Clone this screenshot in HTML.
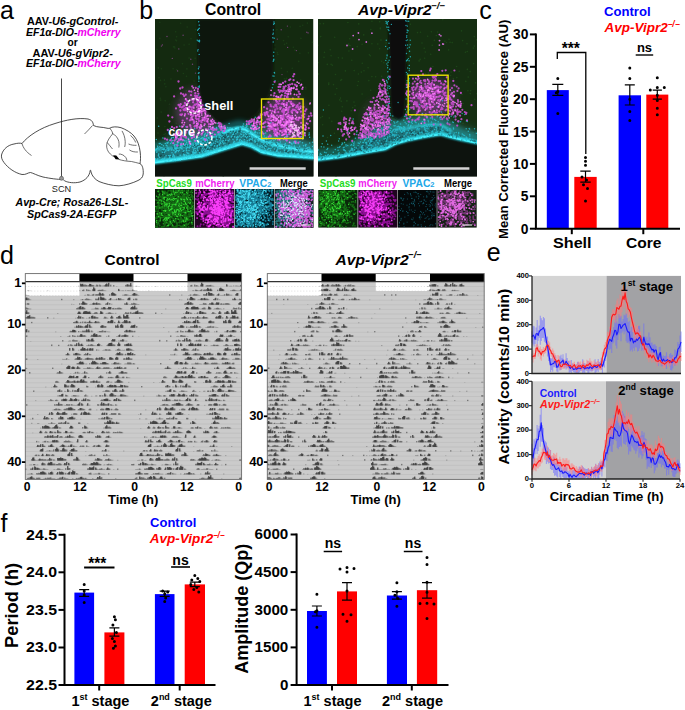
<!DOCTYPE html>
<html><head><meta charset="utf-8"><style>
html,body{margin:0;padding:0;background:#fff;width:685px;height:710px;overflow:hidden}
svg{display:block}
text{font-family:"Liberation Sans", sans-serif}
</style></head><body>
<svg width="685" height="710" viewBox="0 0 685 710">
<text x="0" y="19" font-size="25" font-weight="normal">a</text>
<text x="139.2" y="19" font-size="25" font-weight="normal">b</text>
<text x="479.3" y="19" font-size="25" font-weight="normal">c</text>
<text x="0" y="264.3" font-size="25" font-weight="normal">d</text>
<text x="486.7" y="260.5" font-size="25" font-weight="normal">e</text>
<text x="0.6" y="532" font-size="25" font-weight="normal">f</text>
<text x="26.9" y="24.8" font-size="10.4" font-weight="bold" textLength="91.4" lengthAdjust="spacingAndGlyphs"><tspan>AAV-</tspan><tspan font-style="italic">U6-gControl-</tspan></text>
<text x="26" y="36" font-size="10.4" font-weight="bold" textLength="94.6" lengthAdjust="spacingAndGlyphs"><tspan font-style="italic">EF1α-DIO-</tspan><tspan font-style="italic" fill="#f000f0">mCherry</tspan></text>
<text x="67.6" y="45.7" font-size="10.4" font-weight="bold" textLength="10.2" lengthAdjust="spacingAndGlyphs"><tspan>or</tspan></text>
<text x="32.5" y="56.6" font-size="10.4" font-weight="bold" textLength="80.3" lengthAdjust="spacingAndGlyphs"><tspan>AAV-</tspan><tspan font-style="italic">U6-gVipr2-</tspan></text>
<text x="26" y="67" font-size="10.4" font-weight="bold" textLength="94.6" lengthAdjust="spacingAndGlyphs"><tspan font-style="italic">EF1α-DIO-</tspan><tspan font-style="italic" fill="#f000f0">mCherry</tspan></text>
<text x="15.5" y="206.4" font-size="10.4" font-weight="bold" textLength="112.8" lengthAdjust="spacingAndGlyphs"><tspan font-style="italic">Avp-Cre; Rosa26-LSL-</tspan></text>
<text x="27" y="217.6" font-size="10.4" font-weight="bold" textLength="89.3" lengthAdjust="spacingAndGlyphs"><tspan font-style="italic">SpCas9-2A-EGFP</tspan></text>
<line x1="61.5" y1="78.5" x2="61.5" y2="178" stroke="#333" stroke-width="0.9"/>
<path d="M1.5,155 C3,149 8,145 14,144 C18,143 20,143 22,143.5 C28,136 40,128 55,123.5 C66,120 78,117.5 88,119 C92,120 93,122 93.5,125.5 C97,127.5 103,127 106,128 C107.5,128.5 109,128.5 109.8,128.2 C112,126.5 117,126.5 121,127.7 C126,129.5 131,132.5 134,136 C137.5,140 139.5,146 140.2,152 C140.8,157 140.5,161 140,163.6 C142.5,165 143.5,169 143.2,174 C142.8,177.5 141,179 138,180.5 C133,183 125,185.5 119,185.8 C112,185.8 104,183.5 99,181.5 C95,179.5 92,176 91,172 C90.8,170.5 90.5,169.5 90.2,170.5 C89.5,176 86,180 80,182 C74,183.5 68,182.5 65,181 C64,180.5 63.5,179.5 62.5,179.5 C58,179.5 50,178.5 43,177 C37,175.5 33,173 30.5,172.5 C28,172.5 26,175 22,174.5 C15,173 8,168 4,162.5 C2,160 1.2,157.5 1.5,155 Z" fill="none" stroke="#222" stroke-width="0.8"/>
<path d="M22,143.5 C23,147.5 26,152 31.5,155.5" fill="none" stroke="#333" stroke-width="0.7"/>
<path d="M92.5,125.5 C90,128.5 87,131.5 84.5,134" fill="none" stroke="#333" stroke-width="0.7"/>
<path d="M109.8,128.2 C112,131 113,133 112.5,134 C110,137 107,141 106.7,144.6 C106.3,148 107.5,151.5 110.4,154.1 C112,155.5 113,156.3 114.1,156.8" fill="none" stroke="#333" stroke-width="0.7"/>
<path d="M118.8,159.4 C122,160.5 127,161.3 131.5,161.5 C134.5,162 137,163 140,163.6" fill="none" stroke="#333" stroke-width="0.7"/>
<path d="M112.5,133.5 C115.5,135 118,138 118.8,141.4 C119.3,144 119,146 118.8,147.5" fill="none" stroke="#333" stroke-width="0.7"/>
<path d="M122,130.9 C123.5,133.5 125,137 125.2,141.4 C125.3,144 125,146 124.6,147" fill="none" stroke="#333" stroke-width="0.7"/>
<path d="M130.5,135.5 C132.5,137 134.5,139.5 135.7,142.5" fill="none" stroke="#333" stroke-width="0.7"/>
<path d="M129.4,149.9 C131.5,151.5 134.5,152.2 137.9,152" fill="none" stroke="#333" stroke-width="0.7"/>
<path d="M107.2,142.5 C108.5,144 110.5,146.5 112.5,149" fill="none" stroke="#333" stroke-width="0.7"/>
<path d="M118.8,154.1 C121,153.8 124,155 125.8,157.5 C126.5,158.6 126.8,159.6 126.8,160.5" fill="none" stroke="#333" stroke-width="0.7"/>
<path d="M128.5,144 C131,145 133.5,145.5 136.5,145.3" fill="none" stroke="#333" stroke-width="0.7"/>
<path d="M113,155.2 L116.3,155.6 L119.6,159.6 L115.6,159.3 Z" fill="#000"/>
<circle cx="61.5" cy="178.3" r="2" fill="#999" stroke="#555" stroke-width="0.6"/>
<text x="51.8" y="192" font-size="8.6" font-weight="normal" fill="#222" textLength="19.4" lengthAdjust="spacingAndGlyphs">SCN</text>
<text x="205" y="15" font-size="16" font-weight="bold" textLength="56.2" lengthAdjust="spacingAndGlyphs">Control</text>
<text x="358" y="14.8" font-size="15" font-weight="bold" font-style="italic" textLength="73.6" lengthAdjust="spacingAndGlyphs">Avp-Vipr2</text>
<text x="431.3" y="8.8" font-size="9.3" font-weight="bold" font-style="italic" textLength="13.7" lengthAdjust="spacingAndGlyphs">−/−</text>
<defs>
<filter id="bl1" x="-50%" y="-50%" width="200%" height="200%"><feGaussianBlur stdDeviation="1.2"/></filter>
<filter id="bl2" x="-50%" y="-50%" width="200%" height="200%"><feGaussianBlur stdDeviation="2.5"/></filter>
<filter id="bl4" x="-50%" y="-50%" width="200%" height="200%"><feGaussianBlur stdDeviation="5"/></filter>
<clipPath id="cpA"><rect x="155" y="19" width="158.5" height="157.6"/></clipPath>
<clipPath id="cpB"><rect x="318" y="19" width="159" height="157.6"/></clipPath>
</defs>
<g clip-path="url(#cpA)">
<rect x="155" y="19" width="158.5" height="157.6" fill="#142a10"/>
<path d="M254.1 160.4h0M277.9 54.5h0M202.6 156.7h0M155.8 148.4h0M281.3 92.7h0M203.0 62.9h0M195.4 89.1h0M235.0 106.2h0M312.8 143.9h0M253.6 174.9h0M189.1 44.2h0M252.1 25.9h0M160.7 100.1h0M228.9 163.5h0M254.7 100.0h0M233.8 58.0h0M156.9 49.3h0M264.7 50.6h0M213.6 19.6h0M286.6 43.3h0M197.4 157.7h0M235.8 152.5h0M256.4 135.9h0M169.5 104.3h0M235.5 156.3h0M212.3 113.3h0M164.4 80.1h0M206.2 42.7h0M284.4 78.8h0M310.1 112.0h0M250.9 119.5h0M262.2 42.8h0M224.8 56.8h0M218.8 34.2h0M308.4 52.9h0M261.5 66.3h0M293.5 123.4h0M175.9 152.2h0M304.8 161.5h0M245.3 41.9h0M185.5 165.2h0M242.5 47.5h0M295.1 120.1h0M245.3 78.3h0M220.1 56.7h0M161.0 157.1h0M229.1 105.3h0M206.1 137.4h0M159.0 77.7h0M159.8 38.4h0M308.3 122.7h0M222.9 101.5h0M293.3 73.2h0M248.6 126.7h0M211.3 100.8h0M276.3 162.3h0M178.9 166.1h0M155.8 137.7h0M283.5 40.6h0M221.4 147.5h0M157.3 118.0h0M280.7 99.8h0M270.0 54.7h0M186.5 76.2h0M183.4 73.5h0M305.3 109.4h0M208.9 61.8h0M305.9 89.0h0M310.4 100.2h0M237.6 160.3h0M272.7 110.5h0M222.6 157.4h0M220.2 164.4h0M165.9 86.8h0M237.3 168.9h0M194.8 146.0h0M262.2 132.0h0M254.8 172.1h0M207.7 81.8h0M187.2 27.0h0M188.7 163.3h0M288.2 36.7h0M250.7 94.5h0M249.3 122.9h0M203.6 170.5h0M228.8 118.0h0M255.7 48.0h0M164.8 83.9h0M276.1 147.5h0M270.7 36.8h0M299.8 145.4h0M294.1 101.5h0M300.1 26.4h0M159.8 22.2h0M195.1 58.2h0M184.7 108.4h0M161.2 112.0h0M181.3 125.8h0M158.3 67.9h0M303.7 103.9h0M283.6 122.7h0M251.8 49.1h0M246.0 25.3h0M282.1 170.3h0M290.4 27.0h0M208.7 69.1h0M172.9 117.8h0M281.4 68.4h0M291.8 144.6h0M175.5 139.9h0M294.9 50.1h0M245.9 119.7h0M251.6 34.2h0M259.8 118.6h0M285.6 145.6h0M206.9 132.8h0M292.5 159.7h0M180.6 23.2h0M258.2 52.8h0M244.3 167.9h0M215.1 58.8h0M227.4 122.6h0M171.0 79.0h0M176.2 123.4h0M286.6 78.4h0M213.9 104.0h0M189.1 58.0h0M207.3 91.1h0M167.9 137.6h0M246.8 66.2h0M167.3 139.3h0M175.8 40.0h0M175.7 31.8h0M298.7 61.4h0M203.6 150.2h0M253.3 48.5h0M223.9 158.3h0M214.5 131.0h0M170.3 133.6h0M278.1 149.1h0M261.9 77.4h0M165.2 100.8h0M275.1 49.1h0M197.2 103.5h0M273.6 160.3h0M174.9 48.0h0M281.7 120.6h0M269.3 176.1h0M303.9 151.9h0M278.2 81.3h0M256.6 48.1h0M275.4 138.4h0M269.3 89.1h0M214.9 85.2h0M160.3 152.1h0M241.0 80.1h0M241.9 132.7h0M215.5 149.9h0M300.7 80.1h0M176.8 138.8h0M312.4 42.3h0M268.0 149.1h0M300.9 38.4h0M169.6 174.7h0M173.5 46.9h0M246.1 89.3h0M273.9 49.0h0M299.9 53.2h0M276.9 29.7h0M230.0 24.1h0M204.7 68.2h0M269.1 90.7h0M164.0 175.9h0M295.9 163.4h0M194.1 81.1h0M191.0 38.7h0M160.2 98.3h0M174.5 46.8h0M291.4 95.3h0M184.1 124.6h0M197.1 102.0h0M199.8 100.3h0M254.6 103.5h0M217.7 143.6h0M293.4 47.3h0M176.6 36.8h0M310.3 167.4h0M191.6 171.9h0M187.9 98.8h0M233.8 163.2h0M161.4 68.7h0M250.1 29.5h0M192.5 92.3h0M294.6 138.9h0M286.4 138.9h0M267.2 152.9h0M263.0 134.9h0M202.8 45.4h0M274.9 45.1h0M300.7 113.0h0M207.2 166.6h0M179.6 100.1h0M169.5 171.2h0M246.2 145.7h0M199.7 145.4h0M266.4 120.4h0M305.7 87.3h0M220.8 128.1h0M287.4 71.8h0M261.1 51.9h0M242.4 140.2h0M165.4 133.7h0M157.4 170.0h0M229.3 83.5h0M269.2 101.5h0M270.8 32.4h0M244.2 107.0h0M302.7 25.2h0M226.8 118.5h0M242.3 30.7h0M249.0 54.0h0M186.0 157.5h0M186.4 90.6h0M273.9 130.5h0M242.7 146.2h0M228.8 116.8h0M284.8 125.9h0M256.7 83.0h0M243.5 81.4h0M273.0 79.0h0M229.0 138.1h0M234.8 72.3h0M286.1 79.0h0M288.9 142.8h0M225.9 131.4h0M160.5 80.4h0M291.4 110.3h0M243.4 123.8h0M262.4 111.0h0M221.7 47.9h0M201.4 65.2h0M223.3 176.5h0M210.9 89.5h0M213.9 110.6h0M305.2 159.1h0M214.8 61.1h0M295.2 96.8h0M263.7 30.6h0M292.3 68.3h0M233.4 50.2h0M221.6 149.5h0M286.2 93.7h0M276.7 91.2h0M214.2 105.0h0M186.9 68.9h0M267.0 140.4h0M164.0 134.5h0M284.6 89.2h0M164.9 126.6h0M194.0 120.4h0M214.7 119.4h0M195.9 94.1h0M238.2 118.4h0M187.2 170.6h0M200.8 67.2h0M195.6 29.6h0M222.0 140.6h0M267.5 49.8h0M176.7 69.7h0M276.8 95.9h0M301.3 122.4h0M253.4 140.0h0M273.9 73.2h0M195.7 88.0h0M232.5 41.3h0M225.0 119.8h0M176.5 40.8h0M182.5 63.7h0M307.4 23.1h0M184.1 45.0h0M230.2 21.4h0M227.6 44.7h0M197.7 143.9h0M184.2 116.3h0M219.4 84.8h0M284.5 44.4h0M301.4 159.8h0M260.9 26.8h0M260.1 113.6h0M277.4 52.7h0M306.1 158.7h0M173.1 68.7h0M160.1 150.0h0M300.0 175.0h0M252.0 124.0h0M262.5 108.9h0M306.0 114.8h0M208.2 99.8h0M158.0 133.1h0M265.0 85.4h0" stroke="#1e4619" stroke-width="1.6" stroke-linecap="round" stroke-opacity="0.7"/>
<g filter="url(#bl4)">
<path d="M160,150 C170,135 185,128 200,130 C215,128 228,122 237,125 C250,124 262,130 275,132 C290,136 305,140 315,142 L315,160 L160,166 Z" fill="#2f6a66" opacity="0.9"/>
<ellipse cx="196" cy="112" rx="20" ry="22" fill="#5a3a60" opacity="0.9"/>
<ellipse cx="285" cy="118" rx="22" ry="22" fill="#6a3a70" opacity="0.9"/>
</g>
<path d="M197.8,19.0 L198.3,70.0 L198.6,90.0 L201.1,100.5 L206.6,111.6 L215.0,120.0 L224.7,125.5 L234.4,128.3 L241.3,125.5 L248.3,120.0 L256.6,114.4 L263.5,104.7 L269.0,95.0 L271.8,84.0 L273.2,70.0 L274.0,19.0 Z" fill="#0b120b" filter="url(#bl1)"/>
<path d="M199.1 78.7h0M199.5 25.1h0M198.8 33.6h0M199.2 54.4h0M199.1 41.0h0M199.1 72.8h0M197.7 50.9h0M198.8 81.2h0M197.6 30.3h0M198.4 73.2h0M197.2 40.1h0M199.4 40.2h0M198.4 29.2h0M199.3 28.3h0M198.7 21.8h0M199.3 85.9h0M199.6 40.7h0M199.0 67.0h0M198.4 68.7h0M199.4 87.1h0M198.7 78.9h0M198.9 77.5h0M198.8 76.3h0M198.1 49.6h0M198.7 95.1h0M199.5 35.2h0M198.2 41.0h0M198.3 86.9h0M199.5 41.8h0M199.1 25.1h0M274.2 38.2h0M274.3 23.5h0M272.9 34.2h0M273.0 84.5h0M273.7 59.6h0M273.6 24.3h0M274.1 76.1h0M273.2 61.2h0M275.1 80.6h0M273.5 56.0h0M274.6 73.0h0M272.8 37.8h0M273.8 52.3h0M272.3 87.8h0M274.0 22.0h0M273.4 29.9h0M273.9 59.3h0M273.8 60.1h0M273.2 42.0h0M274.3 72.4h0M273.0 76.0h0M273.3 33.1h0" stroke="#22c8d8" stroke-width="1.4" stroke-linecap="round" stroke-opacity="0.85"/>
<path d="M150.0,164.0 L178.0,160.5 L202.0,157.0 L225.0,149.8 L242.0,144.6 L251.3,147.2 L261.8,153.1 L277.6,156.4 L297.3,157.7 L318.0,159.2 L318.0,180.0 L150.0,180.0 Z" fill="#0d130e"/>
<path d="M150.0,149.0 L180.0,146.0 L202.0,140.0 L215.0,135.0 L225.0,130.5 L238.0,126.5 L245.0,127.5 L258.0,136.0 L271.0,142.0 L291.0,146.5 L318.0,151.0 L318.0,159.2 L297.3,157.7 L277.6,156.4 L261.8,153.1 L251.3,147.2 L242.0,144.6 L225.0,149.8 L202.0,157.0 L178.0,160.5 L150.0,164.0 Z" fill="#1a8090" opacity="0.6" filter="url(#bl1)"/>
<path d="M150.0,149.0 L180.0,146.0 L202.0,140.0 L215.0,135.0 L225.0,130.5 L238.0,126.5 L245.0,127.5 L258.0,136.0 L271.0,142.0 L291.0,146.5 L318.0,151.0" fill="none" stroke="#1ab0c0" stroke-width="6" stroke-linejoin="round" opacity="0.5" filter="url(#bl2)" transform="translate(0,-3)"/>
<path d="M150.0,149.0 L180.0,146.0 L202.0,140.0 L215.0,135.0 L225.0,130.5 L238.0,126.5 L245.0,127.5 L258.0,136.0 L271.0,142.0 L291.0,146.5 L318.0,151.0" fill="none" stroke="#30e0f0" stroke-width="1.8" stroke-linejoin="round" opacity="0.8" filter="url(#bl1)" transform="translate(0,1.5)"/>
<path d="M222.0,133.5 L230.0,129.8 L238.0,128.0 L245.0,129.5 L258.0,138.0 L271.0,144.0 L291.0,148.5 L318.0,153.0" fill="none" stroke="#38ecfc" stroke-width="2.6" stroke-linejoin="round" filter="url(#bl1)"/>
<path d="M222.0,133.5 L230.0,129.8 L238.0,128.0 L245.0,129.5 L258.0,138.0 L271.0,144.0 L291.0,148.5 L318.0,153.0" fill="none" stroke="#50f4ff" stroke-width="1.2" stroke-linejoin="round"/>
<path d="M247.9 144.9h0M177.9 149.7h0M217.7 136.6h0M212.5 146.8h0M265.4 147.5h0M168.0 157.2h0M223.5 131.8h0M235.3 132.7h0M209.9 148.5h0M205.6 154.8h0M202.2 154.1h0M223.6 149.1h0M269.7 144.3h0M304.3 149.4h0M227.1 147.6h0M273.9 151.9h0M229.2 143.3h0M214.9 142.7h0M276.7 147.7h0M204.3 150.4h0M199.8 150.4h0M247.1 136.0h0M208.5 149.4h0M249.1 132.3h0M155.2 161.3h0M223.1 134.2h0M300.8 150.3h0M176.2 160.4h0M206.4 139.0h0M164.5 156.3h0M263.6 147.0h0M193.7 148.4h0M310.0 157.1h0M257.6 146.0h0M152.5 159.9h0M217.6 138.2h0M224.4 134.0h0M269.7 145.3h0M234.7 142.8h0M246.8 134.4h0M240.6 128.6h0M214.1 145.4h0M199.7 151.1h0M198.7 156.6h0M198.3 153.5h0M206.1 149.1h0M285.6 146.8h0M213.7 139.6h0M254.5 146.0h0M183.7 146.0h0M171.5 156.5h0M248.0 142.3h0M222.1 134.2h0M217.1 143.9h0M249.5 138.4h0M168.3 156.9h0M285.2 147.6h0M173.1 146.8h0M255.8 142.6h0M235.8 130.8h0M316.6 153.5h0M221.2 142.1h0M228.7 143.9h0M203.1 152.6h0M201.2 149.1h0M205.2 147.9h0M296.1 151.0h0M199.4 155.7h0M276.0 143.3h0M199.9 147.1h0M159.9 148.7h0M296.7 148.3h0M299.2 156.0h0M287.4 147.1h0M260.0 137.4h0M297.9 148.9h0M214.6 148.3h0M206.8 141.8h0M268.6 144.2h0M171.4 157.6h0M252.4 145.6h0M164.6 156.0h0M171.5 159.7h0M230.6 131.2h0M233.8 135.8h0M218.5 150.5h0M303.8 156.5h0M194.0 147.3h0M164.1 153.2h0M312.6 153.3h0M211.1 138.8h0M171.3 160.8h0M299.5 148.9h0M234.0 128.4h0M260.4 149.6h0M239.6 128.4h0M218.9 147.0h0M162.7 153.0h0M227.3 146.1h0M265.5 141.2h0M270.1 144.0h0M219.4 140.2h0M232.9 137.0h0M224.0 137.5h0M207.8 149.7h0M243.2 143.1h0M204.8 153.1h0M194.4 145.6h0M160.3 156.2h0M285.9 151.5h0M204.0 151.2h0M164.1 151.3h0M225.1 134.9h0M271.9 143.9h0M267.1 140.7h0M204.1 144.8h0M214.5 151.9h0M208.0 149.3h0M227.2 147.6h0M162.4 151.1h0M167.7 149.8h0M171.3 159.9h0M233.1 130.9h0M173.6 148.2h0M222.7 137.3h0M288.0 154.5h0M315.3 154.3h0M212.2 149.9h0M267.1 143.1h0M260.8 151.7h0M228.0 133.6h0M227.7 135.3h0M308.8 158.0h0M288.3 153.8h0M275.5 152.7h0M263.0 145.9h0M206.8 138.8h0M211.9 142.3h0M293.1 152.1h0M186.6 145.5h0M224.1 139.8h0M235.0 133.8h0M293.4 150.8h0M221.9 133.9h0M208.7 141.8h0M316.4 153.5h0M174.6 147.3h0M259.6 143.8h0M152.0 153.3h0M193.1 155.8h0M232.1 146.6h0M316.3 156.4h0M311.2 154.4h0M293.3 152.7h0M203.0 141.2h0M224.0 137.5h0M200.0 156.6h0M208.6 139.8h0M293.0 149.9h0M217.4 150.4h0M265.5 143.4h0M239.9 129.5h0M219.7 138.6h0M285.7 146.5h0M223.7 136.5h0M241.1 134.8h0M294.2 157.4h0M227.5 136.4h0M230.8 139.1h0M214.5 143.9h0M312.5 153.9h0M204.3 153.6h0M255.7 147.5h0M277.8 145.7h0M213.7 138.9h0M225.4 137.3h0M214.6 139.0h0M213.3 149.7h0M233.6 133.9h0M283.6 145.7h0M286.3 151.6h0M195.0 143.8h0M178.9 146.7h0M207.8 151.1h0M191.4 153.0h0M273.4 153.6h0M161.5 162.0h0M246.9 136.7h0M222.9 145.9h0M237.0 135.8h0M240.3 139.9h0M159.0 160.3h0M220.2 140.5h0M178.1 151.3h0M281.4 155.0h0M188.6 145.8h0M268.1 141.0h0M220.0 150.9h0M175.8 158.0h0M183.0 152.9h0M177.2 159.6h0M183.8 153.9h0M165.6 148.5h0M233.8 144.5h0M233.5 144.8h0M226.4 141.7h0M184.5 146.2h0M212.7 145.3h0M225.9 142.1h0M261.2 148.6h0M218.8 148.9h0M165.3 159.9h0M301.9 157.5h0M162.8 160.2h0M265.5 140.4h0M291.4 156.4h0M306.1 149.7h0M164.5 159.0h0M245.2 138.1h0M199.6 157.3h0M166.1 161.3h0M214.5 135.5h0M210.5 152.5h0M232.4 137.0h0M207.4 148.2h0M196.8 146.1h0M300.2 154.1h0M205.9 143.9h0M285.3 155.8h0M257.5 138.9h0M240.2 130.7h0M156.3 161.9h0M239.3 131.2h0M240.4 128.4h0M288.2 152.5h0M209.6 141.9h0M168.2 155.2h0M221.7 147.8h0M276.6 144.1h0M250.2 142.4h0M194.9 146.0h0M191.2 155.0h0M287.0 150.1h0M304.0 150.6h0M251.2 141.1h0M302.0 157.5h0M161.1 155.4h0M199.8 144.0h0M198.9 144.8h0M200.9 147.3h0M275.3 150.3h0M177.9 155.2h0M201.3 148.5h0M233.5 132.0h0M276.7 154.3h0M211.7 143.2h0M298.8 150.3h0M250.6 145.5h0M187.0 158.5h0M188.9 145.0h0" stroke="#0a2a30" stroke-width="1.6" stroke-linecap="round" stroke-opacity="0.55"/>
<path d="M150.0,164.0 L178.0,160.5 L202.0,157.0 L225.0,149.8 L242.0,144.6 L251.3,147.2 L261.8,153.1 L277.6,156.4 L297.3,157.7 L318.0,159.2" fill="none" stroke="#30e8f8" stroke-width="4" stroke-linejoin="round" filter="url(#bl1)" transform="translate(0,-1.5)"/>
<path d="M150.0,164.0 L178.0,160.5 L202.0,157.0 L225.0,149.8 L242.0,144.6 L251.3,147.2 L261.8,153.1 L277.6,156.4 L297.3,157.7 L318.0,159.2" fill="none" stroke="#48f4ff" stroke-width="1.6" stroke-linejoin="round" transform="translate(0,-0.9)"/>
<path d="M169.7 140.2h0M279.5 153.3h0M255.9 147.5h0M281.8 145.6h0M215.8 141.3h0M180.1 137.8h0M176.2 144.7h0M313.5 149.0h0M204.8 134.4h0M188.4 141.1h0M188.2 138.6h0M206.4 148.7h0M262.0 120.0h0M204.8 155.1h0M222.9 131.8h0M173.3 154.2h0M257.7 139.0h0M168.8 149.8h0M251.4 146.2h0M173.4 160.3h0M197.9 142.9h0M173.2 154.7h0M258.7 140.3h0M273.0 144.4h0M213.9 149.2h0M188.0 147.3h0M247.3 140.8h0M161.5 159.7h0M270.4 138.3h0M200.9 142.1h0M172.0 152.7h0M289.3 133.9h0M278.8 146.3h0M175.1 160.8h0M208.3 154.9h0M235.1 143.4h0M246.9 132.0h0M239.4 143.8h0M207.5 153.6h0M234.0 141.2h0M229.7 145.1h0M260.2 150.4h0M159.0 156.8h0M225.6 128.7h0M236.0 143.7h0M265.7 132.9h0M196.3 152.1h0M297.4 154.2h0M259.8 133.1h0M287.2 154.7h0M246.4 127.2h0M307.7 147.7h0M210.0 153.7h0M274.7 143.5h0M212.7 137.6h0M170.3 128.5h0M266.7 137.5h0M288.6 145.8h0M298.3 153.5h0M246.2 134.2h0M199.5 152.7h0M193.5 149.8h0M170.7 143.6h0M299.1 157.2h0M290.2 153.8h0M231.5 130.4h0M190.8 136.3h0M194.4 148.5h0M156.3 149.3h0M249.6 144.1h0M261.2 151.5h0M233.2 145.4h0M305.0 151.1h0M297.3 155.2h0M311.2 156.7h0M185.2 158.4h0M276.5 151.5h0M215.9 151.4h0M168.1 142.2h0M291.1 143.2h0M266.8 143.4h0M158.7 126.2h0M168.3 160.9h0M252.3 138.6h0M156.5 161.1h0M279.1 148.8h0M192.3 137.3h0M263.4 142.3h0M208.5 137.7h0M164.9 157.0h0M201.3 145.9h0M171.5 142.0h0M272.6 153.2h0M207.2 142.0h0M192.5 147.6h0M254.6 148.7h0M220.9 143.0h0M276.0 130.4h0M302.4 152.9h0M239.5 139.9h0M287.8 151.3h0M161.9 147.6h0M216.8 136.8h0M183.9 150.5h0M202.0 138.0h0M202.0 144.0h0M291.8 148.5h0M273.9 140.7h0M185.9 126.7h0M211.3 154.0h0M303.4 156.4h0M202.0 151.3h0M265.7 141.8h0M220.3 140.1h0M280.3 142.1h0M290.4 148.5h0M213.4 153.3h0M245.1 136.7h0M197.4 147.8h0M262.8 146.7h0M230.0 127.7h0M239.0 142.8h0M180.6 145.4h0M159.8 146.8h0M218.2 131.8h0M283.2 155.7h0M194.9 152.4h0M301.6 149.7h0M211.5 154.0h0M232.9 130.4h0M217.6 151.9h0M255.8 132.5h0M284.1 155.4h0M195.7 143.6h0M305.4 145.1h0M291.7 153.8h0M284.9 144.6h0M298.9 149.1h0M225.6 140.2h0M189.3 147.9h0M196.7 156.3h0M312.4 154.4h0M275.3 133.8h0M172.9 160.6h0M255.0 140.1h0M267.1 126.6h0M186.1 141.0h0M287.6 134.7h0M194.2 134.9h0M248.2 122.5h0M294.5 147.3h0M309.0 150.5h0M191.4 157.5h0M197.1 148.8h0M189.9 134.1h0M313.5 138.9h0M244.0 142.9h0M236.6 139.9h0M244.6 132.6h0M261.9 133.5h0M306.6 154.5h0M306.0 144.5h0M228.8 140.8h0M220.4 138.3h0M192.2 137.1h0M237.4 139.6h0M252.6 133.2h0M257.2 143.9h0M158.1 147.7h0M207.6 135.1h0M226.1 130.7h0M230.4 146.7h0M160.2 143.5h0M207.2 146.0h0M295.2 150.2h0M179.1 139.7h0M247.8 128.5h0M308.8 149.7h0M299.8 150.6h0M202.9 153.1h0M267.1 141.6h0M172.7 140.4h0M262.0 145.4h0M242.9 142.9h0M272.9 146.2h0M168.0 147.9h0M272.9 138.9h0M287.6 136.6h0M260.0 146.7h0M259.5 145.9h0M265.1 151.9h0M260.6 145.9h0M169.4 156.0h0M251.3 125.2h0M303.9 158.0h0M220.4 126.4h0M199.1 146.9h0M223.6 143.7h0M180.7 143.8h0M203.3 156.2h0M194.2 140.0h0M255.1 142.6h0M208.1 132.9h0M263.2 139.0h0M206.2 151.1h0M217.8 123.4h0M275.4 139.5h0M201.2 138.6h0M292.2 154.8h0M231.8 128.6h0M164.1 148.9h0M252.0 139.5h0M254.0 134.8h0M220.1 143.5h0M225.2 146.0h0M218.1 148.9h0M255.4 131.3h0M254.1 137.1h0M309.6 137.2h0M178.3 160.2h0M237.5 132.6h0M277.2 151.1h0M267.8 149.4h0M247.5 136.7h0M302.5 142.7h0M310.7 154.4h0M171.7 149.9h0M187.4 156.8h0M166.2 161.6h0M222.5 149.2h0M191.6 155.1h0M205.7 139.6h0M163.0 149.4h0M189.6 147.5h0M252.1 137.7h0M186.7 142.8h0M194.5 146.7h0M254.0 134.6h0M233.6 142.8h0M243.9 134.7h0M265.5 150.2h0M164.1 158.6h0M300.6 150.3h0M166.9 143.0h0M313.3 154.9h0M277.0 136.6h0M168.9 160.1h0M234.6 131.7h0M298.4 156.2h0M212.3 133.5h0M277.4 143.9h0M243.4 126.2h0M286.2 153.6h0M237.7 128.3h0M264.2 135.9h0M230.8 144.7h0M214.4 145.5h0M268.7 142.3h0M234.1 143.9h0M284.5 150.8h0M297.0 157.1h0M156.3 139.4h0M174.3 146.1h0M300.5 149.8h0M213.7 143.0h0M270.1 142.0h0M269.3 148.5h0M301.6 136.6h0M166.3 145.3h0M249.9 138.7h0M216.7 139.5h0M203.4 146.8h0M174.1 155.8h0M236.8 139.8h0M222.4 131.6h0M198.9 140.0h0M233.6 134.2h0M208.8 131.9h0M249.6 145.5h0M242.9 126.0h0M264.9 123.0h0M288.1 156.1h0M298.6 154.3h0M211.1 136.8h0M270.5 150.3h0M255.5 141.6h0M296.8 150.9h0M265.0 145.6h0M203.8 150.3h0M197.2 149.0h0M198.8 137.7h0M171.3 138.4h0M311.8 153.1h0M235.9 133.7h0M294.4 146.1h0M213.6 149.0h0M251.9 137.0h0M193.7 129.9h0M187.4 158.3h0M193.3 145.2h0M296.0 141.3h0M206.1 154.4h0M285.6 140.0h0M187.8 145.1h0M176.9 138.5h0M235.0 130.7h0M163.8 159.4h0M309.7 142.9h0M258.1 121.6h0M219.1 126.6h0M292.0 144.7h0M264.0 153.5h0M300.1 149.9h0M181.5 145.3h0M259.3 136.8h0M161.8 144.4h0M277.2 142.5h0M286.0 128.1h0M221.8 149.5h0M253.4 146.6h0M244.3 128.5h0M156.8 152.3h0M212.2 143.9h0M227.8 136.6h0M262.0 147.2h0M155.2 160.5h0M183.7 153.9h0M156.9 151.9h0M222.8 142.2h0M225.0 143.1h0M183.3 139.9h0M230.3 129.9h0M183.4 159.3h0M291.8 156.2h0M229.1 123.6h0M187.0 147.8h0M202.9 143.4h0M200.7 144.9h0M259.0 128.3h0M216.6 139.5h0M202.0 146.1h0M251.6 136.3h0M232.9 144.3h0M170.4 155.4h0M242.9 136.3h0M221.9 136.2h0M232.2 146.8h0M270.9 122.7h0M204.4 145.0h0M212.5 140.2h0M272.8 146.5h0M208.1 146.2h0M277.6 147.5h0M275.3 153.0h0M211.0 144.1h0M246.4 143.5h0M184.0 155.3h0M271.1 136.7h0M213.7 128.5h0M234.7 136.9h0M215.0 134.4h0M308.9 155.3h0M255.2 117.2h0M280.2 145.6h0M296.1 142.1h0M237.2 136.2h0M155.1 160.9h0M238.3 136.9h0M198.1 141.3h0M240.7 134.0h0M309.2 156.0h0M174.7 144.8h0M169.6 159.4h0M257.6 126.2h0M273.9 144.1h0M277.2 149.2h0M266.1 146.8h0M254.2 146.4h0M277.0 150.6h0M299.5 157.5h0M214.8 128.5h0M297.4 155.9h0M243.5 123.9h0M243.6 135.6h0M194.7 128.6h0M278.5 143.5h0M250.0 143.1h0M250.9 131.7h0M277.6 154.4h0M240.8 134.2h0M198.2 143.2h0M186.7 150.5h0M169.4 158.3h0M157.8 158.8h0M309.2 134.7h0M289.9 142.2h0M186.4 150.8h0M309.1 147.3h0M193.0 153.3h0M189.2 142.3h0M291.9 143.6h0M159.2 149.0h0M249.3 140.5h0M198.2 146.5h0M174.9 147.2h0M239.8 135.9h0M194.7 157.0h0M207.8 151.6h0M270.5 153.0h0M206.4 138.6h0M221.9 141.2h0M211.3 143.7h0M287.0 134.5h0M189.8 146.0h0M286.8 137.8h0M197.3 141.5h0M181.9 146.1h0M280.4 152.1h0M204.7 136.5h0M304.0 152.6h0M260.0 144.1h0M264.4 140.7h0M265.8 153.1h0M266.5 153.3h0M217.1 146.8h0M204.2 149.1h0M202.8 137.7h0M241.2 137.3h0M186.3 148.6h0M228.6 136.3h0M308.8 153.5h0M312.5 142.2h0M243.9 142.4h0M284.3 149.9h0M216.5 127.5h0M247.0 142.4h0M280.1 148.5h0M232.4 145.1h0M313.9 144.3h0M175.8 149.0h0M207.6 150.7h0M195.9 138.5h0M261.1 141.8h0M209.4 130.0h0M254.7 132.6h0M220.3 142.3h0M294.6 141.5h0M173.6 160.8h0M209.7 147.9h0M237.3 131.1h0M227.5 137.0h0M223.5 126.7h0M207.7 140.0h0M230.8 132.8h0M268.3 148.3h0M221.1 128.2h0M187.3 153.3h0M278.2 153.8h0M157.2 160.6h0M220.2 143.6h0M285.3 143.4h0M194.3 153.3h0M263.5 144.0h0M299.4 155.8h0M164.5 152.8h0M246.5 137.7h0M233.6 145.8h0M211.9 145.2h0M189.0 156.9h0M201.4 144.3h0M211.5 143.6h0M230.2 147.5h0M242.5 141.8h0M179.8 126.3h0M231.4 136.9h0M223.3 137.8h0M229.7 144.7h0M235.1 143.3h0M204.4 136.1h0M209.7 147.7h0M279.8 143.9h0M212.3 127.5h0M258.2 140.9h0M286.4 136.5h0M193.6 151.1h0M251.6 144.3h0M241.6 134.4h0M178.3 151.6h0M173.9 150.6h0M198.6 144.2h0M241.5 127.9h0M248.0 145.2h0M240.8 126.7h0M249.3 139.3h0M196.3 139.9h0M229.3 146.8h0M254.2 135.1h0M236.6 137.7h0M237.2 138.0h0M245.6 127.9h0M176.9 148.0h0M244.3 139.8h0M243.1 132.2h0M219.1 137.1h0M155.6 159.7h0M223.2 140.6h0M211.8 151.6h0M208.2 150.4h0M266.2 137.5h0M186.3 148.9h0M171.9 137.6h0M187.6 157.7h0M210.9 151.0h0M249.6 136.6h0M199.0 143.3h0M188.9 157.5h0M200.0 146.3h0M194.5 140.8h0M209.7 126.7h0M239.6 142.8h0M232.6 134.8h0M178.5 142.6h0M193.2 147.9h0M310.3 150.1h0M277.7 149.1h0M225.4 131.5h0M251.7 129.8h0M242.5 142.7h0M234.5 141.7h0M188.9 155.2h0M173.1 143.5h0M303.5 145.8h0M245.9 144.9h0M192.4 134.8h0M226.2 130.4h0M235.9 129.7h0M285.3 136.7h0M162.6 152.6h0M188.7 153.2h0M250.6 139.2h0M197.5 144.1h0M214.6 150.1h0M294.2 150.1h0M157.1 160.1h0M257.8 145.8h0M234.6 145.4h0M163.4 145.8h0M159.6 157.4h0M176.8 150.3h0M201.8 150.0h0M174.7 147.9h0M280.6 148.8h0M219.3 148.1h0M254.3 141.1h0M260.7 151.6h0M197.8 150.5h0M264.6 148.6h0M196.3 144.9h0M183.7 154.8h0M290.8 131.2h0M231.4 136.2h0M213.9 136.4h0M165.0 161.3h0M203.3 139.7h0M265.0 137.9h0M245.5 136.5h0M172.7 156.3h0M190.7 144.2h0M187.0 152.5h0M166.1 155.8h0M177.5 144.1h0M241.4 131.7h0M190.7 141.4h0M216.6 148.7h0M305.7 145.9h0M298.0 135.0h0M286.6 131.9h0M271.4 145.6h0M233.4 133.0h0M299.4 137.3h0M294.1 143.4h0M162.4 158.9h0M234.2 128.2h0M155.6 158.7h0M224.5 133.1h0M175.7 148.5h0M250.7 127.3h0M234.5 136.6h0M181.3 143.3h0M192.4 151.9h0M174.5 145.5h0M194.4 122.5h0M214.4 146.1h0M266.4 139.3h0M226.8 132.3h0M262.1 140.8h0M287.9 148.0h0M184.3 145.3h0M227.6 147.4h0M291.4 152.3h0M262.1 142.3h0M288.4 155.7h0M176.2 151.7h0M191.4 155.1h0M174.5 157.1h0M167.6 150.1h0M205.7 149.9h0M246.6 134.4h0M196.1 145.7h0M168.5 155.6h0M312.0 150.9h0M279.9 135.1h0M299.7 146.3h0M195.2 148.5h0M175.3 151.8h0M176.6 159.9h0M220.0 147.4h0M167.1 145.9h0M223.3 132.8h0M179.3 150.2h0M259.2 130.3h0M206.4 155.6h0M257.8 139.4h0M185.5 144.3h0M162.2 151.9h0M239.6 143.0h0M220.1 137.7h0M302.4 151.2h0M208.4 150.5h0M167.7 143.2h0M306.4 148.2h0M204.3 138.6h0M200.8 138.8h0M205.3 133.3h0M247.8 145.6h0M245.7 133.5h0M190.4 146.6h0M241.5 144.6h0M167.9 142.6h0M265.0 150.8h0M307.4 153.9h0M176.6 138.2h0M203.6 138.5h0M206.7 139.9h0M201.8 157.0h0M162.9 138.1h0M237.4 127.9h0M251.8 143.8h0M184.9 154.7h0M289.6 145.5h0M308.9 134.9h0M194.6 156.9h0M227.9 131.2h0M178.0 150.5h0M257.7 133.1h0M294.4 153.2h0M204.9 151.6h0M191.2 155.9h0M288.4 150.7h0M201.4 145.2h0M157.0 148.8h0M264.0 147.2h0M211.1 136.6h0M233.0 139.4h0M302.7 152.4h0M276.3 150.9h0M247.2 126.1h0M218.3 134.1h0M217.3 145.5h0M231.9 136.4h0M308.4 157.4h0M205.0 141.0h0M263.7 133.2h0M301.7 150.8h0M273.6 152.0h0M201.7 131.3h0M173.4 137.4h0M284.9 152.7h0M198.9 141.5h0M254.9 131.0h0M158.7 154.1h0M182.1 149.1h0M219.4 144.9h0M175.0 160.4h0M197.8 155.8h0M272.2 153.6h0M202.2 148.3h0M160.4 148.0h0M195.4 150.8h0M305.3 135.8h0M219.4 144.4h0M184.4 156.0h0M222.9 130.6h0M312.6 146.4h0M286.7 155.7h0M208.4 152.6h0M285.4 145.7h0M238.6 128.4h0M165.8 151.0h0M164.5 151.9h0M193.1 154.5h0M219.0 134.1h0M206.1 143.3h0M210.6 145.3h0M159.3 143.5h0M311.5 158.3h0M242.3 143.0h0M186.6 155.2h0M182.8 139.8h0M202.6 151.7h0M270.5 141.7h0M217.8 142.1h0M183.2 151.3h0M225.0 127.8h0M252.9 127.0h0M300.8 151.2h0M272.6 154.2h0M190.5 135.2h0M251.0 133.5h0M207.2 140.2h0M270.9 148.6h0M198.9 139.8h0M310.0 148.4h0M157.6 148.0h0M277.0 154.2h0M207.8 141.9h0M227.8 127.5h0M252.1 145.9h0M278.2 152.3h0M211.5 142.9h0M299.4 149.7h0M182.4 158.0h0M288.0 134.8h0M221.5 126.9h0M192.3 156.1h0M291.5 147.0h0M231.3 145.4h0M226.3 148.5h0M243.2 132.8h0M270.0 142.9h0M250.4 122.4h0M300.0 141.7h0M265.4 146.3h0M304.7 155.9h0M277.5 136.4h0M158.4 155.3h0M204.9 155.7h0M189.7 141.1h0M271.2 140.6h0M211.2 129.5h0M209.2 148.1h0M157.7 146.3h0M176.0 151.5h0M277.1 147.2h0M219.9 144.0h0M227.0 131.0h0M181.6 145.7h0M241.5 140.8h0M180.3 147.4h0M217.0 150.7h0M164.6 158.8h0M193.7 152.4h0M262.4 141.7h0M230.8 145.0h0M203.9 131.6h0M184.4 140.8h0M269.5 145.1h0M252.4 140.0h0M224.1 133.9h0M287.9 154.2h0M203.5 143.4h0M207.3 134.2h0M257.6 137.3h0M245.1 144.8h0M246.1 125.7h0M176.2 151.5h0M274.5 148.9h0M168.5 150.4h0M301.6 154.2h0M286.5 153.2h0M228.2 140.6h0M242.4 126.7h0M298.2 143.8h0M219.8 140.8h0M239.7 140.9h0M244.7 142.0h0M294.3 142.7h0M282.3 148.5h0M208.9 142.4h0M175.1 152.7h0M165.3 143.6h0M308.0 151.8h0M264.9 142.9h0M309.2 133.1h0M293.5 142.0h0M176.7 158.9h0M240.3 139.4h0M181.5 148.2h0M216.7 128.4h0M201.5 126.9h0M226.7 135.1h0M180.4 160.1h0M220.1 135.6h0M200.9 155.2h0M195.6 153.1h0M207.6 147.8h0M189.0 150.5h0M180.2 155.2h0M250.0 133.4h0M229.8 139.2h0M215.2 143.3h0M238.1 143.0h0M272.4 147.1h0M289.9 150.1h0M200.9 154.9h0M155.9 149.9h0M169.7 157.4h0M218.7 126.6h0M208.4 151.0h0M307.9 151.2h0M267.2 144.0h0M193.8 157.0h0M238.9 129.3h0M193.0 157.4h0" stroke="#30d0e4" stroke-width="1.5" stroke-linecap="round" stroke-opacity="0.8"/>
<path d="M290.3 79.3h0M198.3 115.2h0M289.1 119.8h0M274.7 125.0h0M198.0 88.9h0M196.8 119.1h0M262.1 132.1h0M195.3 93.2h0M176.8 127.1h0M295.0 141.6h0M274.9 131.7h0M189.2 91.3h0M284.2 104.0h0M212.5 123.5h0M283.2 125.4h0M300.9 111.7h0M199.5 126.8h0M178.8 140.4h0M289.2 126.7h0M268.5 128.7h0M176.0 137.0h0M185.7 110.1h0M185.7 94.7h0M201.6 134.6h0M180.2 88.5h0M263.9 123.0h0M280.1 122.0h0M298.5 107.3h0M185.7 132.8h0M197.1 111.4h0M278.6 86.9h0M282.0 124.9h0M181.0 93.5h0M256.7 121.4h0M218.9 132.1h0M305.5 129.0h0M249.0 124.0h0M284.2 122.2h0M282.0 126.9h0M286.3 138.9h0M198.4 93.6h0M213.0 127.4h0M275.4 130.5h0M199.3 132.9h0M188.2 107.8h0M202.0 120.3h0M219.3 125.5h0M290.4 94.1h0M286.2 123.2h0M279.7 115.8h0M205.2 112.4h0M292.7 110.4h0M294.0 136.5h0M194.6 126.6h0M298.4 109.2h0M195.2 125.8h0M193.4 99.3h0M291.7 129.7h0M288.2 112.2h0M198.3 106.0h0M293.6 80.2h0M184.6 109.3h0M176.1 138.9h0M285.7 86.2h0M268.4 123.1h0M196.7 125.4h0M297.5 112.2h0M254.7 126.0h0M285.7 130.9h0M184.2 96.1h0M189.3 106.9h0M180.2 135.6h0M184.1 136.6h0M251.7 119.5h0M202.5 105.2h0M273.2 125.7h0M306.3 109.3h0M224.4 130.8h0M196.1 104.3h0M265.2 115.3h0M274.1 130.9h0M190.9 115.2h0M283.6 111.2h0M280.8 96.1h0M289.4 130.0h0M191.1 118.1h0M289.6 115.9h0M219.2 126.1h0M292.6 103.6h0M285.1 126.5h0M192.2 86.3h0M287.9 94.6h0M284.9 127.2h0M293.9 87.7h0M180.7 104.2h0M181.3 135.2h0M293.2 118.7h0M273.6 120.0h0M291.0 90.6h0M281.0 122.1h0M283.5 88.8h0M285.3 81.6h0M249.9 121.5h0M205.3 116.1h0M305.2 111.1h0M296.7 94.8h0M283.2 118.7h0M291.5 119.7h0M221.3 124.3h0M307.6 123.8h0M267.8 122.4h0M185.9 107.8h0M208.8 126.6h0M169.4 121.5h0M259.5 122.2h0M256.9 118.6h0M277.5 133.8h0M283.8 109.7h0M281.4 127.1h0M191.9 111.2h0M181.7 133.5h0M274.6 81.8h0M211.0 128.7h0M299.2 134.1h0M221.6 127.5h0M193.8 123.2h0M269.1 119.4h0M282.0 117.9h0M202.9 132.0h0M178.6 104.9h0M271.7 115.0h0M273.8 128.9h0M195.0 95.6h0M189.8 143.1h0M255.3 127.2h0M294.9 84.6h0M281.0 107.7h0M197.2 115.5h0M253.8 122.6h0M205.5 140.0h0M283.2 131.2h0M282.2 111.6h0M296.7 128.5h0M285.7 119.8h0M256.0 129.1h0M267.3 119.3h0M175.3 134.8h0M200.1 97.2h0M298.9 118.5h0M211.5 129.2h0M291.6 111.3h0M264.1 107.2h0M286.2 122.9h0M279.6 92.1h0M260.5 117.3h0M202.5 117.8h0M284.1 130.8h0M207.7 122.1h0M267.2 130.9h0M300.4 137.1h0M310.8 113.3h0M256.8 124.7h0M286.9 103.0h0M212.2 122.3h0M198.2 111.5h0M272.3 111.0h0M289.3 129.5h0M270.6 115.3h0M283.8 112.5h0M222.9 128.1h0M305.0 129.5h0M288.9 88.8h0M272.3 124.4h0M304.4 114.1h0M287.6 118.1h0M286.5 116.8h0M289.6 106.9h0M278.2 97.1h0M294.4 124.4h0M281.5 103.9h0M176.7 137.6h0M276.8 119.0h0M259.9 124.4h0M287.0 129.8h0M268.7 136.8h0M195.8 116.1h0M271.7 125.7h0M283.9 104.7h0M192.7 134.9h0M288.3 85.1h0M187.0 118.6h0M186.1 130.6h0M178.5 133.7h0M181.8 107.4h0M275.2 118.7h0M269.0 119.1h0M298.5 129.3h0M287.7 97.1h0M181.3 138.1h0M284.9 109.8h0M289.2 88.8h0M298.7 91.7h0M207.7 132.4h0M274.9 135.5h0M172.3 117.3h0M280.5 122.8h0M286.8 140.5h0M254.0 121.0h0M280.4 97.6h0M199.7 111.4h0M297.0 129.1h0M291.7 111.9h0M290.7 129.7h0M198.0 105.2h0M181.8 126.7h0M193.4 115.2h0M195.9 118.2h0M193.1 102.3h0M203.9 108.8h0M175.9 138.2h0M275.4 112.4h0M199.3 127.1h0M294.9 130.0h0M184.1 105.8h0M288.0 89.6h0M293.2 76.3h0M168.2 115.6h0M220.4 123.5h0M270.6 106.1h0M213.2 130.2h0M205.9 129.1h0M184.8 108.9h0M267.3 114.0h0M269.6 120.1h0M294.2 74.2h0M280.1 107.6h0M175.4 135.4h0M252.4 125.6h0M300.0 94.1h0M200.7 128.4h0M292.5 117.2h0M167.8 130.0h0M182.0 126.8h0M287.2 93.7h0M204.8 124.2h0M218.0 132.3h0M285.9 91.0h0M193.9 135.9h0M305.9 127.2h0M296.9 85.6h0M205.0 139.5h0M276.8 135.3h0M287.1 96.4h0M178.8 139.1h0M199.6 105.9h0M281.4 120.5h0M290.8 90.4h0M276.3 106.4h0M180.4 114.7h0M279.0 121.6h0M271.4 120.6h0M273.8 106.9h0M287.0 136.2h0M250.9 122.0h0M281.8 116.0h0M198.3 100.2h0M293.2 126.4h0M288.4 109.7h0M297.0 89.4h0M300.6 133.2h0M286.0 131.0h0M288.6 124.1h0M271.3 106.3h0M308.8 128.2h0M291.0 101.7h0M264.7 114.7h0M207.0 121.2h0M304.1 117.1h0M273.8 124.2h0M297.7 105.1h0M176.0 108.4h0M274.4 133.5h0M182.7 140.2h0M284.6 90.6h0M201.6 108.6h0M198.6 119.0h0M204.9 119.2h0M288.3 124.4h0M268.5 102.3h0M180.3 139.6h0M188.1 102.9h0M193.7 133.0h0M289.0 132.7h0M284.9 104.7h0M283.5 116.7h0M178.7 140.7h0M193.1 120.0h0M181.4 115.1h0M267.0 108.7h0M183.0 106.7h0M187.1 127.0h0M191.3 91.6h0M304.8 135.2h0M174.1 96.4h0M283.9 131.4h0M293.0 109.6h0M272.3 126.9h0M197.5 109.7h0M221.2 129.9h0M276.6 101.8h0M178.5 81.5h0M201.2 126.4h0M182.7 120.6h0M292.6 106.1h0M288.7 121.8h0M291.4 138.0h0M249.1 121.5h0M267.1 108.8h0M289.5 126.4h0M296.3 85.6h0M283.6 118.4h0M199.3 100.2h0M199.0 121.0h0M277.0 135.8h0M290.9 121.1h0M307.5 119.2h0M189.1 109.3h0M288.2 116.9h0M258.1 117.7h0M193.4 100.2h0M185.1 114.2h0M198.9 108.4h0M254.4 122.6h0M192.9 111.7h0M194.2 137.0h0M211.4 135.8h0M286.2 134.3h0M280.3 86.8h0M275.9 134.4h0M273.8 95.6h0M281.0 131.1h0M272.3 124.1h0M295.8 110.7h0M282.4 110.6h0M212.2 124.3h0M261.5 123.9h0M298.3 142.7h0M264.5 127.0h0M281.5 117.0h0M288.6 114.9h0M270.4 128.7h0M275.2 110.0h0M292.9 98.6h0M275.2 105.1h0M278.8 103.6h0M301.1 122.9h0M197.0 100.5h0M191.7 109.8h0M204.7 120.7h0M283.8 114.2h0M263.5 133.8h0M278.0 139.6h0M198.9 109.8h0M291.9 121.9h0M185.8 99.4h0M208.0 115.7h0M291.5 126.6h0M300.6 106.5h0M301.0 117.9h0M302.3 88.9h0M260.9 114.5h0M190.5 126.1h0M286.8 108.3h0M210.7 136.0h0M291.6 118.8h0M183.1 94.3h0M178.7 132.0h0M278.8 122.2h0M194.7 104.7h0M186.1 104.7h0M292.9 117.8h0M274.0 99.4h0M220.2 127.8h0M218.8 123.0h0M219.9 123.6h0M289.7 119.4h0M191.0 95.2h0M212.6 128.9h0M211.6 122.0h0M179.8 106.8h0M256.6 122.5h0M277.4 108.6h0M210.9 120.7h0M199.2 130.4h0M223.8 131.1h0M182.2 135.7h0M296.2 111.5h0M280.4 123.1h0M288.1 110.2h0M275.5 130.1h0M286.3 130.3h0M284.3 134.1h0M299.0 131.4h0M199.7 101.4h0M289.0 87.0h0M213.8 121.1h0M193.2 115.7h0M290.6 118.3h0M272.8 123.0h0M272.0 129.0h0M262.6 127.1h0M181.1 136.6h0M182.5 87.5h0M284.8 95.8h0M207.7 119.7h0M203.5 119.0h0M298.8 136.3h0M285.2 93.2h0M184.3 105.6h0M289.0 118.8h0M281.5 116.9h0M199.6 100.1h0M185.4 108.5h0M285.4 131.8h0M195.3 140.8h0M179.8 105.6h0M272.4 123.3h0M276.8 96.7h0M289.2 80.1h0M187.1 100.9h0M254.9 123.1h0M289.6 134.2h0M182.1 114.3h0M298.3 120.1h0M275.7 125.7h0M209.0 124.2h0M275.3 109.6h0M272.2 127.5h0M198.0 123.3h0M296.6 130.1h0M206.5 118.3h0M296.2 107.4h0M290.7 102.8h0M293.2 104.7h0M287.0 97.5h0M195.7 87.8h0M201.5 122.2h0M274.5 93.2h0M295.5 136.5h0M252.4 128.7h0M205.4 111.5h0M265.8 113.8h0M292.2 84.0h0M280.1 122.0h0M282.5 91.6h0M283.6 86.9h0M253.8 120.2h0M198.0 124.3h0M290.9 117.5h0M177.0 135.5h0M276.1 119.4h0M273.8 117.3h0M284.2 88.0h0M298.6 130.9h0M172.0 127.0h0M186.0 110.0h0M189.9 120.3h0M280.8 90.7h0M310.1 121.2h0M269.0 125.5h0M195.7 96.6h0M283.0 116.1h0M279.5 100.8h0M283.0 126.7h0M278.6 90.1h0M191.7 99.6h0M164.9 138.7h0M296.6 119.5h0M216.4 129.6h0M286.7 105.4h0M224.5 126.2h0M283.6 109.2h0M300.7 85.3h0M185.9 107.8h0M277.9 129.6h0M288.6 87.5h0M177.4 145.6h0M249.7 120.8h0M183.8 124.8h0M174.6 140.6h0M224.9 128.9h0M288.7 99.6h0M283.8 139.1h0M303.4 107.1h0M221.6 126.6h0M175.7 139.0h0M278.3 112.1h0M283.7 100.8h0M276.0 104.7h0M302.2 115.7h0M265.4 122.0h0M214.9 129.5h0M301.7 134.0h0M196.9 127.8h0M173.9 135.0h0M277.6 125.6h0M183.6 109.7h0M246.8 121.4h0M283.0 91.3h0M195.3 98.5h0M268.2 115.8h0M279.4 84.3h0M191.2 107.5h0M200.7 126.3h0M173.3 143.2h0M283.4 130.0h0M186.1 137.7h0M197.4 103.7h0M290.4 138.1h0M303.2 115.7h0M285.9 129.7h0M276.5 106.6h0M195.8 104.6h0M277.9 128.3h0M185.8 136.9h0M258.9 122.4h0M286.4 107.7h0M281.7 119.0h0M267.6 112.2h0M261.8 114.5h0M270.5 135.8h0M297.1 105.9h0M278.3 103.7h0M311.4 115.7h0M302.3 128.0h0M299.5 103.3h0M302.7 126.9h0M264.5 113.0h0M279.0 133.4h0M184.9 102.9h0M194.3 122.5h0M283.0 83.0h0M187.2 130.1h0M201.1 111.7h0M208.3 129.4h0M270.0 135.4h0M177.1 136.3h0M194.0 132.3h0M193.8 121.2h0M270.5 104.6h0M297.3 134.6h0M288.6 87.5h0M193.4 106.5h0M214.8 134.6h0M277.3 119.4h0M197.4 123.4h0M192.0 132.9h0M211.4 124.1h0M275.2 120.8h0M274.3 129.4h0M176.7 137.4h0M170.8 140.2h0M284.7 126.0h0M276.5 131.5h0M282.6 90.9h0M209.9 134.2h0M276.5 134.2h0M299.4 94.0h0M284.3 111.8h0M205.6 117.7h0M290.0 84.6h0M258.0 128.6h0M288.4 91.1h0M308.9 116.4h0M289.0 107.6h0M282.4 103.5h0M199.5 116.3h0M290.1 116.5h0M185.1 136.5h0M167.1 139.7h0M290.4 116.9h0M294.4 104.9h0M201.2 121.0h0M285.7 132.7h0M270.7 117.8h0M283.6 115.3h0M294.4 109.9h0M284.5 99.2h0M258.5 118.2h0M288.9 124.1h0M197.8 97.4h0M180.4 110.5h0M276.0 99.2h0M283.7 122.0h0M260.5 121.6h0M196.9 95.8h0M282.0 118.3h0M253.9 129.6h0M181.1 144.4h0M284.2 129.5h0M279.1 134.1h0M201.0 100.1h0M174.2 128.2h0M173.8 134.5h0M283.0 135.0h0M197.7 135.0h0M253.6 125.5h0M204.5 118.6h0M212.4 132.6h0M184.2 110.2h0M271.9 126.1h0M288.0 122.3h0M277.2 101.6h0M192.8 107.6h0M282.6 119.6h0M286.8 121.0h0M291.8 88.2h0M197.7 101.7h0M195.3 113.6h0M280.4 124.6h0M298.5 96.9h0M201.6 113.1h0M179.8 135.2h0M199.0 105.8h0M190.9 119.9h0M190.9 110.8h0M259.2 116.7h0M277.1 115.6h0M188.5 113.8h0M271.0 117.0h0M272.4 127.2h0M191.8 138.0h0" stroke="#d850e0" stroke-width="2.3" stroke-linecap="round" stroke-opacity="0.85"/>
<path d="M288.3 93.9h0M280.8 115.6h0M180.3 133.0h0M299.2 117.4h0M277.0 118.9h0M291.2 126.6h0M221.5 126.4h0M287.2 129.0h0M191.0 128.0h0M191.7 114.0h0M198.8 110.5h0M292.6 132.4h0M291.1 131.4h0M285.5 110.1h0M308.6 118.6h0M203.1 111.0h0M293.6 128.7h0M286.4 109.9h0M301.0 126.7h0M286.4 121.9h0M215.8 123.0h0M205.6 114.3h0M284.2 106.0h0M198.6 108.7h0M246.8 124.1h0M190.4 143.9h0M301.5 84.4h0M286.3 123.4h0M286.9 91.1h0M191.2 134.8h0M275.8 134.7h0M261.1 115.6h0M196.9 107.0h0M199.1 114.1h0M176.6 132.5h0M274.9 116.9h0M280.1 121.9h0M268.8 116.6h0M289.6 142.3h0M276.3 120.4h0M291.2 122.5h0M201.8 126.4h0M253.8 125.4h0M280.3 84.4h0M293.8 121.8h0M192.3 119.2h0M256.4 129.0h0M292.5 118.1h0M285.3 130.2h0M188.6 139.3h0M284.6 125.7h0M287.5 122.6h0M296.4 125.6h0M285.1 130.9h0M183.3 143.9h0M276.0 100.4h0M286.0 107.6h0M211.4 121.0h0M201.8 111.3h0M212.5 127.5h0M201.8 115.0h0M199.4 104.9h0M195.5 111.9h0M199.9 127.9h0M276.0 118.2h0M257.6 120.3h0M190.6 114.4h0M197.8 91.2h0M210.8 124.4h0M290.9 88.9h0M212.5 119.4h0M199.3 111.5h0M274.3 111.6h0M202.9 120.1h0M275.0 125.3h0M295.8 143.0h0M284.7 137.9h0M278.1 122.2h0M201.0 106.5h0M190.9 133.6h0M210.3 126.6h0M268.8 123.2h0M256.0 127.1h0M277.1 124.2h0M192.1 129.5h0M305.6 129.7h0M296.3 129.7h0M190.9 114.2h0M199.3 98.0h0M199.6 112.4h0M293.0 105.9h0M290.3 130.2h0M271.8 116.1h0M292.2 115.5h0M282.1 132.7h0M266.3 112.0h0M269.8 126.6h0M279.9 130.9h0M200.0 105.3h0M289.3 122.0h0M201.9 109.4h0M200.9 124.7h0M278.4 120.6h0M284.0 134.5h0M295.4 115.3h0M202.0 133.3h0M253.8 128.8h0M263.1 123.8h0M204.3 117.3h0M275.4 124.0h0M290.4 132.3h0M201.5 106.1h0M294.4 94.4h0M291.6 88.5h0M261.0 121.5h0M284.5 98.3h0M197.7 114.3h0M296.7 117.3h0M276.3 135.5h0M273.8 115.4h0M197.4 111.8h0M204.2 125.4h0M185.7 98.8h0M199.8 108.6h0M284.9 124.2h0M273.2 119.6h0M182.1 122.7h0M285.7 114.7h0M251.0 128.2h0M200.2 101.7h0M269.6 130.4h0M286.7 104.8h0M268.2 125.8h0M292.8 117.6h0M196.9 123.7h0M296.0 89.3h0M206.9 116.1h0M292.1 121.6h0M289.5 89.4h0M278.3 97.2h0M270.1 110.4h0M188.8 109.4h0M253.0 125.8h0M292.3 138.0h0M195.9 115.8h0M225.1 127.9h0M201.4 126.0h0M189.8 106.3h0M252.2 121.0h0M196.5 98.4h0M290.4 122.0h0M282.3 124.7h0M207.5 121.0h0M175.9 133.4h0M177.4 141.8h0M253.7 123.6h0M273.8 124.9h0M281.2 125.1h0M286.2 131.8h0M271.1 126.8h0M291.8 119.2h0M309.9 103.8h0M178.3 133.3h0M181.0 139.3h0M271.1 90.3h0M199.6 112.0h0M280.0 123.1h0M276.1 96.4h0M214.6 122.6h0M281.9 94.9h0M196.4 111.3h0M269.9 123.7h0M187.5 111.5h0M203.1 130.3h0M289.8 91.3h0M288.0 116.2h0M295.4 118.7h0M184.5 122.6h0M184.6 115.7h0M175.6 135.4h0M207.5 115.8h0M271.2 120.6h0M206.6 135.7h0M259.5 118.1h0M204.8 110.3h0M283.5 104.2h0M291.0 128.4h0M296.7 86.6h0M281.2 84.4h0M210.1 115.9h0M292.3 113.0h0M208.3 118.8h0M182.8 126.6h0M271.0 95.0h0M299.4 109.4h0M259.3 127.3h0M289.9 117.6h0M201.0 101.9h0M286.7 128.0h0M282.0 135.3h0M193.2 87.8h0M291.2 125.2h0M181.6 132.0h0M199.7 112.5h0M190.0 124.8h0M300.6 108.2h0M294.3 124.2h0M193.9 111.4h0M293.7 88.4h0M189.4 141.6h0M194.4 90.2h0M196.4 121.5h0M279.7 139.7h0M198.9 104.4h0M213.1 123.8h0M277.2 132.7h0M302.8 87.3h0M254.7 127.7h0M193.6 110.6h0M280.8 117.9h0M289.2 120.3h0M286.9 113.6h0M273.4 117.6h0M280.4 120.3h0M254.3 119.0h0M258.6 117.6h0M274.5 125.9h0M310.2 103.0h0M274.5 112.4h0M200.2 110.7h0M275.8 129.2h0M306.4 123.1h0M278.1 122.8h0M287.6 121.9h0M192.0 116.9h0M190.9 113.8h0M273.1 116.9h0M297.3 112.7h0M282.5 119.2h0M297.2 133.0h0M288.9 101.3h0M278.6 117.2h0M305.4 125.4h0M286.2 124.9h0M270.1 125.4h0M291.1 87.8h0M291.3 104.1h0M205.3 113.7h0M204.2 110.0h0M287.1 122.1h0M283.6 125.7h0M298.9 83.2h0M197.0 125.9h0M297.2 82.2h0M290.6 93.1h0M288.6 91.7h0M256.9 122.4h0M271.6 113.2h0M175.9 137.2h0M287.4 122.6h0M193.9 107.9h0M289.1 126.7h0M280.2 109.0h0M199.2 116.5h0M200.9 105.9h0M273.4 115.2h0M286.2 121.7h0M291.3 118.1h0" stroke="#ff80ff" stroke-width="1.7" stroke-linecap="round" stroke-opacity="0.9"/>
<path d="M294.2 132.4h0M291.7 124.6h0M288.5 129.5h0M292.6 128.1h0M290.1 131.2h0M292.1 124.8h0M290.7 124.5h0M298.0 132.6h0M292.5 126.6h0M304.9 133.0h0M302.2 131.9h0M296.3 130.7h0M302.8 138.5h0M297.6 130.4h0M300.3 133.0h0M295.4 127.5h0M292.9 136.2h0M294.2 128.7h0M294.4 125.1h0M298.3 129.8h0M298.0 135.6h0M295.1 130.4h0M292.9 133.6h0M298.0 134.3h0M303.2 124.8h0M303.1 125.0h0M291.3 122.1h0M303.0 127.9h0M298.6 127.4h0M303.5 125.0h0M295.8 125.5h0M294.7 135.5h0M297.3 131.2h0M299.4 127.9h0M290.3 125.5h0M293.7 134.7h0M296.0 128.0h0M296.3 127.1h0M299.8 133.1h0M292.4 136.7h0" stroke="#ffd0ff" stroke-width="1.8" stroke-linecap="round" stroke-opacity="0.85"/>
<path d="M161.4 46.1h0M178.8 48.9h0M195.5 73.1h0M177.6 70.9h0M167.0 36.5h0M183.1 35.3h0M192.5 64.2h0M162.4 44.9h0M190.8 59.3h0M172.3 58.4h0M282.0 74.6h0M287.6 47.4h0M296.4 50.6h0M308.1 32.9h0M281.2 29.7h0M287.4 26.1h0M277.3 39.1h0M306.8 32.2h0" stroke="#9a4aa0" stroke-width="1.4" stroke-linecap="round" stroke-opacity="0.7"/>
<circle cx="194" cy="106" r="7.2" fill="none" stroke="#fff" stroke-width="1.5" stroke-dasharray="2.8 1.7"/>
<circle cx="204.4" cy="137.5" r="7.5" fill="none" stroke="#fff" stroke-width="1.5" stroke-dasharray="2.8 1.7"/>
<text x="204.2" y="109.8" font-size="12.8" font-weight="bold" fill="#fff" textLength="29.2" lengthAdjust="spacingAndGlyphs">shell</text>
<text x="168.3" y="136.4" font-size="12.8" font-weight="bold" fill="#fff" textLength="26.6" lengthAdjust="spacingAndGlyphs">core</text>
<rect x="261.5" y="99" width="41.6" height="39.5" fill="none" stroke="#f0e600" stroke-width="1.35"/>
<line x1="249.6" y1="168.5" x2="305.7" y2="168.5" stroke="#d4d4d4" stroke-width="2.3"/>
</g>
<g clip-path="url(#cpB)">
<rect x="318" y="19" width="159" height="157.6" fill="#152e11"/>
<path d="M358.7 23.9h0M469.5 145.5h0M425.3 52.0h0M392.8 102.0h0M341.3 101.3h0M458.8 102.0h0M329.3 118.0h0M465.4 52.3h0M467.9 90.7h0M452.9 149.4h0M362.3 63.2h0M433.9 154.9h0M419.1 90.3h0M373.1 150.2h0M351.8 60.3h0M474.3 46.1h0M342.3 58.1h0M409.4 154.6h0M371.9 76.6h0M439.1 101.3h0M432.2 45.3h0M362.1 44.2h0M448.6 49.9h0M442.8 19.6h0M388.1 174.0h0M420.1 77.4h0M425.1 76.0h0M322.4 116.5h0M339.8 99.9h0M449.3 97.2h0M430.3 122.9h0M402.9 42.3h0M406.5 63.1h0M318.4 73.8h0M408.4 77.9h0M437.5 103.6h0M443.1 127.3h0M330.3 49.7h0M350.5 133.0h0M358.4 74.0h0M406.4 142.4h0M331.1 64.3h0M463.1 103.5h0M368.8 80.6h0M472.2 137.0h0M370.8 29.5h0M398.7 71.1h0M449.0 39.2h0M385.6 108.1h0M431.4 31.8h0M335.5 74.5h0M412.4 120.7h0M400.3 175.1h0M322.6 124.7h0M459.2 71.2h0M364.2 107.6h0M342.4 125.8h0M363.4 129.0h0M336.0 176.3h0M362.8 137.2h0M438.4 94.2h0M437.6 32.1h0M429.2 165.2h0M366.3 119.2h0M370.4 55.8h0M385.8 120.6h0M346.9 119.1h0M381.0 40.1h0M330.4 159.8h0M419.1 60.9h0M391.5 84.2h0M377.8 44.0h0M352.7 107.6h0M430.7 54.3h0M345.0 143.6h0M422.4 144.2h0M354.0 102.1h0M363.3 142.4h0M468.2 77.1h0M396.9 91.6h0M428.8 133.4h0M462.6 40.6h0M336.7 88.5h0M397.4 58.9h0M397.9 90.3h0M466.9 140.5h0M419.8 139.2h0M340.5 98.1h0M401.4 25.9h0M348.7 45.4h0M320.7 117.7h0M375.3 158.6h0M367.0 132.2h0M446.9 77.6h0M336.4 171.3h0M409.6 119.9h0M404.5 40.0h0M413.9 131.1h0M368.4 162.2h0M442.6 127.5h0M344.9 163.9h0M446.5 42.5h0M467.4 171.0h0M452.2 42.6h0M375.6 76.7h0M370.7 90.3h0M432.5 118.0h0M451.1 72.0h0M438.2 77.2h0M428.1 127.6h0M405.5 143.8h0M467.0 43.7h0M420.1 169.8h0M467.2 51.5h0M346.7 151.3h0M425.5 75.6h0M389.5 88.4h0M342.3 106.7h0M401.8 124.4h0M476.6 39.8h0M328.2 148.1h0M384.8 99.6h0M402.1 70.2h0M340.8 80.4h0M361.3 72.1h0M368.8 115.6h0M318.3 74.4h0M451.1 165.9h0M352.7 164.6h0M420.0 169.3h0M339.5 157.1h0M460.6 136.7h0M452.4 153.6h0M427.9 125.3h0M324.5 52.4h0M328.9 105.2h0M335.2 94.3h0M318.2 62.6h0M460.9 106.1h0M332.4 65.3h0M358.4 81.5h0M340.4 162.2h0M391.9 35.9h0M473.6 63.6h0M454.7 142.1h0M331.1 55.8h0M364.9 133.9h0M346.8 152.5h0M348.8 146.0h0M460.1 147.0h0M360.2 137.3h0M320.7 36.6h0M461.5 30.9h0M474.3 36.6h0M391.8 103.2h0M354.2 70.6h0M474.8 99.3h0M333.5 84.6h0M424.6 58.2h0M473.1 132.6h0M413.7 95.7h0M396.7 154.8h0M379.7 21.7h0M348.9 51.0h0M380.9 82.0h0M420.5 32.2h0M467.4 69.4h0M338.4 57.7h0M331.8 121.4h0M450.6 75.5h0M379.6 48.7h0M350.1 45.6h0M324.0 57.2h0M392.3 142.2h0M449.4 73.7h0M352.1 145.4h0M366.9 121.6h0M377.6 113.7h0M428.5 74.7h0M421.5 89.8h0M429.0 124.5h0M327.5 137.5h0M456.6 66.5h0M475.5 82.9h0M371.9 43.7h0M402.1 52.2h0M355.0 105.7h0M368.1 67.7h0M436.3 35.5h0M425.6 144.5h0M322.3 173.3h0M463.0 123.4h0M427.6 36.3h0M334.4 133.2h0M357.2 46.6h0M432.8 66.5h0M387.8 20.2h0M462.0 94.5h0M345.4 70.9h0M410.0 137.0h0M425.3 73.8h0M409.2 51.3h0M393.4 99.2h0M397.5 172.5h0M375.7 122.7h0M346.9 100.9h0M389.0 70.0h0M444.9 41.3h0M386.1 42.9h0M400.2 123.2h0M461.4 119.0h0M456.8 77.6h0M465.8 81.4h0M470.2 71.6h0M428.4 72.9h0M377.1 117.5h0M450.1 42.2h0M328.8 83.1h0M423.6 126.9h0M463.4 174.1h0M392.0 167.4h0M470.3 93.6h0M392.0 72.0h0M446.1 115.8h0M381.6 61.2h0M422.0 43.0h0M461.1 171.5h0M401.2 134.2h0M371.6 159.2h0M410.4 24.2h0M344.5 142.5h0M432.0 111.1h0M431.1 93.0h0M463.1 153.5h0M357.5 85.5h0M328.0 169.7h0M341.7 111.2h0M431.0 113.7h0M351.3 110.7h0M347.9 22.5h0M369.4 54.7h0M403.8 71.6h0M453.4 78.5h0M383.3 145.6h0M418.6 95.5h0M357.9 175.6h0M383.8 62.8h0M378.1 95.3h0M417.5 32.6h0M380.3 28.1h0M364.0 70.7h0M424.2 48.3h0M371.9 21.2h0M370.6 174.8h0M446.5 120.5h0M380.3 28.8h0M420.0 133.2h0M396.4 58.2h0M470.9 141.7h0M348.7 44.1h0M420.2 59.4h0M473.4 152.1h0M377.1 138.2h0M334.7 37.2h0M357.6 161.2h0M452.6 172.7h0M380.2 111.8h0M467.0 165.7h0M434.2 111.6h0M419.4 19.1h0M406.0 166.2h0M470.7 90.7h0M404.6 126.5h0M399.1 155.9h0M369.7 175.7h0M455.8 119.1h0M418.8 119.3h0M328.7 84.4h0M341.6 79.5h0M386.1 93.9h0M459.1 134.5h0M318.1 45.2h0M349.7 38.8h0M362.1 94.1h0M473.3 48.1h0M320.1 23.8h0M363.7 34.9h0M323.5 23.6h0M399.1 45.4h0M327.3 64.4h0M437.4 105.6h0M424.4 140.1h0M397.9 170.4h0M381.7 76.3h0M354.0 133.1h0M392.6 86.7h0M434.4 40.4h0M412.5 166.4h0M476.9 93.8h0M400.0 173.7h0" stroke="#21501b" stroke-width="1.6" stroke-linecap="round" stroke-opacity="0.7"/>
<g filter="url(#bl4)">
<path d="M350,150 C360,140 375,128 392,121 C410,116 430,116 450,124 C465,128 475,132 480,134 L480,146 L350,156 Z" fill="#2a6a66" opacity="0.8"/>
<ellipse cx="376" cy="118" rx="12" ry="16" fill="#603a66" opacity="0.5"/>
<ellipse cx="432" cy="98" rx="22" ry="18" fill="#6a3a70" opacity="0.85"/>
</g>
<path d="M388.0,19.0 L408.0,19.0 L406.5,60.0 L405.5,100.0 L404.0,116.0 L399.0,120.5 L392.0,116.0 L390.4,100.0 L389.5,60.0 Z" fill="#0a100a" filter="url(#bl1)"/>
<path d="M387.9 109.1h0M387.3 82.8h0M387.1 27.4h0M389.3 86.3h0M390.3 56.9h0M388.1 62.3h0M386.7 58.1h0M387.4 24.2h0M389.3 117.8h0M388.4 21.4h0M389.2 112.2h0M386.0 21.4h0M391.4 24.4h0M389.4 88.6h0M390.0 77.4h0M387.2 90.2h0M386.2 23.3h0M389.5 103.4h0M387.1 55.7h0M388.7 27.3h0M387.1 22.2h0M388.1 29.6h0M388.5 103.8h0M387.8 65.6h0M387.3 121.7h0M386.3 40.3h0M389.1 60.3h0M387.7 48.9h0M386.9 27.0h0M387.9 85.9h0M388.9 30.5h0M385.8 60.4h0M389.2 96.3h0M389.0 43.2h0M387.6 77.5h0M387.3 22.8h0M384.6 115.9h0M389.3 47.7h0M386.6 99.0h0M386.3 105.3h0M387.0 81.7h0M388.4 76.3h0M387.8 71.7h0M388.7 78.4h0M389.1 120.1h0M385.6 46.4h0M387.0 96.5h0M390.0 33.7h0M390.1 107.4h0M390.5 87.8h0M389.7 69.2h0M389.6 96.7h0M388.1 93.1h0M389.3 101.3h0M386.9 63.9h0M388.6 79.2h0M386.5 80.4h0M387.7 88.0h0M387.6 67.8h0M387.1 54.9h0M408.2 121.5h0M410.2 40.2h0M407.7 68.0h0M405.6 45.3h0M406.6 92.3h0M407.1 80.8h0M407.5 39.9h0M406.8 35.8h0M406.2 40.6h0M407.8 96.3h0M407.4 59.7h0M409.6 51.3h0M406.8 94.2h0M407.9 85.9h0M406.4 72.5h0M407.1 32.5h0M409.4 82.4h0M407.6 73.6h0M408.4 110.5h0M406.5 60.9h0M408.4 58.6h0M407.0 82.9h0M407.2 60.2h0M409.3 70.5h0M407.5 48.1h0M409.5 83.7h0M409.3 65.4h0M407.6 96.0h0M406.8 118.4h0M406.5 87.2h0M408.7 21.3h0M409.1 107.7h0M406.1 99.0h0M408.2 86.0h0M407.2 30.0h0M406.5 60.7h0M409.1 60.8h0M409.4 68.6h0M406.0 116.5h0M407.8 104.7h0M405.7 20.8h0M409.2 78.5h0M410.4 56.7h0M406.4 94.4h0M408.2 121.5h0M407.6 45.0h0M406.7 37.2h0M407.0 21.3h0M406.5 53.5h0M406.0 25.5h0M409.3 47.2h0M405.4 109.5h0M408.1 30.8h0M407.4 26.1h0M410.2 44.8h0M406.5 87.4h0M409.0 79.9h0M408.2 85.9h0M407.2 74.8h0M407.9 30.8h0" stroke="#22c0d0" stroke-width="1.4" stroke-linecap="round" stroke-opacity="0.8"/>
<path d="M310.0,161.5 L318.0,160.6 L340.0,158.0 L365.0,153.4 L385.0,150.0 L395.0,144.8 L407.1,141.2 L419.2,138.8 L431.4,136.4 L441.0,135.2 L449.5,137.6 L461.7,140.6 L477.0,143.8 L485.0,145.0 L485.0,180.0 L310.0,180.0 Z" fill="#0d130e"/>
<path d="M310.0,158.0 L318.0,157.5 L340.0,154.5 L355.0,148.0 L370.0,140.0 L385.0,133.0 L395.0,129.0 L407.0,127.9 L419.0,125.5 L431.0,124.2 L441.0,124.2 L452.0,131.0 L462.0,137.0 L477.0,141.0 L485.0,143.0 L485.0,145.0 L477.0,143.8 L461.7,140.6 L449.5,137.6 L441.0,135.2 L431.4,136.4 L419.2,138.8 L407.1,141.2 L395.0,144.8 L385.0,150.0 L365.0,153.4 L340.0,158.0 L318.0,160.6 L310.0,161.5 Z" fill="#1a8090" opacity="0.6" filter="url(#bl1)"/>
<path d="M310.0,158.0 L318.0,157.5 L340.0,154.5 L355.0,148.0 L370.0,140.0 L385.0,133.0 L395.0,129.0 L407.0,127.9 L419.0,125.5 L431.0,124.2 L441.0,124.2 L452.0,131.0 L462.0,137.0 L477.0,141.0 L485.0,143.0" fill="none" stroke="#1ab0c0" stroke-width="7" stroke-linejoin="round" opacity="0.45" filter="url(#bl2)" transform="translate(0,-4)"/>
<path d="M310.0,161.5 L318.0,160.6 L340.0,158.0 L365.0,153.4 L385.0,150.0 L395.0,144.8 L407.1,141.2 L419.2,138.8 L431.4,136.4 L441.0,135.2 L449.5,137.6 L461.7,140.6 L477.0,143.8 L485.0,145.0" fill="none" stroke="#30e8f8" stroke-width="3.5" stroke-linejoin="round" filter="url(#bl1)" transform="translate(0,-1.4)"/>
<path d="M310.0,161.5 L318.0,160.6 L340.0,158.0 L365.0,153.4 L385.0,150.0 L395.0,144.8 L407.1,141.2 L419.2,138.8 L431.4,136.4 L441.0,135.2 L449.5,137.6 L461.7,140.6 L477.0,143.8 L485.0,145.0" fill="none" stroke="#48f4ff" stroke-width="1.5" stroke-linejoin="round" transform="translate(0,-0.8)"/>
<path d="M375.5 139.6h0M422.9 138.0h0M391.9 140.3h0M414.4 126.8h0M415.2 134.2h0M312.3 159.6h0M372.0 142.5h0M394.4 140.8h0M413.8 131.1h0M470.6 140.6h0M387.1 146.1h0M458.9 136.6h0M334.0 158.3h0M363.9 146.5h0M456.8 136.3h0M399.5 141.4h0M402.1 133.2h0M393.7 135.7h0M381.2 144.5h0M363.5 151.9h0M367.9 147.9h0M408.1 137.8h0M390.4 132.1h0M407.7 140.9h0M382.7 143.0h0M456.4 137.8h0M425.7 134.8h0M368.4 151.5h0M322.3 157.9h0M387.8 142.2h0M311.1 159.7h0M387.0 134.7h0M394.3 138.1h0M460.1 136.1h0M361.6 150.3h0M364.7 144.5h0M390.5 134.0h0M432.7 130.2h0M432.1 128.0h0M387.9 145.2h0M446.2 131.8h0M383.9 140.6h0M430.6 127.1h0M450.2 132.1h0M398.6 134.4h0M405.0 135.2h0M384.8 146.1h0M430.0 133.0h0M434.8 132.6h0M321.4 159.1h0M383.1 143.9h0M395.4 143.2h0M347.5 156.3h0M395.1 137.2h0M388.5 133.7h0M472.2 139.9h0M399.0 130.0h0M371.1 140.4h0M442.3 125.0h0M399.9 137.4h0M402.1 130.2h0M461.9 140.1h0M438.9 134.9h0M452.0 135.1h0M397.9 143.3h0M426.7 125.2h0M418.8 128.2h0M475.7 143.4h0M373.5 142.9h0M355.4 151.1h0M376.3 150.5h0M397.9 136.3h0M312.9 159.2h0M338.8 156.8h0M451.6 135.0h0M337.5 157.0h0M365.1 152.3h0M391.7 138.3h0M356.5 149.3h0M385.7 139.9h0M348.8 151.4h0M404.0 139.9h0M400.9 137.1h0M418.9 132.4h0M415.5 135.7h0M422.5 132.5h0M364.0 152.4h0M425.7 134.8h0M379.4 137.9h0M474.3 140.8h0M370.9 150.6h0M371.9 147.6h0M368.4 143.4h0M351.5 150.9h0M435.3 126.6h0M354.5 152.1h0M436.1 126.0h0M452.7 137.0h0M398.0 135.3h0M417.9 134.0h0M450.2 134.1h0M429.9 132.2h0M374.6 140.8h0M410.4 133.7h0M360.9 150.0h0M396.1 139.6h0M384.5 142.4h0M448.7 134.2h0M430.3 134.2h0M381.8 141.5h0M474.4 141.3h0M447.8 132.2h0M438.9 132.2h0M424.1 131.9h0M361.4 150.6h0M448.8 129.3h0M342.2 153.8h0M371.7 145.5h0M419.9 130.9h0M406.6 128.0h0M438.0 128.9h0M378.0 136.6h0M411.4 132.8h0M391.8 135.4h0M430.9 129.4h0M430.7 124.9h0M356.5 150.3h0M404.7 138.9h0M312.8 158.8h0M377.0 142.3h0M382.5 136.2h0M447.7 135.7h0M433.2 135.4h0M391.2 134.9h0M449.6 135.7h0M314.0 160.3h0M339.5 156.1h0M356.2 152.6h0M415.2 127.4h0M391.9 145.0h0M315.6 158.6h0M413.0 139.4h0M420.8 131.3h0M369.7 142.3h0M441.1 127.0h0M429.5 126.2h0M350.7 155.3h0M411.9 132.1h0M438.5 127.3h0M366.8 150.0h0M475.5 141.2h0M392.4 144.1h0M428.5 135.0h0M439.8 125.2h0M393.9 143.0h0M360.1 149.4h0M355.7 151.5h0M411.0 134.9h0M358.1 146.5h0M441.5 135.3h0M440.2 130.8h0M421.5 132.2h0M410.8 139.9h0M423.1 131.6h0M325.1 159.2h0M371.2 146.1h0M427.6 131.2h0M357.8 147.2h0M400.6 140.6h0M362.3 144.4h0M447.7 128.9h0M396.9 140.6h0M402.6 136.9h0M391.5 140.7h0M414.8 132.3h0M406.5 132.6h0M479.7 143.1h0M389.3 140.3h0M373.2 140.5h0M364.7 147.9h0M379.0 137.6h0M380.3 136.0h0M480.3 144.1h0M473.1 141.0h0M343.1 153.6h0M378.8 143.4h0M397.9 139.7h0M419.6 130.6h0M313.9 160.6h0M355.6 150.4h0M385.0 136.9h0M399.0 141.8h0M386.3 137.3h0M364.2 144.4h0M441.5 134.2h0M418.7 133.3h0M419.9 127.5h0M412.5 134.5h0M371.3 143.4h0M410.1 130.7h0" stroke="#0a2a30" stroke-width="1.6" stroke-linecap="round" stroke-opacity="0.5"/>
<path d="M395.0,129.5 L407.0,128.4 L419.0,126.0 L431.0,124.7 L441.0,124.7 L452.0,131.5" fill="none" stroke="#34e4f4" stroke-width="2.2" stroke-linejoin="round" opacity="0.8" filter="url(#bl1)"/>
<path d="M441.8 130.3h0M368.5 140.9h0M324.6 152.3h0M409.1 104.4h0M434.9 114.4h0M341.7 144.7h0M374.1 123.5h0M369.8 143.0h0M384.7 136.1h0M396.6 135.1h0M327.5 155.3h0M372.1 124.2h0M393.2 130.6h0M434.5 129.6h0M404.2 135.6h0M347.7 145.4h0M414.7 134.2h0M437.2 116.8h0M428.1 120.2h0M369.4 139.1h0M333.1 155.8h0M421.9 126.7h0M352.1 149.9h0M466.4 140.2h0M458.8 136.0h0M361.8 134.0h0M381.9 146.4h0M365.8 152.1h0M391.2 128.4h0M394.0 125.8h0M390.6 115.3h0M429.8 126.6h0M371.4 151.8h0M394.5 139.6h0M422.5 113.4h0M377.2 146.8h0M352.4 142.0h0M450.3 133.7h0M441.4 135.2h0M453.6 135.0h0M353.4 145.4h0M405.5 114.2h0M366.5 142.5h0M365.8 139.3h0M329.7 157.6h0M382.5 149.0h0M431.9 131.7h0M361.7 149.3h0M396.6 132.6h0M390.2 113.4h0M431.2 124.4h0M442.3 134.6h0M325.5 155.4h0M396.0 140.6h0M377.3 142.4h0M464.8 114.5h0M365.6 142.7h0M376.7 136.6h0M426.1 128.4h0M381.5 143.8h0M327.0 149.6h0M378.4 143.9h0M418.3 135.8h0M382.5 130.1h0M418.6 124.0h0M403.6 130.7h0M378.8 143.2h0M386.7 144.3h0M456.2 132.6h0M432.7 119.1h0M364.6 128.3h0M402.6 130.3h0M393.3 129.6h0M320.9 157.1h0M403.9 141.4h0M409.8 118.8h0M331.7 145.2h0M351.6 148.5h0M416.8 136.2h0M422.0 131.9h0M374.3 148.3h0M450.2 131.9h0M361.9 148.8h0M374.9 147.5h0M469.2 128.6h0M437.1 131.6h0M324.8 159.3h0M469.7 134.4h0M408.0 138.1h0M381.8 128.3h0M476.3 133.3h0M419.9 133.0h0M396.4 142.5h0M341.0 156.4h0M426.0 135.2h0M436.2 132.7h0M346.6 153.5h0M426.4 125.9h0M338.7 154.4h0M353.3 153.8h0M410.7 135.4h0M424.7 121.3h0M407.5 118.6h0M329.4 156.1h0M395.3 134.9h0M397.2 142.2h0M384.8 144.9h0M404.3 141.7h0M385.5 148.2h0M379.6 140.8h0M381.9 148.3h0M442.1 133.4h0M332.3 155.7h0M411.9 115.5h0M405.9 135.1h0M399.7 129.0h0M370.5 141.7h0M476.5 141.1h0M392.8 115.9h0M408.5 124.7h0M411.9 140.0h0M450.0 132.9h0M445.3 135.6h0M408.0 136.4h0M472.4 139.5h0M370.1 139.5h0M379.4 149.6h0M453.4 127.9h0M464.2 138.4h0M427.6 131.5h0M396.5 139.3h0M375.3 147.3h0M426.8 106.1h0M453.3 122.6h0M370.9 132.7h0M356.4 148.1h0M390.3 130.5h0M409.5 133.1h0M421.2 132.2h0M371.8 140.0h0M349.6 151.8h0M416.0 115.2h0M448.2 120.3h0M360.4 142.1h0M403.8 128.9h0M398.9 142.9h0M447.6 135.7h0M431.8 126.5h0M320.4 153.6h0M386.8 140.2h0M381.8 136.1h0M376.5 149.7h0M455.1 115.5h0M384.0 139.0h0M410.7 125.8h0M351.5 144.5h0M391.9 131.4h0M327.6 148.4h0M443.5 135.6h0M351.5 148.6h0M466.4 121.0h0M392.1 135.5h0M380.6 146.3h0M350.9 145.2h0M417.7 128.6h0M340.7 156.4h0M435.6 127.3h0M460.6 121.7h0M426.1 133.4h0M353.2 119.1h0M412.4 121.1h0M403.8 120.2h0M318.3 149.9h0M339.5 147.3h0M441.4 112.1h0M400.5 130.7h0M397.9 121.3h0M362.9 145.2h0M388.0 142.1h0M393.9 121.7h0M422.1 100.5h0M427.1 118.0h0M379.3 149.6h0M357.6 151.4h0M344.2 150.4h0M367.7 138.3h0M351.5 149.7h0M424.5 129.1h0M383.7 127.8h0M419.1 130.7h0M383.8 116.6h0M394.4 136.4h0M346.0 152.3h0M342.6 143.7h0M366.8 137.9h0M418.9 129.5h0M409.5 122.3h0M463.3 135.1h0M440.4 119.2h0M344.1 147.2h0M369.4 148.7h0M386.7 127.0h0M382.2 149.1h0M470.2 139.7h0M390.2 141.9h0M370.2 145.1h0M354.2 142.0h0M453.6 128.9h0M418.5 137.9h0M350.2 153.9h0M324.1 159.2h0M435.8 120.6h0M356.7 134.6h0M371.6 145.7h0M442.3 128.1h0M391.6 120.6h0M363.4 142.4h0M453.9 116.9h0M396.9 122.3h0M469.9 138.5h0M368.8 114.8h0M474.4 143.1h0M399.4 127.5h0M422.4 133.0h0M376.9 147.8h0M412.1 120.9h0M384.9 149.1h0M440.1 134.5h0M354.6 149.7h0M367.3 127.8h0M414.2 133.1h0M430.6 124.9h0M428.6 124.8h0M398.9 141.6h0M328.2 154.5h0M360.8 153.0h0M435.2 132.5h0M325.6 158.5h0M401.4 131.8h0M424.7 125.4h0M364.5 140.8h0M384.3 136.1h0M368.7 148.7h0M344.9 154.3h0M406.3 132.8h0M426.2 124.7h0M404.1 136.5h0M375.7 145.0h0M326.1 152.8h0M442.8 131.1h0M435.0 113.9h0M394.9 131.7h0M464.6 135.6h0M358.2 143.1h0M419.4 132.7h0M327.7 144.2h0M390.8 146.5h0M417.4 134.8h0M437.2 106.6h0M326.4 141.1h0M453.4 137.7h0M449.9 133.6h0M367.4 147.4h0M323.9 147.1h0M345.4 150.8h0M436.4 127.4h0M455.1 137.3h0M363.0 150.8h0M323.2 156.8h0M394.9 129.2h0M371.1 139.5h0M356.8 131.9h0M342.9 155.6h0M363.0 149.8h0M371.2 138.8h0M332.2 156.4h0M371.7 141.4h0M419.6 104.5h0M427.9 128.7h0M386.1 143.7h0M378.4 143.0h0M443.1 130.2h0M433.2 125.0h0M458.7 132.5h0M392.6 131.1h0M344.4 149.8h0M384.6 148.3h0M378.9 136.2h0M403.6 126.8h0M400.7 126.9h0M330.1 155.7h0M361.0 139.2h0M429.5 136.7h0M359.3 143.6h0M348.1 131.7h0M355.6 154.9h0M422.3 121.8h0M430.3 134.5h0M343.3 147.8h0M371.5 147.7h0M437.5 134.9h0M339.3 138.8h0M373.5 148.7h0M426.8 130.9h0M352.8 150.2h0M384.3 135.7h0M376.5 131.4h0M346.1 146.0h0M366.7 143.9h0M375.1 136.5h0M331.1 154.4h0M449.9 128.8h0M419.1 130.9h0M451.1 116.2h0M404.4 131.5h0M370.5 140.6h0M436.4 130.1h0M369.6 143.5h0M405.1 122.3h0M402.5 138.4h0M402.3 131.8h0M428.7 134.7h0M393.0 135.3h0M410.5 125.9h0M341.1 155.3h0M370.4 137.2h0M425.5 131.1h0M387.3 138.0h0M371.3 146.0h0M361.3 147.2h0M401.0 127.2h0M346.0 144.8h0M415.3 127.6h0M404.8 130.0h0M362.6 147.7h0M342.2 142.9h0M469.9 136.0h0M432.8 130.7h0M380.7 146.2h0M466.1 137.0h0M379.7 147.8h0M333.3 152.3h0M398.4 126.2h0M372.4 139.2h0M430.8 134.8h0M449.1 133.7h0M335.3 149.6h0M429.8 132.8h0M392.4 134.2h0M406.2 123.8h0M380.1 124.0h0M416.9 129.3h0M399.5 136.4h0M323.4 110.1h0M416.1 122.8h0M321.3 146.8h0M330.7 135.4h0M343.1 155.6h0M426.3 116.3h0M389.8 136.4h0M439.7 117.8h0M351.1 154.4h0M326.4 157.2h0M397.0 129.8h0M442.5 127.0h0M339.1 152.7h0M414.7 120.9h0M371.0 120.0h0M359.0 151.5h0M373.8 136.5h0M342.2 154.7h0M342.9 155.3h0M415.3 121.9h0M423.3 126.2h0M432.2 118.4h0M426.0 115.2h0M436.2 126.3h0M415.9 133.2h0M394.7 122.9h0M466.2 128.7h0M404.5 127.2h0M417.0 130.0h0M413.9 139.4h0M407.1 140.7h0M395.6 130.1h0M383.1 124.0h0M458.7 133.8h0M407.4 132.7h0M390.6 132.3h0M355.4 138.2h0M351.7 148.4h0M429.0 134.9h0M428.2 133.2h0M408.8 137.6h0M370.1 150.9h0M323.0 136.1h0M362.9 142.4h0M394.5 135.7h0M434.7 119.6h0M412.3 123.5h0M420.3 137.9h0M411.2 133.8h0M352.6 148.8h0M406.0 133.9h0M391.8 132.7h0M377.7 150.1h0M452.7 122.0h0M393.6 134.8h0M321.0 159.6h0M409.6 109.7h0M382.5 149.0h0M454.2 133.1h0M362.0 146.7h0M438.2 121.8h0M401.8 128.1h0M358.1 145.7h0M424.6 127.6h0M446.0 135.1h0M465.6 139.2h0M322.2 143.8h0M385.3 138.3h0M423.9 120.7h0M338.5 153.8h0M430.4 118.0h0M406.9 112.1h0M347.3 154.0h0M367.9 151.4h0M394.6 135.1h0M424.6 119.7h0M439.0 103.4h0M378.9 129.3h0M394.3 135.6h0M346.2 152.9h0M393.3 142.3h0M398.1 102.4h0M411.4 122.2h0M386.8 139.7h0M467.3 121.5h0M365.5 151.7h0M411.0 125.2h0M399.7 126.7h0M466.8 137.5h0M337.9 147.5h0M386.3 141.2h0M320.0 155.0h0M419.2 128.7h0M400.5 124.1h0M365.6 139.3h0M462.2 113.4h0M412.7 132.6h0M367.2 151.4h0M432.5 131.7h0M375.4 148.2h0M394.3 142.4h0M425.1 123.6h0M436.9 128.7h0M468.3 131.2h0M389.9 134.8h0M425.3 131.0h0M339.0 154.5h0M325.5 158.0h0M384.0 136.4h0M354.7 147.2h0M458.7 122.1h0M387.8 137.1h0M411.1 133.8h0M338.1 150.3h0M440.8 131.5h0M466.1 138.8h0M426.2 135.9h0M408.9 118.3h0M426.9 116.6h0M351.0 154.5h0M372.9 146.1h0M447.1 130.7h0M366.2 142.7h0M441.4 129.2h0M356.1 152.8h0M409.6 128.3h0M398.2 135.1h0M368.5 145.6h0M366.3 128.1h0M354.9 152.7h0M362.1 145.9h0M349.1 151.0h0M463.5 140.2h0M378.7 149.7h0M391.1 140.9h0M428.4 121.8h0M427.5 126.8h0M467.0 138.6h0M374.6 129.5h0M428.0 128.7h0M442.4 100.7h0M340.0 146.4h0M404.2 138.8h0M467.2 121.3h0M425.0 129.4h0M435.2 123.5h0M390.3 128.0h0M382.1 145.7h0M379.1 132.6h0M447.4 129.7h0M413.0 133.2h0M364.6 139.6h0M469.6 129.0h0M338.6 140.9h0M404.5 116.2h0M397.1 126.7h0M425.5 130.2h0M318.9 156.7h0M353.8 143.5h0M408.4 130.6h0M341.1 156.9h0M371.5 144.9h0M470.2 139.4h0M417.1 96.6h0M401.8 140.5h0M411.8 130.3h0M397.6 137.4h0M395.1 125.8h0M384.9 124.7h0M321.5 154.5h0M394.1 139.7h0M404.6 140.3h0M474.5 128.8h0M433.7 136.1h0M391.1 141.8h0M354.0 144.9h0M447.5 134.9h0M414.2 131.6h0M431.5 122.0h0M350.8 150.4h0M459.5 137.0h0M376.2 140.8h0M369.9 145.2h0M462.2 133.9h0M363.1 152.8h0M401.7 132.4h0M435.0 133.3h0M408.1 125.7h0M444.5 134.3h0M356.2 151.8h0M394.7 136.7h0M442.8 135.4h0M394.3 142.3h0M351.0 150.1h0M374.0 143.0h0M343.5 149.8h0M346.6 153.5h0M344.5 142.6h0M383.9 148.4h0M410.6 126.4h0M447.4 122.3h0M341.6 155.2h0" stroke="#28c8dc" stroke-width="1.5" stroke-linecap="round" stroke-opacity="0.75"/>
<path d="M379.6 137.3h0M431.3 94.9h0M413.0 90.5h0M418.1 98.0h0M438.5 89.5h0M430.4 97.5h0M417.4 119.2h0M452.9 106.5h0M425.2 84.0h0M429.7 112.2h0M364.0 137.0h0M439.4 111.3h0M417.4 93.6h0M458.0 101.8h0M457.8 112.7h0M361.3 135.5h0M358.9 137.7h0M364.2 122.7h0M373.1 120.6h0M412.2 93.7h0M459.7 104.8h0M370.4 117.3h0M386.1 112.6h0M435.7 88.1h0M448.7 96.0h0M370.2 119.8h0M368.6 131.2h0M374.6 113.9h0M412.6 98.5h0M374.5 122.8h0M388.8 131.1h0M367.2 118.9h0M423.0 74.3h0M431.1 99.6h0M387.8 119.5h0M438.1 87.6h0M451.6 102.9h0M443.7 94.0h0M460.1 115.6h0M377.1 104.0h0M455.6 119.6h0M434.5 88.7h0M385.3 85.2h0M429.2 103.3h0M372.6 128.8h0M418.8 78.5h0M452.7 110.1h0M430.4 114.7h0M444.8 100.5h0M373.3 119.7h0M371.8 110.5h0M375.8 101.0h0M427.7 107.1h0M388.7 107.0h0M464.8 112.0h0M365.3 114.3h0M384.4 127.1h0M381.6 99.7h0M377.9 126.2h0M371.7 118.4h0M434.2 111.7h0M452.5 114.5h0M428.5 80.5h0M421.3 71.1h0M376.7 122.7h0M440.1 81.1h0M380.2 84.1h0M368.7 131.3h0M370.0 128.4h0M382.5 124.7h0M438.4 86.8h0M377.1 134.3h0M381.5 133.4h0M354.4 134.2h0M452.8 95.5h0M412.9 107.4h0M437.3 91.6h0M366.2 129.1h0M452.0 106.5h0M419.4 107.9h0M377.6 118.3h0M374.5 109.7h0M369.9 110.5h0M354.6 127.8h0M387.7 115.6h0M387.2 102.2h0M431.2 87.5h0M420.0 94.7h0M362.9 132.2h0M406.1 93.4h0M457.9 100.2h0M433.3 77.7h0M424.5 106.8h0M439.0 106.1h0M378.0 132.6h0M429.6 104.0h0M371.9 120.7h0M358.7 135.0h0M438.9 92.8h0M453.8 96.4h0M377.3 123.3h0M445.7 70.3h0M434.3 94.1h0M342.7 135.7h0M340.4 123.9h0M451.9 114.0h0M366.6 113.5h0M389.2 109.9h0M433.6 84.5h0M386.5 111.6h0M378.7 111.0h0M426.6 93.9h0M420.0 82.2h0M442.2 119.2h0M361.8 127.4h0M368.8 133.1h0M379.7 134.7h0M446.4 109.5h0M424.4 93.3h0M382.2 92.4h0M441.8 108.3h0M431.8 99.0h0M435.3 91.9h0M384.4 131.2h0M340.2 122.9h0M364.1 130.4h0M388.3 106.1h0M429.2 90.7h0M453.4 104.4h0M432.2 117.1h0M422.7 88.8h0M370.3 117.8h0M436.1 76.3h0M435.1 94.5h0M362.9 125.7h0M375.7 135.6h0M379.7 114.7h0M385.0 85.9h0M374.3 108.2h0M382.9 79.9h0M414.9 101.9h0M452.6 112.5h0M385.3 96.8h0M425.7 87.0h0M438.4 106.9h0M424.9 90.9h0M425.8 114.4h0M449.0 98.8h0M365.0 136.2h0M383.5 80.0h0M419.8 87.0h0M447.1 86.2h0M364.8 131.9h0M384.1 91.4h0M423.6 96.0h0M428.3 103.5h0M422.4 91.2h0M371.4 129.8h0M457.3 113.1h0M380.9 131.4h0M435.3 98.1h0M362.6 137.8h0M429.3 102.7h0M379.8 110.4h0M449.1 96.1h0M384.4 107.4h0M426.0 108.6h0M450.1 111.0h0M431.0 84.4h0M429.4 84.3h0M432.7 76.7h0M371.6 136.1h0M427.5 86.0h0M420.3 90.0h0M387.8 120.0h0M369.0 127.6h0M352.6 121.4h0M374.4 107.4h0M384.4 135.2h0M384.2 129.3h0M338.7 123.3h0M459.4 111.6h0M425.0 80.1h0M387.1 129.2h0M434.8 80.6h0M424.9 115.5h0M406.2 114.9h0M373.5 97.9h0M426.9 117.2h0M447.5 123.6h0M390.2 124.5h0M382.9 105.9h0M406.8 84.8h0M346.1 119.0h0M372.5 126.0h0M440.6 124.7h0M363.2 130.4h0M432.6 106.9h0M453.6 102.1h0M388.9 118.4h0M431.6 107.2h0M360.3 133.2h0M377.1 97.0h0M413.7 107.9h0M384.1 112.5h0M423.9 80.4h0M373.7 114.0h0M347.3 132.9h0M355.4 127.7h0M454.0 91.8h0M416.1 94.6h0M384.7 122.5h0M432.6 80.6h0M426.7 108.7h0M385.9 102.5h0M431.1 85.9h0M382.0 122.9h0M376.4 120.4h0M383.7 121.2h0M433.2 100.2h0M442.3 70.8h0M377.7 134.0h0M432.1 88.3h0M378.1 121.4h0M444.4 84.3h0M344.1 122.5h0M420.1 110.6h0M447.1 97.9h0M373.4 136.2h0M366.0 122.9h0M446.8 118.4h0M451.9 103.8h0M376.9 100.3h0M423.1 107.6h0M369.2 121.6h0M383.3 94.4h0M361.5 135.0h0M425.4 86.3h0M378.9 114.1h0M438.9 106.8h0M427.0 86.4h0M427.0 93.4h0M384.4 88.4h0M371.2 112.6h0M451.3 107.9h0M449.7 105.7h0M434.9 80.3h0M377.6 132.2h0M455.6 116.6h0M421.5 105.8h0M370.4 123.9h0M414.3 97.6h0M370.4 134.3h0M407.0 91.3h0M446.5 87.5h0M466.1 113.8h0M367.9 121.9h0M457.2 125.6h0M386.5 116.4h0M365.4 128.0h0M432.4 112.4h0M429.0 93.5h0M384.0 123.9h0M454.4 85.3h0M382.7 117.0h0M338.0 129.2h0M433.8 95.4h0M381.1 131.4h0M383.5 111.3h0M418.8 96.9h0M455.1 109.7h0M408.8 101.1h0M370.7 114.8h0M416.7 114.2h0M441.0 109.4h0M379.5 137.0h0M386.6 99.7h0M433.0 102.3h0M449.1 113.5h0M422.1 114.7h0M457.6 109.6h0M378.4 123.9h0M345.9 127.2h0M443.4 84.6h0M379.2 130.2h0M412.4 119.9h0M343.9 119.8h0M421.3 83.1h0M430.3 105.9h0M434.5 76.9h0M362.9 129.7h0M417.8 112.4h0M437.0 112.5h0M442.7 97.9h0M415.3 89.4h0M420.4 99.0h0M413.2 98.0h0M384.9 100.5h0M388.7 133.0h0M456.7 86.5h0M368.0 121.0h0M438.8 96.8h0M420.9 94.1h0M454.4 70.5h0M362.2 120.6h0M364.6 135.8h0M375.5 121.7h0M458.3 111.9h0M352.8 130.1h0M361.8 137.1h0M457.7 104.4h0M341.7 131.5h0M356.8 130.8h0M363.4 117.2h0M419.2 117.4h0M368.4 120.1h0M366.1 130.1h0M384.8 126.8h0M431.0 96.0h0M429.1 97.4h0M431.9 82.9h0M413.0 78.7h0M415.1 102.5h0M377.3 110.8h0M413.7 87.1h0M428.5 87.3h0M380.5 134.3h0M387.0 116.0h0M366.1 132.1h0M362.9 131.9h0M435.5 78.9h0M370.6 101.8h0M364.5 114.6h0M426.1 96.1h0M407.0 118.4h0M353.3 123.5h0M440.1 95.8h0M365.2 136.4h0M458.5 121.1h0M407.1 106.7h0M435.2 97.0h0M365.2 120.8h0M368.9 135.2h0M366.1 112.9h0M382.7 117.7h0M375.4 133.5h0M461.4 119.2h0M374.5 113.3h0M387.5 128.0h0M428.8 100.0h0M377.7 130.5h0M344.2 118.5h0M444.4 93.2h0M365.5 137.3h0M446.8 77.3h0M418.5 119.5h0M442.6 91.7h0M374.2 137.9h0M379.9 91.3h0M416.2 95.7h0M430.0 70.4h0M438.0 100.3h0M435.8 75.9h0M382.6 85.3h0M382.9 111.3h0M460.5 111.9h0M410.9 100.8h0M418.0 118.7h0M360.8 126.5h0M457.9 121.3h0M362.2 133.9h0M369.1 108.3h0M457.4 90.9h0M386.8 109.0h0M423.7 96.3h0M418.9 98.3h0M451.4 99.8h0M371.8 124.3h0M427.8 86.1h0M439.3 96.3h0M421.6 97.4h0M451.2 108.6h0M369.3 110.2h0M424.3 99.3h0M423.2 90.9h0M438.0 91.6h0M377.2 113.5h0M382.7 115.8h0M380.7 91.1h0M384.1 100.0h0M379.4 86.2h0M365.3 133.4h0M436.8 90.5h0M442.5 108.9h0M367.9 123.8h0M388.3 113.4h0M381.9 95.8h0M382.6 91.0h0M416.8 102.3h0M375.8 111.9h0M378.4 95.7h0M426.2 103.7h0M365.9 137.3h0M348.4 128.3h0M383.3 115.6h0M387.6 108.6h0M441.7 107.6h0M412.8 83.7h0M410.6 97.9h0M434.1 85.3h0M386.5 113.2h0M427.5 96.0h0M377.5 116.4h0M367.9 126.8h0M367.3 125.8h0M380.0 126.8h0M385.8 118.4h0M386.4 115.7h0M413.8 109.0h0M459.4 106.6h0M441.1 83.4h0M432.8 96.4h0M436.6 86.4h0M375.8 117.1h0M453.6 95.5h0M387.0 96.4h0M345.7 124.0h0M430.7 68.7h0M346.2 139.4h0M372.5 128.1h0M413.6 107.0h0M389.3 120.7h0M415.3 104.5h0M433.7 124.5h0M389.1 101.7h0M423.0 101.4h0M381.0 112.5h0M416.3 87.7h0M382.8 99.2h0M457.8 111.5h0M378.8 121.1h0M380.1 121.9h0M430.3 84.0h0M379.2 125.6h0M410.3 116.9h0M450.2 107.7h0M449.6 107.7h0M381.7 136.3h0M384.1 118.4h0M416.6 84.4h0M386.3 102.1h0M417.4 112.1h0M425.3 105.2h0M368.3 131.1h0M421.3 87.0h0M383.7 133.8h0M387.0 121.7h0M412.4 89.4h0M412.1 87.8h0M424.5 122.8h0M456.0 106.6h0M375.1 125.8h0M424.8 98.1h0M419.1 97.9h0M365.5 121.6h0M436.1 80.2h0M418.3 106.6h0M418.1 75.9h0M388.8 99.0h0M427.7 90.4h0M448.6 110.3h0M471.5 105.2h0M350.2 118.3h0M413.4 95.0h0M379.4 117.7h0M444.7 116.0h0M429.2 88.0h0M452.0 88.0h0M348.0 129.2h0M380.1 112.3h0M436.9 110.3h0M442.3 114.7h0M444.6 87.9h0M349.3 123.5h0M388.3 105.4h0M373.3 133.5h0M431.6 88.7h0M382.0 109.0h0M433.8 98.6h0M346.1 128.5h0M364.6 114.2h0M345.3 126.9h0M461.1 103.8h0M379.8 88.4h0M437.3 74.0h0M372.8 119.2h0M458.6 88.4h0M443.0 90.9h0M379.2 88.5h0M428.0 94.6h0M422.1 88.0h0M440.3 87.7h0M466.4 112.8h0M382.9 108.5h0M442.0 97.2h0M437.7 92.8h0M354.9 110.3h0M415.0 102.9h0M418.4 96.8h0M433.8 99.9h0M438.6 100.0h0M344.4 117.7h0M424.7 120.0h0M422.8 88.1h0M372.2 102.0h0M376.1 126.7h0M425.2 81.3h0M445.0 81.0h0M438.7 81.2h0M376.0 136.3h0M372.1 135.2h0M429.0 81.9h0M349.3 136.8h0M460.9 92.9h0M411.1 107.7h0M382.7 94.5h0M418.4 111.2h0M377.0 115.0h0M416.6 106.4h0M415.5 120.4h0M360.8 138.0h0M343.3 134.4h0M376.3 126.9h0M431.2 114.6h0M370.7 108.0h0M419.6 89.4h0M435.0 80.7h0M378.9 134.6h0M367.9 130.1h0M387.5 110.3h0M424.0 106.3h0M351.7 127.1h0M388.3 132.0h0M422.1 106.2h0M434.4 104.3h0M409.7 91.5h0M420.6 80.8h0M352.8 122.3h0M426.5 88.2h0M347.3 130.6h0M449.5 124.5h0M444.7 95.3h0M430.5 109.0h0M437.5 86.7h0M370.9 113.0h0M366.6 123.7h0M384.9 134.7h0M386.9 132.3h0M390.0 119.7h0M373.4 125.0h0M431.6 114.5h0M456.7 111.3h0M425.4 80.9h0M424.1 103.6h0M439.5 101.6h0M387.6 96.7h0M380.5 129.9h0M383.6 108.5h0M453.3 80.9h0M366.9 134.5h0M387.7 108.9h0M341.2 129.6h0M386.8 124.0h0M433.1 93.6h0M389.7 76.6h0M416.2 104.4h0M450.3 99.1h0M457.6 114.4h0M382.0 108.2h0M367.7 117.6h0M428.8 96.9h0M384.8 112.6h0M443.9 117.5h0M377.8 124.8h0M380.7 120.0h0M421.4 102.5h0M451.1 94.4h0M382.2 135.6h0M366.9 127.6h0M445.4 92.7h0M438.6 91.8h0M418.6 109.3h0M385.3 93.2h0M381.9 85.4h0M386.9 121.6h0M434.9 94.0h0M436.0 112.5h0M380.0 107.3h0M420.8 100.5h0M380.0 96.3h0M417.5 79.7h0M412.0 101.3h0M371.1 113.4h0M414.4 97.9h0M345.9 129.3h0M351.1 130.7h0M440.5 91.8h0M376.3 127.0h0M385.6 89.9h0M380.5 89.9h0M380.0 98.3h0M430.4 108.0h0M447.2 119.3h0M414.7 81.5h0M440.9 117.2h0M408.8 121.6h0M446.6 95.8h0M429.2 94.3h0M374.9 116.1h0M451.7 114.4h0M417.3 106.0h0M373.9 112.5h0M388.1 127.7h0M378.1 125.4h0M417.3 86.2h0M429.0 101.0h0M360.7 130.1h0M352.2 140.9h0M467.0 120.3h0M429.5 93.3h0M447.3 106.6h0M419.0 94.8h0M417.6 104.4h0M366.3 128.4h0M414.1 102.8h0M429.6 94.4h0M435.2 97.2h0M373.9 116.1h0M370.9 132.6h0M430.3 104.6h0M440.9 87.1h0M377.9 121.7h0M344.1 134.1h0M462.3 109.8h0M369.3 133.9h0M450.0 97.7h0M445.6 110.3h0" stroke="#d050d8" stroke-width="2.2" stroke-linecap="round" stroke-opacity="0.85"/>
<path d="M373.6 127.5h0M438.3 90.0h0M447.3 99.3h0M382.2 119.3h0M432.8 89.2h0M388.8 121.5h0M368.3 119.7h0M413.7 104.4h0M387.5 119.6h0M418.6 111.1h0M419.3 91.7h0M430.0 104.6h0M375.0 104.9h0M447.1 102.6h0M419.5 93.8h0M444.1 88.8h0M349.4 133.2h0M424.1 119.3h0M387.2 131.9h0M380.7 116.6h0M430.6 98.0h0M413.4 92.7h0M384.0 129.8h0M386.9 126.5h0M436.9 96.9h0M421.2 85.8h0M378.6 107.9h0M460.7 107.0h0M365.8 128.8h0M372.3 114.0h0M442.4 105.0h0M382.2 108.7h0M409.5 94.9h0M361.7 125.3h0M378.0 126.2h0M375.3 115.5h0M387.9 124.1h0M367.6 118.2h0M345.4 125.3h0M344.5 126.4h0M432.9 91.4h0M360.8 124.3h0M382.3 94.6h0M446.6 100.5h0M438.6 91.6h0M425.9 95.2h0M440.5 99.9h0M450.2 90.0h0M350.7 128.1h0M382.8 109.7h0M344.2 129.2h0M378.8 122.5h0M385.7 91.9h0M378.4 128.9h0M386.2 122.1h0M456.7 103.6h0M385.2 101.8h0M361.0 128.9h0M431.5 98.4h0M439.9 91.8h0M449.1 117.8h0M361.0 128.6h0M420.7 96.5h0M423.6 95.1h0M435.8 87.3h0M450.4 107.3h0M383.1 109.4h0M388.5 113.3h0M434.6 93.3h0M431.7 101.7h0M419.5 94.7h0M446.5 100.0h0M446.0 98.2h0M417.9 83.6h0M455.1 110.6h0M369.8 114.2h0M366.4 127.0h0M417.3 83.5h0M427.9 83.5h0M346.4 128.1h0M378.0 125.1h0M436.9 102.5h0M346.0 122.1h0M381.9 119.0h0M362.0 135.4h0M377.9 104.7h0M368.7 137.0h0M434.2 110.8h0M388.9 126.8h0M443.9 106.0h0M372.0 133.8h0M433.0 93.9h0M375.1 114.6h0M453.4 113.2h0M374.5 104.7h0M416.1 95.8h0M425.1 92.7h0M425.0 100.8h0M437.8 90.9h0M384.6 125.3h0M383.0 122.7h0M407.4 87.1h0M421.3 123.3h0M380.0 91.6h0M406.8 95.0h0M422.4 102.0h0M427.3 92.0h0M423.4 94.6h0M378.9 92.8h0M441.8 98.8h0M349.4 120.2h0M375.4 124.8h0M429.9 107.3h0M377.5 129.7h0M384.3 81.6h0M380.1 125.5h0M453.6 96.4h0M433.5 96.9h0M421.1 87.6h0M365.1 128.1h0M429.4 96.0h0M378.9 116.5h0M431.8 98.7h0M386.3 126.9h0M365.0 118.0h0M453.5 112.1h0M387.1 108.8h0M433.0 106.5h0M430.1 88.1h0M375.4 136.9h0M381.9 116.9h0M384.1 132.8h0M455.0 102.5h0M367.0 114.7h0M363.7 125.1h0M430.8 95.8h0M352.1 129.8h0M385.0 107.7h0M376.6 122.0h0M426.6 103.8h0M380.9 92.6h0M364.8 124.9h0M415.9 78.4h0M438.7 103.5h0M347.2 129.8h0M386.7 134.0h0M438.4 106.9h0M351.8 123.0h0M378.5 101.8h0M344.7 127.6h0M421.7 89.0h0M380.7 123.1h0M368.0 129.4h0M375.7 118.1h0M423.1 100.8h0M384.9 83.5h0M354.4 129.1h0M368.8 107.2h0M408.4 84.8h0M372.7 125.7h0M362.7 120.5h0M389.2 122.8h0M440.1 104.7h0M429.3 87.7h0M376.9 117.9h0M366.1 118.7h0M458.2 105.7h0M381.5 110.6h0M349.5 120.5h0M348.1 134.8h0M408.8 86.3h0M434.3 87.6h0M372.3 124.6h0M447.0 106.2h0M430.0 98.6h0M378.8 105.4h0M362.8 125.9h0M445.8 81.7h0M422.7 96.3h0M427.7 90.2h0M434.6 99.7h0M364.2 126.4h0M448.5 115.8h0M434.2 84.5h0M418.3 76.7h0M364.6 118.6h0M370.7 116.4h0M362.6 136.7h0M420.9 95.3h0M386.4 94.0h0M370.2 112.4h0M384.8 113.2h0M379.2 133.5h0M428.7 89.9h0M423.0 96.3h0M370.1 108.4h0M452.1 92.9h0M351.3 127.8h0M436.8 103.1h0M437.6 114.8h0M430.8 88.7h0M428.1 95.0h0M366.4 128.8h0M452.9 101.3h0M438.0 115.1h0M378.6 94.2h0M414.2 97.4h0M344.1 127.0h0M362.9 135.0h0M449.5 114.0h0M367.3 109.4h0M368.6 123.0h0M370.6 112.5h0M431.6 91.3h0M385.7 128.5h0M345.7 124.2h0M373.7 128.2h0M444.6 103.5h0M370.6 135.3h0M454.2 95.6h0M427.6 79.4h0M425.2 109.9h0M460.5 101.7h0M460.8 105.5h0M425.7 92.9h0" stroke="#ff80ff" stroke-width="1.7" stroke-linecap="round" stroke-opacity="0.9"/>
<path d="M366.3 42.0h0M371.9 33.2h0M353.2 35.6h0M358.4 33.0h0M352.6 49.0h0M347.0 45.5h0M359.0 39.6h0M439.5 40.6h0M442.8 44.0h0M443.4 44.1h0M439.4 45.1h0M440.9 35.8h0M439.1 50.0h0M439.4 34.6h0" stroke="#e070e8" stroke-width="1.8" stroke-linecap="round" stroke-opacity="0.9"/>
<rect x="408.2" y="75.2" width="39.9" height="39.6" fill="none" stroke="#f0e600" stroke-width="1.35"/>
<line x1="413.3" y1="168.5" x2="469.4" y2="168.5" stroke="#d4d4d4" stroke-width="2.3"/>
</g>
<text x="156.3" y="186.8" font-size="10.3" font-weight="bold" fill="#1fdc1f" textLength="35.5" lengthAdjust="spacingAndGlyphs">SpCas9</text>
<text x="195.2" y="186.8" font-size="10.3" font-weight="bold" fill="#f020f0" textLength="39.4" lengthAdjust="spacingAndGlyphs">mCherry</text>
<text x="239.3" y="186.8" font-size="10.3" font-weight="bold" fill="#22a8e8">VPAC<tspan font-size="7.5">2</tspan></text>
<text x="280" y="186.8" font-size="10.3" font-weight="bold" textLength="27.6" lengthAdjust="spacingAndGlyphs">Merge</text>
<text x="319.7" y="186.8" font-size="10.3" font-weight="bold" fill="#1fdc1f" textLength="35.8" lengthAdjust="spacingAndGlyphs">SpCas9</text>
<text x="358.3" y="186.8" font-size="10.3" font-weight="bold" fill="#f020f0" textLength="38.7" lengthAdjust="spacingAndGlyphs">mCherry</text>
<text x="402.5" y="186.8" font-size="10.3" font-weight="bold" fill="#22a8e8">VPAC<tspan font-size="7.5">2</tspan></text>
<text x="444" y="186.8" font-size="10.3" font-weight="bold" textLength="28" lengthAdjust="spacingAndGlyphs">Merge</text>
<rect x="155" y="189" width="158.5" height="38.8" fill="#9a9a9a"/>
<rect x="155" y="189" width="39" height="38.8" fill="#0a260a"/>
<path d="M173.1 208.4h0M156.8 218.5h0M172.9 212.4h0M180.0 216.4h0M168.9 215.4h0M173.3 215.1h0M174.6 199.4h0M179.0 222.3h0M186.0 204.1h0M180.7 210.3h0M159.1 214.6h0M180.3 200.4h0M167.5 213.0h0M177.5 199.5h0M166.8 210.1h0M193.0 196.8h0M159.4 214.8h0M183.3 200.8h0M187.8 199.8h0M165.7 204.5h0M163.4 196.4h0M168.9 203.5h0M181.6 199.6h0M183.0 207.4h0M182.9 191.9h0M174.1 209.8h0M185.8 226.3h0M179.2 225.3h0M184.5 190.9h0M167.5 212.0h0M174.4 194.6h0M168.0 223.3h0M187.7 194.3h0M157.2 203.1h0M158.3 201.8h0M187.1 220.2h0M181.5 191.1h0M191.8 222.1h0M175.8 208.7h0M176.6 198.3h0M177.7 216.0h0M179.2 209.9h0M173.2 201.9h0M178.3 194.8h0M182.9 193.1h0M188.5 218.1h0M174.1 219.2h0M180.0 205.1h0M161.0 201.1h0M168.2 226.0h0M157.0 223.3h0M180.0 221.7h0M164.7 208.1h0M158.5 206.9h0M177.9 210.4h0M170.8 221.0h0M183.8 195.9h0M192.7 198.9h0M187.5 201.6h0M188.6 216.1h0M177.4 201.7h0M167.9 215.8h0M169.1 217.9h0M170.9 197.8h0M180.5 218.0h0M181.1 212.9h0M181.3 217.3h0M186.7 206.5h0M176.1 218.7h0M174.4 207.8h0M187.2 203.3h0M185.3 218.2h0M159.6 225.5h0M158.6 214.4h0M190.2 201.2h0M185.0 203.6h0M158.1 205.7h0M165.6 204.0h0M165.7 192.4h0M173.9 206.1h0M181.7 191.0h0M166.3 193.9h0M173.3 191.5h0M179.2 205.8h0M181.7 205.2h0M166.3 223.0h0M167.1 193.1h0M174.6 195.1h0M174.4 210.8h0M166.5 216.7h0M185.3 197.5h0M169.4 224.7h0M158.3 208.3h0M158.4 217.2h0M163.2 194.5h0M185.9 210.9h0M165.0 191.5h0M189.6 222.7h0M177.8 196.0h0M164.9 222.1h0M174.9 216.7h0M192.1 205.4h0M164.8 225.4h0M159.9 208.4h0M159.8 203.1h0M185.1 213.7h0M175.8 215.7h0M188.0 207.0h0M161.3 203.5h0M184.4 208.1h0M193.2 205.6h0M168.7 197.2h0M184.4 207.3h0M160.7 214.4h0M182.7 227.0h0M174.4 196.5h0M182.5 191.5h0M165.2 219.7h0M184.3 212.0h0M184.6 222.1h0M175.5 210.1h0M177.3 201.2h0M173.0 200.3h0M189.6 214.7h0M179.3 213.6h0M178.4 199.2h0M163.5 197.8h0M189.1 208.4h0M177.0 190.3h0M168.9 200.8h0M166.8 205.0h0M187.5 205.6h0M173.9 203.0h0M168.2 207.2h0M176.9 222.8h0M178.1 201.0h0M182.9 197.9h0M176.1 201.4h0M156.9 206.7h0M172.5 218.7h0M169.7 204.5h0M175.1 206.3h0M166.9 204.4h0M172.7 196.9h0M184.1 206.8h0M175.5 203.6h0M159.4 205.7h0M172.2 214.0h0M185.3 212.3h0M186.2 194.2h0M183.7 224.7h0M171.1 204.7h0M178.8 203.8h0M178.4 201.1h0M161.9 214.8h0M184.5 217.3h0M166.3 201.0h0M181.1 197.7h0M167.4 212.8h0M163.6 206.6h0M169.5 222.5h0M188.4 209.6h0M184.5 208.2h0M179.9 216.5h0M167.2 212.2h0M170.2 208.3h0M172.5 220.8h0M175.6 191.2h0M178.3 207.6h0M166.9 212.9h0M168.8 210.6h0M175.7 210.5h0M157.6 214.5h0M166.5 220.5h0M174.3 204.9h0M170.6 190.8h0M174.6 199.1h0M175.2 199.3h0M158.1 210.1h0M177.3 190.6h0M168.6 216.1h0M183.8 216.0h0M185.4 203.7h0M192.9 227.1h0M179.7 209.3h0M160.2 207.8h0M156.2 208.9h0M169.7 198.6h0M180.0 211.2h0M175.7 198.8h0M184.1 214.9h0M159.5 194.9h0M158.8 191.8h0M165.4 197.0h0M181.3 222.5h0M158.1 211.7h0M187.1 212.0h0M173.4 192.3h0M178.3 209.9h0M172.3 226.2h0M159.8 193.7h0M164.2 211.9h0M192.4 197.4h0M176.2 210.5h0M164.6 216.7h0M169.9 218.5h0M168.1 206.9h0M163.4 210.8h0M160.1 207.1h0M162.9 203.6h0M171.8 208.4h0M172.9 218.4h0M182.4 196.0h0M172.2 196.0h0M172.8 209.4h0M188.7 220.0h0M187.3 207.0h0M162.1 191.3h0M164.2 202.0h0M185.6 200.5h0M178.9 215.3h0M159.9 193.8h0M175.2 201.2h0M177.3 206.3h0M163.6 216.0h0M190.3 213.0h0M180.6 196.8h0M176.8 202.8h0M190.2 214.8h0M176.3 195.6h0M167.8 214.4h0M166.4 216.9h0M183.9 214.9h0M169.4 212.6h0M176.7 226.9h0M174.0 198.0h0M172.9 203.4h0M162.6 208.0h0M176.7 214.3h0M173.6 197.5h0M177.0 194.2h0M173.9 207.6h0M169.9 220.0h0M190.9 213.7h0M182.0 197.4h0M170.1 209.8h0M176.1 210.1h0M172.0 200.0h0M165.5 206.3h0M183.8 211.2h0M172.7 203.0h0M164.1 201.2h0M188.6 226.8h0M170.6 222.2h0M161.4 203.6h0M163.3 199.3h0M184.7 205.1h0M169.1 195.8h0M181.9 200.5h0M171.7 212.5h0M163.8 191.5h0M185.0 213.6h0M182.3 197.6h0M186.1 213.1h0M177.7 204.4h0M164.9 209.0h0M185.2 201.6h0M185.3 206.0h0M187.0 217.6h0M165.0 193.9h0M159.8 217.2h0M189.6 197.9h0M176.7 193.6h0M167.8 197.9h0M179.6 197.8h0M177.5 195.0h0M182.5 196.7h0M180.0 216.8h0M178.5 199.3h0M164.1 199.1h0M182.4 212.5h0M179.7 205.3h0M190.7 213.3h0M166.8 215.9h0M189.5 208.3h0M162.6 198.2h0M179.1 197.0h0M188.1 192.0h0M185.8 224.3h0M179.2 222.7h0M156.0 218.7h0M174.3 192.7h0M175.3 215.2h0M163.0 220.4h0M156.9 224.1h0M167.7 203.0h0M178.3 212.7h0M162.7 213.0h0M175.0 205.4h0M170.5 212.4h0M177.3 207.4h0M176.0 200.5h0M163.9 217.1h0M166.3 216.2h0M177.5 218.0h0M190.0 208.8h0M164.7 209.1h0M166.9 212.5h0M188.2 220.2h0M180.5 206.0h0M175.4 213.7h0M184.9 194.1h0M163.1 192.6h0M171.4 201.6h0M180.1 192.4h0M187.7 202.8h0M191.9 196.2h0M185.4 219.3h0M193.0 212.2h0M182.4 206.4h0M191.7 223.6h0M192.8 205.3h0M157.4 224.8h0M178.4 191.8h0M167.5 192.7h0M193.2 209.5h0M157.3 227.0h0M180.9 192.0h0M176.5 206.6h0M165.1 203.0h0M166.1 213.5h0M158.8 201.6h0M184.7 198.6h0M183.4 197.5h0M185.0 196.5h0M183.9 194.8h0M168.7 200.9h0M191.7 212.5h0M173.4 220.7h0M175.9 221.7h0M191.8 211.4h0M191.7 195.4h0M166.5 210.7h0M191.5 216.4h0M191.9 205.5h0M178.6 205.4h0M175.0 205.6h0M181.9 203.4h0M178.7 202.7h0M191.1 214.7h0M168.1 210.3h0M175.5 214.0h0M179.7 221.1h0M175.2 194.0h0M176.0 204.4h0M185.1 194.2h0M167.9 205.3h0M164.6 226.2h0M163.9 207.9h0M181.1 214.3h0M175.8 198.9h0M168.3 218.5h0M187.6 206.1h0M184.7 215.5h0M183.5 197.4h0M170.6 197.0h0M183.1 226.0h0M178.6 219.0h0M190.7 211.2h0M177.4 197.5h0M173.8 194.1h0M190.6 201.5h0M176.2 191.3h0M181.2 226.7h0M183.0 204.8h0M163.2 226.5h0M162.8 205.0h0M176.7 201.5h0M186.0 218.7h0M164.5 206.7h0M191.4 206.2h0M182.6 199.4h0M174.4 213.3h0M179.5 205.7h0M165.0 224.1h0M176.1 199.1h0M188.4 214.2h0M174.9 210.8h0M180.2 201.6h0M184.9 206.6h0M164.7 222.8h0M175.7 214.1h0M172.5 214.4h0M181.0 215.3h0M171.9 190.8h0M178.6 199.1h0M173.3 197.7h0M170.1 212.0h0M164.8 206.0h0M189.3 207.3h0M188.2 191.7h0M168.5 202.4h0M171.9 205.8h0M165.5 215.9h0M161.1 207.1h0M173.2 215.5h0M185.0 194.8h0M175.3 215.1h0M176.9 200.0h0M166.3 202.7h0M178.3 209.5h0M158.9 203.8h0M163.9 212.2h0M184.1 198.2h0M183.6 197.0h0M168.4 218.5h0M175.9 212.8h0M177.1 224.4h0M172.1 217.7h0M176.2 201.4h0M179.1 211.9h0M162.2 217.3h0M192.8 203.0h0M182.1 199.0h0M183.9 219.7h0M171.7 199.4h0M175.6 190.2h0M162.0 210.0h0M173.4 218.4h0M179.0 197.5h0M162.9 217.5h0M171.6 197.8h0M164.2 212.6h0M171.6 192.5h0M167.9 195.3h0M170.4 194.1h0M168.0 197.7h0M167.9 213.8h0M173.9 197.8h0M186.2 219.8h0M158.7 223.6h0M187.5 206.6h0M192.3 224.2h0M155.8 218.5h0M176.3 211.4h0M164.1 221.6h0M166.6 199.9h0M160.1 196.1h0M180.2 200.7h0M180.7 206.7h0M185.1 225.7h0M187.0 201.3h0M185.5 210.5h0M164.1 193.5h0M186.8 220.9h0M165.2 210.4h0M179.0 200.6h0M187.0 190.5h0M159.1 214.5h0M164.6 218.6h0M161.4 202.7h0M168.2 199.0h0M190.1 219.7h0M163.2 205.8h0M179.0 205.5h0M182.4 197.2h0M178.9 209.7h0M169.0 210.7h0M161.4 217.5h0M172.9 203.5h0M156.7 216.3h0M159.3 221.3h0M157.9 200.4h0M169.2 205.2h0M181.8 219.1h0M183.5 208.2h0M190.5 212.9h0M170.2 202.6h0M177.3 192.0h0M182.5 220.0h0M174.7 207.0h0M179.1 194.5h0M172.8 194.0h0M174.8 204.9h0M191.1 194.5h0M167.7 216.6h0M179.6 219.9h0M161.1 199.7h0M186.0 227.0h0M166.3 208.4h0M159.7 225.6h0M162.1 196.0h0M187.5 203.6h0M160.1 221.2h0M176.2 209.5h0M173.4 226.8h0M168.6 210.9h0M186.8 196.3h0M165.8 193.2h0M173.0 206.7h0M176.3 225.9h0M187.9 195.4h0M169.4 201.4h0M187.1 194.7h0M187.7 216.5h0M187.0 216.6h0M185.5 216.1h0M175.2 202.6h0M172.3 215.0h0M167.9 206.3h0M155.8 217.9h0M175.3 195.9h0M172.7 205.8h0M187.7 216.5h0M158.2 222.7h0M170.2 213.4h0M163.7 203.3h0M176.3 206.4h0M188.1 196.6h0M162.6 215.1h0M168.7 224.2h0M164.4 208.8h0M155.9 199.6h0M184.9 218.0h0M173.6 203.0h0M164.6 214.0h0M184.4 209.4h0M182.2 200.8h0M180.8 207.4h0M168.4 202.6h0M173.3 205.9h0M183.6 226.7h0M156.1 221.5h0M173.1 203.1h0M187.5 199.3h0M188.4 224.0h0M176.6 208.2h0M187.6 194.2h0M192.4 197.1h0M170.0 213.2h0M168.0 205.6h0M179.9 221.0h0M164.3 192.4h0M169.2 214.2h0M161.0 197.4h0M179.9 202.8h0M180.6 226.1h0M182.9 207.4h0M176.9 193.8h0M175.3 204.8h0M180.9 218.4h0M171.4 216.6h0M182.5 204.8h0M186.7 193.9h0M170.9 224.6h0M176.6 223.3h0M162.8 193.2h0M192.6 220.3h0M164.7 196.7h0M184.2 220.4h0M182.7 226.1h0M184.1 190.4h0M182.1 209.7h0M161.8 213.2h0M192.2 195.3h0M171.8 216.7h0M180.1 196.1h0M182.2 210.0h0M192.1 209.8h0M181.9 192.0h0M175.6 220.5h0M177.3 207.3h0M179.6 192.5h0M174.7 214.7h0M185.5 211.8h0M171.0 210.8h0M172.5 198.6h0M188.0 194.1h0M171.7 210.1h0M183.1 207.5h0M164.2 191.6h0M183.7 207.6h0M173.2 225.8h0M159.2 220.5h0M183.3 196.4h0M171.3 210.0h0M191.8 190.4h0M179.5 191.4h0M171.3 209.4h0M179.7 219.8h0M184.8 221.4h0M182.5 226.1h0M168.3 213.0h0M157.6 211.6h0M171.1 204.2h0M158.3 204.9h0M171.7 206.5h0M170.1 219.5h0M187.0 224.9h0M166.7 204.7h0M161.7 227.0h0M179.0 193.4h0M189.7 214.7h0M169.7 216.4h0M160.3 215.6h0M156.2 200.2h0M167.8 201.8h0M176.6 207.7h0M171.7 212.6h0M177.2 213.4h0M171.8 195.4h0M177.2 202.7h0M166.2 206.8h0M191.2 201.1h0M181.1 197.9h0M180.3 204.3h0M169.4 224.3h0M156.8 208.1h0M187.4 210.9h0M180.9 203.2h0M181.7 194.2h0M189.0 212.6h0M175.8 219.9h0M162.3 196.2h0M178.0 190.1h0M176.5 201.6h0M177.3 223.1h0M162.0 212.4h0M174.4 204.9h0M180.4 199.8h0M157.1 217.5h0M170.6 196.5h0M174.5 221.8h0M177.6 225.6h0M166.7 200.6h0M175.9 192.3h0M186.6 191.4h0M180.8 219.4h0M165.9 217.4h0M165.9 210.9h0M186.4 223.4h0M175.3 203.8h0M178.2 208.6h0M158.7 203.6h0M163.3 212.3h0M158.2 216.4h0M186.0 214.9h0M182.4 226.2h0M156.4 206.9h0M158.1 198.0h0M177.3 201.7h0M172.4 207.8h0M188.5 200.6h0M174.0 215.3h0M177.2 203.9h0M161.5 199.7h0M193.0 209.0h0M170.2 195.9h0M166.7 212.5h0M190.9 203.9h0M161.3 201.8h0M178.2 216.5h0M173.5 196.8h0M165.3 221.5h0M190.6 197.1h0M178.1 213.9h0M159.0 199.6h0M180.6 192.0h0M167.4 212.9h0M183.7 222.0h0M169.0 213.9h0M191.5 191.0h0M168.6 195.1h0M169.2 221.5h0M173.9 196.8h0M170.8 196.1h0M167.5 206.1h0M168.1 194.2h0M158.5 190.5h0M167.6 209.5h0M167.4 207.0h0M180.7 212.9h0M184.1 221.5h0M183.2 225.5h0M177.8 203.1h0M173.8 226.8h0M170.3 207.5h0M180.7 201.6h0M182.9 221.3h0M157.2 220.8h0M192.2 222.8h0M192.1 202.1h0M189.0 201.3h0M180.0 200.7h0M165.6 220.6h0M177.3 209.1h0M193.2 207.9h0M163.9 194.5h0M158.9 197.5h0M189.4 215.2h0M174.9 215.5h0M159.6 216.1h0M184.7 224.9h0M164.5 204.9h0M162.8 196.1h0M175.0 226.8h0M190.3 215.7h0M185.6 197.5h0M172.7 213.1h0M180.4 191.1h0M170.6 221.8h0M173.8 200.2h0M157.8 213.8h0M161.1 208.3h0M175.2 205.6h0M180.3 190.5h0M160.6 213.0h0M182.4 206.4h0M168.8 212.4h0M181.9 226.3h0M162.2 190.9h0M175.3 206.8h0M162.6 201.0h0M163.9 193.3h0M186.1 203.1h0M157.9 213.6h0M166.8 226.2h0M168.3 190.8h0M188.0 209.1h0M178.0 206.6h0M190.2 192.2h0M178.5 198.3h0M173.9 191.8h0M174.3 221.1h0M173.1 205.2h0M186.2 200.0h0M182.7 219.3h0M192.7 220.0h0M172.3 203.5h0M167.6 195.7h0M185.2 201.4h0M181.3 192.4h0M177.8 203.1h0M165.0 224.2h0M174.9 214.4h0M170.2 190.7h0M188.3 219.7h0M178.1 210.6h0M170.5 207.1h0M167.6 197.3h0M186.8 197.2h0M177.3 216.0h0M176.4 192.9h0M171.4 210.3h0M186.7 198.8h0M177.0 213.3h0M155.8 226.4h0M178.3 206.5h0M163.8 198.1h0M166.5 195.9h0M163.1 207.1h0M172.3 222.6h0M158.3 200.3h0M172.2 203.7h0M189.2 211.8h0M191.5 210.8h0M167.3 192.4h0M171.6 190.6h0M183.1 203.3h0M172.0 208.8h0M169.7 199.1h0M167.8 209.8h0M185.6 214.8h0" stroke="#168016" stroke-width="1.8" stroke-linecap="round" stroke-opacity="0.8"/>
<path d="M180.2 215.6h0M177.9 201.7h0M171.9 208.2h0M170.5 195.2h0M189.8 199.6h0M190.2 199.1h0M178.8 211.0h0M159.2 194.8h0M170.2 221.6h0M175.2 204.3h0M187.6 199.5h0M181.7 211.1h0M178.4 196.7h0M165.1 204.7h0M167.8 225.4h0M177.0 192.5h0M165.0 203.6h0M192.2 192.7h0M160.3 218.2h0M164.3 219.7h0M171.6 208.9h0M181.7 199.1h0M190.4 202.7h0M166.2 219.3h0M189.3 195.1h0M158.0 202.7h0M186.9 218.5h0M180.0 211.1h0M185.6 203.5h0M167.6 200.1h0M168.2 207.8h0M177.5 201.3h0M165.9 220.3h0M162.0 203.8h0M166.5 200.1h0M191.9 215.7h0M172.5 204.9h0M170.3 209.6h0M179.5 206.8h0M177.4 216.4h0M164.1 193.1h0M185.7 220.9h0M180.6 198.9h0M180.4 209.3h0M164.8 202.6h0M158.1 197.0h0M159.8 207.8h0M166.9 203.9h0M192.6 218.1h0M168.4 206.5h0M181.0 207.9h0M160.1 200.0h0M159.4 212.9h0M175.2 212.1h0M191.1 208.4h0M179.0 213.1h0M161.4 213.4h0M185.3 202.7h0M173.1 213.0h0M169.5 194.3h0M170.0 215.0h0M177.7 209.7h0M172.2 208.7h0M167.6 220.1h0M187.7 193.1h0M174.3 210.9h0M181.4 205.5h0M160.4 220.0h0M165.2 211.2h0M171.1 209.5h0M178.7 205.7h0M162.5 194.6h0M163.8 210.7h0M186.1 219.6h0M176.1 203.8h0M174.2 221.8h0M187.0 198.9h0M169.6 199.2h0M171.1 223.4h0M190.5 210.9h0M189.9 216.8h0M179.2 204.0h0M164.7 205.9h0M169.1 215.3h0M170.9 209.4h0M187.9 211.1h0M183.2 207.6h0M177.4 201.6h0M192.2 216.3h0M192.6 206.8h0M167.7 204.1h0M180.4 214.3h0M187.5 199.6h0M189.0 211.4h0M177.5 200.3h0M164.4 199.0h0M180.7 208.7h0M158.7 216.5h0M187.6 209.0h0M172.9 214.0h0M155.8 211.1h0M182.3 215.8h0M172.3 211.9h0M176.1 204.9h0M185.4 221.3h0M165.0 210.5h0M170.6 200.1h0M170.4 222.1h0M159.8 200.3h0M193.0 215.6h0M162.5 194.4h0M165.8 210.4h0M157.1 214.0h0M168.7 225.1h0M184.8 199.3h0M182.2 215.5h0M178.4 209.8h0M172.0 194.7h0M174.5 210.0h0M171.8 206.7h0M184.3 200.7h0M162.1 206.8h0M162.8 191.9h0M166.2 217.6h0M169.3 203.4h0M184.1 212.7h0M173.7 191.8h0M176.5 211.2h0M176.7 209.8h0M183.7 199.4h0M179.3 189.8h0M179.7 210.8h0M173.6 220.4h0M182.3 192.5h0M166.7 204.0h0M169.6 198.7h0M170.9 216.9h0M182.1 190.1h0M187.5 219.1h0M174.6 199.1h0M169.5 205.7h0M187.7 209.1h0M186.6 208.1h0M163.4 219.9h0M188.7 197.8h0M176.0 211.2h0M181.7 202.9h0M190.9 199.9h0M169.4 210.5h0M178.6 190.8h0M166.9 222.1h0M173.9 204.3h0M162.2 215.4h0M176.6 216.2h0M172.1 204.8h0M175.3 192.5h0M171.4 194.0h0M163.8 201.7h0M175.8 212.7h0M165.3 218.0h0M188.6 190.1h0M181.6 210.3h0M168.7 214.7h0M161.5 200.9h0M187.0 207.4h0M163.3 223.8h0M183.9 204.4h0M184.0 201.7h0M183.5 221.3h0M176.1 198.6h0M186.3 218.0h0M161.6 214.8h0M161.6 204.1h0M157.1 213.4h0M185.6 212.4h0M164.4 197.4h0M156.6 196.2h0M183.2 209.6h0M184.0 194.1h0M174.9 198.6h0M174.1 212.7h0M168.1 195.2h0M178.1 219.3h0M173.2 200.3h0M191.2 207.8h0M191.8 222.5h0M178.5 214.5h0M183.1 209.3h0M184.8 217.8h0M171.1 199.9h0M181.8 221.1h0M166.7 205.8h0M188.9 202.7h0M169.1 217.4h0M166.0 197.6h0M183.3 220.7h0M156.6 222.3h0M169.6 204.0h0M191.9 213.5h0M180.8 205.3h0M168.9 217.4h0M175.9 204.4h0M166.3 218.0h0M155.8 206.7h0M158.0 191.5h0M174.4 211.4h0M166.1 204.6h0M184.5 208.0h0M167.3 195.2h0M172.5 225.0h0M185.8 212.9h0M179.9 208.4h0M175.8 205.1h0M168.3 218.4h0M186.5 204.7h0M165.5 211.6h0M189.8 203.7h0M168.7 208.8h0M164.8 218.4h0M175.6 218.7h0M180.5 192.8h0M174.5 194.0h0M167.4 217.8h0M186.6 198.0h0M173.4 190.0h0M170.9 209.8h0M168.3 199.3h0M186.5 192.6h0M172.2 199.3h0M184.4 208.0h0M163.3 198.0h0M170.0 206.3h0M166.9 219.2h0M185.9 204.1h0M187.9 206.0h0M181.6 199.7h0M184.5 201.3h0M167.3 198.6h0M184.4 225.3h0M175.3 214.5h0M178.1 200.2h0M177.3 209.6h0M176.8 202.2h0M156.6 220.7h0M173.5 198.5h0" stroke="#3af03a" stroke-width="1.3" stroke-linecap="round" stroke-opacity="0.85"/>
<rect x="195" y="189" width="39" height="38.8" fill="#240524"/>
<path d="M223.0 223.6h0M221.7 208.4h0M217.5 200.0h0M216.7 220.5h0M225.1 206.3h0M212.7 220.6h0M219.1 217.5h0M222.1 222.0h0M223.9 214.1h0M219.7 199.1h0M226.2 202.9h0M218.9 197.3h0M223.0 215.2h0M221.7 209.4h0M221.5 201.4h0M207.4 216.2h0M196.2 209.1h0M210.0 195.9h0M220.1 209.9h0M219.2 221.0h0M230.1 205.7h0M213.7 198.1h0M206.0 190.2h0M216.8 197.1h0M229.1 203.7h0M219.6 219.2h0M215.4 204.6h0M225.7 210.1h0M204.6 211.9h0M227.4 204.3h0M204.5 207.0h0M217.0 212.4h0M210.8 199.5h0M212.1 207.1h0M217.1 204.3h0M211.7 191.1h0M197.8 212.6h0M214.7 201.1h0M224.2 214.3h0M215.7 220.3h0M203.6 206.8h0M217.9 213.9h0M212.4 220.6h0M220.0 208.8h0M211.6 194.0h0M211.6 197.0h0M231.3 197.0h0M222.8 202.9h0M215.0 195.0h0M211.4 210.3h0M217.1 207.1h0M220.3 204.8h0M209.3 206.5h0M218.5 209.6h0M204.9 209.1h0M229.7 208.7h0M209.7 212.5h0M224.2 223.5h0M225.7 224.4h0M231.0 197.4h0M227.0 199.5h0M226.3 214.6h0M198.6 204.9h0M196.5 212.9h0M205.9 204.6h0M214.4 209.3h0M217.9 199.7h0M215.0 210.5h0M210.4 199.7h0M198.8 203.5h0M226.9 201.1h0M218.2 190.6h0M229.9 193.8h0M220.2 225.5h0M222.4 202.2h0M204.0 207.8h0M223.0 193.9h0M218.5 224.5h0M201.9 205.8h0M214.7 212.5h0M222.9 224.6h0M216.2 207.2h0M212.4 192.3h0M220.2 202.3h0M228.6 208.0h0M217.8 208.6h0M214.2 205.8h0M209.9 217.5h0M199.9 205.0h0M215.2 208.5h0M206.7 208.7h0M222.5 201.9h0M221.0 210.4h0M219.9 214.7h0M225.6 209.2h0M209.1 205.6h0M210.5 202.4h0M219.7 223.1h0M211.1 222.0h0M213.1 216.6h0M229.2 199.3h0M221.9 201.7h0M231.5 211.0h0M226.4 204.9h0M214.4 216.6h0M219.6 209.7h0M206.6 200.5h0M219.1 221.0h0M220.8 211.1h0M204.7 211.2h0M217.0 210.1h0M213.9 191.4h0M223.4 208.3h0M212.7 221.3h0M207.5 223.6h0M204.2 210.6h0M211.2 207.1h0M214.7 203.2h0M213.8 197.8h0M223.4 209.3h0M227.5 220.2h0M210.3 218.2h0M213.3 192.7h0M231.8 193.5h0M220.0 208.4h0M222.2 199.4h0M225.1 219.1h0M212.3 219.1h0M196.1 212.0h0M212.9 215.6h0M226.9 197.9h0M217.1 192.2h0M223.9 197.0h0M226.2 194.7h0M214.5 220.1h0M214.8 206.8h0M209.0 210.8h0M223.7 199.3h0M211.6 200.7h0M213.1 194.9h0M219.4 192.3h0M212.3 208.4h0M231.2 212.5h0M205.8 212.3h0M216.1 199.4h0M204.5 209.3h0M228.8 214.6h0M219.0 218.8h0M200.1 205.4h0M231.2 205.1h0M227.8 199.8h0M223.6 220.3h0M216.2 194.1h0M211.8 196.5h0M203.9 194.6h0M212.1 204.8h0M220.6 199.5h0M225.7 191.4h0M231.5 195.9h0M210.3 218.9h0M211.6 219.5h0M203.7 200.2h0M220.8 208.2h0M215.0 210.5h0M198.8 201.3h0M217.1 200.6h0M226.4 195.0h0M219.6 196.2h0M223.1 200.2h0M233.3 196.7h0M214.7 191.4h0M197.8 208.2h0M221.0 207.6h0M231.6 201.3h0M217.0 215.8h0M207.5 213.3h0M209.7 222.6h0M209.5 219.3h0M225.2 201.3h0M223.1 189.8h0M215.5 217.8h0M221.3 199.3h0M204.4 203.4h0M201.9 215.9h0M232.4 191.3h0M211.8 224.2h0M226.9 215.5h0M212.6 202.0h0M218.7 202.3h0M216.8 204.4h0M224.4 201.1h0M226.1 213.6h0M224.4 211.2h0M227.7 206.6h0M218.9 212.0h0M230.0 214.5h0M207.4 213.8h0M225.0 196.1h0M210.5 195.8h0M219.7 199.0h0M199.9 193.6h0M210.3 214.1h0M198.2 209.2h0M213.3 226.9h0M218.1 196.1h0M213.7 220.5h0M214.2 197.0h0M229.1 206.4h0M205.2 212.7h0M232.4 219.7h0M215.2 204.7h0M217.6 207.6h0M214.9 194.6h0M225.6 190.4h0M220.3 210.3h0M208.0 209.8h0M227.8 205.5h0M216.6 219.8h0M207.1 194.1h0M214.8 213.4h0M212.9 218.0h0M213.9 224.0h0M220.8 212.1h0M213.3 192.5h0M228.7 196.5h0M217.3 209.9h0M202.6 219.2h0M221.6 216.1h0M229.9 220.9h0M229.6 191.4h0M202.7 195.0h0M204.3 202.0h0M206.6 217.7h0M207.4 206.7h0M212.5 196.2h0M200.7 203.7h0M216.2 190.5h0M223.4 219.7h0M221.5 200.2h0M232.4 222.2h0M216.5 209.3h0M220.8 203.2h0M212.4 211.2h0M216.3 215.1h0M198.5 192.8h0M211.0 210.8h0M231.1 193.1h0M204.0 200.9h0M206.7 210.4h0M214.4 210.8h0M206.9 213.3h0M221.2 209.7h0M220.7 225.9h0M210.3 225.3h0M220.2 219.9h0M228.7 208.6h0M227.5 226.9h0M197.1 209.3h0M213.3 209.1h0M228.0 202.3h0M207.1 199.1h0M210.0 210.0h0M213.8 197.6h0M228.3 226.1h0M223.6 219.4h0M211.2 220.4h0M222.6 194.0h0M227.7 196.7h0M228.7 221.9h0M206.5 198.6h0M199.8 210.2h0M215.2 222.7h0M226.0 205.5h0M219.7 223.1h0M198.3 199.1h0M205.4 194.9h0M228.4 216.0h0M208.9 203.8h0M220.7 213.4h0M203.4 189.9h0M220.4 205.5h0M223.9 201.0h0M211.8 214.6h0M229.0 211.0h0M206.4 211.3h0M220.2 217.8h0M227.3 224.3h0M217.4 202.6h0M201.1 219.3h0M230.1 214.3h0M217.4 208.5h0M221.4 216.9h0M217.0 217.1h0M221.1 200.9h0M218.2 199.9h0M216.8 206.6h0M207.4 210.4h0M207.4 202.5h0M214.1 189.7h0M208.1 220.6h0M209.8 210.4h0M230.3 194.9h0M215.9 202.4h0M229.3 203.6h0M233.0 220.2h0M222.3 219.1h0M206.8 225.4h0M203.4 216.6h0M229.5 205.1h0M216.4 203.4h0M213.5 209.9h0M214.8 216.2h0M218.7 206.1h0M209.7 199.7h0M218.5 202.5h0M228.7 211.2h0M210.8 205.5h0M228.2 220.0h0M200.8 224.3h0M217.1 200.3h0M230.3 213.5h0M211.1 194.5h0M221.8 206.2h0M208.4 210.9h0M228.4 193.9h0M213.7 206.3h0M203.1 214.2h0M202.1 206.6h0M220.8 195.0h0M213.7 213.6h0M213.9 202.9h0M216.8 209.1h0M209.1 189.9h0M219.2 218.4h0M225.7 194.2h0M232.8 199.3h0M221.2 193.7h0M212.4 199.6h0M217.0 211.2h0M207.9 216.0h0M218.0 195.8h0M214.5 197.2h0M207.8 207.3h0M217.2 220.7h0M210.7 202.2h0M199.9 204.1h0M218.7 218.5h0M221.6 195.6h0M214.6 222.5h0M230.0 192.1h0M216.3 205.3h0M206.5 211.1h0M220.2 200.1h0M211.5 218.4h0M217.0 199.0h0M214.0 210.8h0M220.9 211.6h0M214.3 215.1h0M229.0 194.5h0M214.3 208.7h0M217.8 219.7h0M214.9 192.9h0M233.0 195.6h0M232.1 209.4h0M231.3 196.8h0M210.1 209.9h0M231.8 199.5h0M224.8 218.3h0M209.2 212.7h0M226.9 219.2h0M205.8 209.5h0M228.6 214.2h0M222.5 219.5h0M228.4 211.8h0M205.9 202.4h0M210.6 196.8h0M204.3 213.4h0M203.6 213.5h0M226.8 203.0h0M213.9 217.7h0M215.8 192.0h0M207.7 223.6h0M228.2 215.4h0M214.6 201.8h0M209.3 193.9h0M209.2 203.0h0M209.8 197.9h0M226.9 226.1h0M225.4 199.1h0M221.5 216.1h0M228.7 210.7h0M207.2 219.6h0M222.7 211.3h0M231.0 216.1h0M224.8 216.3h0M207.2 217.8h0M226.9 200.3h0M214.3 221.9h0M225.7 211.5h0M233.0 205.1h0M211.3 203.6h0M208.5 205.4h0M204.0 204.4h0M214.9 217.1h0M202.9 206.0h0M230.9 222.2h0M203.3 219.8h0M212.6 202.6h0M226.5 224.3h0M224.0 214.4h0M202.0 210.3h0M210.3 207.3h0M232.8 218.8h0M229.5 190.5h0M217.3 192.9h0M219.5 211.1h0M224.3 204.7h0M208.8 213.1h0M220.4 219.0h0M227.6 199.8h0M211.5 212.4h0M205.2 218.3h0M207.9 209.9h0M213.2 197.3h0M199.7 211.0h0M229.2 219.4h0M222.9 208.1h0M213.7 208.0h0M220.6 198.8h0M217.3 218.5h0M208.3 226.9h0M222.9 193.3h0M222.0 194.0h0M231.5 197.6h0M218.6 219.2h0M208.3 208.8h0M231.4 198.0h0M221.0 218.4h0M213.3 202.8h0M224.3 203.2h0M226.1 209.6h0M229.9 192.9h0M210.4 205.0h0M231.9 200.1h0M215.3 217.9h0M220.4 226.4h0M231.6 196.0h0M211.7 206.6h0M230.3 210.7h0M233.0 226.6h0M224.9 215.0h0M229.2 199.1h0M228.0 197.2h0M223.7 220.4h0M226.5 221.7h0M214.0 209.7h0M214.7 212.8h0M199.5 212.0h0M225.5 209.4h0M216.3 209.5h0M215.2 206.7h0M227.0 207.3h0M218.0 207.5h0M226.3 216.9h0M200.7 212.6h0M214.6 216.7h0M202.9 196.9h0M229.0 213.3h0M215.8 215.9h0M204.1 204.9h0M206.4 190.0h0M219.1 210.4h0M228.7 224.4h0M229.1 211.6h0M204.6 194.2h0M206.5 213.4h0M216.3 214.4h0M209.6 203.2h0M230.4 213.0h0M222.3 207.8h0M213.7 218.0h0M220.7 221.9h0M207.2 212.5h0M227.1 203.4h0M208.0 198.1h0M213.4 199.0h0M220.1 196.2h0M221.0 221.1h0M227.7 214.2h0M219.5 198.5h0M197.5 207.2h0M198.7 194.6h0M202.8 217.3h0M197.5 226.2h0M210.6 201.2h0M217.2 192.6h0M225.8 195.0h0M202.2 216.9h0M203.6 224.5h0M213.7 218.5h0M218.9 215.0h0M214.3 224.1h0M230.5 212.4h0M197.5 199.7h0M209.2 206.0h0M220.1 212.6h0M216.4 203.0h0M215.7 214.7h0M214.3 201.7h0M217.6 209.1h0M214.8 210.5h0M218.6 198.5h0M220.6 205.7h0M215.0 211.6h0M202.8 196.8h0M224.7 224.3h0M210.3 216.4h0M217.5 212.6h0M204.1 192.6h0M229.2 200.0h0M211.5 223.4h0M233.1 198.2h0M220.1 218.4h0M207.0 217.7h0M223.4 206.1h0M214.9 207.5h0M229.1 197.1h0M211.9 223.7h0M215.3 196.9h0M206.9 194.0h0M200.2 226.0h0M212.0 204.3h0M233.1 215.7h0M218.9 217.7h0M215.0 214.6h0M203.9 208.3h0M227.2 220.0h0M213.4 196.3h0M215.8 207.6h0M221.6 203.6h0M209.2 200.0h0M228.5 213.4h0M213.0 202.8h0M228.0 224.0h0M213.4 198.5h0M226.5 208.5h0M208.2 208.9h0M199.5 208.6h0M211.7 217.0h0M216.2 216.7h0M225.0 207.6h0M223.2 205.5h0M209.2 197.5h0M220.0 220.0h0M217.4 201.6h0M227.7 210.9h0M213.5 218.8h0M233.3 210.9h0M227.4 195.2h0M212.1 192.3h0M204.8 193.5h0M216.3 201.3h0M214.1 202.2h0M197.5 214.6h0M225.1 199.5h0M215.4 217.8h0M232.9 212.3h0M228.6 212.6h0M214.6 200.0h0M217.0 214.2h0M214.1 210.4h0M207.2 208.6h0M216.7 201.8h0M223.1 224.1h0M228.3 227.1h0M223.7 209.3h0M209.1 204.1h0M215.7 206.6h0M213.2 194.8h0M207.2 217.2h0M217.4 211.4h0M221.3 221.0h0M218.1 226.5h0M209.8 226.3h0M220.4 203.9h0M221.3 202.4h0M232.3 207.0h0M224.7 220.9h0M221.3 200.0h0M217.2 214.6h0M201.5 196.2h0M210.6 191.2h0M212.9 217.8h0M216.3 201.5h0M218.9 215.6h0M209.8 200.1h0M229.7 214.4h0M210.9 211.4h0M218.8 216.2h0M220.3 218.0h0M228.3 203.7h0M221.9 216.8h0M227.0 217.3h0M224.8 194.9h0M224.0 195.0h0M214.7 223.2h0M218.2 217.1h0M215.8 218.2h0M206.3 203.9h0M225.5 223.6h0M224.9 222.7h0M221.6 189.9h0M227.9 225.7h0M232.4 218.6h0M224.7 205.3h0M221.9 212.4h0M197.7 207.3h0M209.3 200.5h0M209.3 213.9h0M231.4 201.7h0M224.6 209.7h0M203.1 215.6h0M211.6 210.7h0M231.0 216.4h0M221.1 213.6h0M218.2 208.7h0M205.0 220.0h0M198.6 207.4h0M215.3 192.7h0M218.4 225.3h0M204.8 214.4h0M199.9 215.9h0M213.3 193.2h0M213.7 222.7h0M208.5 193.5h0M205.2 202.8h0M199.7 204.0h0M202.2 208.5h0M221.4 200.6h0M227.1 193.7h0M217.5 192.4h0M222.0 210.4h0M221.7 222.7h0M221.7 194.8h0M233.2 214.1h0M218.0 222.1h0M223.1 202.0h0M214.0 205.4h0M211.3 212.2h0M218.8 190.8h0M220.7 218.3h0M211.7 221.6h0M207.7 206.6h0M221.1 196.1h0M224.8 198.7h0M215.9 207.8h0M203.0 195.9h0M210.9 217.5h0M214.6 219.7h0M230.2 215.3h0M227.7 216.4h0M222.2 208.8h0M222.0 213.0h0M221.5 214.0h0M230.1 205.7h0M216.2 200.5h0M215.2 198.5h0M223.7 225.1h0M208.7 205.3h0M222.0 202.6h0M218.5 195.5h0M227.9 226.2h0M210.5 221.7h0M205.7 210.5h0M226.5 215.7h0M208.7 211.8h0M228.8 196.7h0M211.6 196.6h0M208.6 215.8h0M198.8 207.7h0M227.2 219.4h0M222.7 193.5h0M218.3 200.1h0M218.3 200.5h0M212.4 208.8h0M206.0 202.6h0M229.8 212.6h0M216.3 202.8h0M229.0 211.6h0M215.8 206.9h0M230.2 210.8h0M206.3 194.8h0M208.9 203.7h0M217.4 212.2h0M226.8 195.5h0M227.4 221.7h0M224.6 214.0h0M197.2 196.4h0M232.0 201.1h0M227.7 217.4h0M227.9 209.8h0M217.0 200.3h0M227.0 190.2h0M212.0 212.8h0M219.0 226.6h0M195.7 199.0h0M226.2 202.0h0M211.6 192.7h0M213.6 206.0h0M218.2 202.5h0M221.0 210.7h0M224.5 218.4h0M209.3 209.3h0M203.4 205.2h0M228.5 214.9h0M216.3 218.6h0M230.0 190.6h0M201.3 197.4h0M209.8 224.9h0M222.0 201.4h0M225.4 223.7h0M229.6 198.1h0M229.9 204.2h0M208.9 200.6h0M215.3 221.1h0M202.2 206.9h0M225.2 223.1h0M232.8 195.4h0M228.2 217.8h0M223.4 193.3h0M219.8 208.8h0M222.4 201.5h0M207.1 202.7h0M214.3 202.0h0M222.0 209.4h0M207.9 206.1h0M204.3 208.4h0M230.8 213.4h0M226.7 215.1h0M224.7 202.9h0M220.2 206.6h0M219.7 213.9h0M221.3 215.4h0M198.3 196.0h0M201.1 216.5h0M199.6 205.1h0M229.9 197.8h0M199.9 191.8h0M211.6 206.4h0M218.4 209.6h0M222.9 209.2h0M232.6 220.9h0M201.0 198.0h0M220.2 213.9h0M215.5 216.6h0M211.2 208.7h0M210.8 206.2h0M221.7 217.1h0M224.3 213.2h0" stroke="#a010a8" stroke-width="2.0" stroke-linecap="round" stroke-opacity="0.85"/>
<path d="M215.8 222.0h0M227.8 207.6h0M230.1 200.2h0M218.6 200.9h0M220.4 195.6h0M204.5 206.4h0M221.3 205.4h0M209.0 216.0h0M208.5 200.5h0M202.0 215.0h0M219.0 224.3h0M208.9 196.7h0M214.5 207.1h0M212.8 198.8h0M203.2 200.3h0M208.6 219.5h0M219.7 194.5h0M209.4 217.1h0M226.0 211.1h0M224.6 200.9h0M217.8 218.0h0M208.9 193.5h0M199.3 202.4h0M203.4 204.2h0M221.1 216.2h0M218.8 211.7h0M207.5 199.7h0M226.9 195.1h0M227.5 202.2h0M204.0 191.9h0M211.0 215.4h0M214.8 223.8h0M228.0 225.1h0M212.0 216.7h0M210.7 193.0h0M201.4 202.6h0M223.3 221.8h0M228.0 212.8h0M226.1 207.2h0M216.0 213.4h0M215.7 205.3h0M215.6 218.9h0M224.9 202.1h0M210.7 199.5h0M213.3 209.6h0M225.2 195.0h0M217.3 210.0h0M228.5 219.0h0M212.4 190.4h0M219.4 207.4h0M217.1 224.6h0M222.4 210.0h0M197.1 218.0h0M199.6 211.7h0M233.2 206.9h0M210.0 216.6h0M228.7 210.3h0M223.1 208.3h0M228.4 192.9h0M229.5 191.4h0M224.3 215.3h0M230.3 207.4h0M220.1 201.6h0M220.5 207.0h0M216.0 213.9h0M217.6 199.1h0M226.7 225.6h0M218.5 208.6h0M209.8 208.8h0M223.3 216.9h0M217.7 201.4h0M207.6 216.3h0M227.3 207.8h0M215.8 194.0h0M200.0 207.1h0M219.2 214.3h0M228.5 202.9h0M223.0 210.0h0M230.1 215.4h0M226.8 201.1h0M231.0 216.9h0M226.1 211.0h0M220.5 197.5h0M217.3 201.1h0M211.3 212.2h0M218.1 206.1h0M205.9 219.9h0M222.4 214.2h0M210.4 204.0h0M221.1 225.7h0M224.2 208.5h0M215.0 195.7h0M232.2 211.2h0M207.7 200.1h0M210.0 217.7h0M231.3 195.5h0M228.2 193.7h0M227.7 206.6h0M217.3 191.1h0M223.1 210.6h0M221.2 217.3h0M218.4 203.3h0M215.4 207.2h0M225.1 221.4h0M218.1 201.1h0M205.3 222.4h0M226.6 203.2h0M219.1 198.1h0M214.3 204.7h0M213.3 196.9h0M213.9 205.6h0M226.7 200.1h0M216.4 205.2h0M229.2 207.8h0M202.0 209.7h0M222.9 225.0h0M210.1 215.2h0M213.5 220.2h0M226.9 205.0h0M204.6 192.4h0M221.0 204.5h0M213.6 207.2h0M223.8 192.7h0M212.2 212.6h0M207.8 220.8h0M207.0 209.8h0M209.9 208.0h0M218.1 203.2h0M217.0 198.6h0M217.4 195.3h0M217.3 204.4h0M223.0 224.4h0M210.8 190.5h0M210.6 215.0h0M216.6 209.2h0M225.3 205.4h0M207.1 208.5h0M214.9 216.8h0M211.1 220.9h0M215.7 207.2h0M216.0 213.1h0M211.2 196.9h0M211.8 209.3h0M218.8 201.4h0M197.5 203.8h0M206.9 219.6h0M231.2 213.1h0M203.6 198.4h0M208.9 215.3h0M212.5 211.0h0M218.5 210.1h0M218.8 203.6h0M201.0 208.9h0M218.2 217.7h0M218.6 214.8h0M211.1 203.0h0M217.9 204.3h0M219.4 207.1h0M219.9 208.6h0M212.6 191.5h0M203.9 210.7h0M226.3 206.5h0M221.3 217.7h0M214.9 212.6h0M216.2 211.2h0M233.0 222.1h0M229.3 190.4h0M209.8 190.2h0M217.8 199.5h0M213.9 209.7h0M215.0 209.6h0M219.8 206.6h0M218.3 205.4h0M219.5 199.1h0M213.8 223.5h0M223.0 220.0h0M224.5 213.3h0M228.1 211.2h0M212.5 213.0h0M217.2 208.2h0M217.2 220.7h0M203.7 206.4h0M225.5 204.4h0M210.1 193.6h0M214.6 212.3h0M225.8 203.0h0M199.5 206.3h0M202.3 209.1h0M212.6 204.7h0M216.8 217.1h0M214.9 205.6h0M203.1 210.2h0M207.4 222.9h0M227.1 208.9h0M200.8 209.9h0M195.9 190.1h0M203.5 207.1h0M216.3 225.3h0M223.1 191.9h0M221.2 211.2h0M221.5 222.5h0M207.8 216.6h0M227.4 213.2h0M199.5 190.1h0M222.0 209.8h0M214.0 212.6h0M218.6 201.7h0M198.9 202.4h0M219.4 209.6h0M207.6 207.4h0M196.1 193.0h0M215.7 208.8h0M228.1 202.9h0M223.5 195.9h0M222.2 199.9h0M207.7 205.8h0M218.2 201.8h0M220.1 192.8h0M220.2 199.6h0M216.6 219.7h0M215.0 214.1h0M218.5 203.6h0M217.9 222.5h0M222.4 216.4h0M224.9 226.7h0M215.0 221.6h0M221.9 198.7h0M222.2 205.4h0M233.1 202.0h0M219.9 204.4h0M208.5 222.1h0M228.5 220.3h0M215.2 192.2h0M210.3 225.2h0M220.8 203.3h0M217.8 205.2h0M216.1 194.0h0M218.2 207.1h0M216.8 201.5h0M209.5 219.3h0M221.5 213.5h0M227.3 199.6h0M202.0 216.6h0M214.2 219.2h0M224.6 213.6h0M228.2 214.3h0M210.4 208.8h0M199.7 211.3h0M202.7 207.7h0M220.5 209.6h0M217.7 208.5h0M217.5 212.9h0M215.1 218.5h0M225.2 190.7h0M223.5 206.6h0M221.3 221.0h0M210.5 190.0h0M215.4 202.0h0M223.8 226.5h0M204.2 196.9h0M218.7 212.2h0M212.3 202.5h0M199.5 207.9h0M222.2 213.1h0M225.8 220.5h0M210.2 196.2h0M214.6 210.7h0M227.1 198.8h0M228.0 217.8h0M223.9 212.3h0M215.0 195.9h0M225.1 220.3h0M205.3 197.5h0M214.0 207.3h0M214.9 213.8h0M209.2 226.4h0M228.5 193.8h0M214.3 191.2h0M201.3 213.7h0M222.4 194.7h0M216.2 221.6h0M220.2 190.6h0M197.8 214.1h0M203.3 221.0h0M225.5 194.7h0M215.2 199.6h0M210.7 200.7h0M220.6 210.3h0M227.4 197.3h0M203.3 218.4h0M201.8 194.8h0M217.2 203.6h0M222.0 212.9h0M222.7 199.7h0M212.7 213.4h0M212.4 221.8h0M232.9 193.1h0M230.7 207.6h0M221.5 209.1h0M216.5 214.0h0M229.2 193.1h0M218.0 214.6h0M225.1 197.1h0M223.2 192.2h0M223.0 212.1h0M215.4 208.8h0M225.4 198.4h0M211.5 196.0h0M210.3 198.6h0M226.7 197.6h0M219.5 211.4h0M208.4 226.1h0M210.8 217.2h0M214.6 200.2h0M202.7 213.9h0M208.7 221.6h0M213.4 210.6h0M218.2 212.5h0M212.8 195.1h0M215.8 205.4h0M225.8 218.5h0M230.3 220.1h0M219.5 208.1h0M198.5 206.5h0M204.8 203.9h0M214.7 206.2h0M229.6 223.4h0M212.1 208.3h0M211.6 200.4h0M205.2 207.8h0M219.1 213.3h0M218.0 211.4h0M225.3 192.2h0M219.7 213.4h0M228.2 203.0h0M225.8 211.8h0M210.4 204.0h0M205.7 209.4h0M231.2 214.9h0M233.1 226.8h0M230.8 220.2h0M213.5 220.1h0M231.0 219.2h0M215.2 214.3h0M200.4 192.0h0M212.9 191.8h0M200.4 205.2h0M231.0 216.7h0M217.6 221.4h0M216.7 202.3h0M218.2 218.9h0M217.6 214.5h0M230.3 198.3h0M217.5 218.4h0M211.4 209.1h0M214.6 207.8h0M222.3 202.6h0M225.6 197.7h0M219.4 211.0h0M226.6 206.6h0M215.8 220.0h0M210.1 193.2h0M217.7 224.7h0M225.6 219.7h0M219.2 207.1h0M221.4 212.2h0M206.4 199.8h0M211.1 207.1h0M219.4 211.9h0M219.8 197.3h0M212.3 200.9h0M219.6 215.2h0M211.8 192.9h0M214.6 198.9h0M229.9 219.4h0M220.5 204.2h0M230.3 193.5h0M223.5 218.6h0M225.6 201.6h0" stroke="#ff40ff" stroke-width="1.7" stroke-linecap="round" stroke-opacity="0.95"/>
<rect x="235" y="189" width="39" height="38.8" fill="#031c24"/>
<path d="M257.8 207.6h0M244.2 198.9h0M243.6 200.5h0M238.5 222.4h0M271.0 203.3h0M245.1 211.0h0M272.8 224.1h0M256.0 191.5h0M251.6 222.8h0M251.0 191.6h0M248.2 226.7h0M253.3 225.7h0M261.2 213.1h0M260.9 210.0h0M250.2 201.2h0M250.8 217.2h0M236.5 218.3h0M252.9 203.0h0M254.0 202.7h0M264.1 198.0h0M243.8 221.2h0M255.0 190.1h0M261.3 211.0h0M237.6 225.6h0M248.5 218.0h0M251.6 197.2h0M250.8 216.9h0M260.4 205.7h0M253.0 206.3h0M247.0 193.9h0M252.9 197.5h0M261.7 194.1h0M266.9 198.0h0M243.8 198.3h0M241.4 197.1h0M244.3 214.1h0M270.8 206.2h0M239.7 220.3h0M249.4 203.5h0M249.4 198.7h0M253.8 194.1h0M254.9 213.9h0M253.6 220.3h0M253.6 196.5h0M256.6 205.3h0M243.7 200.5h0M252.1 205.2h0M249.0 190.8h0M243.5 194.8h0M265.3 203.2h0M239.6 222.8h0M238.7 215.0h0M270.6 196.2h0M253.3 199.5h0M251.0 212.0h0M267.9 209.4h0M242.8 212.1h0M240.4 199.4h0M246.3 215.5h0M258.7 205.1h0M251.6 221.0h0M256.1 210.5h0M253.3 221.4h0M240.7 221.7h0M245.7 219.9h0M271.8 190.3h0M267.6 196.6h0M269.4 191.2h0M253.8 203.9h0M250.0 206.3h0M243.7 199.3h0M239.4 210.8h0M270.8 198.8h0M260.4 216.0h0M244.3 200.1h0M258.3 189.7h0M271.1 208.3h0M248.4 199.1h0M243.4 211.2h0M248.5 197.4h0M248.7 202.9h0M269.4 203.5h0M244.2 218.4h0M238.5 203.1h0M247.9 192.6h0M239.2 211.8h0M241.4 199.7h0M246.3 204.0h0M247.1 202.5h0M244.7 210.9h0M245.4 197.5h0M241.3 195.8h0M264.8 217.4h0M241.3 225.8h0M253.0 214.6h0M258.5 210.7h0M253.3 195.8h0M253.9 221.4h0M239.6 206.8h0M246.8 196.6h0M240.5 216.5h0M243.8 212.8h0M251.6 212.5h0M249.1 222.3h0M258.3 210.7h0M262.2 226.5h0M262.9 223.0h0M248.2 219.4h0M255.1 195.2h0M241.1 219.2h0M237.2 216.5h0M270.9 199.0h0M260.5 205.5h0M254.7 213.5h0M242.7 217.6h0M255.3 192.4h0M240.9 205.6h0M245.2 198.6h0M242.9 208.2h0M244.7 222.7h0M238.3 192.1h0M248.6 193.0h0M251.6 199.9h0M239.3 216.1h0M254.2 193.1h0M243.1 206.5h0M241.3 195.1h0M261.5 208.6h0M249.6 207.6h0M239.6 196.2h0M241.3 219.6h0M257.8 193.4h0M247.4 216.6h0M245.0 207.0h0M248.4 226.0h0M241.3 203.6h0M242.2 209.3h0M250.1 213.4h0M250.5 223.1h0M245.7 208.6h0M258.8 199.5h0M259.9 199.4h0M272.6 198.7h0M257.2 222.4h0M238.7 193.1h0M255.2 202.3h0M259.4 203.2h0M242.8 202.0h0M260.4 222.1h0M271.8 191.5h0M255.4 197.7h0M272.1 209.5h0M255.5 205.3h0M250.9 213.6h0M252.7 225.5h0M243.7 194.1h0M252.6 206.6h0M252.4 211.8h0M259.3 223.7h0M239.3 198.7h0M242.9 200.2h0M260.6 198.5h0M254.4 209.5h0M252.2 192.8h0M252.2 196.3h0M261.2 209.0h0M254.8 203.0h0M258.7 199.9h0M251.3 203.7h0M264.5 207.6h0M242.5 200.1h0M242.1 203.5h0M256.0 204.9h0M249.0 218.3h0M255.4 200.5h0M266.6 199.2h0M261.0 210.8h0M243.4 196.2h0M264.3 224.7h0M252.5 223.6h0M240.3 199.7h0M239.4 211.5h0M257.7 208.2h0M243.4 208.5h0M246.1 212.6h0M250.4 222.0h0M243.3 199.1h0M252.1 207.6h0M252.3 195.7h0M258.8 225.1h0M259.4 204.2h0M250.8 194.4h0M249.3 192.3h0M246.9 194.1h0M261.1 218.3h0M251.2 207.8h0M249.9 199.4h0M236.5 216.1h0M253.6 196.0h0M249.4 201.0h0M255.9 224.2h0M247.8 192.5h0M247.0 198.4h0M263.6 219.8h0M266.7 199.9h0M251.6 224.4h0M267.5 207.5h0M249.1 210.2h0M243.8 216.1h0M252.4 194.8h0M258.7 224.3h0M247.3 217.4h0M247.1 209.0h0M270.6 195.2h0M238.0 198.9h0M253.2 204.9h0M241.9 208.5h0M259.1 192.2h0M263.0 206.7h0M247.5 209.4h0M242.5 223.1h0M253.6 218.0h0M264.2 208.7h0M264.0 207.1h0M236.9 226.5h0M244.6 218.5h0M247.6 204.0h0M258.9 222.8h0M247.3 219.7h0M254.3 191.2h0M240.2 225.5h0M260.7 190.8h0M239.1 198.6h0M261.0 202.6h0M260.0 205.9h0M258.3 195.7h0M269.3 200.7h0M261.0 196.2h0M243.3 223.6h0M243.5 217.0h0M247.8 211.3h0M258.4 199.2h0M256.5 198.6h0M249.6 216.4h0M237.7 219.0h0M255.7 222.7h0M266.0 207.3h0M261.3 190.4h0M256.3 223.9h0M250.1 194.9h0M242.1 204.6h0M240.8 208.2h0M264.5 206.8h0M253.5 211.1h0M239.7 221.7h0M240.0 217.9h0M257.7 200.1h0M249.3 196.1h0M250.5 218.0h0M241.0 217.9h0M240.4 224.2h0M243.4 193.8h0M240.0 209.4h0M254.4 200.2h0M243.8 219.7h0M239.1 215.4h0M247.6 223.4h0M246.6 221.8h0M249.6 195.3h0M250.9 197.8h0M240.8 205.6h0M251.8 214.8h0M239.8 191.9h0M250.3 223.5h0M240.5 205.0h0M258.7 212.8h0M246.9 219.6h0M267.8 215.8h0M254.3 217.2h0M245.1 210.8h0M269.7 220.6h0M241.8 221.9h0M257.5 197.9h0M236.8 195.1h0M268.6 219.0h0M243.6 220.4h0M238.4 190.2h0M242.0 193.2h0M239.7 198.8h0M248.7 191.4h0M261.8 195.4h0M237.5 189.7h0M252.4 196.4h0M249.3 223.0h0M262.2 196.9h0M253.7 215.8h0M262.6 211.0h0M240.8 215.8h0M238.9 215.3h0M237.5 218.3h0M254.4 208.4h0M266.0 211.9h0M260.0 194.3h0M258.5 201.7h0M241.4 195.6h0M258.4 205.3h0M243.9 210.1h0M265.5 195.0h0M264.5 224.2h0M245.8 212.0h0M240.2 217.7h0M250.2 225.8h0M242.8 203.9h0M259.6 211.2h0M255.9 223.3h0M261.2 192.8h0M271.7 218.5h0M238.5 208.7h0M244.7 214.9h0M266.5 196.6h0M250.3 202.8h0M256.0 221.4h0M250.1 213.7h0M243.8 210.0h0M241.2 209.4h0M240.9 201.8h0M245.4 205.0h0M257.4 208.4h0M248.6 210.4h0M246.0 212.4h0M256.6 213.7h0M255.3 197.9h0M243.2 210.7h0M252.5 226.7h0M265.5 211.8h0M249.6 199.9h0M239.3 199.5h0M258.9 201.9h0M248.3 204.1h0M235.9 199.9h0M252.0 219.4h0M247.8 224.5h0M252.7 226.9h0M258.9 205.0h0M255.4 198.9h0M244.6 196.5h0M262.6 214.1h0M254.3 201.9h0M243.7 207.3h0M252.1 217.4h0M246.8 223.0h0M247.1 190.4h0M259.5 221.7h0M246.8 213.4h0M261.5 213.5h0M256.0 206.5h0M239.8 202.9h0M256.4 212.6h0M253.4 203.4h0M249.7 221.6h0M247.1 195.0h0M246.5 194.6h0M255.6 200.4h0M247.4 190.7h0M263.3 219.7h0M242.9 192.3h0M251.2 211.7h0M263.4 190.8h0M247.5 217.1h0M258.8 221.6h0M243.7 221.4h0M254.0 199.0h0M247.4 190.6h0M244.1 220.4h0M239.0 198.7h0M252.1 196.7h0M255.2 199.0h0M252.1 198.1h0M252.1 219.9h0M268.6 212.6h0M246.2 210.1h0M248.4 196.4h0M255.5 207.9h0M242.0 209.7h0M242.2 207.0h0M258.9 221.7h0M269.4 220.6h0M258.4 193.7h0M264.9 213.8h0M257.9 199.5h0M245.7 211.5h0M235.8 207.7h0M257.6 224.9h0M255.0 213.1h0M250.8 215.6h0M258.5 191.0h0M255.3 213.4h0M243.5 202.9h0M253.3 214.3h0M260.2 204.0h0M250.3 209.1h0M244.8 194.3h0M255.1 198.6h0M247.0 196.7h0M261.8 222.6h0M271.3 204.6h0M249.1 192.4h0M239.9 195.5h0M254.5 193.7h0M245.3 225.5h0M241.4 223.6h0M263.3 210.9h0M263.3 193.1h0M241.0 205.6h0M270.5 204.9h0M259.2 213.9h0M240.7 197.6h0M256.5 226.8h0M250.3 226.1h0M257.3 200.3h0M258.9 193.6h0M242.0 191.3h0M245.0 203.6h0M246.6 225.4h0M255.8 212.6h0M270.2 208.3h0M242.1 195.9h0M241.7 195.0h0M254.7 195.3h0M255.4 200.1h0M261.7 204.8h0M254.1 207.0h0M263.4 190.0h0M240.9 190.4h0M239.4 191.5h0M270.6 207.5h0M242.9 202.9h0M250.3 220.3h0M243.8 207.7h0M248.7 199.4h0M239.6 224.5h0M259.4 201.0h0M240.1 206.1h0M251.2 197.5h0M262.6 204.1h0M254.4 195.9h0M257.3 220.4h0M248.6 224.1h0M249.2 207.3h0M248.7 196.2h0M238.6 204.4h0M263.3 211.4h0M242.0 206.2h0M263.5 192.4h0M249.5 200.4h0M245.8 201.4h0M259.6 215.3h0M260.0 207.4h0M272.4 204.8h0M261.0 204.0h0M246.5 195.6h0M252.2 223.1h0M259.0 217.4h0M242.3 214.4h0M257.2 219.1h0M243.9 191.5h0M245.1 194.5h0M241.6 198.1h0M271.5 206.1h0M261.3 195.7h0M247.8 202.9h0M262.5 196.0h0M242.7 193.9h0M243.3 196.2h0M264.5 225.1h0M248.2 214.9h0M235.7 196.8h0M240.5 220.8h0M250.5 198.6h0M262.2 205.1h0M237.8 220.4h0M266.3 207.8h0M252.3 205.2h0M251.5 198.2h0M247.0 204.1h0M255.5 202.6h0M238.7 192.0h0M259.6 210.9h0M244.6 197.1h0M249.5 190.4h0M248.0 215.5h0M252.4 215.5h0M236.7 190.1h0M254.5 200.3h0M245.9 195.9h0M259.7 210.3h0M252.3 206.1h0M242.7 202.1h0M264.2 204.1h0M268.1 201.3h0M242.7 199.0h0M250.9 202.1h0M248.6 192.0h0M254.8 197.6h0M246.1 202.8h0M269.2 210.2h0M244.4 219.9h0M243.5 194.5h0M248.6 208.6h0M254.0 199.8h0M239.3 224.9h0M262.1 199.1h0M259.5 206.3h0M244.0 197.8h0M243.3 209.6h0M253.4 197.9h0M241.8 201.7h0M252.6 213.3h0M254.7 218.1h0M252.9 204.2h0M250.3 218.4h0M241.2 192.1h0M240.0 212.7h0M245.4 206.2h0M239.9 203.2h0M243.9 212.3h0M253.5 214.8h0M252.1 202.8h0M245.4 216.7h0M251.5 194.7h0M254.3 204.7h0M259.4 215.3h0M265.6 195.1h0M249.1 219.7h0M236.7 196.7h0M245.8 216.6h0M250.8 221.0h0M265.5 199.5h0M248.1 192.8h0M237.5 201.3h0M263.8 213.1h0M251.4 190.0h0M247.9 215.5h0M268.3 190.0h0M252.6 195.0h0M267.7 224.1h0M262.5 192.7h0M243.2 192.5h0M263.3 195.2h0M257.5 190.7h0M269.2 198.3h0M254.8 209.8h0M259.1 209.8h0M255.7 215.9h0M261.6 212.9h0M262.9 200.8h0M247.7 209.2h0M242.5 195.3h0M239.5 191.6h0M257.1 196.8h0M243.5 207.5h0M254.2 208.9h0M245.1 191.5h0M258.0 189.8h0M244.3 226.4h0M259.4 200.1h0M262.9 202.5h0M247.7 219.0h0M265.6 221.0h0M272.9 214.5h0M246.1 206.7h0M273.1 200.1h0M259.4 219.3h0M237.2 201.4h0M239.6 204.5h0M247.1 194.2h0M237.0 210.1h0M247.4 191.8h0M251.3 213.0h0M260.4 211.3h0M243.3 201.6h0M263.7 196.1h0M240.2 197.0h0M247.4 214.4h0M243.0 214.6h0M246.1 190.2h0M260.9 206.4h0M270.1 199.3h0M260.8 192.7h0M256.5 212.4h0M238.3 196.5h0M245.0 214.7h0M240.3 203.8h0M250.2 194.3h0M244.9 218.6h0M257.0 197.7h0M241.2 216.6h0M265.9 191.3h0M245.1 198.9h0M243.8 211.9h0M261.6 207.8h0M246.4 211.4h0M241.4 222.1h0M259.8 196.2h0M251.3 223.9h0M268.6 206.3h0M269.0 199.6h0M242.1 197.5h0M247.8 190.4h0M245.9 193.2h0M242.4 192.4h0M263.7 215.6h0M248.0 192.0h0M252.2 200.8h0M265.2 212.1h0M244.7 225.0h0M266.0 192.5h0M253.7 217.3h0M266.7 200.4h0M245.3 195.8h0M242.9 224.0h0M247.4 210.1h0M253.2 199.1h0M255.1 201.3h0M256.7 204.7h0M236.7 213.7h0M259.6 195.6h0M267.2 202.7h0M240.5 223.2h0M243.9 190.5h0M240.7 197.4h0M269.2 201.5h0M250.9 212.1h0M251.8 216.7h0M250.4 215.1h0M248.0 217.0h0M241.1 206.4h0M265.4 194.9h0M253.7 198.9h0M263.0 220.0h0M240.5 193.1h0M243.0 210.3h0M251.7 218.8h0M249.5 213.0h0M237.3 195.0h0M250.8 204.7h0M251.8 198.2h0M264.1 216.5h0M252.3 209.5h0M264.2 226.8h0M256.5 194.2h0M252.8 204.3h0M253.3 208.9h0M258.4 212.0h0M235.7 217.4h0M261.0 209.8h0M254.6 209.7h0M240.2 204.6h0M252.2 210.9h0M250.8 203.0h0M251.1 208.7h0M243.9 196.9h0M247.9 196.2h0M244.8 203.9h0M250.0 196.9h0M250.8 210.0h0M236.1 215.5h0M236.3 197.8h0M251.5 203.6h0M257.3 204.3h0M268.7 209.4h0M238.8 206.7h0M251.9 224.4h0M248.1 212.8h0M253.1 213.5h0M252.1 206.6h0M258.1 208.3h0M236.3 212.2h0M237.0 221.0h0M259.9 197.7h0M265.7 210.2h0M265.4 202.7h0M237.3 201.1h0M235.7 225.7h0M246.5 192.5h0M241.3 197.5h0M254.7 193.2h0M242.0 224.3h0M267.7 218.2h0M240.4 205.7h0M243.6 205.7h0M260.1 190.1h0M267.2 214.6h0M249.1 195.4h0M237.8 195.0h0M260.2 200.2h0M253.3 211.5h0M267.5 223.6h0M236.6 204.9h0M269.4 205.9h0M249.5 204.8h0M246.4 198.3h0M241.1 196.8h0M266.6 224.9h0M271.8 206.2h0M249.6 196.8h0M253.1 201.9h0M236.5 210.1h0M271.9 192.8h0M260.1 208.4h0M257.4 196.7h0M243.2 204.9h0M238.8 191.6h0M249.6 214.7h0M243.7 216.9h0M246.2 219.4h0M259.8 215.6h0M249.1 218.8h0M248.4 198.2h0M247.9 213.8h0M258.8 216.6h0M235.7 197.7h0M236.6 208.1h0M270.3 203.2h0M263.1 196.1h0M250.2 203.0h0M248.0 198.1h0M255.1 197.0h0M258.2 207.2h0M255.2 223.1h0M272.1 194.0h0M238.1 212.2h0M251.6 208.9h0M238.9 208.6h0M253.1 207.2h0M251.7 208.3h0M266.2 190.0h0M244.5 196.3h0M244.3 199.4h0M255.1 214.6h0M266.2 210.3h0M237.2 192.2h0M242.4 214.9h0M270.6 218.0h0M256.0 219.8h0M249.3 220.0h0M258.9 190.7h0M239.2 193.5h0M260.4 200.8h0M245.8 220.1h0M255.7 214.1h0M273.0 221.7h0M254.5 216.4h0M261.3 223.9h0M251.3 221.6h0M257.0 203.7h0M244.1 201.1h0M239.5 196.6h0M243.7 201.7h0M255.4 204.4h0M243.8 207.0h0M253.0 219.0h0M243.5 206.7h0M249.5 224.8h0M240.7 205.4h0M237.7 197.9h0M272.1 212.4h0M268.0 193.9h0M247.6 211.6h0M248.6 209.7h0M240.4 212.1h0M243.0 207.8h0M241.4 207.3h0M250.1 208.6h0M237.3 223.1h0M245.5 222.0h0M244.8 191.1h0M239.2 200.1h0M260.9 209.8h0M261.8 203.6h0M240.4 216.2h0M258.4 206.4h0M254.6 205.0h0M248.5 213.7h0M244.6 208.8h0M247.1 217.7h0M248.3 224.1h0M249.1 216.8h0M267.9 212.6h0M249.8 206.5h0M236.3 216.8h0M237.7 190.6h0M254.1 208.6h0M243.4 213.8h0M243.4 223.1h0M253.6 205.1h0M249.8 195.0h0M238.2 224.9h0M245.3 195.7h0M247.3 205.2h0M269.6 190.6h0M236.6 214.6h0M254.4 199.7h0M260.8 205.1h0M266.2 202.7h0" stroke="#1a8ca8" stroke-width="1.9" stroke-linecap="round" stroke-opacity="0.85"/>
<path d="M242.2 200.8h0M262.5 193.7h0M248.7 195.7h0M266.3 211.4h0M248.5 194.4h0M271.1 216.2h0M255.9 215.0h0M240.5 222.1h0M242.3 210.3h0M244.5 216.5h0M254.8 190.5h0M240.6 205.5h0M252.7 219.5h0M242.0 192.8h0M241.8 211.4h0M259.7 205.4h0M249.5 194.8h0M263.7 195.1h0M250.5 203.3h0M240.4 203.5h0M249.0 211.7h0M250.8 225.8h0M260.4 212.8h0M247.4 210.8h0M247.4 211.1h0M253.2 210.1h0M256.2 200.0h0M244.2 199.5h0M267.2 194.5h0M237.5 216.7h0M238.0 190.9h0M262.4 223.3h0M240.9 207.1h0M244.9 216.3h0M250.2 196.9h0M250.4 190.0h0M250.2 192.8h0M255.8 215.0h0M261.6 200.4h0M253.9 202.3h0M253.3 219.5h0M268.3 224.3h0M253.7 208.1h0M251.3 206.8h0M261.0 197.6h0M237.5 191.0h0M249.1 190.4h0M245.3 209.7h0M255.7 226.4h0M243.0 207.1h0M255.9 205.0h0M259.7 222.5h0M244.4 210.0h0M242.5 221.9h0M255.8 193.6h0M262.2 205.4h0M261.5 218.0h0M242.4 190.4h0M235.7 218.2h0M250.3 203.1h0M254.2 217.5h0M243.8 226.4h0M268.3 220.3h0M243.9 191.7h0M244.5 202.8h0M251.2 209.7h0M244.8 198.2h0M250.8 210.2h0M255.7 209.7h0M237.0 221.8h0M271.8 200.1h0M243.0 223.9h0M250.8 209.2h0M256.8 208.4h0M241.8 221.4h0M244.0 196.8h0M244.7 198.5h0M269.5 197.5h0M240.4 202.1h0M263.8 201.2h0M258.5 214.8h0M254.4 214.0h0M239.4 211.9h0M249.9 202.4h0M249.4 206.5h0M253.4 217.5h0M263.7 197.0h0M264.5 190.3h0M238.3 211.2h0M252.2 208.2h0M250.9 208.1h0M247.2 201.6h0M247.4 207.8h0M256.0 200.8h0M247.7 202.8h0M253.9 209.6h0M248.0 201.9h0M246.4 202.9h0M253.1 206.2h0M248.4 204.9h0M244.1 216.1h0M249.0 204.5h0M269.6 214.9h0M244.4 210.3h0M260.6 200.0h0M248.6 200.8h0M255.7 189.8h0M255.0 193.5h0M237.3 202.1h0M240.1 193.2h0M243.8 220.0h0M238.4 196.4h0M247.5 208.5h0M240.4 207.2h0M255.4 216.0h0M257.5 206.9h0M263.1 191.3h0M243.3 197.2h0M249.0 208.1h0M240.4 200.9h0M253.8 207.0h0M253.3 221.8h0M244.6 195.1h0M272.4 205.1h0M265.7 206.0h0M259.8 210.9h0M261.0 202.4h0M255.0 209.7h0M243.9 194.5h0M251.2 208.3h0M261.2 194.3h0M255.1 217.9h0M257.3 211.2h0M266.3 202.7h0M247.2 202.1h0M244.8 198.3h0M257.1 217.6h0M239.2 201.7h0M245.1 210.1h0M241.5 204.3h0M249.8 217.5h0M251.1 213.8h0M241.0 194.1h0M240.1 209.3h0M239.3 201.7h0M248.4 217.7h0M256.5 212.3h0M242.1 217.8h0M248.6 201.0h0M256.4 192.8h0M252.4 210.4h0M249.5 211.6h0M248.9 223.8h0M260.7 215.2h0M253.0 214.5h0M259.3 217.3h0M265.9 191.2h0M244.0 200.0h0M247.0 208.3h0M254.3 210.4h0M243.7 190.8h0M238.3 212.1h0M238.2 198.7h0M246.8 221.0h0M240.5 211.6h0M248.3 198.8h0M239.3 207.2h0M243.9 216.5h0M252.6 191.5h0M249.4 190.7h0M260.4 225.1h0M250.7 216.1h0M257.1 208.5h0M243.6 206.1h0M250.9 195.8h0M258.2 214.4h0M263.3 208.9h0M237.7 220.4h0M240.9 201.9h0M244.0 220.7h0M246.1 191.4h0M253.0 198.7h0M239.5 216.6h0M253.3 194.0h0M245.1 192.8h0M238.6 209.4h0M264.5 200.1h0M258.6 204.0h0M247.7 207.8h0M252.3 194.8h0M262.6 192.2h0M237.8 213.3h0M249.0 192.9h0M266.8 207.7h0M246.1 190.3h0M245.8 199.2h0M236.5 212.4h0M244.1 218.4h0M256.4 209.4h0M235.9 210.8h0M252.8 209.3h0M239.3 192.7h0M236.4 206.5h0M238.7 204.6h0M272.2 190.1h0M251.6 217.6h0M245.1 202.0h0M260.9 224.8h0M241.9 197.2h0M268.9 206.8h0M237.3 198.9h0M240.7 196.6h0M238.3 212.4h0M249.5 208.5h0M244.0 212.5h0M263.4 205.2h0M257.9 196.0h0M267.0 213.5h0M257.7 216.2h0M238.8 204.9h0M265.6 200.2h0M250.1 205.7h0M244.8 208.2h0M250.2 212.3h0M251.4 212.0h0M240.9 191.6h0M238.6 199.9h0M241.5 197.0h0M251.5 198.5h0M255.5 215.2h0M237.8 210.6h0M243.7 211.6h0M243.9 197.7h0M255.9 204.1h0M254.3 195.2h0M263.9 225.3h0M262.0 202.5h0M238.3 201.0h0M258.9 193.2h0M250.6 219.4h0M245.5 215.6h0M241.4 204.6h0M256.5 211.8h0M260.7 223.8h0M243.6 194.7h0M249.1 210.9h0M254.9 206.0h0M248.1 203.0h0M257.0 221.2h0M249.0 192.0h0M238.9 214.0h0M241.8 225.2h0M241.4 202.7h0M264.1 196.6h0M239.7 196.7h0M248.0 195.1h0M250.5 216.6h0M236.9 199.9h0M255.4 218.0h0M240.5 190.7h0M253.4 206.8h0M250.4 215.6h0M257.8 202.3h0M247.0 217.9h0M240.4 193.0h0M264.9 218.0h0M242.7 196.0h0M247.7 199.3h0M246.4 214.8h0M265.9 197.3h0M254.1 192.3h0M237.7 208.1h0M255.2 194.3h0M244.1 205.0h0M247.4 191.2h0M247.7 209.8h0M253.8 200.9h0M267.0 206.2h0M255.8 205.7h0M254.0 205.8h0M252.1 198.2h0M247.7 226.0h0M240.9 189.8h0M255.4 194.4h0M262.5 223.3h0M247.7 211.0h0M244.1 200.2h0M253.5 225.0h0M238.4 219.2h0M263.6 203.4h0M239.3 202.8h0M241.0 210.7h0M259.3 205.4h0M239.9 202.5h0M254.5 213.2h0M255.4 224.7h0M248.3 196.7h0M247.7 218.4h0M238.3 224.0h0M239.1 218.9h0M255.9 212.0h0M241.9 201.6h0M247.3 220.7h0M244.6 201.8h0M254.9 204.5h0M248.3 209.2h0M246.8 192.1h0M241.4 217.5h0M260.9 196.8h0M254.8 213.3h0M270.7 195.7h0M249.8 193.6h0M255.5 212.1h0M248.4 205.9h0M250.7 205.4h0M248.4 193.2h0M257.7 216.9h0M249.5 194.0h0M244.7 191.8h0M264.8 209.2h0M239.3 207.2h0M247.8 209.9h0M247.1 207.0h0M247.1 202.6h0M257.8 211.7h0M262.4 203.4h0M244.6 219.5h0M242.7 191.0h0M251.4 207.6h0M251.0 218.6h0M266.0 213.3h0M237.8 195.4h0M267.9 202.1h0M264.0 199.5h0M258.4 218.2h0M249.2 223.1h0M251.0 202.3h0M252.7 213.8h0M248.0 193.9h0M238.2 204.1h0M245.2 196.8h0M247.1 197.8h0M243.1 209.9h0M253.1 200.4h0M256.1 210.0h0M246.4 210.9h0M259.6 225.9h0M273.2 205.2h0M248.0 196.6h0M244.0 215.0h0M239.2 193.3h0M236.3 195.2h0M248.9 206.0h0M237.4 206.3h0M243.4 207.9h0M242.1 215.9h0M253.3 219.9h0M265.3 202.9h0M246.6 206.7h0M239.0 211.5h0M255.3 206.7h0M243.1 206.8h0M243.7 209.9h0M252.9 215.2h0M254.3 214.8h0M247.9 221.5h0M247.2 210.0h0M246.5 202.3h0M242.7 218.6h0M263.5 190.2h0M246.4 206.5h0M248.7 197.6h0M252.8 222.0h0M241.6 214.1h0M256.3 207.1h0M245.2 204.3h0M237.6 189.9h0M263.3 223.9h0M253.7 198.6h0M260.6 222.1h0M252.9 208.4h0M262.6 210.0h0M245.7 193.4h0M258.1 207.6h0M261.3 201.4h0M244.0 217.9h0M236.0 210.7h0M254.4 216.4h0M247.0 223.1h0M254.6 218.0h0M256.4 195.9h0M255.5 194.6h0M265.4 190.9h0M239.5 209.6h0M248.6 221.5h0M239.2 219.4h0M249.7 217.8h0M255.8 211.3h0M250.6 217.5h0M253.3 213.0h0M253.8 198.7h0M245.7 194.2h0M260.4 204.6h0M244.4 221.2h0M262.9 213.5h0M267.8 201.8h0M248.7 212.5h0M242.0 195.7h0M263.1 219.8h0" stroke="#48e4fa" stroke-width="1.3" stroke-linecap="round" stroke-opacity="0.95"/>
<rect x="275" y="189" width="38.5" height="38.8" fill="#162424"/>
<path d="M292.8 202.1h0M309.9 203.5h0M276.0 221.6h0M296.8 200.4h0M300.3 206.6h0M290.9 193.2h0M277.3 209.1h0M278.6 216.0h0M280.1 208.5h0M295.9 206.4h0M301.2 190.4h0M280.7 201.2h0M302.2 194.1h0M294.2 226.6h0M279.3 190.8h0M291.8 200.6h0M290.2 207.3h0M284.2 213.1h0M298.6 215.3h0M282.1 200.4h0M304.8 219.9h0M283.6 219.1h0M282.9 208.7h0M277.3 198.9h0M304.4 198.6h0M287.1 209.9h0M278.9 210.1h0M281.3 204.6h0M290.9 219.2h0M294.1 207.0h0M285.8 189.9h0M294.3 195.5h0M305.7 206.2h0M305.6 208.8h0M291.2 198.7h0M300.4 210.0h0M277.5 192.6h0M306.0 220.7h0M287.5 205.0h0M286.9 193.5h0M290.5 217.6h0M283.9 198.7h0M281.5 202.3h0M288.6 191.0h0M282.1 209.8h0M294.9 211.5h0M278.2 225.5h0M297.5 214.7h0M302.2 213.9h0M302.4 191.5h0M298.5 211.6h0M296.7 215.0h0M281.8 202.0h0M299.6 194.3h0M311.9 197.5h0M294.9 198.9h0M279.9 190.9h0M287.0 224.7h0M291.8 203.9h0M286.6 190.4h0M282.1 211.3h0M300.0 196.6h0M276.2 213.2h0M276.0 213.4h0M307.0 215.9h0M281.1 193.8h0M278.4 194.1h0M297.9 204.1h0M290.7 210.4h0M288.4 189.8h0M285.5 210.8h0M283.6 198.1h0M298.7 198.8h0M302.9 202.0h0M280.3 223.4h0M288.2 214.2h0M292.4 226.7h0M279.6 202.5h0M299.4 203.0h0M281.7 208.7h0M304.4 225.5h0M281.2 192.0h0M294.3 222.0h0M296.2 202.9h0M288.9 202.5h0M299.8 207.3h0M289.9 209.3h0M278.6 209.9h0M298.1 204.9h0M304.3 210.1h0M291.2 192.4h0M295.2 214.2h0M297.2 211.7h0M280.6 206.3h0M288.2 196.8h0M275.8 194.3h0M305.4 216.9h0M276.4 223.4h0M310.7 220.7h0M282.9 211.1h0M284.7 200.0h0M281.5 207.2h0M276.4 204.3h0M299.5 212.9h0M283.5 212.0h0M292.1 195.8h0M299.8 192.9h0M289.3 193.5h0M307.3 194.7h0M301.2 194.9h0M280.0 218.6h0M282.6 199.4h0M289.2 201.0h0M290.7 195.1h0M286.8 209.8h0M291.9 214.7h0M277.2 215.7h0M284.2 213.5h0M276.0 195.5h0M279.4 190.4h0M284.1 196.2h0M290.3 199.3h0M279.0 218.9h0M292.6 197.7h0M284.0 204.6h0M296.1 221.1h0M305.1 213.6h0M280.7 195.5h0M297.0 224.4h0M312.7 208.8h0M276.8 191.6h0M306.0 216.4h0M311.7 207.6h0M294.9 207.2h0M283.1 211.2h0M307.2 200.3h0M292.9 203.2h0M297.3 214.6h0M294.5 209.4h0M291.9 201.3h0M296.8 202.2h0M290.6 211.0h0M293.6 192.8h0M284.7 223.3h0M292.2 211.4h0M294.2 190.7h0M284.7 200.0h0M285.6 204.6h0M283.7 221.1h0M295.9 222.4h0M294.7 220.8h0M276.6 200.1h0M280.3 211.0h0M294.0 225.8h0M279.3 214.1h0M297.7 205.5h0M302.7 210.1h0M283.4 225.1h0M276.2 204.4h0M295.4 194.7h0M283.9 226.3h0M296.8 211.8h0M280.6 198.2h0M279.9 192.2h0M290.5 219.0h0M290.6 206.8h0M295.0 206.7h0M300.2 205.1h0M310.3 209.3h0M292.8 194.3h0M280.2 194.1h0M289.3 195.5h0M298.3 199.2h0M306.3 197.2h0M303.4 216.8h0M291.6 208.6h0M291.5 201.8h0M281.5 200.7h0M286.0 202.0h0M277.5 224.0h0M302.7 205.4h0M284.0 194.8h0M291.2 214.3h0M301.3 197.5h0M277.4 221.3h0M304.1 196.6h0M292.9 205.6h0M283.8 226.4h0M297.2 194.9h0M280.5 197.5h0M287.6 215.2h0M286.1 199.2h0M283.4 190.4h0M286.0 204.8h0M297.1 207.1h0M300.1 207.5h0M293.7 196.6h0M277.4 191.3h0M276.6 204.2h0M294.9 190.1h0M288.7 201.9h0M292.3 210.1h0M280.3 203.6h0M281.5 215.0h0M302.6 194.0h0M282.8 200.0h0M280.7 203.4h0M292.6 206.3h0M289.1 199.3h0M279.3 217.5h0M282.0 224.3h0M286.9 225.0h0M305.1 212.1h0M279.2 199.5h0M293.0 197.1h0M281.7 191.2h0M284.9 196.2h0M284.0 202.1h0M294.9 201.8h0M277.2 225.9h0M286.9 216.1h0M292.7 208.7h0M296.6 203.9h0M284.5 209.8h0M282.5 219.0h0M297.7 224.5h0M278.2 219.0h0M282.9 215.2h0M291.7 195.7h0M297.2 221.5h0M282.4 212.6h0M292.6 191.0h0M286.7 195.8h0M280.6 199.9h0M293.5 210.2h0M286.6 215.4h0M289.4 222.5h0M287.9 212.7h0M279.3 202.3h0M293.0 192.6h0M292.6 203.4h0M286.7 201.6h0M287.2 218.2h0M302.0 191.8h0M280.4 194.4h0M285.7 219.2h0M292.7 203.4h0M290.9 219.1h0M282.5 208.9h0M308.6 194.1h0M297.2 192.4h0M281.3 214.4h0M297.5 211.5h0M288.5 199.2h0M287.0 198.4h0M294.0 208.0h0M295.7 210.7h0M306.8 202.5h0M286.1 190.4h0M298.0 193.2h0M281.8 205.8h0M276.8 220.9h0M281.6 199.3h0M279.9 207.5h0M312.3 213.2h0M286.2 204.4h0M294.7 205.4h0M290.5 217.1h0M291.8 224.4h0M296.3 197.2h0M304.1 203.9h0M297.1 208.2h0M306.0 213.5h0M295.2 193.5h0M281.3 199.5h0M284.7 217.3h0M302.5 214.1h0M280.8 193.8h0M309.1 205.6h0M282.3 196.2h0M304.1 207.7h0M311.7 190.5h0M280.6 196.8h0M299.4 198.3h0M276.1 201.2h0M294.7 222.5h0M292.1 219.2h0M289.8 214.5h0M275.9 218.8h0M301.6 216.7h0M278.1 211.7h0M276.8 226.2h0M310.7 191.1h0M282.7 193.9h0M295.1 221.5h0M299.8 192.0h0M278.1 201.4h0M301.1 212.5h0M279.6 198.3h0M290.9 213.8h0M293.7 224.9h0M282.9 209.5h0M309.6 203.8h0M281.6 200.7h0M287.6 191.7h0M286.0 218.4h0M300.6 215.8h0M301.1 220.6h0M287.4 194.8h0M285.9 206.9h0M280.8 198.1h0M283.4 195.4h0M296.3 207.6h0M294.7 224.4h0M302.8 200.8h0M279.4 209.5h0M297.6 221.4h0M288.8 208.3h0M287.8 209.8h0M292.9 189.9h0M285.2 203.1h0M279.1 215.2h0M276.0 226.6h0M287.4 202.4h0M300.9 192.1h0M298.1 222.7h0M290.2 205.5h0M306.8 201.9h0M286.9 219.9h0M279.8 212.8h0M298.9 195.5h0M305.8 190.0h0M296.9 191.3h0M286.5 204.7h0M283.1 200.3h0M293.1 205.6h0M297.7 198.5h0M277.3 201.3h0M281.0 226.6h0M289.6 215.8h0M278.6 195.3h0M299.1 205.0h0M283.5 206.6h0M284.5 207.0h0M284.7 202.8h0M293.5 200.0h0M291.1 199.1h0M281.7 198.8h0M290.4 201.5h0M286.6 202.8h0M297.8 211.6h0M299.5 210.0h0M293.4 207.1h0M283.5 207.3h0M288.7 204.2h0M299.6 195.6h0M307.6 223.5h0M285.3 219.6h0M280.5 219.7h0M278.2 220.9h0M293.4 198.0h0M301.7 220.3h0M289.6 202.1h0M290.1 206.8h0M277.7 197.1h0M276.3 199.7h0M306.9 198.2h0M298.2 204.7h0M278.5 208.8h0M301.6 208.5h0M277.7 212.2h0M289.6 216.3h0M302.2 194.9h0M297.3 212.8h0M287.9 212.5h0M276.5 205.6h0M284.8 192.9h0M307.6 204.8h0M298.9 197.2h0M291.7 213.7h0M293.7 198.1h0M290.1 218.8h0M276.3 191.5h0M280.2 212.5h0M299.9 194.2h0M283.4 197.9h0M304.1 217.1h0M277.3 207.3h0M285.5 215.6h0M291.1 219.9h0M286.7 212.7h0M286.0 200.5h0M302.6 203.9h0M284.5 192.4h0M300.0 205.2h0M276.3 194.8h0M284.6 213.0h0M297.7 217.1h0M299.0 211.3h0M293.5 222.6h0M285.2 223.2h0M294.7 215.4h0M285.7 202.4h0M278.7 193.7h0M289.1 209.0h0M299.8 206.7h0M286.1 204.1h0M276.4 203.9h0M293.6 199.1h0M285.5 205.7h0M290.6 216.3h0M310.7 197.2h0M306.4 194.6h0M290.0 191.2h0M289.3 193.2h0M285.0 198.2h0M284.2 201.9h0M293.5 210.3h0M295.2 211.8h0M301.7 194.6h0M296.0 222.4h0M295.5 215.1h0M279.4 209.2h0M281.1 210.1h0M290.1 197.2h0M282.2 199.1h0M286.8 224.5h0M277.8 209.4h0M297.1 206.1h0M302.1 195.1h0M311.8 190.1h0M285.1 206.1h0M282.7 199.8h0M281.0 194.7h0M283.7 196.8h0M278.1 198.7h0M277.3 202.4h0M280.4 201.0h0M302.6 195.5h0M285.2 206.4h0M287.1 213.3h0M279.5 214.2h0M287.9 191.8h0M286.2 222.0h0M298.4 210.5h0M309.4 211.7h0M288.1 219.5h0M299.0 197.5h0M304.6 193.2h0M284.0 203.1h0M296.2 204.1h0M295.3 206.6h0M275.7 210.0h0M281.6 193.0h0M295.8 199.6h0M281.3 217.8h0M294.2 207.2h0M302.7 191.3h0M284.3 194.1h0M309.1 214.4h0M309.2 212.4h0M312.2 212.1h0M282.8 198.8h0M304.0 223.7h0M280.7 217.5h0M282.3 194.3h0M283.7 219.3h0M292.1 209.0h0M299.0 193.9h0M288.1 201.6h0M311.4 194.3h0M284.4 203.2h0M302.4 215.6h0M290.4 193.9h0M299.7 195.7h0M286.0 201.1h0M288.6 197.5h0M301.4 195.1h0M277.9 201.6h0M279.6 191.8h0M296.9 203.7h0M283.4 204.5h0M278.1 197.2h0M296.5 210.0h0M305.3 193.7h0M292.7 211.8h0M292.9 202.4h0M308.8 191.1h0M278.7 220.2h0M289.2 219.7h0M307.0 206.7h0M281.5 203.5h0M281.0 210.6h0M281.6 201.7h0M277.9 217.7h0M284.1 192.4h0M300.5 191.0h0M283.6 208.7h0M305.3 208.8h0M285.7 215.3h0M296.4 217.1h0M281.3 202.9h0M294.1 221.6h0M293.1 202.1h0M294.3 209.8h0M296.5 200.0h0M300.3 197.6h0M296.9 221.8h0M278.6 203.3h0M293.0 201.4h0M308.2 211.3h0M308.2 207.0h0M281.7 197.4h0M301.4 195.2h0M287.5 223.9h0M288.7 202.4h0M296.3 211.8h0M295.2 205.9h0M299.7 218.4h0M297.2 198.8h0M283.8 193.6h0M290.1 216.4h0M288.2 216.0h0M288.6 195.5h0M282.4 197.5h0M290.0 226.8h0M285.8 214.1h0M277.6 205.2h0M290.1 213.1h0M285.8 192.2h0M294.5 200.8h0M282.3 205.9h0M285.4 210.3h0M312.5 205.8h0M290.1 190.6h0M284.1 202.2h0M311.0 190.3h0M307.0 201.6h0M282.1 211.6h0M277.3 225.9h0M306.8 202.0h0M297.0 217.3h0M291.5 212.0h0M278.5 209.0h0M308.0 215.8h0M276.8 201.8h0M284.6 221.4h0M279.3 211.3h0M285.3 212.3h0M306.1 216.0h0M289.5 193.0h0M305.1 214.2h0M295.6 223.7h0M299.4 214.8h0M286.8 200.8h0M295.2 212.9h0M304.0 220.8h0M302.7 208.2h0M278.5 207.9h0M286.3 218.7h0M280.0 221.3h0M282.3 192.6h0M303.4 215.7h0M295.7 204.5h0M294.2 217.6h0M280.5 211.8h0M287.7 210.0h0M307.6 193.8h0M297.0 205.6h0M296.6 221.2h0M287.4 190.7h0M278.7 218.1h0M281.2 201.7h0M284.7 195.5h0M277.1 193.0h0M289.2 195.9h0M284.3 215.2h0M309.3 213.1h0M295.3 214.8h0M291.6 205.6h0M279.1 225.8h0M293.1 209.2h0M290.9 193.2h0M292.4 193.5h0M280.3 224.5h0M278.3 215.4h0M275.7 207.2h0M297.7 211.7h0M276.2 200.8h0M283.6 195.3h0M281.6 192.8h0M278.4 211.8h0M277.3 199.4h0M291.3 193.4h0M282.8 203.5h0M289.6 190.0h0M300.5 201.4h0M302.9 203.5h0M305.4 215.1h0M296.8 217.6h0M287.8 208.1h0M299.7 210.4h0M287.1 202.4h0M277.2 199.9h0M303.6 223.3h0M306.3 208.3h0M297.3 201.3h0M307.0 197.5h0M299.0 202.8h0M280.6 209.5h0M292.4 195.5h0M291.4 194.6h0M298.5 220.7h0M282.8 217.2h0M302.8 198.9h0M303.7 191.5h0M281.6 199.3h0M279.9 215.6h0M284.1 199.1h0M302.4 194.1h0M292.4 205.5h0M283.4 211.3h0M296.5 195.9h0M294.5 202.7h0M276.6 206.2h0M290.6 213.2h0M306.9 200.2h0M309.9 216.7h0" stroke="#2a8a94" stroke-width="1.9" stroke-linecap="round" stroke-opacity="0.8"/>
<path d="M295.6 205.8h0M289.9 208.7h0M304.2 197.0h0M284.3 205.5h0M295.4 216.5h0M308.5 192.2h0M302.9 199.1h0M286.8 226.9h0M292.8 215.9h0M295.9 196.4h0M292.5 201.3h0M281.3 223.4h0M300.6 224.0h0M292.6 226.6h0M287.6 198.9h0M312.1 196.4h0M304.4 214.8h0M306.6 198.9h0M293.1 199.5h0M293.0 213.9h0M312.1 195.9h0M289.9 220.5h0M293.5 216.9h0M288.6 208.7h0M293.0 210.3h0M283.2 194.1h0M283.7 206.9h0M293.9 218.4h0M305.7 224.7h0M310.6 217.7h0M297.7 206.1h0M292.2 217.4h0M294.2 198.7h0M300.7 204.7h0M303.5 202.7h0M292.6 216.6h0M294.8 216.4h0M294.9 209.6h0M280.8 197.4h0M306.4 203.1h0M305.0 198.2h0M289.1 193.0h0M308.4 216.1h0M308.9 209.7h0M297.2 209.9h0M295.4 220.0h0M283.4 202.7h0M305.6 216.0h0M280.2 207.8h0M289.7 197.2h0M306.4 212.7h0M296.3 202.7h0M288.1 213.6h0M294.0 222.6h0M306.0 195.5h0M305.9 226.8h0M308.3 206.2h0M310.8 210.7h0M309.9 202.8h0M310.9 205.1h0M306.4 210.3h0M305.7 210.9h0M283.7 195.8h0M280.7 205.4h0M294.4 208.5h0M299.8 216.1h0M302.4 201.1h0M301.9 196.3h0M304.0 192.2h0M307.5 212.8h0M305.2 193.7h0M312.2 193.8h0M298.3 192.2h0M293.7 193.9h0M304.9 213.2h0M286.8 220.3h0M297.3 221.8h0M282.8 212.3h0M291.8 192.1h0M292.2 192.0h0M285.9 212.7h0M299.1 219.0h0M302.4 207.1h0M296.0 215.2h0M278.2 193.7h0M284.0 209.2h0M310.2 218.0h0M301.2 212.1h0M291.8 217.6h0M285.7 212.4h0M300.7 215.9h0M280.3 203.9h0M283.5 208.0h0M294.4 226.7h0M284.3 207.7h0M299.1 224.1h0M312.3 226.3h0M304.0 225.7h0M294.1 210.7h0M303.6 214.4h0M295.5 213.3h0M295.7 212.3h0M282.1 208.0h0M297.8 223.2h0M281.0 208.3h0M307.2 220.0h0M280.1 208.6h0M290.5 214.2h0M276.2 226.7h0M300.6 196.3h0M298.6 201.4h0M282.7 202.7h0M301.4 213.3h0M308.0 203.4h0M291.0 191.2h0M299.3 209.6h0M303.9 208.2h0M309.2 199.3h0M300.9 206.7h0M276.3 194.4h0M302.1 211.8h0M292.4 207.2h0M284.2 225.2h0M294.4 224.9h0M283.6 205.1h0M297.9 215.4h0M303.6 214.1h0M304.9 212.0h0M302.6 225.7h0M301.4 222.4h0M303.6 209.4h0M295.7 210.6h0M296.0 206.4h0M295.7 204.0h0M279.4 202.8h0M292.7 214.8h0M294.4 213.4h0M306.5 206.9h0M305.1 210.2h0M303.2 201.4h0M294.3 215.1h0M298.5 224.4h0M301.3 217.8h0M281.5 210.8h0M305.6 191.8h0M297.5 192.5h0M309.6 213.0h0M294.9 221.4h0M288.3 223.5h0M291.2 190.0h0M304.1 215.3h0M312.7 218.8h0M295.3 217.9h0M300.5 203.9h0M283.8 217.6h0M304.9 213.9h0M298.0 196.2h0M299.6 203.8h0M299.7 216.3h0M304.2 205.9h0M289.3 207.8h0M287.4 209.6h0M300.0 210.5h0M288.5 218.2h0M308.8 211.3h0M293.6 207.2h0M300.8 208.4h0M282.9 199.1h0M288.5 213.4h0M310.2 193.5h0M299.1 213.0h0M292.2 191.5h0M297.8 210.1h0M288.1 217.9h0M305.2 224.2h0M293.4 211.4h0M278.8 216.4h0M286.5 192.4h0M280.3 195.8h0M296.2 202.5h0M298.8 200.9h0M309.9 214.0h0M307.8 213.6h0M306.1 190.4h0M293.6 204.5h0M302.9 209.5h0M294.1 216.0h0M297.2 201.0h0M298.8 203.4h0M303.7 224.7h0M302.2 214.5h0M295.7 192.8h0M291.8 212.0h0M305.1 195.8h0M300.0 203.2h0M312.6 195.4h0M294.3 204.1h0M302.8 191.6h0M283.8 220.2h0M290.0 211.0h0M284.8 223.8h0M302.0 196.2h0M297.9 215.3h0M304.6 221.9h0M303.0 199.2h0M296.4 207.7h0M309.7 202.8h0M312.1 199.4h0M299.6 226.2h0M306.8 202.6h0M294.2 210.1h0M306.9 210.4h0M308.5 210.9h0M310.6 190.4h0M312.3 220.5h0M311.5 219.1h0M300.7 224.5h0M293.8 195.2h0M279.2 214.3h0M300.2 218.2h0M294.8 226.6h0M293.3 225.7h0M300.1 219.1h0M291.3 221.0h0M309.0 216.1h0M286.4 226.6h0M300.0 218.6h0M296.2 200.5h0M309.3 216.1h0M305.6 207.4h0M306.5 216.7h0M280.7 215.1h0M299.3 226.0h0M296.2 214.2h0M279.6 213.2h0M298.4 214.5h0M304.4 191.6h0M285.4 198.1h0M291.2 204.6h0M281.5 215.2h0M300.3 222.1h0M285.4 205.4h0M285.5 212.4h0M296.4 216.1h0M297.7 219.8h0M291.4 205.8h0M311.9 223.8h0M276.7 195.9h0M306.1 202.6h0M306.0 220.4h0M289.8 223.9h0M304.3 204.6h0M307.0 223.5h0M305.9 224.3h0M311.2 223.2h0M306.5 197.4h0M298.9 205.2h0M305.8 215.3h0M306.0 211.7h0M281.2 197.9h0M304.3 217.5h0M286.8 193.7h0M283.8 204.8h0M290.6 201.8h0M301.9 192.6h0M301.1 222.7h0M281.5 220.3h0M306.4 193.8h0M310.4 209.0h0M287.4 198.3h0M300.9 203.0h0M292.8 212.8h0M289.5 225.8h0M308.4 226.5h0M294.8 201.6h0M308.4 212.5h0M295.5 213.6h0M298.3 200.8h0M284.2 212.9h0M303.2 209.9h0M306.6 226.8h0M305.7 207.7h0M290.2 218.6h0M304.7 226.7h0M312.5 217.9h0M285.6 208.4h0M301.6 199.4h0M287.5 205.1h0M295.8 197.3h0M289.3 209.8h0M302.8 207.6h0M303.9 197.7h0M297.2 215.1h0M307.7 217.0h0M283.7 201.8h0M290.8 209.7h0M290.8 212.5h0M302.4 218.3h0M287.6 224.8h0M302.8 210.5h0M282.3 202.4h0M298.3 194.2h0M286.3 197.2h0M289.5 190.3h0M303.9 205.7h0M287.1 220.2h0M283.5 214.1h0M296.7 206.4h0M289.3 198.0h0M303.6 202.8h0M305.9 224.3h0M284.9 222.6h0M295.7 211.5h0M306.9 202.6h0M297.6 223.7h0M303.1 203.3h0M304.3 203.8h0M285.9 212.1h0M295.2 201.8h0M298.9 204.5h0M305.8 219.3h0M306.9 196.8h0M296.2 225.3h0M299.8 195.0h0M292.5 207.2h0M308.6 215.0h0M302.3 221.1h0M288.7 198.8h0M296.6 200.3h0M289.4 209.7h0M285.3 203.5h0M285.0 204.3h0M297.8 204.5h0M296.9 198.3h0M310.6 208.1h0M306.6 219.1h0M301.2 211.1h0M280.1 198.2h0M295.7 206.9h0M303.6 195.1h0M278.9 206.1h0M300.4 225.9h0M292.4 216.2h0M299.3 197.3h0M306.4 220.7h0M282.1 209.5h0M306.3 198.0h0M297.5 211.3h0M282.7 210.3h0M294.4 204.7h0M284.2 213.0h0M283.6 192.0h0M309.2 191.7h0M296.2 213.6h0M285.9 191.0h0M312.2 224.2h0M304.7 211.5h0M307.8 198.7h0M294.7 204.3h0M295.9 207.5h0M294.5 195.9h0M290.9 205.9h0M309.6 208.7h0M307.6 220.2h0M312.7 191.2h0M298.0 199.4h0M281.6 215.4h0M302.2 198.2h0M306.8 217.6h0M309.5 207.4h0M304.6 214.0h0M299.1 206.9h0M300.2 213.5h0M307.5 207.3h0M288.7 195.2h0M280.1 214.6h0M297.6 204.9h0M290.2 208.9h0M303.4 201.4h0M307.8 219.9h0M291.2 224.8h0M293.3 198.6h0M296.6 223.8h0M295.8 214.8h0M309.3 214.2h0M291.4 205.6h0M293.2 208.9h0M303.5 194.1h0M301.3 196.0h0M289.5 213.4h0M290.6 194.2h0M306.3 213.2h0M309.2 216.2h0M307.3 191.4h0M288.3 209.4h0M312.6 214.9h0M303.6 203.2h0M309.2 194.5h0M287.6 213.9h0M294.9 197.0h0M289.2 209.9h0M300.2 222.9h0M290.1 204.7h0M304.0 212.4h0M281.6 191.5h0M295.4 224.8h0M294.6 200.4h0M292.0 215.5h0M305.1 220.0h0M307.1 222.0h0M283.2 208.3h0M297.9 221.9h0M287.9 217.9h0M297.1 195.5h0M290.2 198.7h0M277.7 203.4h0M303.5 194.0h0M298.9 191.0h0M280.0 199.8h0M303.0 208.0h0M291.9 195.8h0M299.6 218.8h0M289.8 203.3h0M282.5 211.4h0M305.9 208.3h0M310.3 208.6h0M297.4 218.6h0M287.9 207.5h0M297.8 226.1h0M285.5 215.2h0M291.5 205.2h0M299.7 221.5h0M287.3 221.4h0M294.1 225.5h0M311.4 200.3h0M299.0 200.8h0M295.8 209.0h0M297.7 201.3h0M302.3 195.2h0M296.4 202.2h0M297.7 194.9h0M291.6 195.2h0M302.5 190.1h0M296.8 211.9h0M308.4 215.7h0M280.0 227.1h0M312.5 218.8h0M306.8 206.4h0M291.3 215.1h0M309.8 226.7h0M290.1 191.5h0M296.1 215.9h0M306.9 220.3h0M308.0 210.0h0M275.8 210.3h0M308.6 199.7h0M292.4 222.7h0M294.7 193.7h0M305.0 204.8h0M302.9 198.1h0M296.8 211.5h0M301.3 204.5h0M307.4 194.7h0M306.6 208.3h0M295.7 225.8h0M294.2 203.5h0M296.2 220.2h0M300.7 197.9h0M302.7 206.4h0M297.4 213.1h0M299.4 198.7h0M309.4 222.0h0M310.2 219.1h0M287.0 198.1h0M289.4 191.7h0M292.6 203.3h0M312.3 210.9h0M310.9 207.6h0M303.6 226.9h0M277.8 199.3h0M302.9 219.5h0M307.1 212.8h0M287.6 224.7h0M297.2 198.9h0M300.4 196.6h0M300.9 212.3h0M307.4 196.2h0M298.7 191.4h0M291.0 215.8h0M296.8 203.3h0M284.6 190.9h0M291.9 210.8h0M300.9 200.4h0M300.5 195.5h0M303.5 196.7h0M298.8 194.7h0M285.8 199.2h0M290.2 225.6h0M299.8 208.7h0M293.9 191.5h0M297.3 190.6h0M308.0 210.9h0M305.9 218.1h0M291.6 205.5h0M280.0 217.8h0M286.3 197.1h0M297.2 221.7h0M295.2 198.9h0M287.1 207.9h0" stroke="#e060e8" stroke-width="1.9" stroke-linecap="round" stroke-opacity="0.9"/>
<path d="M300.0 211.3h0M312.2 219.4h0M292.5 218.2h0M304.4 200.7h0M283.9 205.6h0M294.2 196.5h0M302.5 200.8h0M299.7 207.1h0M295.8 214.6h0M301.4 198.6h0M296.5 220.1h0M282.3 215.5h0M294.2 212.6h0M296.3 197.6h0M285.9 217.8h0M293.7 202.1h0M302.9 199.0h0M293.2 226.4h0M306.8 214.2h0M305.4 208.6h0M305.7 210.8h0M301.7 211.8h0M298.9 225.8h0M285.5 204.6h0M290.0 211.4h0M288.5 205.0h0M291.6 210.5h0M297.9 195.8h0M303.1 202.9h0M299.6 200.8h0M299.1 211.8h0M300.4 211.4h0M287.9 197.7h0M301.7 207.8h0M295.0 197.8h0M299.4 189.8h0M296.6 202.5h0M289.9 196.2h0M293.4 209.0h0M293.4 214.6h0M291.1 220.0h0M287.4 200.1h0M287.3 201.6h0M293.1 193.8h0M298.6 214.2h0M290.8 216.7h0M292.2 215.3h0M280.9 212.3h0M299.9 220.6h0M296.7 207.2h0M288.7 209.4h0M290.9 206.4h0M302.0 216.7h0M302.7 205.2h0M287.1 216.9h0M301.1 203.7h0M285.0 208.4h0M286.7 223.0h0M295.0 202.8h0M296.1 204.9h0M300.0 206.9h0M297.9 209.3h0M288.7 217.0h0M291.5 201.4h0M294.9 206.0h0M306.4 202.2h0M287.4 219.9h0M287.8 210.0h0M281.6 204.0h0M286.0 207.2h0M299.2 217.7h0M303.5 198.6h0M293.4 201.8h0M280.9 211.0h0M292.9 195.0h0M294.6 205.9h0M289.3 214.3h0M291.3 199.2h0M283.0 207.1h0M303.0 195.3h0M301.9 208.5h0M302.2 213.5h0M296.1 205.7h0M298.7 208.9h0M299.5 213.6h0M293.6 209.0h0M286.8 217.1h0M283.7 202.9h0M283.6 202.5h0M275.8 202.6h0M292.8 208.9h0M303.2 222.4h0M288.9 204.0h0M303.9 191.6h0M292.5 199.0h0M281.8 207.3h0M298.1 223.6h0M283.7 204.1h0M312.5 204.7h0M298.3 199.8h0M288.5 191.6h0M283.8 200.6h0M306.3 202.4h0M291.7 196.3h0M286.0 194.1h0M297.6 209.8h0M283.2 199.0h0M295.0 199.7h0M294.8 203.3h0M283.5 213.5h0M283.6 207.4h0M300.0 216.1h0M284.5 210.1h0M282.2 190.3h0M287.3 206.3h0M292.6 200.5h0M298.6 194.0h0M300.4 223.4h0M296.5 211.1h0M295.5 202.7h0M283.5 201.7h0M298.0 203.4h0M290.9 216.5h0M302.1 213.5h0M297.4 204.5h0M281.8 215.2h0M299.2 205.2h0M306.6 199.2h0M304.5 206.9h0M280.6 215.2h0M304.3 204.1h0M280.6 195.3h0M288.6 222.6h0M299.2 197.8h0M286.6 223.6h0M311.6 206.5h0M301.0 206.7h0M292.6 219.4h0M286.5 203.9h0M290.3 202.8h0M278.7 209.3h0M296.8 211.0h0M303.7 214.5h0M279.4 206.3h0M302.8 211.1h0M304.7 200.0h0M292.9 210.1h0M299.7 201.7h0M306.2 205.5h0M286.8 207.4h0M286.0 209.9h0M286.0 216.3h0M291.3 220.3h0M305.5 206.4h0M288.3 202.5h0M312.1 221.7h0M298.8 213.7h0M295.3 214.0h0M304.5 221.1h0M295.2 197.1h0M294.3 205.0h0" stroke="#e0f8ff" stroke-width="1.4" stroke-linecap="round" stroke-opacity="0.9"/>
<line x1="301" y1="225" x2="311" y2="225" stroke="#fff" stroke-width="1"/>
<rect x="318.4" y="190" width="158.2" height="37.5" fill="#9a9a9a"/>
<rect x="318.4" y="190" width="38.9" height="37.5" fill="#0a260a"/>
<path d="M325.3 196.1h0M323.6 191.5h0M340.6 209.7h0M331.5 201.3h0M332.0 225.2h0M340.7 203.3h0M325.2 208.5h0M347.8 209.7h0M356.0 209.2h0M339.3 195.3h0M330.9 206.9h0M337.4 207.5h0M342.9 191.2h0M344.1 219.5h0M332.8 201.4h0M334.2 223.6h0M322.8 204.2h0M341.3 215.6h0M334.8 206.8h0M345.2 204.3h0M330.7 196.5h0M331.3 226.2h0M332.3 225.0h0M330.1 204.3h0M336.6 196.6h0M320.6 206.4h0M336.4 199.9h0M332.9 214.5h0M335.8 191.4h0M354.5 208.7h0M319.2 218.1h0M336.3 196.1h0M325.0 199.5h0M321.1 204.7h0M342.4 202.4h0M334.1 199.9h0M332.3 216.7h0M321.2 206.0h0M337.7 213.9h0M332.9 207.2h0M329.6 195.0h0M335.8 210.3h0M340.2 213.6h0M327.1 205.8h0M353.9 223.2h0M328.3 202.3h0M328.0 192.4h0M326.1 205.8h0M327.1 201.9h0M346.2 210.5h0M337.8 205.3h0M350.3 195.9h0M344.5 193.4h0M326.8 206.1h0M322.5 222.4h0M343.9 207.1h0M342.1 201.4h0M320.8 191.5h0M328.8 207.9h0M328.3 219.1h0M339.7 214.1h0M329.4 196.6h0M331.4 210.9h0M341.1 203.8h0M329.0 206.4h0M344.2 212.2h0M345.7 197.3h0M339.9 207.4h0M338.9 224.2h0M336.1 207.0h0M348.0 194.1h0M350.3 222.2h0M325.4 192.3h0M332.1 206.3h0M338.0 213.4h0M351.5 210.8h0M349.9 216.5h0M342.8 203.2h0M319.1 218.2h0M347.6 199.1h0M327.5 226.8h0M339.8 217.0h0M341.3 216.7h0M346.6 218.4h0M327.2 201.1h0M337.7 210.0h0M338.8 196.2h0M341.5 204.2h0M327.3 191.9h0M319.3 206.9h0M332.3 197.0h0M319.9 222.1h0M324.7 220.9h0M340.7 213.0h0M336.2 199.6h0M344.6 205.3h0M332.1 217.9h0M337.2 203.6h0M355.4 213.2h0M322.9 205.3h0M324.3 217.1h0M336.4 218.3h0M326.8 212.5h0M326.5 200.5h0M346.7 217.0h0M335.0 213.5h0M338.6 199.8h0M323.7 208.2h0M326.1 204.4h0M330.2 193.8h0M356.0 194.1h0M338.9 202.6h0M327.6 204.7h0M327.5 198.6h0M338.9 215.2h0M333.0 198.5h0M325.8 197.1h0M336.3 203.8h0M346.7 223.2h0M330.4 193.7h0M353.5 207.2h0M343.3 207.5h0M346.1 217.7h0M321.3 225.5h0M334.3 195.0h0M334.8 220.6h0M343.2 221.8h0M340.8 225.0h0M338.6 203.3h0M338.4 195.7h0M339.8 203.3h0M322.1 224.2h0M321.7 206.9h0M328.2 217.1h0M334.3 221.0h0M333.9 214.9h0M344.8 194.9h0M327.7 203.1h0M326.3 208.8h0M324.0 208.5h0M350.4 197.4h0M336.6 216.4h0M340.8 211.1h0M324.5 214.4h0M323.8 201.0h0M338.3 216.2h0M329.7 200.7h0M323.8 214.4h0M348.5 197.2h0M329.5 197.3h0M325.1 210.6h0M332.5 224.4h0M320.9 209.8h0M331.2 205.0h0M340.1 203.1h0M346.4 215.1h0M330.2 192.4h0M334.6 218.7h0M343.2 191.3h0M330.5 208.8h0M336.6 213.5h0M321.3 215.9h0M344.4 201.8h0M329.7 213.7h0M335.7 222.5h0M354.3 207.1h0M344.7 206.3h0M322.8 191.8h0M331.4 192.6h0M329.0 194.3h0M348.0 215.3h0M342.4 226.6h0M350.0 196.7h0M333.5 211.6h0M331.6 193.6h0M333.0 207.3h0M333.3 223.4h0M330.4 222.4h0M326.2 194.2h0M319.8 226.2h0M322.8 208.0h0M341.4 212.6h0M347.2 219.3h0M325.1 202.1h0M335.7 205.9h0M320.3 194.5h0M353.0 205.0h0M356.1 197.2h0M328.6 224.8h0M337.8 193.7h0M324.3 201.4h0M330.4 207.6h0M324.3 214.8h0M321.6 212.6h0M342.9 201.2h0M330.6 192.7h0M324.8 215.3h0M342.0 205.3h0M347.1 213.0h0M345.1 222.1h0M326.8 217.7h0M327.4 197.5h0M329.2 205.9h0M331.3 191.4h0M339.5 200.8h0M322.8 206.5h0M325.3 203.5h0M344.7 192.3h0M322.7 193.4h0M331.2 204.0h0M349.6 211.3h0M333.8 206.7h0M338.4 223.9h0M339.4 216.2h0M350.5 204.7h0M331.7 200.1h0M349.2 195.6h0M351.6 190.9h0M335.7 194.7h0M338.5 198.4h0M332.4 192.6h0M338.9 218.8h0M346.0 213.3h0M322.4 224.2h0M319.3 196.2h0M328.2 203.2h0M332.8 208.5h0M343.1 200.0h0M326.0 212.3h0M325.6 193.6h0M336.3 209.9h0M328.0 211.8h0M331.9 195.2h0M326.9 205.0h0M328.8 211.9h0M342.4 218.3h0M328.5 191.4h0M330.3 202.2h0M341.5 191.4h0M345.6 215.3h0M330.3 211.3h0M348.7 191.8h0M320.8 198.3h0M334.6 213.9h0M319.1 199.9h0M337.6 212.7h0M330.4 198.1h0M345.3 191.7h0M334.5 205.4h0M353.6 213.7h0M334.5 211.9h0M329.9 196.7h0M342.0 213.5h0M331.8 200.9h0M335.7 193.0h0M346.8 214.8h0M334.1 208.4h0M334.9 217.9h0M320.3 203.1h0M332.7 215.0h0M346.3 197.8h0M354.7 210.1h0M339.8 199.8h0M349.4 214.8h0M321.1 196.7h0M344.4 193.2h0M323.4 191.8h0M338.3 201.1h0M323.9 192.4h0M353.3 201.7h0M331.2 201.6h0M322.2 211.3h0M329.3 207.1h0M338.3 200.0h0M331.8 220.2h0M335.0 200.3h0M331.4 198.5h0M319.3 222.5h0M319.5 191.7h0M335.4 207.9h0M328.9 196.0h0M349.1 214.2h0M337.6 207.4h0M332.4 196.1h0M328.7 195.6h0M333.2 223.9h0M339.9 225.5h0M334.6 209.8h0M350.9 204.3h0M340.7 206.4h0M352.4 218.5h0M330.0 192.8h0M347.3 212.0h0M343.5 195.2h0M324.3 193.4h0M334.3 217.6h0M340.9 194.5h0M334.3 206.9h0M345.2 208.5h0M337.1 217.8h0M343.9 202.7h0M323.1 219.8h0M335.3 207.5h0M335.5 206.6h0M327.0 195.5h0M327.1 210.4h0M343.5 196.5h0M344.3 210.2h0M330.9 204.3h0M334.8 192.2h0M333.6 210.1h0M321.5 212.1h0M328.7 214.2h0M342.0 194.0h0M352.8 194.6h0M323.4 224.8h0M329.3 191.3h0M333.2 222.8h0M339.2 205.9h0M332.2 208.9h0M326.6 198.4h0M326.0 201.5h0M327.8 193.9h0M323.3 196.6h0M338.0 217.7h0M326.8 196.1h0M322.3 201.0h0M322.0 194.6h0M332.8 213.5h0M334.5 205.6h0M344.5 208.9h0M339.1 209.7h0M338.9 202.9h0M334.6 205.3h0M337.9 199.3h0M350.3 191.7h0M346.7 207.5h0M334.6 200.7h0M330.3 211.6h0M329.4 191.1h0M323.1 199.9h0M324.4 216.8h0M333.3 207.6h0M326.6 209.9h0M329.5 200.7h0M335.3 221.1h0M323.8 190.7h0M355.0 225.8h0M340.6 214.3h0M331.2 222.5h0M323.1 193.6h0M330.2 200.3h0M328.6 199.6h0M328.4 215.0h0M325.8 195.8h0M349.2 207.4h0M328.5 224.9h0M330.9 198.3h0M321.4 203.0h0M327.1 204.8h0M345.1 206.1h0M336.4 210.7h0M338.8 221.9h0M329.8 195.5h0M322.5 209.1h0M338.4 195.7h0M335.0 222.5h0M323.3 200.4h0M319.9 200.1h0M333.1 214.6h0M337.5 212.5h0M330.0 208.1h0M339.1 196.9h0M331.3 208.0h0M325.1 208.2h0M324.6 220.5h0M351.3 196.5h0M324.1 223.3h0M335.4 207.5h0M332.4 212.7h0M335.7 194.5h0M329.6 201.1h0M332.7 207.5h0M339.9 226.4h0M345.4 196.4h0M331.2 193.2h0M343.0 192.0h0M330.3 226.7h0M319.8 207.8h0M332.1 219.5h0M342.0 191.2h0M343.2 217.5h0M342.3 200.8h0M332.8 213.2h0M341.0 201.3h0M324.8 212.6h0M333.6 213.7h0M336.9 204.7h0M327.1 195.5h0M354.3 190.9h0M342.0 192.6h0M344.6 210.9h0M324.8 195.9h0M341.7 210.6h0M328.0 194.3h0M328.6 202.9h0M331.1 206.3h0M327.0 211.9h0M321.5 203.4h0M331.4 206.7h0M323.3 207.5h0M350.1 212.6h0M331.5 194.6h0M331.9 220.4h0M331.0 204.2h0M339.6 195.5h0M325.4 191.1h0M328.7 214.0h0M325.4 206.9h0M338.5 217.9h0M321.9 202.4h0M333.7 197.7h0M339.4 218.2h0M351.6 216.3h0M335.0 203.8h0M336.4 196.9h0M326.7 218.3h0M340.8 207.7h0M319.6 225.8h0M338.5 192.7h0M342.1 210.5h0M325.3 214.9h0M326.3 202.5h0M336.7 210.0h0M325.1 201.2h0M328.0 214.1h0M335.5 209.1h0M325.5 213.9h0M342.8 216.6h0M323.4 210.7h0M323.0 199.4h0M329.4 215.8h0M348.6 213.4h0M340.7 215.7h0M332.2 209.0h0M339.9 200.2h0M323.2 198.9h0M339.0 200.7h0M320.6 203.9h0M351.6 201.9h0M327.6 204.0h0M323.0 206.3h0M343.1 207.5h0M334.9 191.1h0M325.3 198.5h0M349.2 203.0h0M327.1 199.1h0M339.6 218.6h0M331.0 209.9h0M324.5 225.2h0M321.9 222.2h0M320.1 191.6h0M331.2 193.6h0M321.3 196.8h0M322.0 218.5h0M324.8 212.8h0M345.1 221.9h0M352.2 206.0h0M326.2 195.6h0M339.9 195.7h0M321.6 210.4h0M356.0 194.3h0M328.9 215.0h0M332.9 219.8h0M346.6 213.2h0M329.8 212.7h0M336.4 214.8h0M320.8 223.2h0M337.4 224.7h0M326.8 209.9h0M325.9 213.7h0M325.8 203.3h0M329.5 224.5h0M346.6 194.3h0M344.1 210.4h0M335.7 223.1h0M339.1 214.2h0M322.8 194.7h0M330.4 200.7h0M321.1 205.5h0M322.3 201.8h0M338.2 208.0h0M324.3 220.5h0M342.1 194.8h0M325.9 216.8h0M327.6 206.7h0M353.0 204.8h0M344.1 203.2h0M336.0 210.9h0M350.7 211.6h0M326.5 223.5h0M331.0 197.1h0M333.5 212.4h0M319.2 218.8h0M334.2 202.4h0M321.4 192.8h0M353.5 224.1h0M321.0 198.0h0M336.4 204.8h0M339.4 195.6h0M335.0 211.5h0M341.6 194.6h0M319.5 205.1h0M330.4 194.8h0M323.1 192.7h0M334.4 212.5h0M327.2 192.7h0M342.0 204.4h0M348.4 197.3h0M352.9 225.7h0M329.1 209.2h0M339.4 199.7h0M336.4 195.7h0M346.6 211.8h0M334.0 204.5h0M325.1 210.9h0M337.8 199.2h0M334.1 194.5h0M320.5 203.9h0M324.4 202.9h0M326.0 195.2h0M328.6 225.8h0M326.6 200.7h0M331.7 216.7h0M345.9 226.6h0M329.9 216.2h0M330.6 190.8h0M348.2 222.6h0M329.4 216.5h0M334.4 215.3h0M340.9 192.8h0M328.8 216.1h0M341.3 197.2h0M336.8 206.2h0M333.3 193.9h0M332.6 212.3h0M346.4 196.9h0M322.8 210.1h0M344.6 208.0h0M355.3 202.4h0M349.6 217.2h0M333.7 204.1h0M344.0 194.5h0M322.9 204.0h0M332.2 195.8h0M336.8 207.7h0M339.0 205.7h0M337.1 199.1h0M330.4 190.9h0M346.7 198.9h0M345.0 198.5h0M345.5 205.4h0M324.0 198.8h0M326.8 195.9h0M341.8 222.6h0M345.9 209.2h0M336.3 207.8h0M337.4 215.7h0M340.9 209.7h0M322.8 199.8h0M338.0 222.6h0M337.4 210.4h0M353.7 190.9h0M329.8 217.7h0" stroke="#168016" stroke-width="1.8" stroke-linecap="round" stroke-opacity="0.8"/>
<path d="M323.2 209.6h0M338.3 194.7h0M326.1 212.8h0M339.1 203.1h0M326.1 214.2h0M326.4 192.0h0M347.8 213.7h0M326.6 217.1h0M342.3 213.3h0M328.9 200.3h0M338.6 199.5h0M332.5 203.5h0M325.8 208.8h0M335.0 193.7h0M341.6 200.9h0M331.5 219.5h0M337.4 219.8h0M336.5 208.4h0M333.4 204.6h0M325.7 206.4h0M338.5 208.3h0M321.0 223.7h0M337.1 198.6h0M325.7 204.0h0M340.4 205.2h0M339.3 213.7h0M328.5 226.1h0M334.6 206.0h0M328.8 217.5h0M339.6 208.1h0M347.7 212.7h0M323.6 210.7h0M339.2 208.5h0M328.6 193.5h0M334.2 226.7h0M338.9 201.7h0M338.1 194.5h0M333.5 195.6h0M331.2 196.9h0M332.1 211.2h0M344.6 214.1h0M325.5 209.9h0M326.7 198.7h0M326.4 222.7h0M339.7 225.9h0M344.4 190.8h0M338.2 202.6h0M339.2 204.0h0M344.0 219.7h0M337.6 197.6h0M337.2 198.8h0M340.0 207.5h0M323.2 209.4h0M331.1 216.1h0M332.5 208.5h0M321.1 204.6h0M322.2 197.6h0M331.9 203.5h0M347.4 193.6h0M329.5 221.4h0M327.4 196.8h0M340.4 206.3h0M328.0 194.8h0M329.4 199.8h0M336.5 211.4h0M338.0 196.6h0M328.1 225.4h0M342.3 202.1h0M349.4 211.4h0M324.4 208.7h0M340.3 212.8h0M343.6 211.4h0M334.9 214.8h0M324.5 210.1h0M328.6 201.5h0M323.4 192.3h0M332.5 207.1h0M337.5 208.0h0M333.7 210.5h0M340.5 207.4h0M336.3 191.9h0M327.3 203.1h0M345.5 213.3h0M336.3 190.7h0M327.8 211.0h0M333.3 199.9h0M340.5 214.0h0M342.9 221.0h0M333.4 202.3h0M344.2 196.1h0M339.9 206.4h0M347.8 220.6h0M338.8 194.8h0M322.5 198.9h0M324.1 200.4h0M319.9 197.9h0M340.9 191.7h0M344.1 202.0h0M341.7 199.0h0M328.6 217.7h0M323.2 201.7h0M327.5 197.5h0M327.4 207.5h0M339.7 208.1h0M349.0 191.6h0M335.5 206.9h0M320.2 221.3h0M320.6 200.1h0M347.6 197.7h0M347.8 197.7h0M330.7 215.3h0M333.2 209.8h0M347.1 215.7h0M336.2 211.6h0M334.2 199.0h0M322.1 201.7h0M325.1 219.7h0M326.5 195.7h0M342.7 192.2h0M321.3 203.5h0M328.6 196.9h0M337.9 195.3h0M333.8 210.6h0M333.1 211.2h0M347.8 211.5h0M337.6 204.1h0M334.5 192.0h0M354.2 214.4h0M355.0 193.3h0M327.9 196.5h0M344.6 199.8h0M339.7 203.6h0M332.2 207.7h0M334.6 197.8h0M336.6 199.7h0M337.3 215.9h0M333.9 214.7h0M343.1 220.7h0M331.1 217.4h0M329.6 205.4h0M324.6 195.2h0M324.8 207.8h0M355.5 200.8h0M327.0 204.5h0M333.6 209.5h0M342.4 201.2h0M330.5 209.8h0M332.0 222.0h0M326.6 203.3h0M343.4 215.2h0M331.9 199.5h0M328.1 215.4h0M337.6 204.0h0M321.1 199.5h0M348.6 204.5h0M352.8 198.7h0M327.9 193.5h0M342.0 214.3h0M339.4 214.2h0M322.4 212.2h0M328.8 198.3h0M330.0 208.8h0M333.3 191.6h0M335.6 193.3h0M322.1 217.5h0M345.0 220.4h0M334.9 222.7h0M347.0 193.1h0M335.3 195.0h0M330.7 194.3h0M331.5 196.8h0M339.3 197.9h0M336.1 215.2h0M335.3 197.7h0M337.1 195.9h0M330.0 211.9h0M323.2 214.1h0" stroke="#3af03a" stroke-width="1.3" stroke-linecap="round" stroke-opacity="0.85"/>
<rect x="358.3" y="190" width="38.9" height="37.5" fill="#200420"/>
<path d="M363.6 213.5h0M361.1 203.3h0M359.3 218.1h0M374.4 203.2h0M372.1 202.8h0M375.3 207.2h0M369.1 212.3h0M377.0 196.4h0M374.6 208.8h0M373.5 223.6h0M383.6 220.3h0M381.2 196.8h0M370.6 212.0h0M368.6 196.5h0M379.2 197.5h0M360.0 224.1h0M372.0 200.1h0M384.3 206.3h0M370.6 220.2h0M383.0 215.8h0M372.2 215.7h0M361.1 201.9h0M360.1 198.3h0M374.9 210.4h0M384.7 200.8h0M374.0 207.2h0M376.0 200.9h0M375.5 209.2h0M370.1 208.9h0M367.0 209.7h0M381.5 209.1h0M387.1 209.5h0M375.9 200.6h0M375.7 221.1h0M369.8 205.1h0M378.8 196.4h0M364.3 204.1h0M386.9 215.8h0M363.3 204.0h0M373.4 224.1h0M359.7 221.4h0M362.7 218.5h0M382.0 205.7h0M381.0 195.8h0M366.5 206.8h0M374.0 223.8h0M370.7 214.5h0M364.3 213.9h0M375.1 203.1h0M359.4 223.0h0M370.8 194.9h0M382.0 198.4h0M366.9 210.2h0M369.7 209.8h0M365.2 213.3h0M379.7 192.4h0M363.1 208.8h0M367.6 210.8h0M370.8 194.6h0M379.9 202.0h0M369.2 221.9h0M368.8 212.2h0M390.5 223.9h0M382.7 202.0h0M380.0 195.7h0M361.1 191.2h0M373.1 220.6h0M364.1 211.7h0M383.5 222.2h0M391.6 212.1h0M386.1 218.5h0M383.2 208.4h0M362.4 214.3h0M367.2 206.3h0M376.9 199.6h0M373.9 202.7h0M366.6 214.2h0M364.7 208.5h0M385.9 222.3h0M374.0 214.9h0M371.0 210.5h0M382.1 217.4h0M373.5 196.9h0M372.4 218.4h0M379.1 213.3h0M371.4 196.4h0M370.9 212.1h0M365.7 198.3h0M386.2 204.9h0M379.8 202.9h0M360.8 191.4h0M368.9 210.2h0M383.9 222.9h0M381.4 202.4h0M375.4 200.8h0M379.3 224.1h0M370.9 193.2h0M378.6 212.6h0M374.7 200.7h0M388.1 204.4h0M372.8 210.0h0M379.7 200.2h0M391.2 203.8h0M370.6 201.2h0M395.7 199.9h0M364.0 206.6h0M373.8 193.6h0M371.0 202.9h0M371.7 212.9h0M367.5 219.4h0M362.7 211.8h0M368.6 223.0h0M370.0 207.1h0M360.6 217.4h0M391.5 218.8h0M391.7 218.1h0M370.7 197.2h0M367.8 210.3h0M385.9 206.2h0M379.4 194.4h0M375.5 215.3h0M377.3 216.7h0M377.5 226.2h0M373.9 203.4h0M385.1 222.2h0M368.8 201.4h0M382.5 202.9h0M361.6 199.2h0M393.8 199.7h0M385.2 204.4h0M364.1 224.5h0M382.4 203.6h0M361.8 209.8h0M366.7 192.8h0M370.0 207.4h0M380.5 213.7h0M384.7 201.5h0M361.4 221.5h0M375.1 218.8h0M366.3 199.6h0M380.6 204.9h0M374.7 193.7h0M378.6 206.0h0M373.8 193.5h0M375.6 192.0h0M374.9 226.0h0M364.8 205.9h0M380.5 223.4h0M366.6 216.6h0M372.0 204.4h0M373.4 211.2h0M373.1 204.0h0M375.8 195.0h0M390.8 200.8h0M388.2 217.5h0M386.7 197.1h0M360.6 199.2h0M367.0 201.1h0M381.5 208.0h0M381.7 207.2h0M371.8 213.5h0M387.4 193.3h0M368.9 200.3h0M376.3 205.7h0M376.3 199.4h0M368.9 211.1h0M375.5 209.4h0M369.5 203.4h0M369.2 202.8h0M378.4 204.7h0M372.9 208.7h0M362.3 203.9h0M392.7 216.6h0M384.6 221.7h0M375.1 202.4h0M374.6 196.1h0M361.9 202.4h0M385.2 196.0h0M374.8 223.7h0M394.0 214.3h0M376.0 213.0h0M373.8 213.0h0M369.4 194.8h0M361.8 217.5h0M369.7 198.0h0M385.8 214.3h0M381.4 203.3h0M381.8 195.2h0M393.3 204.1h0M385.1 215.0h0M371.1 216.3h0M366.8 209.2h0M365.6 217.7h0M378.2 206.9h0M367.7 205.9h0M370.4 217.7h0M382.7 224.3h0M369.2 217.7h0M360.4 206.8h0M383.1 226.1h0M379.9 207.6h0M362.6 217.0h0M374.5 200.0h0M361.1 202.6h0M373.8 199.1h0M392.8 213.3h0M360.1 198.4h0M377.5 202.6h0M361.6 210.0h0M378.0 215.2h0M371.9 220.2h0M370.5 218.1h0M364.6 217.6h0M386.9 217.4h0M364.7 209.4h0M384.4 192.1h0M389.6 204.1h0M369.0 217.4h0M388.9 193.0h0M373.2 209.0h0M366.6 218.5h0M394.7 214.6h0M381.0 210.9h0M377.5 208.9h0M384.8 196.2h0M368.1 225.7h0M371.4 217.7h0M359.9 206.3h0M375.3 196.8h0M372.6 194.6h0M371.0 197.2h0M371.4 202.0h0M391.8 195.3h0M387.4 221.4h0M369.2 204.2h0M369.2 207.5h0M385.3 197.6h0M384.2 214.1h0M364.5 199.1h0M362.5 205.6h0M373.0 215.8h0M383.3 209.6h0M383.0 201.4h0M366.1 207.5h0M367.0 200.1h0M372.7 217.6h0M359.3 211.6h0M373.4 203.1h0M391.6 191.9h0M373.0 209.3h0M372.2 214.5h0M389.7 216.4h0M379.8 191.5h0M388.1 204.1h0M372.6 196.0h0M363.0 211.0h0M360.4 217.9h0M378.9 192.3h0M364.5 210.5h0M374.8 198.4h0M368.2 195.5h0M361.0 217.1h0M363.9 222.1h0M367.4 205.9h0M369.3 215.8h0M370.6 216.0h0M367.3 196.3h0M367.9 210.2h0M365.0 204.6h0M366.9 195.0h0M376.8 212.4h0M372.6 212.8h0M365.4 206.0h0M381.9 195.6h0M380.2 195.5h0M381.1 207.0h0M361.4 213.3h0M374.1 214.1h0M384.5 207.5h0M377.8 211.1h0M367.3 209.0h0M385.7 207.5h0M369.2 191.3h0M389.4 223.2h0M394.4 219.0h0M360.5 199.4h0M389.4 204.1h0M392.7 208.3h0M376.1 198.8h0M381.1 205.6h0M365.2 194.3h0M363.4 209.4h0M377.7 200.1h0M370.0 207.5h0M363.9 208.0h0M380.0 201.0h0M364.6 214.7h0M376.0 193.9h0M380.8 191.9h0M383.9 207.4h0M367.6 200.5h0M371.1 206.3h0M371.5 217.5h0M395.5 210.3h0M373.1 210.5h0M368.5 207.0h0M383.7 209.9h0M376.5 198.4h0M361.3 195.8h0M369.7 206.4h0M359.2 195.1h0M368.3 219.1h0M375.2 192.4h0M380.6 210.1h0M388.5 196.4h0M379.1 219.6h0M365.1 217.1h0M379.1 195.8h0M369.9 219.7h0M369.2 193.6h0M361.5 200.2h0M376.6 222.4h0M368.9 212.3h0M383.4 220.0h0M366.4 197.9h0M372.5 214.2h0M382.5 214.4h0M376.8 200.1h0M361.5 212.1h0M363.8 216.7h0M379.6 197.9h0M361.8 205.3h0M388.0 201.8h0M364.4 204.6h0M381.1 199.0h0M373.1 210.5h0M392.5 209.5h0M365.4 209.3h0M368.3 197.3h0M396.2 210.6h0M389.7 221.6h0M359.9 196.7h0M387.2 224.9h0M379.9 196.9h0M373.1 211.3h0M373.3 197.5h0M378.5 198.4h0M387.0 214.9h0M384.8 200.6h0M387.4 224.9h0M367.6 204.2h0M383.4 204.4h0M371.4 204.4h0M390.9 206.1h0M396.2 205.6h0M385.9 210.4h0M368.2 206.2h0M363.5 196.2h0M362.4 195.1h0M370.6 213.8h0M361.6 202.4h0M383.9 217.2h0M360.2 198.2h0M373.7 196.0h0M375.8 202.4h0M372.5 209.0h0M378.2 200.5h0M365.0 194.6h0M374.9 208.2h0M366.0 201.7h0M365.7 208.7h0M360.6 197.2h0M376.7 192.8h0M390.5 211.8h0M368.7 210.0h0M377.9 191.8h0M377.6 197.1h0M367.4 215.3h0M362.9 190.9h0M390.5 211.6h0M370.1 209.9h0M364.6 220.3h0M374.1 215.8h0M374.0 197.6h0M366.3 203.5h0M369.1 208.9h0M372.0 215.2h0M374.9 211.6h0M383.9 194.8h0M384.3 208.6h0M364.9 199.0h0M375.2 215.1h0M380.9 203.7h0M390.1 211.1h0M393.7 196.9h0M376.7 197.3h0M375.8 195.8h0M363.4 202.7h0M371.1 194.1h0M376.5 203.0h0M379.7 195.3h0M363.4 216.9h0M384.7 214.6h0M374.8 219.0h0M379.7 197.8h0M359.3 193.0h0M371.8 209.7h0M372.9 211.5h0M386.0 206.8h0M359.4 196.3h0M369.9 208.5h0M359.3 211.6h0M362.1 200.1h0M390.2 199.9h0M374.2 203.9h0M386.0 208.9h0M369.5 198.9h0M380.0 223.8h0M366.8 195.1h0M374.3 218.7h0M386.5 204.9h0M371.4 195.5h0M379.6 200.7h0M376.4 193.4h0M369.6 204.8h0M361.0 195.2h0M371.0 191.3h0M379.5 197.0h0M366.0 219.7h0M387.0 205.2h0M365.0 214.1h0M393.7 211.5h0M393.2 211.3h0M364.2 193.7h0M379.5 222.7h0M372.6 203.4h0M388.0 195.6h0M374.3 205.8h0M365.4 222.1h0M386.4 215.6h0M380.4 212.6h0M371.1 212.3h0M371.3 199.6h0M373.9 198.0h0M391.1 214.5h0M369.5 203.2h0M367.9 207.8h0M378.1 200.1h0M373.4 193.0h0M374.3 200.7h0M368.3 202.6h0M375.1 209.3h0M359.8 218.4h0M385.4 207.6h0M367.0 195.1h0M365.3 226.2h0M375.1 199.6h0M380.2 208.6h0M385.3 192.2h0M376.6 204.9h0M364.7 200.2h0M368.8 222.8h0M373.5 202.5h0M364.9 210.0h0M367.5 202.6h0M381.9 200.3h0M373.2 217.1h0M381.5 204.0h0M370.7 224.5h0M376.4 207.9h0M378.5 204.0h0M374.8 202.5h0M372.7 202.0h0M364.5 210.8h0M383.4 207.0h0M365.3 211.4h0M375.0 210.6h0M381.4 193.1h0M360.0 199.1h0M364.9 208.8h0M370.2 215.8h0M382.9 202.4h0M383.3 210.7h0M366.2 191.4h0M368.6 216.1h0M384.3 193.2h0M384.2 201.5h0M387.6 204.2h0M387.0 214.4h0M366.0 201.7h0M369.5 205.6h0M359.9 215.9h0M363.8 213.2h0M369.0 218.7h0M395.4 216.2h0M384.3 195.7h0M373.8 194.0h0M382.6 204.1h0M387.0 199.8h0M389.0 221.3h0M386.7 213.6h0M361.2 225.7h0M384.7 217.3h0M379.7 219.6h0M387.2 223.3h0M378.5 220.4h0M395.0 201.0h0M369.6 200.0h0M380.4 223.7h0M376.2 196.4h0M385.9 218.5h0M378.3 204.8h0M360.6 205.8h0M368.7 192.1h0M386.4 203.5h0M387.6 223.3h0M366.4 206.6h0M382.5 222.5h0M371.9 222.6h0M390.2 217.0h0M377.8 217.8h0M371.8 220.3h0M389.9 196.3h0M378.1 193.1h0M375.0 204.1h0M366.4 194.0h0M369.6 224.3h0M365.8 208.3h0M368.5 210.8h0M365.8 220.3h0M392.2 224.1h0M375.6 199.1h0M366.5 199.4h0M363.5 206.6h0M375.4 194.6h0M380.2 209.9h0M394.5 211.4h0M376.9 213.4h0M375.3 201.3h0M369.4 226.3h0M378.1 197.7h0M374.9 198.4h0M392.7 195.6h0M371.8 211.3h0M369.5 204.0h0" stroke="#a010a8" stroke-width="2.0" stroke-linecap="round" stroke-opacity="0.85"/>
<path d="M370.8 207.7h0M380.4 209.2h0M379.0 212.9h0M361.9 209.4h0M385.9 209.4h0M368.1 211.6h0M375.3 193.7h0M370.2 216.4h0M370.5 208.1h0M386.6 191.7h0M373.7 199.4h0M383.0 202.2h0M368.6 199.2h0M382.3 204.8h0M373.3 204.7h0M365.8 206.8h0M361.7 217.1h0M372.1 200.7h0M372.0 203.6h0M361.3 193.4h0M377.8 206.9h0M364.4 197.9h0M361.0 200.0h0M377.3 209.4h0M365.8 209.3h0M360.6 197.1h0M376.0 208.7h0M371.9 205.9h0M376.6 199.5h0M374.4 196.1h0M386.4 192.6h0M368.6 216.1h0M372.5 194.9h0M381.4 208.3h0M362.1 202.5h0M380.7 196.1h0M365.7 195.3h0M376.8 218.9h0M363.9 202.9h0M379.6 193.2h0M365.2 211.1h0M380.3 199.3h0M374.9 226.7h0M376.3 211.0h0M378.0 194.9h0M370.4 202.7h0M371.8 191.9h0M370.7 220.2h0M373.6 209.7h0M365.5 205.6h0M369.6 209.2h0M366.2 204.7h0M373.7 206.0h0M371.0 217.6h0M391.7 220.5h0M378.6 218.9h0M368.2 209.9h0M360.1 211.8h0M368.3 213.3h0M370.0 201.0h0M372.3 199.1h0M366.6 191.5h0M375.0 217.5h0M372.2 207.7h0M379.7 199.2h0M376.0 192.9h0M366.0 193.2h0M377.6 209.4h0M381.1 199.4h0M382.0 224.5h0M384.0 214.1h0M378.6 196.3h0M366.0 200.0h0M379.4 209.6h0M374.8 205.0h0M360.5 205.1h0M367.2 214.1h0M375.9 201.5h0M369.7 204.4h0M378.1 208.9h0M363.2 205.6h0M388.7 208.1h0M367.9 210.5h0M379.7 219.4h0M373.4 198.7h0M366.7 210.6h0M371.9 207.0h0M372.5 207.3h0M374.1 202.4h0M368.5 219.7h0M370.5 214.5h0M374.0 202.0h0M378.3 212.3h0M380.5 199.4h0M373.1 197.3h0M364.6 207.7h0M363.5 191.8h0M383.0 196.3h0M373.8 206.4h0M390.7 212.8h0M372.5 209.6h0M373.6 199.7h0M361.6 197.8h0M381.9 210.2h0M377.4 203.5h0M370.1 201.3h0M381.5 214.4h0M383.8 204.0h0M373.0 216.3h0M390.2 210.0h0M377.5 213.0h0M375.1 193.7h0M369.4 211.4h0M388.4 216.0h0M370.8 212.2h0M366.6 201.8h0M377.5 200.0h0M366.9 200.3h0M378.9 214.0h0M369.7 194.9h0M368.0 214.9h0M367.2 212.0h0M367.6 197.6h0M384.3 198.9h0M362.8 205.7h0M360.2 218.6h0M367.3 207.1h0M367.2 214.3h0M378.6 205.1h0M371.5 215.9h0M370.1 200.7h0M366.4 206.4h0M378.2 203.5h0M364.5 192.5h0M382.2 198.6h0M366.4 215.9h0M376.0 208.0h0M382.0 201.5h0M373.3 197.5h0M378.6 207.7h0M382.0 224.7h0M374.5 212.1h0M376.6 201.6h0M367.9 191.2h0M371.9 193.4h0M361.7 196.2h0M372.1 217.3h0M374.0 201.4h0M370.3 212.2h0M372.2 207.1h0M380.3 203.5h0M368.8 223.4h0M363.3 219.4h0M373.1 203.3h0M378.5 212.9h0M365.1 216.5h0M363.5 194.6h0M370.1 205.2h0M375.0 198.5h0M383.5 195.0h0M368.3 206.5h0M379.2 196.4h0M388.7 212.2h0M371.7 208.1h0M382.0 207.6h0M367.6 220.4h0M388.5 226.2h0M361.6 202.6h0M369.6 216.8h0M385.8 197.0h0M368.8 197.7h0M369.0 208.6h0M374.1 212.4h0M384.3 219.7h0M374.1 221.8h0M379.2 203.3h0M372.7 203.2h0M385.9 197.3h0M365.3 209.5h0M370.1 194.0h0M378.1 210.6h0M377.6 199.7h0M380.5 219.0h0M366.1 194.3h0M371.9 194.2h0M372.8 196.8h0M372.0 216.4h0M374.0 202.9h0M381.5 207.4h0M366.6 202.1h0M369.0 193.0h0M386.5 207.9h0M381.2 206.3h0M359.2 197.0h0M361.5 218.9h0M379.3 210.7h0M362.3 201.8h0M373.3 198.5h0M374.9 216.7h0M383.7 209.5h0M368.2 197.5h0M379.2 215.6h0M377.4 212.2h0" stroke="#ff40ff" stroke-width="1.7" stroke-linecap="round" stroke-opacity="0.95"/>
<rect x="398" y="190" width="38.6" height="37.5" fill="#040809"/>
<path d="M425.1 218.4h0M412.9 211.7h0M409.3 210.0h0M404.7 194.4h0M403.2 204.2h0M418.8 196.0h0M428.7 219.1h0M417.7 225.0h0M403.8 224.1h0M413.4 203.2h0M427.1 196.9h0M427.7 208.9h0M414.0 192.3h0M418.7 224.9h0M418.6 198.7h0M400.9 198.3h0M414.5 204.7h0M420.2 214.7h0M401.6 208.8h0M421.1 217.2h0M418.7 203.6h0M414.4 212.5h0M410.7 194.6h0M413.1 201.7h0M430.7 205.2h0M414.0 225.1h0M406.6 211.5h0M409.4 204.2h0M412.8 204.0h0M431.3 218.0h0M420.6 211.4h0M399.5 223.0h0M434.5 215.7h0M411.2 210.0h0M423.7 196.8h0M431.9 212.3h0M407.7 212.7h0M414.8 201.9h0M419.0 196.8h0M402.8 211.3h0M411.9 198.3h0M414.3 199.4h0M433.7 198.9h0M431.8 203.3h0M421.4 212.2h0M413.2 218.0h0M413.4 203.6h0M414.2 222.0h0M428.0 192.0h0M432.8 225.1h0M429.2 204.8h0M431.9 201.0h0M426.2 217.8h0M400.8 220.3h0M407.0 205.2h0M432.6 208.8h0M419.5 217.7h0M426.0 206.5h0M430.4 202.4h0M431.8 215.6h0M399.0 206.3h0M424.6 221.7h0M422.8 203.8h0M432.9 192.0h0M404.1 226.7h0M435.7 203.9h0M425.6 226.5h0M399.4 222.2h0M416.2 196.9h0M429.8 218.9h0M411.4 219.2h0M425.9 201.3h0M432.7 205.0h0M413.8 225.9h0M426.3 197.0h0M411.9 198.5h0M399.1 225.8h0M420.0 216.0h0M409.1 206.7h0M411.1 195.8h0M427.5 209.3h0M401.0 197.7h0M424.2 200.4h0M408.1 193.8h0M412.8 219.7h0M423.5 202.8h0M415.3 192.1h0M403.0 210.9h0M411.7 203.2h0M421.1 224.8h0M430.2 200.9h0M399.5 216.1h0M414.1 222.4h0M401.1 218.3h0M423.8 203.4h0M421.4 201.3h0M429.9 225.8h0M407.2 192.7h0M422.7 214.0h0M401.4 198.7h0M417.8 193.9h0M419.7 216.9h0M435.1 205.2h0M416.2 192.7h0M415.4 223.6h0M431.9 200.4h0M403.2 199.9h0M420.8 194.4h0M414.5 205.9h0M415.0 210.3h0M432.3 199.7h0M430.6 210.8h0M411.3 203.2h0M430.1 191.2h0M401.2 219.0h0M430.3 210.5h0M433.7 215.6h0M433.8 195.5h0M419.2 217.3h0M407.1 222.2h0M423.6 212.7h0M432.1 197.6h0M404.9 217.1h0M403.9 223.2h0M432.5 209.4h0M432.1 214.1h0M407.3 199.0h0M434.0 213.9h0M429.2 210.6h0M402.7 200.3h0M419.6 205.8h0M430.8 191.9h0M408.1 215.4h0M430.0 206.6h0M435.8 206.9h0M410.6 193.6h0M418.3 193.6h0M414.6 200.6h0M426.3 191.6h0M424.1 199.7h0M409.0 207.8h0M420.1 219.0h0M432.1 216.1h0M435.5 223.8h0M425.9 211.0h0M421.3 226.3h0M434.8 197.6h0M426.7 204.5h0M430.9 224.7h0M403.8 198.6h0M429.1 193.9h0M427.8 216.3h0M426.7 195.8h0M400.5 210.5h0M401.2 203.7h0M434.0 192.1h0M398.8 209.5h0M427.2 191.2h0M420.1 201.7h0M424.7 214.7h0M408.1 212.9h0" stroke="#1a7a90" stroke-width="1.0" stroke-linecap="round" stroke-opacity="0.8"/>
<rect x="437.4" y="190" width="39.2" height="37.5" fill="#142214"/>
<path d="M447.1 191.9h0M452.1 211.1h0M454.9 199.8h0M458.3 199.6h0M445.4 194.8h0M444.2 200.7h0M464.8 208.1h0M465.2 207.3h0M462.3 194.6h0M450.8 207.3h0M464.6 213.0h0M455.7 193.0h0M462.8 205.9h0M458.2 203.8h0M459.9 214.7h0M447.2 202.6h0M449.6 206.6h0M458.9 198.1h0M464.6 216.6h0M449.0 199.1h0M450.1 207.1h0M453.3 203.7h0M451.0 211.8h0M465.8 197.7h0M441.5 203.0h0M448.4 221.8h0M448.7 215.6h0M448.2 198.4h0M452.2 203.8h0M447.4 197.6h0M472.6 195.6h0M447.6 216.4h0M463.9 208.2h0M472.4 199.4h0M455.4 204.3h0M451.0 204.2h0M449.6 202.9h0M449.9 211.5h0M454.0 210.0h0M465.5 201.4h0M462.7 223.6h0M438.5 195.1h0M469.4 198.7h0M465.9 212.9h0M455.5 211.2h0M439.5 205.4h0M454.7 217.1h0M447.7 222.3h0M451.7 218.8h0M452.7 206.7h0M465.2 220.1h0M462.1 212.2h0M466.2 218.1h0M451.8 207.1h0M474.8 224.3h0M439.9 219.2h0M462.6 218.2h0M465.5 212.9h0M466.6 192.6h0M460.2 219.1h0M441.5 212.7h0M454.6 195.3h0M455.2 217.5h0M454.1 216.6h0M462.0 211.0h0M452.0 222.4h0M442.7 217.4h0M473.6 199.9h0M474.9 219.8h0M443.8 212.6h0M455.0 207.9h0M453.0 219.6h0M475.1 207.0h0M472.8 209.5h0M442.4 213.4h0M451.4 208.2h0M455.3 194.6h0M440.9 213.1h0M442.4 193.5h0M459.8 191.2h0M464.5 206.9h0M462.3 206.8h0M439.5 209.2h0M460.7 205.1h0M452.3 214.6h0M456.5 223.8h0M448.0 216.1h0M445.3 195.4h0M446.0 226.0h0M451.2 192.7h0M457.1 200.2h0M458.7 216.2h0M451.0 214.1h0M452.2 212.1h0M473.2 217.4h0M445.5 217.9h0M461.0 200.6h0M462.7 204.8h0M446.9 190.9h0M460.9 202.7h0M464.6 209.5h0M463.6 197.9h0M464.6 191.9h0M456.4 203.4h0M461.0 194.8h0M448.3 194.5h0M443.2 203.2h0M442.5 197.3h0M438.4 192.2h0M452.3 191.8h0M453.4 203.1h0M444.8 201.7h0M470.4 204.4h0M466.8 221.0h0M455.7 216.0h0M441.5 205.1h0M464.4 208.4h0M466.3 224.6h0M446.2 198.1h0M448.1 194.3h0M462.6 213.0h0M442.0 209.4h0M440.3 201.4h0M450.5 216.5h0M443.7 195.5h0M459.2 198.1h0M458.8 211.1h0M454.5 195.9h0M461.9 215.5h0M445.9 200.8h0M457.2 222.5h0M453.8 213.7h0M447.7 199.9h0M447.5 210.1h0M446.8 202.1h0M465.1 195.3h0M462.5 205.9h0M447.1 193.9h0M441.2 198.8h0M462.1 199.4h0M465.1 192.3h0M459.8 208.0h0M450.6 214.4h0M449.7 209.7h0M460.7 203.7h0M465.3 193.2h0M470.2 197.3h0M440.8 200.3h0M456.3 190.7h0M453.4 207.0h0M469.2 199.2h0M449.3 199.6h0M460.1 206.1h0M458.8 196.3h0M442.3 205.0h0M442.8 220.3h0M459.4 208.7h0M461.0 202.8h0M459.4 207.4h0M439.0 223.3h0M438.7 208.1h0M461.3 201.4h0M456.7 207.1h0M449.6 200.6h0M468.1 192.4h0M472.8 224.1h0M453.3 211.0h0M446.7 208.0h0M470.7 220.3h0M454.8 200.1h0M461.9 210.9h0M472.3 195.4h0M460.9 218.3h0M441.6 202.9h0M449.2 200.5h0M442.6 202.9h0M442.8 198.3h0M441.3 194.1h0M462.2 204.3h0M446.9 210.0h0M460.2 195.0h0M450.2 203.7h0M449.8 215.4h0M458.3 203.1h0M444.5 216.5h0M445.7 208.1h0M454.8 202.2h0M452.9 221.1h0M447.8 196.2h0M458.6 198.2h0M451.6 201.2h0M451.1 197.5h0M438.7 207.5h0M449.3 198.7h0M462.0 211.8h0M455.3 224.3h0M443.4 196.9h0M446.1 226.5h0M449.1 202.8h0M458.0 200.9h0M440.5 213.1h0M453.1 213.7h0M448.4 213.7h0M446.4 216.6h0M458.8 198.6h0M447.7 190.9h0M460.5 221.7h0M462.5 193.6h0M449.8 225.5h0M467.0 218.1h0M448.6 204.2h0M461.9 213.1h0M443.1 209.1h0M452.5 220.6h0M440.3 214.5h0M452.6 199.9h0M458.7 196.4h0M469.5 203.1h0M447.7 210.3h0M467.3 219.9h0M459.2 213.6h0M449.0 216.7h0M449.2 214.7h0M439.8 203.4h0M452.4 200.8h0M441.1 224.6h0M445.2 206.2h0M452.1 205.3h0M458.2 197.4h0M440.1 207.4h0M438.5 220.0h0M449.2 214.0h0M467.6 222.8h0M469.6 212.2h0M454.2 190.7h0M452.2 206.1h0M469.5 192.3h0M450.2 220.5h0M443.2 208.0h0M464.8 216.5h0M453.8 209.1h0M451.9 199.9h0M448.9 190.8h0M469.3 203.9h0M464.3 197.3h0M449.2 196.2h0M451.0 220.0h0M447.6 205.7h0M459.4 198.8h0M450.0 205.8h0M469.7 208.4h0M457.8 205.6h0M452.1 204.4h0M465.8 222.6h0M454.4 212.6h0M455.9 207.8h0M444.9 195.1h0M447.6 200.8h0M449.8 208.8h0M460.0 197.7h0M460.2 211.6h0M438.6 205.4h0M448.5 222.7h0M440.6 199.8h0M440.7 217.9h0M448.7 209.0h0M460.0 200.0h0M465.6 210.7h0M443.6 219.4h0M448.8 209.3h0M453.8 217.7h0M473.3 219.0h0M455.5 212.5h0M447.6 200.0h0M453.2 214.3h0M446.4 222.5h0M450.2 206.2h0M441.9 207.4h0M443.4 193.9h0M447.4 219.8h0M443.3 200.9h0M451.5 199.7h0M460.8 199.9h0M451.8 195.9h0M461.5 226.5h0M469.3 216.1h0M464.1 220.9h0M450.6 199.4h0M457.8 205.8h0M453.9 221.4h0M457.4 209.1h0M450.4 201.9h0M464.9 203.4h0M449.0 212.5h0M447.0 203.6h0M467.7 213.3h0M456.1 214.9h0M450.6 215.3h0M459.3 193.4h0M446.8 192.3h0M457.2 197.6h0M475.5 215.3h0M438.1 206.7h0M441.0 200.9h0M467.9 193.1h0M467.7 212.6h0M456.9 210.1h0M451.0 221.4h0M440.8 203.4h0M466.7 221.7h0M452.9 216.1h0M457.8 205.4h0M467.0 200.6h0M453.0 193.1h0M456.4 206.2h0M442.2 211.6h0M444.6 212.2h0M447.9 205.3h0M466.3 203.5h0M458.8 212.7h0M450.0 201.9h0M463.5 192.1h0M449.3 206.0h0M460.0 198.0h0M458.4 199.7h0M441.4 194.1h0M439.0 199.4h0M462.7 217.4h0M446.5 202.0h0M468.0 192.1h0M458.4 216.7h0M455.8 209.4h0M451.7 201.2h0M440.7 207.4h0M462.0 221.4h0M467.1 200.7h0M442.3 198.3h0M440.1 198.0h0M438.7 205.1h0M470.3 217.1h0M460.0 217.5h0M463.8 217.4h0M448.3 209.3h0M443.5 223.9h0M467.8 201.8h0M447.2 224.0h0M452.9 219.8h0M452.4 204.9h0M454.7 203.2h0M444.2 205.9h0M459.2 203.7h0M460.6 205.4h0M449.3 206.8h0M452.8 222.6h0M440.9 215.8h0M461.1 213.7h0M440.5 191.1h0M467.2 211.2h0M438.3 202.4h0M451.0 194.0h0M460.4 206.6h0M453.9 196.3h0M441.9 212.8h0M453.7 196.3h0M473.2 216.3h0M455.0 210.7h0M471.7 199.3h0M450.9 203.9h0M470.1 220.3h0M441.5 209.3h0M442.7 200.4h0M444.9 204.5h0M456.0 209.7h0M446.6 197.4h0M462.9 218.1h0M467.9 224.7h0M461.4 196.6h0M444.7 207.5h0M442.8 210.7h0M463.0 200.4h0M458.9 207.9h0M457.1 197.0h0M465.0 202.1h0M462.1 219.5h0M474.6 209.3h0M451.4 224.9h0M466.3 200.5h0M459.6 204.3h0M455.0 213.0h0M452.2 209.9h0M464.1 200.6h0M459.7 219.7h0M459.4 209.9h0M443.7 208.9h0M472.6 194.2h0M442.2 215.4h0M442.8 211.5h0M474.9 205.5h0M466.0 225.1h0M446.8 194.7h0M445.2 202.2h0M453.4 224.5h0M440.2 194.7h0M445.0 194.5h0M454.8 204.9h0M451.3 219.7h0M446.8 208.2h0M438.2 206.6h0M467.0 195.2h0M448.8 221.9h0M452.4 220.2h0M449.1 209.6h0M443.1 205.9h0M441.6 218.3h0M462.3 215.8h0M454.1 222.8h0M453.2 214.9h0M439.0 199.9h0M459.5 203.4h0M458.6 218.7h0M468.1 195.1h0M445.3 197.6h0M448.2 195.4h0M453.5 206.4h0M469.8 218.0h0M454.8 210.8h0M469.1 205.6h0M439.9 208.4h0M458.3 210.4h0M444.4 208.9h0M441.3 195.7h0M470.7 221.8h0M463.9 213.3h0M465.2 213.8h0M456.6 216.1h0M455.0 226.2h0M448.3 199.9h0M456.1 201.7h0M463.4 224.1h0M446.0 216.2h0M446.9 210.4h0M452.7 203.9h0M460.2 216.5h0M461.5 202.4h0M452.2 200.7h0M444.9 195.8h0M465.7 199.9h0M445.4 209.6h0" stroke="#8a3a8a" stroke-width="1.9" stroke-linecap="round" stroke-opacity="0.8"/>
<path d="M449.0 211.1h0M446.4 212.6h0M472.1 199.9h0M449.3 205.1h0M458.3 200.5h0M453.3 215.9h0M455.1 202.3h0M447.8 200.9h0M457.2 200.1h0M450.2 194.7h0M452.6 213.0h0M441.5 226.3h0M463.6 217.2h0M453.7 201.8h0M453.3 203.0h0M473.2 221.6h0M445.6 212.1h0M467.1 213.8h0M441.5 207.4h0M444.3 207.7h0M458.9 193.2h0M450.8 222.1h0M464.2 208.1h0M474.9 225.3h0M451.4 223.6h0M460.1 205.4h0M454.9 200.2h0M455.5 207.5h0M461.3 223.0h0M463.5 193.7h0M465.3 199.9h0M448.0 219.4h0M450.4 210.0h0M448.9 201.7h0M441.6 201.3h0M444.0 210.4h0M440.6 190.9h0M440.0 217.5h0M441.5 208.3h0M453.1 204.0h0M454.0 204.6h0M464.7 219.1h0M458.9 204.7h0M450.9 209.5h0M456.1 207.4h0M459.8 203.5h0M441.5 204.5h0M452.8 204.9h0M456.1 204.3h0M450.6 209.6h0M446.9 209.1h0M446.9 215.9h0M445.2 195.6h0M452.4 205.0h0M463.0 201.4h0M450.7 212.2h0M470.5 213.3h0M473.9 213.1h0M458.8 204.0h0M451.8 200.2h0M440.8 201.3h0M451.8 210.5h0M440.6 203.2h0M457.0 206.3h0M451.4 202.8h0M454.3 193.4h0M450.2 223.3h0M447.8 213.5h0M456.3 219.0h0M454.6 212.0h0M454.4 206.9h0M438.4 204.1h0M443.3 209.8h0M447.2 210.1h0M450.0 203.6h0M467.9 201.1h0M451.6 214.6h0M453.4 210.5h0M453.6 200.9h0M460.0 196.5h0M447.9 210.4h0M461.7 226.4h0M450.1 208.7h0M449.9 200.1h0M443.6 215.6h0M450.2 203.0h0M463.8 205.7h0M471.3 209.1h0M460.0 200.9h0M460.7 194.8h0M461.2 203.9h0M474.5 201.9h0M464.1 205.7h0M449.1 199.5h0M441.3 213.2h0M456.9 213.9h0M452.9 204.5h0M456.3 210.5h0M463.0 203.5h0M438.5 217.1h0M457.7 206.8h0M462.8 201.6h0M450.6 200.6h0M458.4 193.7h0M468.2 205.0h0M446.3 207.6h0M455.8 209.9h0M455.9 224.2h0M442.4 210.7h0M470.8 193.5h0M445.3 216.8h0M462.5 195.5h0M451.8 222.1h0M458.1 221.7h0M463.7 216.6h0M445.7 219.1h0M453.4 210.2h0M449.2 210.3h0M456.2 210.9h0M439.9 216.1h0M456.0 193.2h0M463.3 195.1h0M442.6 212.6h0M454.9 205.8h0M441.4 196.5h0M441.6 199.8h0M454.4 213.4h0M457.8 205.5h0M446.3 204.1h0M453.0 219.7h0M452.4 203.2h0M451.1 194.0h0M442.2 193.7h0M441.4 212.9h0M459.7 204.5h0M462.6 205.8h0M464.3 204.8h0M462.8 202.2h0M448.4 214.5h0M460.8 214.9h0M440.5 206.7h0M445.9 212.8h0M441.6 203.3h0M460.8 224.0h0M472.2 202.2h0M440.9 209.3h0M461.1 207.2h0M456.5 215.1h0M459.3 208.8h0M454.8 196.4h0M455.0 208.5h0M459.7 224.8h0M438.3 198.6h0M463.8 196.3h0M457.3 209.4h0M464.1 209.8h0M441.9 205.9h0M461.7 216.5h0M445.1 209.2h0M462.7 207.0h0M450.2 208.1h0M453.8 213.7h0M440.0 206.6h0M442.5 215.6h0M443.1 212.0h0M450.7 210.1h0M470.3 200.6h0M455.2 206.3h0M460.7 197.4h0M473.1 206.9h0M471.8 195.3h0M456.1 217.3h0M451.3 214.5h0M442.4 199.5h0M460.4 209.2h0M455.7 215.5h0M462.5 192.0h0M465.0 197.6h0M459.2 206.9h0M455.4 191.4h0M448.0 201.8h0M440.8 203.3h0M460.9 213.6h0M447.2 218.5h0M464.0 225.7h0M450.4 204.9h0M455.3 217.8h0M452.6 201.7h0M458.1 201.5h0M440.2 221.5h0M449.5 207.4h0M453.3 212.0h0M452.8 198.5h0M458.8 208.8h0M447.6 208.6h0M441.5 202.9h0M469.3 208.2h0M446.7 200.6h0M444.6 195.9h0M462.3 219.1h0M461.3 207.5h0M474.9 200.1h0M457.3 194.6h0M462.6 194.7h0M451.5 199.7h0M459.7 199.8h0M441.8 224.7h0M443.7 205.7h0M455.2 215.8h0M458.7 208.4h0M456.0 211.9h0M455.6 223.9h0M466.5 207.8h0M452.6 215.9h0M452.7 211.7h0M470.3 213.3h0M447.9 214.6h0M473.3 212.8h0M452.9 195.0h0M438.3 197.0h0M459.5 200.6h0M446.2 208.6h0M459.9 195.5h0M443.2 211.5h0M454.6 198.2h0M458.5 201.0h0M458.9 205.7h0M439.6 225.1h0M455.7 194.2h0M450.7 224.5h0M453.6 198.6h0M454.2 211.2h0M460.4 209.1h0M459.9 208.3h0M456.7 209.5h0M446.1 206.3h0M461.6 208.3h0M449.5 223.7h0M465.2 219.4h0M454.6 192.0h0M438.6 212.1h0" stroke="#f070f0" stroke-width="1.7" stroke-linecap="round" stroke-opacity="0.9"/>
<line x1="462" y1="225" x2="472" y2="225" stroke="#fff" stroke-width="1"/>
<rect x="546.8" y="90.1" width="22" height="138.6" fill="#0000ff"/>
<rect x="574.3" y="176.9" width="22.4" height="51.8" fill="#ff0000"/>
<rect x="618.6" y="95.3" width="22.4" height="133.4" fill="#0000ff"/>
<rect x="646.3" y="94.6" width="22" height="134.1" fill="#ff0000"/>
<path d="M557.8 78.4h0M557.8 91.4h0M556.3 92.7h0M557.8 113.4h0" stroke="#000" stroke-width="3.0" stroke-linecap="round"/>
<path d="M557.8,95.3 V84.3 M552.3,84.3 H563.3 M552.3,95.3 H563.3" stroke="#000" stroke-width="1.2" fill="none"/>
<path d="M585.5 157.5h0M585.5 161.3h0M585.5 165.2h0M582.0 176.9h0M586.5 180.1h0M583.5 184.7h0M587.5 188.5h0M585.5 200.9h0" stroke="#000" stroke-width="3.0" stroke-linecap="round"/>
<path d="M585.5,182.1 V171.1 M580.3,171.1 H590.7 M580.3,182.1 H590.7" stroke="#000" stroke-width="1.2" fill="none"/>
<path d="M629.8 68.1h0M629.8 78.4h0M629.8 99.2h0M629.8 111.5h0M629.8 120.5h0" stroke="#000" stroke-width="3.0" stroke-linecap="round"/>
<path d="M629.8,105 V84.9 M624.8,84.9 H634.8 M624.8,105 H634.8" stroke="#000" stroke-width="1.2" fill="none"/>
<path d="M657.3 77.8h0M650.3 90.1h0M657.3 87.5h0M664.3 87.5h0M657.3 95.3h0M657.3 100.5h0M657.3 108.2h0M657.3 114.7h0" stroke="#000" stroke-width="3.0" stroke-linecap="round"/>
<path d="M657.3,99.2 V90.1 M652.7,90.1 H661.9 M652.7,99.2 H661.9" stroke="#000" stroke-width="1.2" fill="none"/>
<path d="M535.9,33.4 V228.7 H680" stroke="#000" stroke-width="2.0" fill="none"/>
<line x1="529.9" y1="228.7" x2="535.9" y2="228.7" stroke="#000" stroke-width="2.0"/>
<text x="528.4" y="233.7" font-size="13.8" font-weight="bold" text-anchor="end">0</text>
<line x1="529.9" y1="196.3" x2="535.9" y2="196.3" stroke="#000" stroke-width="2.0"/>
<text x="528.4" y="201.3" font-size="13.8" font-weight="bold" text-anchor="end">5</text>
<line x1="529.9" y1="163.9" x2="535.9" y2="163.9" stroke="#000" stroke-width="2.0"/>
<text x="528.4" y="168.9" font-size="13.8" font-weight="bold" text-anchor="end">10</text>
<line x1="529.9" y1="131.6" x2="535.9" y2="131.6" stroke="#000" stroke-width="2.0"/>
<text x="528.4" y="136.5" font-size="13.8" font-weight="bold" text-anchor="end">15</text>
<line x1="529.9" y1="99.2" x2="535.9" y2="99.2" stroke="#000" stroke-width="2.0"/>
<text x="528.4" y="104.1" font-size="13.8" font-weight="bold" text-anchor="end">20</text>
<line x1="529.9" y1="66.8" x2="535.9" y2="66.8" stroke="#000" stroke-width="2.0"/>
<text x="528.4" y="71.8" font-size="13.8" font-weight="bold" text-anchor="end">25</text>
<line x1="529.9" y1="34.4" x2="535.9" y2="34.4" stroke="#000" stroke-width="2.0"/>
<text x="528.4" y="39.4" font-size="13.8" font-weight="bold" text-anchor="end">30</text>
<line x1="571.8" y1="228.7" x2="571.8" y2="234.2" stroke="#000" stroke-width="2.0"/>
<line x1="643.3" y1="228.7" x2="643.3" y2="234.2" stroke="#000" stroke-width="2.0"/>
<path d="M557.3,59 V52.5 H585.8 V154" stroke="#000" stroke-width="1.3" fill="none"/>
<text x="570.8" y="54.2" font-size="16" font-weight="bold" text-anchor="middle" textLength="18.2" lengthAdjust="spacingAndGlyphs">***</text>
<text x="644.5" y="52.4" font-size="13" font-weight="bold" text-anchor="middle">ns</text>
<line x1="635.7" y1="55" x2="653.2" y2="55" stroke="#000" stroke-width="1.4"/>
<text x="553" y="248.3" font-size="14.8" font-weight="bold" textLength="38.6" lengthAdjust="spacingAndGlyphs">Shell</text>
<text x="626" y="248.3" font-size="14.8" font-weight="bold" textLength="35.5" lengthAdjust="spacingAndGlyphs">Core</text>
<text x="604" y="16.4" font-size="13" font-weight="bold" fill="#0000ff" textLength="46.6" lengthAdjust="spacingAndGlyphs">Control</text>
<text x="604.5" y="32.4" font-size="13.4" font-weight="bold" font-style="italic" fill="#ff0000" textLength="63.2" lengthAdjust="spacingAndGlyphs">Avp-Vipr2</text>
<text x="667.4" y="27" font-size="8.3" font-weight="bold" font-style="italic" fill="#ff0000" textLength="12.2" lengthAdjust="spacingAndGlyphs">−/−</text>
<text transform="translate(508.3,129.3) rotate(-90)" text-anchor="middle" font-size="13.5" font-weight="bold" textLength="219.5" lengthAdjust="spacingAndGlyphs">Mean Corrected Fluorescence (AU)</text>
<rect x="25.3" y="281.6" width="216.3" height="197.8" fill="#cbcbcb"/>
<path d="M25.3,286.5H241.6M25.3,291.1H241.6M25.3,295.7H241.6M25.3,300.2H241.6M25.3,304.8H241.6M25.3,309.4H241.6M25.3,314H241.6M25.3,318.6H241.6M25.3,323.2H241.6M25.3,327.8H241.6M25.3,332.3H241.6M25.3,336.9H241.6M25.3,341.5H241.6M25.3,346.1H241.6M25.3,350.7H241.6M25.3,355.3H241.6M25.3,359.8H241.6M25.3,364.4H241.6M25.3,369H241.6M25.3,373.6H241.6M25.3,378.2H241.6M25.3,382.8H241.6M25.3,387.4H241.6M25.3,391.9H241.6M25.3,396.5H241.6M25.3,401.1H241.6M25.3,405.7H241.6M25.3,410.3H241.6M25.3,414.9H241.6M25.3,419.4H241.6M25.3,424H241.6M25.3,428.6H241.6M25.3,433.2H241.6M25.3,437.8H241.6M25.3,442.4H241.6M25.3,447H241.6M25.3,451.5H241.6M25.3,456.1H241.6M25.3,460.7H241.6M25.3,465.3H241.6M25.3,469.9H241.6M25.3,474.5H241.6" stroke="#bababa" stroke-width="0.6" fill="none"/>
<rect x="25.3" y="281.6" width="54.1" height="14.1" fill="#fff"/>
<rect x="133.4" y="281.6" width="54.1" height="9.5" fill="#fff"/>
<path d="M25.3,286.5h54.1M25.3,291.1h54.1M25.3,295.7h54.1M133.4,286.5h54.1M133.4,291.1h54.1" stroke="#c8c8c8" stroke-width="0.6" stroke-dasharray="1 2" fill="none"/>
<path d="M78.8,286.5v-0.7M87.8,286.5v-1.1M95.8,286.5v-1.0M102.8,286.5v-1.1M103.8,286.5v-1.2M116.8,286.5v-0.5M131.8,286.5v-1.2M135.8,286.5v-0.6M136.8,286.5v-0.7M138.8,286.5v-0.4M155.8,286.5v-0.5M187.8,286.5v-0.7M195.8,286.5v-1.2M197.8,286.5v-1.1M198.8,286.5v-0.6M205.8,286.5v-0.9M211.8,286.5v-1.0M212.8,286.5v-1.0M213.8,286.5v-0.6M227.8,286.5v-1.2M229.8,286.5v-0.7M230.8,286.5v-0.8M231.8,286.5v-0.7M233.8,286.5v-1.2M235.8,286.5v-1.1M236.8,286.5v-1.1M237.8,286.5v-0.8M238.8,286.5v-0.7M239.8,286.5v-0.7M27.8,291.1v-0.6M28.8,291.1v-0.7M30.8,291.1v-0.4M47.8,291.1v-0.5M79.8,291.1v-0.7M87.8,291.1v-1.2M89.8,291.1v-1.1M90.8,291.1v-0.6M97.8,291.1v-0.9M103.8,291.1v-1.0M104.8,291.1v-1.0M105.8,291.1v-0.6M119.8,291.1v-1.2M121.8,291.1v-0.7M122.8,291.1v-0.8M123.8,291.1v-0.7M125.8,291.1v-1.2M127.8,291.1v-1.1M128.8,291.1v-1.1M129.8,291.1v-0.8M130.8,291.1v-0.7M131.8,291.1v-0.7M133.8,291.1v-1.0M134.8,291.1v-0.8M135.8,291.1v-0.5M136.8,291.1v-0.5M148.8,291.1v-0.4M192.8,291.1v-0.8M193.8,291.1v-1.0M197.8,291.1v-1.1M198.8,291.1v-0.7M199.8,291.1v-1.0M230.8,291.1v-1.0M231.8,291.1v-0.9M235.8,291.1v-1.1M236.8,291.1v-0.9M237.8,291.1v-0.6M238.8,291.1v-0.7M239.8,291.1v-1.0M25.8,295.7v-1.0M26.8,295.7v-0.8M27.8,295.7v-0.5M28.8,295.7v-0.5M40.8,295.7v-0.4M84.8,295.7v-0.8M85.8,295.7v-1.0M89.8,295.7v-1.1M90.8,295.7v-0.7M91.8,295.7v-1.0M122.8,295.7v-1.0M123.8,295.7v-0.9M127.8,295.7v-1.1M128.8,295.7v-0.9M129.8,295.7v-0.6M130.8,295.7v-0.7M131.8,295.7v-1.0M137.8,295.7v-1.1M138.8,295.7v-0.7M181.8,295.7v-1.2M188.8,295.7v-0.7M189.8,295.7v-1.0M192.8,295.7v-1.0M197.8,295.7v-1.2M198.8,295.7v-0.9M199.8,295.7v-0.5M216.8,295.7v-0.9M220.8,295.7v-0.8M221.8,295.7v-0.6M222.8,295.7v-0.8M223.8,295.7v-1.0M229.8,295.7v-1.1M230.8,295.7v-1.1M231.8,295.7v-1.0M29.8,300.2v-1.1M30.8,300.2v-0.7M73.8,300.2v-1.2M80.8,300.2v-0.7M81.8,300.2v-1.0M84.8,300.2v-1.0M89.8,300.2v-1.2M90.8,300.2v-0.9M91.8,300.2v-0.5M108.8,300.2v-0.9M112.8,300.2v-0.8M113.8,300.2v-0.6M114.8,300.2v-0.8M115.8,300.2v-1.0M121.8,300.2v-1.1M122.8,300.2v-1.1M123.8,300.2v-1.0M179.8,300.2v-1.0M181.8,300.2v-0.6M197.8,300.2v-0.6M198.8,300.2v-1.0M199.8,300.2v-0.9M208.8,300.2v-1.0M219.8,300.2v-1.1M237.8,300.2v-0.7M238.8,300.2v-0.7M71.8,304.8v-1.0M73.8,304.8v-0.6M89.8,304.8v-0.6M90.8,304.8v-1.0M91.8,304.8v-0.9M100.8,304.8v-1.0M111.8,304.8v-1.1M129.8,304.8v-0.7M130.8,304.8v-0.7M136.8,304.8v-1.1M137.8,304.8v-0.8M138.8,304.8v-0.8M199.8,304.8v-0.6M200.8,304.8v-0.7M201.8,304.8v-0.7M202.8,304.8v-1.1M206.8,304.8v-0.9M208.8,304.8v-0.7M214.8,304.8v-0.9M222.8,304.8v-0.7M224.8,304.8v-1.2M229.8,304.8v-1.0M28.8,309.4v-1.1M29.8,309.4v-0.8M30.8,309.4v-0.8M91.8,309.4v-0.6M92.8,309.4v-0.7M93.8,309.4v-0.7M94.8,309.4v-1.1M98.8,309.4v-0.9M100.8,309.4v-0.7M106.8,309.4v-0.9M114.8,309.4v-0.7M116.8,309.4v-1.2M121.8,309.4v-1.0M165.8,309.4v-0.9M190.8,309.4v-1.2M200.8,309.4v-0.7M201.8,309.4v-1.0M205.8,309.4v-1.0M207.8,309.4v-0.8M213.8,309.4v-0.5M214.8,309.4v-1.1M215.8,309.4v-1.2M219.8,309.4v-0.9M220.8,309.4v-1.1M221.8,309.4v-0.5M223.8,309.4v-1.2M232.8,309.4v-0.8M239.8,309.4v-1.0M57.8,314.0v-0.9M82.8,314.0v-1.2M92.8,314.0v-0.7M93.8,314.0v-1.0M97.8,314.0v-1.0M99.8,314.0v-0.8M105.8,314.0v-0.5M106.8,314.0v-1.1M107.8,314.0v-1.2M111.8,314.0v-0.9M112.8,314.0v-1.1M113.8,314.0v-0.5M115.8,314.0v-1.2M124.8,314.0v-0.8M131.8,314.0v-1.0M161.8,314.0v-0.9M183.8,314.0v-0.9M191.8,314.0v-1.1M194.8,314.0v-0.8M196.8,314.0v-1.2M211.8,314.0v-0.9M214.8,314.0v-1.1M215.8,314.0v-0.9M229.8,314.0v-1.0M53.8,318.6v-0.9M75.8,318.6v-0.9M83.8,318.6v-1.1M86.8,318.6v-0.8M88.8,318.6v-1.2M103.8,318.6v-0.9M106.8,318.6v-1.1M107.8,318.6v-0.9M121.8,318.6v-1.0M186.8,318.6v-0.8M187.8,318.6v-0.7M194.8,318.6v-1.0M200.8,318.6v-1.1M201.8,318.6v-1.1M207.8,318.6v-1.0M225.8,318.6v-1.0M229.8,318.6v-1.0M238.8,318.6v-1.1M78.8,323.2v-0.8M79.8,323.2v-0.7M86.8,323.2v-1.0M92.8,323.2v-1.1M93.8,323.2v-1.1M99.8,323.2v-1.0M117.8,323.2v-1.0M121.8,323.2v-1.0M130.8,323.2v-1.1M182.8,323.2v-1.2M183.8,323.2v-1.1M191.8,323.2v-0.9M199.8,323.2v-1.1M74.8,327.8v-1.2M75.8,327.8v-1.1M83.8,327.8v-0.9M91.8,327.8v-1.1M163.8,327.8v-0.8M177.8,327.8v-1.1M188.8,327.8v-1.1M189.8,327.8v-0.8M200.8,327.8v-1.0M205.8,327.8v-0.6M206.8,327.8v-0.8M211.8,327.8v-1.2M215.8,327.8v-1.1M216.8,327.8v-0.7M217.8,327.8v-0.7M55.8,332.3v-0.8M69.8,332.3v-1.1M80.8,332.3v-1.1M81.8,332.3v-0.8M92.8,332.3v-1.0M97.8,332.3v-0.6M98.8,332.3v-0.8M103.8,332.3v-1.2M107.8,332.3v-1.1M108.8,332.3v-0.7M109.8,332.3v-0.7M133.8,332.3v-1.1M168.8,332.3v-0.9M175.8,332.3v-0.7M176.8,332.3v-1.0M181.8,332.3v-1.2M183.8,332.3v-1.0M186.8,332.3v-1.0M193.8,332.3v-1.1M198.8,332.3v-1.1M214.8,332.3v-1.0M224.8,332.3v-0.9M225.8,332.3v-1.0M25.8,336.9v-1.1M60.8,336.9v-0.9M67.8,336.9v-0.7M68.8,336.9v-1.0M73.8,336.9v-1.2M75.8,336.9v-1.0M78.8,336.9v-1.0M85.8,336.9v-1.1M90.8,336.9v-1.1M106.8,336.9v-1.0M116.8,336.9v-0.9M117.8,336.9v-1.0M138.8,336.9v-0.4M176.8,336.9v-0.7M177.8,336.9v-1.1M178.8,336.9v-0.9M185.8,336.9v-1.1M187.8,336.9v-0.7M224.8,336.9v-0.7M226.8,336.9v-1.1M227.8,336.9v-0.8M233.8,336.9v-0.9M234.8,336.9v-0.9M30.8,341.5v-0.4M68.8,341.5v-0.7M69.8,341.5v-1.1M70.8,341.5v-0.9M77.8,341.5v-1.1M79.8,341.5v-0.7M116.8,341.5v-0.7M118.8,341.5v-1.1M119.8,341.5v-0.8M125.8,341.5v-0.9M126.8,341.5v-0.9M175.8,341.5v-0.9M180.8,341.5v-1.2M194.8,341.5v-0.9M195.8,341.5v-1.1M197.8,341.5v-1.1M201.8,341.5v-1.0M202.8,341.5v-1.0M203.8,341.5v-0.7M204.8,341.5v-0.7M209.8,341.5v-0.9M214.8,341.5v-1.0M67.8,346.1v-0.9M72.8,346.1v-1.2M86.8,346.1v-0.9M87.8,346.1v-1.1M89.8,346.1v-1.1M93.8,346.1v-1.0M94.8,346.1v-1.0M95.8,346.1v-0.7M96.8,346.1v-0.7M101.8,346.1v-0.9M106.8,346.1v-1.0M186.8,346.1v-1.0M196.8,346.1v-1.2M206.8,346.1v-1.1M210.8,346.1v-0.5M211.8,346.1v-1.0M212.8,346.1v-1.1M215.8,346.1v-1.2M218.8,346.1v-0.6M223.8,346.1v-0.8M224.8,346.1v-1.0M228.8,346.1v-1.0M229.8,346.1v-0.5M230.8,346.1v-1.0M231.8,346.1v-0.7M232.8,346.1v-1.1M240.8,346.1v-0.8M78.8,350.7v-1.0M88.8,350.7v-1.2M98.8,350.7v-1.1M102.8,350.7v-0.5M103.8,350.7v-1.0M104.8,350.7v-1.1M107.8,350.7v-1.2M110.8,350.7v-0.6M115.8,350.7v-0.8M116.8,350.7v-1.0M120.8,350.7v-1.0M121.8,350.7v-0.5M122.8,350.7v-1.0M123.8,350.7v-0.7M124.8,350.7v-1.1M132.8,350.7v-0.8M133.8,350.7v-0.6M173.8,350.7v-1.1M177.8,350.7v-0.8M188.8,350.7v-1.0M191.8,350.7v-0.7M198.8,350.7v-1.2M223.8,350.7v-1.2M232.8,350.7v-0.9M25.8,355.3v-0.6M65.8,355.3v-1.1M69.8,355.3v-0.8M80.8,355.3v-1.0M83.8,355.3v-0.7M90.8,355.3v-1.2M115.8,355.3v-1.2M124.8,355.3v-0.9M133.8,355.3v-1.1M145.8,355.3v-0.7M170.8,355.3v-1.0M171.8,355.3v-0.8M172.8,355.3v-0.9M173.8,355.3v-0.9M176.8,355.3v-0.6M182.8,355.3v-1.0M191.8,355.3v-0.9M192.8,355.3v-1.1M201.8,355.3v-1.0M215.8,355.3v-0.7M221.8,355.3v-0.9M233.8,355.3v-1.1M25.8,359.8v-1.1M37.8,359.8v-0.7M62.8,359.8v-1.0M63.8,359.8v-0.8M64.8,359.8v-0.9M65.8,359.8v-0.9M68.8,359.8v-0.6M74.8,359.8v-1.0M83.8,359.8v-0.9M84.8,359.8v-1.1M93.8,359.8v-1.0M107.8,359.8v-0.7M113.8,359.8v-0.9M125.8,359.8v-1.1M169.8,359.8v-0.7M184.8,359.8v-1.1M193.8,359.8v-0.9M194.8,359.8v-0.9M206.8,359.8v-1.0M207.8,359.8v-0.8M216.8,359.8v-0.8M219.8,359.8v-1.0M220.8,359.8v-0.9M227.8,359.8v-0.9M228.8,359.8v-1.1M232.8,359.8v-0.8M233.8,359.8v-1.0M234.8,359.8v-1.0M239.8,359.8v-1.1M240.8,359.8v-1.0M61.8,364.4v-0.7M76.8,364.4v-1.1M85.8,364.4v-0.9M86.8,364.4v-0.9M98.8,364.4v-1.0M99.8,364.4v-0.8M108.8,364.4v-0.8M111.8,364.4v-1.0M112.8,364.4v-0.9M119.8,364.4v-0.9M120.8,364.4v-1.1M124.8,364.4v-0.8M125.8,364.4v-1.0M126.8,364.4v-1.0M131.8,364.4v-1.1M132.8,364.4v-1.0M134.8,364.4v-0.9M191.8,364.4v-0.8M192.8,364.4v-0.8M193.8,364.4v-0.8M194.8,364.4v-1.1M198.8,364.4v-1.2M199.8,364.4v-1.2M200.8,364.4v-1.0M201.8,364.4v-0.7M203.8,364.4v-1.0M208.8,364.4v-1.2M209.8,364.4v-0.6M210.8,364.4v-0.9M217.8,364.4v-1.2M218.8,364.4v-0.7M219.8,364.4v-0.7M221.8,364.4v-0.9M230.8,364.4v-1.0M231.8,364.4v-1.0M26.8,369.0v-0.9M83.8,369.0v-0.8M84.8,369.0v-0.8M85.8,369.0v-0.8M86.8,369.0v-1.1M90.8,369.0v-1.2M91.8,369.0v-1.2M92.8,369.0v-1.0M93.8,369.0v-0.7M95.8,369.0v-1.0M100.8,369.0v-1.2M101.8,369.0v-0.6M102.8,369.0v-0.9M109.8,369.0v-1.2M110.8,369.0v-0.7M111.8,369.0v-0.7M113.8,369.0v-0.9M122.8,369.0v-1.0M123.8,369.0v-1.0M164.8,369.0v-0.8M170.8,369.0v-1.0M178.8,369.0v-0.5M181.8,369.0v-0.6M182.8,369.0v-1.0M186.8,369.0v-0.9M187.8,369.0v-1.0M189.8,369.0v-0.6M190.8,369.0v-0.9M191.8,369.0v-1.0M193.8,369.0v-1.0M195.8,369.0v-0.6M226.8,369.0v-1.0M56.8,373.6v-0.8M62.8,373.6v-1.0M70.8,373.6v-0.5M73.8,373.6v-0.6M74.8,373.6v-1.0M78.8,373.6v-0.9M79.8,373.6v-1.0M81.8,373.6v-0.6M82.8,373.6v-0.9M83.8,373.6v-1.0M85.8,373.6v-1.0M87.8,373.6v-0.6M118.8,373.6v-1.0M182.8,373.6v-1.2M190.8,373.6v-0.8M215.8,373.6v-0.5M217.8,373.6v-1.1M220.8,373.6v-1.2M221.8,373.6v-0.7M227.8,373.6v-0.6M228.8,373.6v-0.8M229.8,373.6v-0.7M235.8,373.6v-1.0M236.8,373.6v-1.0M237.8,373.6v-0.7M74.8,378.2v-1.2M82.8,378.2v-0.8M107.8,378.2v-0.5M109.8,378.2v-1.1M112.8,378.2v-1.2M113.8,378.2v-0.7M119.8,378.2v-0.6M120.8,378.2v-0.8M121.8,378.2v-0.7M127.8,378.2v-1.0M128.8,378.2v-1.0M129.8,378.2v-0.7M166.8,378.2v-1.0M173.8,378.2v-0.8M218.8,378.2v-1.1M219.8,378.2v-1.1M222.8,378.2v-1.2M230.8,378.2v-1.2M236.8,378.2v-0.9M58.8,382.8v-1.0M65.8,382.8v-0.8M110.8,382.8v-1.1M111.8,382.8v-1.1M114.8,382.8v-1.2M122.8,382.8v-1.2M128.8,382.8v-0.9M153.8,382.8v-0.7M159.8,382.8v-0.5M203.8,382.8v-0.8M212.8,382.8v-0.5M214.8,382.8v-0.8M225.8,382.8v-1.2M45.8,387.4v-0.7M51.8,387.4v-0.5M95.8,387.4v-0.8M104.8,387.4v-0.5M106.8,387.4v-0.8M117.8,387.4v-1.2M168.8,387.4v-1.1M172.8,387.4v-1.1M173.8,387.4v-0.9M178.8,387.4v-1.1M190.8,387.4v-1.1M210.8,387.4v-0.6M211.8,387.4v-1.1M212.8,387.4v-1.0M217.8,387.4v-1.2M225.8,387.4v-0.9M60.8,391.9v-1.1M64.8,391.9v-1.1M65.8,391.9v-0.9M70.8,391.9v-1.1M82.8,391.9v-1.1M102.8,391.9v-0.6M103.8,391.9v-1.1M104.8,391.9v-1.0M109.8,391.9v-1.2M117.8,391.9v-0.9M165.8,391.9v-1.1M166.8,391.9v-1.2M175.8,391.9v-0.9M179.8,391.9v-0.8M180.8,391.9v-1.0M184.8,391.9v-1.1M185.8,391.9v-1.0M186.8,391.9v-1.0M194.8,391.9v-1.1M195.8,391.9v-0.9M199.8,391.9v-0.7M203.8,391.9v-1.1M204.8,391.9v-1.2M215.8,391.9v-1.0M225.8,391.9v-1.0M226.8,391.9v-0.9M227.8,391.9v-1.2M234.8,391.9v-0.8M235.8,391.9v-0.9M57.8,396.5v-1.1M58.8,396.5v-1.2M67.8,396.5v-0.9M71.8,396.5v-0.8M72.8,396.5v-1.0M76.8,396.5v-1.1M77.8,396.5v-1.0M78.8,396.5v-1.0M86.8,396.5v-1.1M87.8,396.5v-0.9M91.8,396.5v-0.7M95.8,396.5v-1.1M96.8,396.5v-1.2M107.8,396.5v-1.0M117.8,396.5v-1.0M118.8,396.5v-0.9M119.8,396.5v-1.2M126.8,396.5v-0.8M127.8,396.5v-0.9M143.8,396.5v-0.8M156.8,396.5v-1.0M157.8,396.5v-0.9M160.8,396.5v-1.1M161.8,396.5v-0.8M165.8,396.5v-1.0M176.8,396.5v-1.2M208.8,396.5v-1.1M216.8,396.5v-1.2M218.8,396.5v-0.8M35.8,401.1v-0.8M48.8,401.1v-1.0M49.8,401.1v-0.9M52.8,401.1v-1.1M53.8,401.1v-0.8M57.8,401.1v-1.0M68.8,401.1v-1.2M100.8,401.1v-1.1M108.8,401.1v-1.2M110.8,401.1v-0.8M163.8,401.1v-1.1M170.8,401.1v-1.2M172.8,401.1v-0.9M173.8,401.1v-0.7M180.8,401.1v-1.1M181.8,401.1v-0.9M182.8,401.1v-0.9M183.8,401.1v-0.6M184.8,401.1v-0.9M194.8,401.1v-1.0M196.8,401.1v-0.4M197.8,401.1v-1.1M220.8,401.1v-0.6M221.8,401.1v-0.9M224.8,401.1v-1.0M55.8,405.7v-1.1M62.8,405.7v-1.2M64.8,405.7v-0.9M65.8,405.7v-0.7M72.8,405.7v-1.1M73.8,405.7v-0.9M74.8,405.7v-0.9M75.8,405.7v-0.6M76.8,405.7v-0.9M86.8,405.7v-1.0M88.8,405.7v-0.4M89.8,405.7v-1.1M112.8,405.7v-0.6M113.8,405.7v-0.9M116.8,405.7v-1.0M160.8,405.7v-0.6M161.8,405.7v-0.9M165.8,405.7v-1.2M168.8,405.7v-0.7M169.8,405.7v-0.5M171.8,405.7v-1.2M185.8,405.7v-0.7M192.8,405.7v-1.2M196.8,405.7v-1.0M204.8,405.7v-0.8M221.8,405.7v-0.8M222.8,405.7v-1.2M52.8,410.3v-0.6M53.8,410.3v-0.9M57.8,410.3v-1.2M60.8,410.3v-0.7M61.8,410.3v-0.5M63.8,410.3v-1.2M77.8,410.3v-0.7M84.8,410.3v-1.2M88.8,410.3v-1.0M96.8,410.3v-0.8M113.8,410.3v-0.8M114.8,410.3v-1.2M145.8,410.3v-0.9M156.8,410.3v-1.1M179.8,410.3v-1.2M198.8,410.3v-1.0M217.8,410.3v-0.7M218.8,410.3v-1.1M228.8,410.3v-0.7M37.8,414.9v-0.9M48.8,414.9v-1.1M71.8,414.9v-1.2M90.8,414.9v-1.0M109.8,414.9v-0.7M110.8,414.9v-1.1M120.8,414.9v-0.7M138.8,414.9v-0.6M160.8,414.9v-1.1M171.8,414.9v-1.0M184.8,414.9v-0.4M188.8,414.9v-0.6M206.8,414.9v-1.2M207.8,414.9v-1.2M208.8,414.9v-0.9M218.8,414.9v-1.0M30.8,419.4v-0.6M52.8,419.4v-1.1M63.8,419.4v-1.0M76.8,419.4v-0.4M80.8,419.4v-0.6M98.8,419.4v-1.2M99.8,419.4v-1.2M100.8,419.4v-0.9M110.8,419.4v-1.0M139.8,419.4v-1.2M145.8,419.4v-0.9M146.8,419.4v-0.9M156.8,419.4v-0.9M157.8,419.4v-0.8M158.8,419.4v-1.2M160.8,419.4v-1.0M161.8,419.4v-1.1M162.8,419.4v-1.0M170.8,419.4v-1.0M195.8,419.4v-0.6M223.8,419.4v-1.0M31.8,424.0v-1.2M37.8,424.0v-0.9M38.8,424.0v-0.9M48.8,424.0v-0.9M49.8,424.0v-0.8M50.8,424.0v-1.2M52.8,424.0v-1.0M53.8,424.0v-1.1M54.8,424.0v-1.0M62.8,424.0v-1.0M87.8,424.0v-0.6M115.8,424.0v-1.0M148.8,424.0v-1.0M158.8,424.0v-1.0M159.8,424.0v-0.9M168.8,424.0v-1.1M195.8,424.0v-0.9M211.8,424.0v-1.1M212.8,424.0v-1.2M40.8,428.6v-1.0M50.8,428.6v-1.0M51.8,428.6v-0.9M60.8,428.6v-1.1M87.8,428.6v-0.9M103.8,428.6v-1.1M104.8,428.6v-1.2M140.8,428.6v-0.5M152.8,428.6v-1.1M171.8,428.6v-0.8M172.8,428.6v-1.0M175.8,428.6v-1.1M176.8,428.6v-1.0M177.8,428.6v-1.1M180.8,428.6v-1.0M181.8,428.6v-0.9M190.8,428.6v-1.0M193.8,428.6v-1.1M201.8,428.6v-0.7M204.8,428.6v-0.5M217.8,428.6v-1.0M220.8,428.6v-0.5M222.8,428.6v-1.2M224.8,428.6v-1.2M226.8,428.6v-1.2M230.8,428.6v-0.7M32.8,433.2v-0.5M44.8,433.2v-1.1M63.8,433.2v-0.8M64.8,433.2v-1.0M67.8,433.2v-1.1M68.8,433.2v-1.0M69.8,433.2v-1.1M72.8,433.2v-1.0M73.8,433.2v-0.9M82.8,433.2v-1.0M85.8,433.2v-1.1M93.8,433.2v-0.7M96.8,433.2v-0.5M109.8,433.2v-1.0M112.8,433.2v-0.5M114.8,433.2v-1.2M116.8,433.2v-1.2M118.8,433.2v-1.2M122.8,433.2v-0.7M170.8,433.2v-0.9M172.8,433.2v-0.8M181.8,433.2v-1.2M182.8,433.2v-0.6M213.8,433.2v-1.0M217.8,433.2v-1.0M218.8,433.2v-1.0M62.8,437.8v-0.9M64.8,437.8v-0.8M73.8,437.8v-1.2M74.8,437.8v-0.6M105.8,437.8v-1.0M109.8,437.8v-1.0M110.8,437.8v-1.0M146.8,437.8v-1.1M150.8,437.8v-0.8M151.8,437.8v-1.1M156.8,437.8v-0.8M157.8,437.8v-0.7M158.8,437.8v-0.9M159.8,437.8v-1.1M166.8,437.8v-1.1M171.8,437.8v-0.9M178.8,437.8v-1.0M179.8,437.8v-0.7M180.8,437.8v-0.5M184.8,437.8v-1.2M195.8,437.8v-1.0M211.8,437.8v-1.1M216.8,437.8v-1.0M38.8,442.4v-1.1M42.8,442.4v-0.8M43.8,442.4v-1.1M48.8,442.4v-0.8M49.8,442.4v-0.7M50.8,442.4v-0.9M51.8,442.4v-1.1M58.8,442.4v-1.1M63.8,442.4v-0.9M70.8,442.4v-1.0M71.8,442.4v-0.7M72.8,442.4v-0.5M76.8,442.4v-1.2M87.8,442.4v-1.0M103.8,442.4v-1.1M108.8,442.4v-1.0M144.8,442.4v-0.9M161.8,442.4v-1.0M167.8,442.4v-0.9M173.8,442.4v-1.1M174.8,442.4v-1.2M175.8,442.4v-0.9M177.8,442.4v-1.1M182.8,442.4v-1.1M183.8,442.4v-0.8M184.8,442.4v-0.6M187.8,442.4v-0.8M189.8,442.4v-1.2M195.8,442.4v-0.7M196.8,442.4v-0.8M200.8,442.4v-0.7M208.8,442.4v-1.2M36.8,447.0v-0.9M53.8,447.0v-1.0M59.8,447.0v-0.9M65.8,447.0v-1.1M66.8,447.0v-1.2M67.8,447.0v-0.9M69.8,447.0v-1.1M74.8,447.0v-1.1M75.8,447.0v-0.8M76.8,447.0v-0.6M79.8,447.0v-0.8M81.8,447.0v-1.2M87.8,447.0v-0.7M88.8,447.0v-0.8M92.8,447.0v-0.7M100.8,447.0v-1.2M147.8,447.0v-1.2M153.8,447.0v-0.5M154.8,447.0v-0.9M155.8,447.0v-1.1M156.8,447.0v-1.1M158.8,447.0v-0.8M159.8,447.0v-1.1M160.8,447.0v-0.9M177.8,447.0v-1.2M193.8,447.0v-0.5M209.8,447.0v-0.8M211.8,447.0v-0.9M214.8,447.0v-1.2M216.8,447.0v-1.1M231.8,447.0v-0.9M39.8,451.5v-1.2M45.8,451.5v-0.5M46.8,451.5v-0.9M47.8,451.5v-1.1M48.8,451.5v-1.1M50.8,451.5v-0.8M51.8,451.5v-1.1M52.8,451.5v-0.9M69.8,451.5v-1.2M85.8,451.5v-0.5M101.8,451.5v-0.8M103.8,451.5v-0.9M106.8,451.5v-1.2M108.8,451.5v-1.1M123.8,451.5v-0.9M142.8,451.5v-0.7M147.8,451.5v-0.8M151.8,451.5v-1.1M153.8,451.5v-1.1M180.8,451.5v-1.1M193.8,451.5v-0.5M196.8,451.5v-1.0M200.8,451.5v-1.1M201.8,451.5v-1.0M212.8,451.5v-1.0M213.8,451.5v-1.1M215.8,451.5v-1.1M216.8,451.5v-0.8M217.8,451.5v-0.7M34.8,456.1v-0.7M39.8,456.1v-0.8M43.8,456.1v-1.1M45.8,456.1v-1.1M72.8,456.1v-1.1M85.8,456.1v-0.5M88.8,456.1v-1.0M92.8,456.1v-1.1M93.8,456.1v-1.0M104.8,456.1v-1.0M105.8,456.1v-1.1M107.8,456.1v-1.1M108.8,456.1v-0.8M109.8,456.1v-0.7M143.8,456.1v-0.8M144.8,456.1v-0.8M145.8,456.1v-1.0M154.8,456.1v-0.9M162.8,456.1v-1.1M187.8,456.1v-1.0M202.8,456.1v-1.0M212.8,456.1v-0.7M219.8,456.1v-0.8M220.8,456.1v-1.0M225.8,456.1v-0.9M35.8,460.7v-0.8M36.8,460.7v-0.8M37.8,460.7v-1.0M46.8,460.7v-0.9M54.8,460.7v-1.1M79.8,460.7v-1.0M94.8,460.7v-1.0M104.8,460.7v-0.7M111.8,460.7v-0.8M112.8,460.7v-1.0M117.8,460.7v-0.9M137.8,460.7v-0.7M138.8,460.7v-0.8M139.8,460.7v-0.9M144.8,460.7v-0.6M145.8,460.7v-0.8M153.8,460.7v-1.0M163.8,460.7v-0.9M169.8,460.7v-1.1M171.8,460.7v-1.2M177.8,460.7v-1.1M194.8,460.7v-1.1M195.8,460.7v-0.9M197.8,460.7v-1.1M211.8,460.7v-0.6M212.8,460.7v-1.0M214.8,460.7v-1.1M217.8,460.7v-1.1M219.8,460.7v-0.8M220.8,460.7v-0.5M29.8,465.3v-0.7M30.8,465.3v-0.8M31.8,465.3v-0.9M36.8,465.3v-0.6M37.8,465.3v-0.8M45.8,465.3v-1.0M55.8,465.3v-0.9M61.8,465.3v-1.1M63.8,465.3v-1.2M69.8,465.3v-1.1M86.8,465.3v-1.1M87.8,465.3v-0.9M89.8,465.3v-1.1M103.8,465.3v-0.6M104.8,465.3v-1.0M106.8,465.3v-1.1M109.8,465.3v-1.1M111.8,465.3v-0.8M112.8,465.3v-0.5M148.8,465.3v-0.7M149.8,465.3v-1.2M150.8,465.3v-1.1M153.8,465.3v-1.0M154.8,465.3v-1.0M155.8,465.3v-0.8M161.8,465.3v-0.5M162.8,465.3v-0.8M164.8,465.3v-0.9M168.8,465.3v-0.8M169.8,465.3v-0.7M170.8,465.3v-0.8M181.8,465.3v-0.5M205.8,465.3v-0.8M206.8,465.3v-0.9M210.8,465.3v-0.9M211.8,465.3v-1.0M212.8,465.3v-1.0M221.8,465.3v-0.6M40.8,469.9v-0.7M41.8,469.9v-1.2M42.8,469.9v-1.1M45.8,469.9v-1.0M46.8,469.9v-1.0M47.8,469.9v-0.8M53.8,469.9v-0.5M54.8,469.9v-0.8M56.8,469.9v-0.9M60.8,469.9v-0.8M61.8,469.9v-0.7M62.8,469.9v-0.8M73.8,469.9v-0.5M97.8,469.9v-0.8M98.8,469.9v-0.9M102.8,469.9v-0.9M103.8,469.9v-1.0M104.8,469.9v-1.0M113.8,469.9v-0.6M135.8,469.9v-0.7M136.8,469.9v-0.8M137.8,469.9v-1.0M138.8,469.9v-1.1M140.8,469.9v-0.7M154.8,469.9v-0.9M185.8,469.9v-1.0M196.8,469.9v-1.2M199.8,469.9v-0.8M201.8,469.9v-0.9M202.8,469.9v-0.9M203.8,469.9v-1.2M204.8,469.9v-1.1M205.8,469.9v-1.1M209.8,469.9v-1.1M210.8,469.9v-0.7M211.8,469.9v-0.8M212.8,469.9v-0.6M27.8,474.5v-0.7M28.8,474.5v-0.8M29.8,474.5v-1.0M30.8,474.5v-1.1M32.8,474.5v-0.7M46.8,474.5v-0.9M77.8,474.5v-1.0M88.8,474.5v-1.2M91.8,474.5v-0.8M93.8,474.5v-0.9M94.8,474.5v-0.9M95.8,474.5v-1.2M96.8,474.5v-1.1M97.8,474.5v-1.1M101.8,474.5v-1.1M102.8,474.5v-0.7M103.8,474.5v-0.8M104.8,474.5v-0.6M142.8,474.5v-1.2M151.8,474.5v-0.5M152.8,474.5v-0.8M154.8,474.5v-0.8M159.8,474.5v-0.8M160.8,474.5v-0.9M161.8,474.5v-0.8M162.8,474.5v-0.8M165.8,474.5v-0.7M166.8,474.5v-0.9M173.8,474.5v-1.0M174.8,474.5v-1.0M175.8,474.5v-0.8M180.8,474.5v-1.1M183.8,474.5v-0.5M185.8,474.5v-1.0M192.8,474.5v-0.9M194.8,474.5v-0.5M200.8,474.5v-1.1M204.8,474.5v-1.0M223.8,474.5v-1.0M34.8,479.1v-1.2M43.8,479.1v-0.5M44.8,479.1v-0.8M46.8,479.1v-0.8M51.8,479.1v-0.8M52.8,479.1v-0.9M53.8,479.1v-0.8M54.8,479.1v-0.8M57.8,479.1v-0.7M58.8,479.1v-0.9M65.8,479.1v-1.0M66.8,479.1v-1.0M67.8,479.1v-0.8M72.8,479.1v-1.1M75.8,479.1v-0.5M77.8,479.1v-1.0M84.8,479.1v-0.9M86.8,479.1v-0.5M92.8,479.1v-1.1M96.8,479.1v-1.0M115.8,479.1v-1.0M134.8,479.1v-0.6M144.8,479.1v-1.0M145.8,479.1v-1.0M156.8,479.1v-1.1M157.8,479.1v-1.0M158.8,479.1v-1.2M199.8,479.1v-0.7M200.8,479.1v-0.8M204.8,479.1v-1.2M205.8,479.1v-1.1M206.8,479.1v-1.0M221.8,479.1v-0.6" stroke="#8a8a8a" stroke-width="1" fill="none"/>
<path d="M83.8,286.5v-1.6M84.8,286.5v-2.0M85.8,286.5v-1.8M86.8,286.5v-1.5M88.8,286.5v-1.4M91.8,286.5v-1.5M92.8,286.5v-1.6M93.8,286.5v-1.3M96.8,286.5v-1.9M97.8,286.5v-1.6M99.8,286.5v-1.9M100.8,286.5v-1.3M104.8,286.5v-1.3M107.8,286.5v-2.1M110.8,286.5v-1.8M113.8,286.5v-1.4M125.8,286.5v-1.6M126.8,286.5v-2.0M128.8,286.5v-1.7M129.8,286.5v-1.7M190.8,286.5v-1.2M191.8,286.5v-1.6M194.8,286.5v-1.9M196.8,286.5v-1.4M200.8,286.5v-1.9M206.8,286.5v-1.2M207.8,286.5v-1.3M208.8,286.5v-1.2M209.8,286.5v-1.4M210.8,286.5v-1.6M240.8,286.5v-1.6M82.8,291.1v-1.2M83.8,291.1v-1.6M86.8,291.1v-1.9M88.8,291.1v-1.4M92.8,291.1v-1.9M98.8,291.1v-1.2M99.8,291.1v-1.3M100.8,291.1v-1.2M101.8,291.1v-1.4M102.8,291.1v-1.6M132.8,291.1v-1.6M195.8,291.1v-1.5M196.8,291.1v-1.2M200.8,291.1v-1.3M201.8,291.1v-1.8M203.8,291.1v-1.4M204.8,291.1v-1.6M205.8,291.1v-1.5M206.8,291.1v-2.0M209.8,291.1v-1.7M211.8,291.1v-1.5M217.8,291.1v-1.4M223.8,291.1v-1.6M232.8,291.1v-1.3M233.8,291.1v-1.5M234.8,291.1v-1.3M240.8,291.1v-1.8M87.8,295.7v-1.5M88.8,295.7v-1.2M92.8,295.7v-1.3M93.8,295.7v-1.8M95.8,295.7v-1.4M96.8,295.7v-1.6M97.8,295.7v-1.5M98.8,295.7v-2.0M101.8,295.7v-1.7M103.8,295.7v-1.5M109.8,295.7v-1.4M115.8,295.7v-1.6M124.8,295.7v-1.3M125.8,295.7v-1.5M126.8,295.7v-1.3M132.8,295.7v-1.8M135.8,295.7v-1.9M136.8,295.7v-1.9M169.8,295.7v-1.4M190.8,295.7v-1.2M193.8,295.7v-1.4M194.8,295.7v-1.9M195.8,295.7v-1.4M196.8,295.7v-1.4M203.8,295.7v-1.6M204.8,295.7v-1.4M205.8,295.7v-1.5M212.8,295.7v-1.8M213.8,295.7v-1.4M217.8,295.7v-1.5M224.8,295.7v-1.5M227.8,295.7v-1.5M228.8,295.7v-1.9M235.8,295.7v-1.6M27.8,300.2v-1.9M28.8,300.2v-1.9M61.8,300.2v-1.4M82.8,300.2v-1.2M85.8,300.2v-1.4M86.8,300.2v-1.9M87.8,300.2v-1.4M88.8,300.2v-1.4M95.8,300.2v-1.6M96.8,300.2v-1.4M97.8,300.2v-1.5M104.8,300.2v-1.8M105.8,300.2v-1.4M109.8,300.2v-1.5M116.8,300.2v-1.5M119.8,300.2v-1.5M120.8,300.2v-1.9M127.8,300.2v-1.6M133.8,300.2v-1.4M135.8,300.2v-1.7M136.8,300.2v-1.5M187.8,300.2v-1.6M189.8,300.2v-1.8M193.8,300.2v-1.9M194.8,300.2v-1.6M200.8,300.2v-1.6M202.8,300.2v-1.8M203.8,300.2v-1.9M205.8,300.2v-1.4M206.8,300.2v-1.7M207.8,300.2v-1.4M213.8,300.2v-1.2M214.8,300.2v-1.6M217.8,300.2v-1.8M232.8,300.2v-1.5M233.8,300.2v-1.3M235.8,300.2v-1.2M239.8,300.2v-1.5M240.8,300.2v-1.2M25.8,304.8v-1.4M27.8,304.8v-1.7M28.8,304.8v-1.5M79.8,304.8v-1.6M81.8,304.8v-1.8M85.8,304.8v-1.9M86.8,304.8v-1.6M92.8,304.8v-1.6M94.8,304.8v-1.8M95.8,304.8v-1.9M97.8,304.8v-1.4M98.8,304.8v-1.7M99.8,304.8v-1.4M105.8,304.8v-1.2M106.8,304.8v-1.6M109.8,304.8v-1.8M124.8,304.8v-1.5M125.8,304.8v-1.3M127.8,304.8v-1.2M131.8,304.8v-1.5M132.8,304.8v-1.2M133.8,304.8v-2.0M134.8,304.8v-1.7M135.8,304.8v-1.2M184.8,304.8v-1.2M185.8,304.8v-1.7M186.8,304.8v-2.0M189.8,304.8v-1.8M191.8,304.8v-2.0M192.8,304.8v-1.5M203.8,304.8v-1.9M204.8,304.8v-1.4M205.8,304.8v-1.6M209.8,304.8v-1.7M210.8,304.8v-1.6M213.8,304.8v-1.3M215.8,304.8v-1.4M220.8,304.8v-1.3M221.8,304.8v-1.5M223.8,304.8v-1.3M225.8,304.8v-1.6M226.8,304.8v-1.7M227.8,304.8v-1.7M228.8,304.8v-1.4M238.8,304.8v-1.7M25.8,309.4v-2.0M26.8,309.4v-1.7M27.8,309.4v-1.2M76.8,309.4v-1.2M77.8,309.4v-1.7M78.8,309.4v-2.0M81.8,309.4v-1.8M83.8,309.4v-2.0M84.8,309.4v-1.5M95.8,309.4v-1.9M96.8,309.4v-1.4M97.8,309.4v-1.6M101.8,309.4v-1.7M102.8,309.4v-1.6M105.8,309.4v-1.3M107.8,309.4v-1.4M112.8,309.4v-1.3M113.8,309.4v-1.5M115.8,309.4v-1.3M117.8,309.4v-1.6M118.8,309.4v-1.7M119.8,309.4v-1.7M120.8,309.4v-1.4M130.8,309.4v-1.7M135.8,309.4v-1.8M136.8,309.4v-1.7M185.8,309.4v-1.3M188.8,309.4v-1.3M198.8,309.4v-1.3M202.8,309.4v-1.5M203.8,309.4v-1.8M204.8,309.4v-1.9M210.8,309.4v-1.6M216.8,309.4v-1.5M217.8,309.4v-1.7M218.8,309.4v-1.3M233.8,309.4v-1.9M234.8,309.4v-1.4M235.8,309.4v-1.3M236.8,309.4v-1.6M238.8,309.4v-2.1M240.8,309.4v-1.2M27.8,314.0v-1.8M28.8,314.0v-1.7M77.8,314.0v-1.3M80.8,314.0v-1.3M90.8,314.0v-1.3M94.8,314.0v-1.5M95.8,314.0v-1.8M96.8,314.0v-1.9M102.8,314.0v-1.6M108.8,314.0v-1.5M109.8,314.0v-1.7M110.8,314.0v-1.3M125.8,314.0v-1.9M126.8,314.0v-1.4M127.8,314.0v-1.3M128.8,314.0v-1.6M130.8,314.0v-2.1M132.8,314.0v-1.2M133.8,314.0v-1.6M134.8,314.0v-1.7M138.8,314.0v-1.7M139.8,314.0v-1.9M140.8,314.0v-1.7M141.8,314.0v-1.7M142.8,314.0v-1.3M155.8,314.0v-1.5M185.8,314.0v-1.6M187.8,314.0v-2.1M190.8,314.0v-1.5M197.8,314.0v-1.7M201.8,314.0v-2.0M203.8,314.0v-1.8M204.8,314.0v-1.5M205.8,314.0v-1.4M212.8,314.0v-1.9M213.8,314.0v-1.7M218.8,314.0v-1.7M220.8,314.0v-1.8M224.8,314.0v-1.6M225.8,314.0v-1.7M228.8,314.0v-1.7M236.8,314.0v-1.4M25.8,318.6v-1.6M26.8,318.6v-1.7M30.8,318.6v-1.7M31.8,318.6v-1.9M32.8,318.6v-1.7M33.8,318.6v-1.7M34.8,318.6v-1.3M47.8,318.6v-1.5M77.8,318.6v-1.6M79.8,318.6v-2.1M82.8,318.6v-1.5M89.8,318.6v-1.7M93.8,318.6v-2.0M95.8,318.6v-1.8M96.8,318.6v-1.5M97.8,318.6v-1.4M104.8,318.6v-1.9M105.8,318.6v-1.7M110.8,318.6v-1.7M112.8,318.6v-1.8M116.8,318.6v-1.6M117.8,318.6v-1.7M120.8,318.6v-1.7M128.8,318.6v-1.4M139.8,318.6v-1.3M181.8,318.6v-1.2M182.8,318.6v-1.4M183.8,318.6v-1.7M185.8,318.6v-1.6M188.8,318.6v-1.4M190.8,318.6v-1.7M192.8,318.6v-1.5M193.8,318.6v-1.5M195.8,318.6v-1.3M196.8,318.6v-1.4M198.8,318.6v-1.2M199.8,318.6v-1.3M202.8,318.6v-1.4M204.8,318.6v-1.5M205.8,318.6v-1.6M206.8,318.6v-1.6M215.8,318.6v-1.7M217.8,318.6v-1.8M222.8,318.6v-1.3M227.8,318.6v-1.4M230.8,318.6v-1.3M231.8,318.6v-1.8M235.8,318.6v-1.9M236.8,318.6v-1.6M31.8,323.2v-1.3M73.8,323.2v-1.2M74.8,323.2v-1.4M75.8,323.2v-1.7M77.8,323.2v-1.6M80.8,323.2v-1.4M82.8,323.2v-1.7M84.8,323.2v-1.5M85.8,323.2v-1.5M87.8,323.2v-1.3M88.8,323.2v-1.4M90.8,323.2v-1.2M91.8,323.2v-1.3M94.8,323.2v-1.4M96.8,323.2v-1.5M97.8,323.2v-1.6M98.8,323.2v-1.6M107.8,323.2v-1.7M109.8,323.2v-1.8M114.8,323.2v-1.3M119.8,323.2v-1.4M122.8,323.2v-1.3M123.8,323.2v-1.8M127.8,323.2v-1.9M128.8,323.2v-1.6M185.8,323.2v-1.5M187.8,323.2v-1.6M189.8,323.2v-1.7M190.8,323.2v-1.6M192.8,323.2v-1.5M198.8,323.2v-1.5M208.8,323.2v-1.9M211.8,323.2v-2.1M212.8,323.2v-1.7M213.8,323.2v-1.8M224.8,323.2v-2.0M226.8,323.2v-1.6M238.8,323.2v-1.4M77.8,327.8v-1.5M79.8,327.8v-1.6M81.8,327.8v-1.7M82.8,327.8v-1.6M84.8,327.8v-1.5M90.8,327.8v-1.5M100.8,327.8v-1.9M103.8,327.8v-2.1M104.8,327.8v-1.7M105.8,327.8v-1.8M116.8,327.8v-2.0M118.8,327.8v-1.6M130.8,327.8v-1.4M136.8,327.8v-1.8M178.8,327.8v-1.5M179.8,327.8v-1.3M183.8,327.8v-1.6M186.8,327.8v-1.3M190.8,327.8v-1.7M191.8,327.8v-1.5M192.8,327.8v-1.6M193.8,327.8v-1.8M195.8,327.8v-2.1M197.8,327.8v-1.7M199.8,327.8v-1.8M207.8,327.8v-1.3M208.8,327.8v-1.3M209.8,327.8v-1.5M210.8,327.8v-2.0M212.8,327.8v-1.4M213.8,327.8v-1.4M232.8,327.8v-1.4M233.8,327.8v-2.0M235.8,327.8v-1.8M236.8,327.8v-1.9M238.8,327.8v-2.0M239.8,327.8v-1.6M240.8,327.8v-1.5M28.8,332.3v-1.8M70.8,332.3v-1.5M71.8,332.3v-1.3M75.8,332.3v-1.6M78.8,332.3v-1.3M82.8,332.3v-1.7M83.8,332.3v-1.5M84.8,332.3v-1.6M85.8,332.3v-1.8M87.8,332.3v-2.1M89.8,332.3v-1.7M91.8,332.3v-1.8M99.8,332.3v-1.3M100.8,332.3v-1.3M101.8,332.3v-1.5M102.8,332.3v-2.0M104.8,332.3v-1.4M105.8,332.3v-1.4M124.8,332.3v-1.4M125.8,332.3v-2.0M127.8,332.3v-1.8M128.8,332.3v-1.9M130.8,332.3v-2.0M131.8,332.3v-1.6M132.8,332.3v-1.5M134.8,332.3v-1.5M177.8,332.3v-1.4M180.8,332.3v-1.9M182.8,332.3v-1.2M185.8,332.3v-1.4M187.8,332.3v-1.5M190.8,332.3v-1.7M191.8,332.3v-1.5M192.8,332.3v-1.7M199.8,332.3v-2.1M200.8,332.3v-2.0M205.8,332.3v-1.5M206.8,332.3v-1.4M207.8,332.3v-1.9M208.8,332.3v-1.5M216.8,332.3v-1.5M226.8,332.3v-1.7M229.8,332.3v-1.4M230.8,332.3v-1.7M231.8,332.3v-1.8M234.8,332.3v-1.9M235.8,332.3v-1.7M240.8,332.3v-1.2M26.8,336.9v-1.5M69.8,336.9v-1.4M72.8,336.9v-1.9M74.8,336.9v-1.2M77.8,336.9v-1.4M79.8,336.9v-1.5M82.8,336.9v-1.7M83.8,336.9v-1.5M84.8,336.9v-1.7M91.8,336.9v-2.1M92.8,336.9v-2.0M97.8,336.9v-1.5M98.8,336.9v-1.4M99.8,336.9v-1.9M100.8,336.9v-1.5M108.8,336.9v-1.5M118.8,336.9v-1.7M121.8,336.9v-1.4M122.8,336.9v-1.7M123.8,336.9v-1.8M126.8,336.9v-1.9M127.8,336.9v-1.7M132.8,336.9v-1.2M170.8,336.9v-1.4M180.8,336.9v-1.7M181.8,336.9v-1.9M182.8,336.9v-1.3M183.8,336.9v-1.2M184.8,336.9v-1.2M194.8,336.9v-2.1M195.8,336.9v-1.9M197.8,336.9v-1.7M198.8,336.9v-1.8M201.8,336.9v-1.4M219.8,336.9v-1.4M228.8,336.9v-1.6M229.8,336.9v-1.6M231.8,336.9v-1.9M62.8,341.5v-1.4M72.8,341.5v-1.7M73.8,341.5v-1.9M74.8,341.5v-1.3M75.8,341.5v-1.2M76.8,341.5v-1.2M86.8,341.5v-2.1M87.8,341.5v-1.9M89.8,341.5v-1.7M90.8,341.5v-1.8M93.8,341.5v-1.4M111.8,341.5v-1.4M120.8,341.5v-1.6M121.8,341.5v-1.6M123.8,341.5v-1.9M159.8,341.5v-1.6M166.8,341.5v-1.3M176.8,341.5v-1.6M178.8,341.5v-1.9M179.8,341.5v-1.4M182.8,341.5v-1.5M183.8,341.5v-1.4M187.8,341.5v-1.9M188.8,341.5v-1.7M190.8,341.5v-1.3M196.8,341.5v-1.6M198.8,341.5v-1.7M199.8,341.5v-2.0M200.8,341.5v-1.4M207.8,341.5v-2.0M215.8,341.5v-1.6M220.8,341.5v-1.7M221.8,341.5v-1.8M222.8,341.5v-1.4M225.8,341.5v-2.0M232.8,341.5v-1.8M233.8,341.5v-1.8M237.8,341.5v-1.8M239.8,341.5v-1.3M51.8,346.1v-1.6M58.8,346.1v-1.3M68.8,346.1v-1.6M70.8,346.1v-1.9M71.8,346.1v-1.4M74.8,346.1v-1.5M75.8,346.1v-1.4M79.8,346.1v-1.9M80.8,346.1v-1.7M82.8,346.1v-1.3M88.8,346.1v-1.6M90.8,346.1v-1.7M91.8,346.1v-2.0M92.8,346.1v-1.4M99.8,346.1v-2.0M107.8,346.1v-1.6M112.8,346.1v-1.7M113.8,346.1v-1.8M114.8,346.1v-1.4M117.8,346.1v-2.0M124.8,346.1v-1.8M125.8,346.1v-1.8M129.8,346.1v-1.8M131.8,346.1v-1.3M181.8,346.1v-2.0M188.8,346.1v-1.8M193.8,346.1v-1.8M194.8,346.1v-1.6M199.8,346.1v-2.0M204.8,346.1v-1.3M213.8,346.1v-1.5M214.8,346.1v-1.3M216.8,346.1v-1.2M217.8,346.1v-1.3M225.8,346.1v-1.7M226.8,346.1v-2.1M227.8,346.1v-1.3M237.8,346.1v-2.1M238.8,346.1v-1.9M239.8,346.1v-1.3M73.8,350.7v-2.0M80.8,350.7v-1.8M85.8,350.7v-1.8M86.8,350.7v-1.6M91.8,350.7v-2.0M96.8,350.7v-1.3M105.8,350.7v-1.5M106.8,350.7v-1.3M108.8,350.7v-1.2M109.8,350.7v-1.3M117.8,350.7v-1.7M118.8,350.7v-2.1M119.8,350.7v-1.3M129.8,350.7v-2.1M130.8,350.7v-1.9M131.8,350.7v-1.3M174.8,350.7v-1.3M176.8,350.7v-1.5M181.8,350.7v-1.7M182.8,350.7v-1.6M185.8,350.7v-2.0M186.8,350.7v-1.8M187.8,350.7v-1.4M192.8,350.7v-1.3M193.8,350.7v-2.1M194.8,350.7v-1.3M197.8,350.7v-1.4M224.8,350.7v-2.1M228.8,350.7v-1.9M229.8,350.7v-1.8M230.8,350.7v-1.6M233.8,350.7v-1.5M239.8,350.7v-1.5M66.8,355.3v-1.3M68.8,355.3v-1.5M73.8,355.3v-1.7M74.8,355.3v-1.6M77.8,355.3v-2.0M78.8,355.3v-1.8M79.8,355.3v-1.4M84.8,355.3v-1.3M85.8,355.3v-2.1M86.8,355.3v-1.3M89.8,355.3v-1.4M116.8,355.3v-2.1M120.8,355.3v-1.9M121.8,355.3v-1.8M122.8,355.3v-1.6M125.8,355.3v-1.5M131.8,355.3v-1.5M134.8,355.3v-1.3M174.8,355.3v-1.6M183.8,355.3v-1.4M184.8,355.3v-1.7M188.8,355.3v-1.4M189.8,355.3v-1.4M193.8,355.3v-1.5M194.8,355.3v-1.9M196.8,355.3v-2.0M197.8,355.3v-1.8M198.8,355.3v-1.6M199.8,355.3v-1.6M200.8,355.3v-1.3M203.8,355.3v-1.5M205.8,355.3v-1.8M206.8,355.3v-2.0M208.8,355.3v-2.1M210.8,355.3v-2.1M211.8,355.3v-1.3M212.8,355.3v-1.6M220.8,355.3v-1.8M231.8,355.3v-1.4M232.8,355.3v-1.6M235.8,355.3v-1.9M237.8,355.3v-1.7M238.8,355.3v-1.2M239.8,355.3v-1.3M26.8,359.8v-1.3M66.8,359.8v-1.6M75.8,359.8v-1.4M76.8,359.8v-1.7M80.8,359.8v-1.4M81.8,359.8v-1.4M85.8,359.8v-1.5M86.8,359.8v-1.9M88.8,359.8v-2.0M89.8,359.8v-1.8M90.8,359.8v-1.6M91.8,359.8v-1.6M92.8,359.8v-1.3M95.8,359.8v-1.5M97.8,359.8v-1.8M98.8,359.8v-2.0M100.8,359.8v-2.1M102.8,359.8v-2.1M103.8,359.8v-1.3M104.8,359.8v-1.6M112.8,359.8v-1.8M123.8,359.8v-1.4M124.8,359.8v-1.6M127.8,359.8v-1.9M129.8,359.8v-1.7M130.8,359.8v-1.2M131.8,359.8v-1.3M185.8,359.8v-1.3M186.8,359.8v-1.6M191.8,359.8v-1.6M197.8,359.8v-1.2M204.8,359.8v-1.9M205.8,359.8v-1.5M208.8,359.8v-1.5M209.8,359.8v-1.2M214.8,359.8v-1.3M215.8,359.8v-1.3M221.8,359.8v-1.5M223.8,359.8v-2.1M224.8,359.8v-1.7M225.8,359.8v-1.5M226.8,359.8v-1.7M235.8,359.8v-2.0M236.8,359.8v-1.9M237.8,359.8v-1.9M238.8,359.8v-1.8M77.8,364.4v-1.3M78.8,364.4v-1.6M83.8,364.4v-1.6M89.8,364.4v-1.2M96.8,364.4v-1.9M97.8,364.4v-1.5M100.8,364.4v-1.5M101.8,364.4v-1.2M106.8,364.4v-1.3M107.8,364.4v-1.3M113.8,364.4v-1.5M115.8,364.4v-2.1M116.8,364.4v-1.7M117.8,364.4v-1.5M118.8,364.4v-1.7M127.8,364.4v-2.0M128.8,364.4v-1.9M129.8,364.4v-1.9M130.8,364.4v-1.8M133.8,364.4v-1.3M160.8,364.4v-1.4M174.8,364.4v-2.0M179.8,364.4v-1.9M182.8,364.4v-1.7M184.8,364.4v-1.5M186.8,364.4v-1.9M187.8,364.4v-1.3M195.8,364.4v-1.8M196.8,364.4v-1.3M197.8,364.4v-1.7M204.8,364.4v-1.8M206.8,364.4v-1.4M207.8,364.4v-1.8M211.8,364.4v-1.5M212.8,364.4v-1.7M213.8,364.4v-1.5M214.8,364.4v-1.8M215.8,364.4v-1.6M216.8,364.4v-1.7M222.8,364.4v-1.7M223.8,364.4v-1.4M224.8,364.4v-1.7M226.8,364.4v-1.9M228.8,364.4v-1.3M229.8,364.4v-1.9M232.8,364.4v-1.6M233.8,364.4v-1.7M25.8,369.0v-1.3M52.8,369.0v-1.4M66.8,369.0v-2.0M71.8,369.0v-1.9M74.8,369.0v-1.7M76.8,369.0v-1.5M78.8,369.0v-1.9M79.8,369.0v-1.3M87.8,369.0v-1.8M88.8,369.0v-1.3M89.8,369.0v-1.7M96.8,369.0v-1.8M98.8,369.0v-1.4M99.8,369.0v-1.8M103.8,369.0v-1.5M104.8,369.0v-1.7M105.8,369.0v-1.5M106.8,369.0v-1.8M107.8,369.0v-1.6M108.8,369.0v-1.7M114.8,369.0v-1.7M115.8,369.0v-1.4M116.8,369.0v-1.7M118.8,369.0v-1.9M120.8,369.0v-1.3M121.8,369.0v-1.9M124.8,369.0v-1.6M125.8,369.0v-1.7M137.8,369.0v-1.6M165.8,369.0v-1.3M166.8,369.0v-1.2M168.8,369.0v-1.4M169.8,369.0v-1.3M183.8,369.0v-1.7M185.8,369.0v-1.8M194.8,369.0v-1.3M214.8,369.0v-1.3M216.8,369.0v-1.5M218.8,369.0v-1.2M227.8,369.0v-1.2M228.8,369.0v-1.8M231.8,369.0v-1.4M232.8,369.0v-1.3M233.8,369.0v-1.6M234.8,369.0v-1.2M29.8,373.6v-1.6M57.8,373.6v-1.3M58.8,373.6v-1.2M60.8,373.6v-1.4M61.8,373.6v-1.3M75.8,373.6v-1.7M77.8,373.6v-1.8M86.8,373.6v-1.3M106.8,373.6v-1.3M108.8,373.6v-1.5M110.8,373.6v-1.2M119.8,373.6v-1.2M120.8,373.6v-1.8M123.8,373.6v-1.4M124.8,373.6v-1.3M125.8,373.6v-1.6M126.8,373.6v-1.2M176.8,373.6v-1.3M180.8,373.6v-2.1M183.8,373.6v-1.3M191.8,373.6v-1.5M196.8,373.6v-1.2M206.8,373.6v-1.4M207.8,373.6v-2.0M209.8,373.6v-1.7M210.8,373.6v-1.6M216.8,373.6v-1.3M218.8,373.6v-1.3M219.8,373.6v-1.3M223.8,373.6v-1.8M226.8,373.6v-1.7M230.8,373.6v-1.5M231.8,373.6v-1.5M234.8,373.6v-1.4M68.8,378.2v-1.3M72.8,378.2v-2.1M75.8,378.2v-1.3M83.8,378.2v-1.5M88.8,378.2v-1.2M98.8,378.2v-1.4M99.8,378.2v-2.0M101.8,378.2v-1.7M102.8,378.2v-1.6M108.8,378.2v-1.3M110.8,378.2v-1.3M111.8,378.2v-1.3M115.8,378.2v-1.8M118.8,378.2v-1.7M122.8,378.2v-1.5M123.8,378.2v-1.5M126.8,378.2v-1.4M163.8,378.2v-1.5M164.8,378.2v-1.9M165.8,378.2v-1.5M174.8,378.2v-1.6M177.8,378.2v-1.5M178.8,378.2v-1.4M179.8,378.2v-1.4M180.8,378.2v-1.7M181.8,378.2v-2.1M183.8,378.2v-1.3M184.8,378.2v-1.6M186.8,378.2v-1.9M187.8,378.2v-1.9M192.8,378.2v-1.8M193.8,378.2v-1.4M194.8,378.2v-1.3M198.8,378.2v-1.5M199.8,378.2v-1.6M200.8,378.2v-1.9M202.8,378.2v-2.0M203.8,378.2v-1.6M205.8,378.2v-1.3M206.8,378.2v-1.2M207.8,378.2v-1.3M214.8,378.2v-1.3M215.8,378.2v-1.9M216.8,378.2v-1.9M223.8,378.2v-1.2M224.8,378.2v-2.0M228.8,378.2v-2.1M229.8,378.2v-1.7M55.8,382.8v-1.5M56.8,382.8v-1.9M57.8,382.8v-1.5M66.8,382.8v-1.6M69.8,382.8v-1.5M70.8,382.8v-1.4M71.8,382.8v-1.4M72.8,382.8v-1.7M73.8,382.8v-2.1M75.8,382.8v-1.3M76.8,382.8v-1.6M78.8,382.8v-1.9M79.8,382.8v-1.9M84.8,382.8v-1.8M85.8,382.8v-1.4M86.8,382.8v-1.3M90.8,382.8v-1.5M91.8,382.8v-1.6M92.8,382.8v-1.9M94.8,382.8v-2.0M95.8,382.8v-1.6M97.8,382.8v-1.3M98.8,382.8v-1.2M99.8,382.8v-1.3M106.8,382.8v-1.3M107.8,382.8v-1.9M108.8,382.8v-1.9M115.8,382.8v-1.2M116.8,382.8v-2.0M120.8,382.8v-2.1M121.8,382.8v-1.7M161.8,382.8v-1.4M163.8,382.8v-1.8M164.8,382.8v-1.4M174.8,382.8v-2.1M175.8,382.8v-1.6M176.8,382.8v-1.9M178.8,382.8v-2.1M182.8,382.8v-1.8M194.8,382.8v-1.7M195.8,382.8v-1.4M207.8,382.8v-2.0M208.8,382.8v-1.9M215.8,382.8v-1.6M216.8,382.8v-1.5M221.8,382.8v-1.8M224.8,382.8v-1.4M226.8,382.8v-1.2M227.8,382.8v-1.4M233.8,382.8v-1.5M234.8,382.8v-1.7M235.8,382.8v-1.5M53.8,387.4v-1.4M55.8,387.4v-1.8M56.8,387.4v-1.4M66.8,387.4v-2.1M67.8,387.4v-1.6M68.8,387.4v-1.9M70.8,387.4v-2.1M74.8,387.4v-1.8M86.8,387.4v-1.7M87.8,387.4v-1.4M99.8,387.4v-2.0M100.8,387.4v-1.9M107.8,387.4v-1.6M108.8,387.4v-1.5M113.8,387.4v-1.8M116.8,387.4v-1.4M118.8,387.4v-1.2M119.8,387.4v-1.4M125.8,387.4v-1.5M126.8,387.4v-1.7M127.8,387.4v-1.5M141.8,387.4v-1.4M165.8,387.4v-1.6M166.8,387.4v-2.0M169.8,387.4v-1.5M176.8,387.4v-1.6M180.8,387.4v-2.1M182.8,387.4v-1.7M183.8,387.4v-1.7M184.8,387.4v-1.4M188.8,387.4v-1.9M189.8,387.4v-1.6M213.8,387.4v-1.7M214.8,387.4v-2.0M215.8,387.4v-1.6M216.8,387.4v-1.5M220.8,387.4v-1.5M221.8,387.4v-1.3M224.8,387.4v-1.6M227.8,387.4v-1.4M228.8,387.4v-1.5M229.8,387.4v-1.2M231.8,387.4v-2.0M33.8,391.9v-1.4M57.8,391.9v-1.6M58.8,391.9v-2.0M61.8,391.9v-1.5M68.8,391.9v-1.6M72.8,391.9v-2.1M74.8,391.9v-1.7M75.8,391.9v-1.7M76.8,391.9v-1.4M80.8,391.9v-1.9M81.8,391.9v-1.6M105.8,391.9v-1.7M106.8,391.9v-2.0M107.8,391.9v-1.6M108.8,391.9v-1.5M112.8,391.9v-1.5M113.8,391.9v-1.3M116.8,391.9v-1.6M119.8,391.9v-1.4M120.8,391.9v-1.5M121.8,391.9v-1.2M123.8,391.9v-2.0M167.8,391.9v-1.5M168.8,391.9v-1.5M173.8,391.9v-1.8M174.8,391.9v-1.5M181.8,391.9v-1.5M182.8,391.9v-1.3M183.8,391.9v-1.2M192.8,391.9v-1.2M193.8,391.9v-2.0M207.8,391.9v-1.3M208.8,391.9v-1.3M210.8,391.9v-1.3M213.8,391.9v-1.9M217.8,391.9v-2.1M221.8,391.9v-2.0M222.8,391.9v-1.4M223.8,391.9v-1.5M230.8,391.9v-2.0M231.8,391.9v-1.9M232.8,391.9v-1.6M233.8,391.9v-1.4M59.8,396.5v-1.5M60.8,396.5v-1.5M65.8,396.5v-1.8M66.8,396.5v-1.5M73.8,396.5v-1.5M74.8,396.5v-1.3M75.8,396.5v-1.2M84.8,396.5v-1.2M85.8,396.5v-2.0M99.8,396.5v-1.3M100.8,396.5v-1.3M102.8,396.5v-1.3M105.8,396.5v-1.9M109.8,396.5v-2.1M113.8,396.5v-2.0M114.8,396.5v-1.4M115.8,396.5v-1.5M122.8,396.5v-2.0M123.8,396.5v-1.9M124.8,396.5v-1.6M125.8,396.5v-1.4M158.8,396.5v-1.9M159.8,396.5v-1.3M163.8,396.5v-1.2M164.8,396.5v-1.4M169.8,396.5v-1.7M170.8,396.5v-1.9M174.8,396.5v-2.0M177.8,396.5v-1.4M180.8,396.5v-1.7M181.8,396.5v-1.6M186.8,396.5v-1.6M189.8,396.5v-1.3M190.8,396.5v-1.3M192.8,396.5v-1.6M195.8,396.5v-2.0M196.8,396.5v-1.7M197.8,396.5v-1.3M209.8,396.5v-1.6M210.8,396.5v-1.4M211.8,396.5v-2.0M217.8,396.5v-1.3M221.8,396.5v-1.6M223.8,396.5v-1.8M227.8,396.5v-1.4M228.8,396.5v-1.3M50.8,401.1v-1.9M51.8,401.1v-1.3M55.8,401.1v-1.2M56.8,401.1v-1.4M61.8,401.1v-1.7M62.8,401.1v-1.9M66.8,401.1v-2.0M69.8,401.1v-1.4M72.8,401.1v-1.7M73.8,401.1v-1.6M78.8,401.1v-1.6M81.8,401.1v-1.3M82.8,401.1v-1.3M84.8,401.1v-1.6M87.8,401.1v-2.0M88.8,401.1v-1.7M89.8,401.1v-1.3M101.8,401.1v-1.6M102.8,401.1v-1.4M103.8,401.1v-2.0M109.8,401.1v-1.3M113.8,401.1v-1.6M115.8,401.1v-1.8M119.8,401.1v-1.4M120.8,401.1v-1.3M134.8,401.1v-1.5M162.8,401.1v-1.5M164.8,401.1v-1.7M165.8,401.1v-1.5M167.8,401.1v-1.5M168.8,401.1v-1.8M169.8,401.1v-1.7M174.8,401.1v-1.7M175.8,401.1v-1.4M176.8,401.1v-1.3M177.8,401.1v-1.5M179.8,401.1v-1.6M185.8,401.1v-1.4M190.8,401.1v-1.5M205.8,401.1v-1.5M206.8,401.1v-1.3M208.8,401.1v-2.0M210.8,401.1v-1.9M212.8,401.1v-1.9M213.8,401.1v-1.8M214.8,401.1v-1.6M215.8,401.1v-2.1M218.8,401.1v-1.5M219.8,401.1v-1.2M223.8,401.1v-1.4M26.8,405.7v-1.5M54.8,405.7v-1.5M56.8,405.7v-1.7M57.8,405.7v-1.5M59.8,405.7v-1.5M60.8,405.7v-1.8M61.8,405.7v-1.7M66.8,405.7v-1.7M67.8,405.7v-1.4M68.8,405.7v-1.3M69.8,405.7v-1.5M71.8,405.7v-1.6M77.8,405.7v-1.4M82.8,405.7v-1.5M97.8,405.7v-1.5M98.8,405.7v-1.3M100.8,405.7v-2.0M102.8,405.7v-1.9M104.8,405.7v-1.9M105.8,405.7v-1.8M106.8,405.7v-1.6M107.8,405.7v-2.1M110.8,405.7v-1.5M111.8,405.7v-1.2M115.8,405.7v-1.4M162.8,405.7v-1.3M163.8,405.7v-1.7M164.8,405.7v-1.8M166.8,405.7v-1.6M167.8,405.7v-1.3M172.8,405.7v-1.5M173.8,405.7v-1.5M174.8,405.7v-2.1M175.8,405.7v-2.1M180.8,405.7v-1.9M181.8,405.7v-1.4M182.8,405.7v-1.3M186.8,405.7v-1.3M187.8,405.7v-2.0M189.8,405.7v-2.1M190.8,405.7v-1.7M191.8,405.7v-1.4M197.8,405.7v-1.6M198.8,405.7v-1.6M208.8,405.7v-1.4M209.8,405.7v-1.8M210.8,405.7v-1.6M211.8,405.7v-1.5M213.8,405.7v-1.9M217.8,405.7v-1.5M219.8,405.7v-1.5M223.8,405.7v-1.8M224.8,405.7v-1.8M225.8,405.7v-1.3M54.8,410.3v-1.3M55.8,410.3v-1.7M56.8,410.3v-1.8M58.8,410.3v-1.6M59.8,410.3v-1.3M64.8,410.3v-1.5M65.8,410.3v-1.5M66.8,410.3v-2.1M67.8,410.3v-2.1M72.8,410.3v-1.9M73.8,410.3v-1.4M74.8,410.3v-1.3M78.8,410.3v-1.3M79.8,410.3v-2.0M81.8,410.3v-2.1M82.8,410.3v-1.7M83.8,410.3v-1.4M89.8,410.3v-1.6M90.8,410.3v-1.6M100.8,410.3v-1.4M101.8,410.3v-1.8M102.8,410.3v-1.6M103.8,410.3v-1.5M105.8,410.3v-1.9M109.8,410.3v-1.5M111.8,410.3v-1.5M115.8,410.3v-1.8M116.8,410.3v-1.8M117.8,410.3v-1.3M160.8,410.3v-1.9M164.8,410.3v-1.9M167.8,410.3v-1.8M168.8,410.3v-1.7M169.8,410.3v-1.7M173.8,410.3v-1.9M174.8,410.3v-1.8M181.8,410.3v-1.6M182.8,410.3v-1.8M183.8,410.3v-1.7M184.8,410.3v-1.4M188.8,410.3v-1.4M195.8,410.3v-1.9M197.8,410.3v-1.6M209.8,410.3v-1.5M211.8,410.3v-1.5M219.8,410.3v-1.9M220.8,410.3v-1.6M221.8,410.3v-1.7M222.8,410.3v-1.8M223.8,410.3v-1.7M226.8,410.3v-1.7M227.8,410.3v-1.6M52.8,414.9v-1.9M56.8,414.9v-1.9M59.8,414.9v-1.8M60.8,414.9v-1.7M61.8,414.9v-1.7M65.8,414.9v-1.9M66.8,414.9v-1.8M73.8,414.9v-1.6M74.8,414.9v-1.8M75.8,414.9v-1.7M76.8,414.9v-1.4M80.8,414.9v-1.4M87.8,414.9v-1.9M89.8,414.9v-1.6M101.8,414.9v-1.5M103.8,414.9v-1.5M111.8,414.9v-1.9M112.8,414.9v-1.6M113.8,414.9v-1.7M114.8,414.9v-1.8M115.8,414.9v-1.7M118.8,414.9v-1.7M119.8,414.9v-1.6M140.8,414.9v-1.6M151.8,414.9v-1.6M153.8,414.9v-1.4M155.8,414.9v-2.1M156.8,414.9v-1.3M159.8,414.9v-1.4M166.8,414.9v-1.8M167.8,414.9v-2.0M175.8,414.9v-1.6M176.8,414.9v-1.6M181.8,414.9v-1.5M182.8,414.9v-1.8M209.8,414.9v-1.6M210.8,414.9v-1.9M211.8,414.9v-1.3M216.8,414.9v-1.9M217.8,414.9v-1.7M219.8,414.9v-1.2M32.8,419.4v-1.6M43.8,419.4v-1.6M45.8,419.4v-1.4M47.8,419.4v-2.1M48.8,419.4v-1.3M51.8,419.4v-1.4M58.8,419.4v-1.8M59.8,419.4v-2.0M67.8,419.4v-1.6M68.8,419.4v-1.6M73.8,419.4v-1.5M74.8,419.4v-1.8M101.8,419.4v-1.6M102.8,419.4v-1.9M103.8,419.4v-1.3M108.8,419.4v-1.9M109.8,419.4v-1.7M111.8,419.4v-1.2M159.8,419.4v-1.8M166.8,419.4v-1.3M167.8,419.4v-1.3M168.8,419.4v-1.4M169.8,419.4v-1.9M171.8,419.4v-1.5M172.8,419.4v-1.8M175.8,419.4v-1.5M176.8,419.4v-1.3M186.8,419.4v-1.6M187.8,419.4v-1.5M212.8,419.4v-1.7M213.8,419.4v-1.2M214.8,419.4v-1.8M219.8,419.4v-1.8M221.8,419.4v-1.9M222.8,419.4v-1.6M225.8,419.4v-1.3M226.8,419.4v-1.5M51.8,424.0v-1.8M58.8,424.0v-1.3M59.8,424.0v-1.3M60.8,424.0v-1.4M61.8,424.0v-1.9M63.8,424.0v-1.5M64.8,424.0v-1.8M67.8,424.0v-1.5M68.8,424.0v-1.3M78.8,424.0v-1.6M79.8,424.0v-1.5M104.8,424.0v-1.7M105.8,424.0v-1.2M106.8,424.0v-1.8M111.8,424.0v-1.8M113.8,424.0v-1.9M114.8,424.0v-1.6M117.8,424.0v-1.3M118.8,424.0v-1.5M151.8,424.0v-2.0M157.8,424.0v-1.4M160.8,424.0v-1.2M161.8,424.0v-1.6M167.8,424.0v-1.3M177.8,424.0v-1.4M180.8,424.0v-1.7M190.8,424.0v-1.6M194.8,424.0v-1.8M215.8,424.0v-2.1M216.8,424.0v-1.7M217.8,424.0v-2.0M218.8,424.0v-1.2M43.8,428.6v-2.0M49.8,428.6v-1.4M52.8,428.6v-1.2M53.8,428.6v-1.6M59.8,428.6v-1.3M69.8,428.6v-1.4M72.8,428.6v-1.7M82.8,428.6v-1.6M86.8,428.6v-1.8M107.8,428.6v-2.1M108.8,428.6v-1.7M109.8,428.6v-2.0M110.8,428.6v-1.2M147.8,428.6v-1.5M149.8,428.6v-1.5M153.8,428.6v-1.9M154.8,428.6v-1.4M157.8,428.6v-1.7M159.8,428.6v-1.4M160.8,428.6v-1.6M162.8,428.6v-1.5M163.8,428.6v-1.3M166.8,428.6v-1.8M167.8,428.6v-1.5M168.8,428.6v-1.3M178.8,428.6v-1.5M179.8,428.6v-1.5M191.8,428.6v-1.3M192.8,428.6v-1.3M195.8,428.6v-1.6M196.8,428.6v-1.3M199.8,428.6v-1.4M200.8,428.6v-1.3M209.8,428.6v-1.4M211.8,428.6v-1.9M212.8,428.6v-1.2M214.8,428.6v-1.7M215.8,428.6v-1.3M216.8,428.6v-1.7M221.8,428.6v-1.3M223.8,428.6v-1.2M225.8,428.6v-1.6M227.8,428.6v-1.7M228.8,428.6v-1.3M229.8,428.6v-1.3M39.8,433.2v-1.5M41.8,433.2v-1.5M45.8,433.2v-1.9M46.8,433.2v-1.4M49.8,433.2v-1.7M51.8,433.2v-1.4M52.8,433.2v-1.6M54.8,433.2v-1.5M55.8,433.2v-1.3M58.8,433.2v-1.8M59.8,433.2v-1.5M60.8,433.2v-1.3M70.8,433.2v-1.5M71.8,433.2v-1.5M83.8,433.2v-1.3M84.8,433.2v-1.3M87.8,433.2v-1.6M88.8,433.2v-1.3M91.8,433.2v-1.4M92.8,433.2v-1.3M101.8,433.2v-1.4M103.8,433.2v-1.9M104.8,433.2v-1.2M106.8,433.2v-1.7M107.8,433.2v-1.3M108.8,433.2v-1.7M113.8,433.2v-1.3M115.8,433.2v-1.2M117.8,433.2v-1.6M119.8,433.2v-1.7M120.8,433.2v-1.3M121.8,433.2v-1.3M152.8,433.2v-1.4M153.8,433.2v-1.8M154.8,433.2v-1.4M156.8,433.2v-2.0M157.8,433.2v-2.0M159.8,433.2v-1.9M161.8,433.2v-1.3M162.8,433.2v-1.5M163.8,433.2v-1.6M164.8,433.2v-1.8M167.8,433.2v-1.3M168.8,433.2v-1.7M169.8,433.2v-1.7M173.8,433.2v-1.4M174.8,433.2v-1.3M176.8,433.2v-1.6M178.8,433.2v-1.6M179.8,433.2v-1.5M180.8,433.2v-1.3M186.8,433.2v-2.1M190.8,433.2v-1.4M203.8,433.2v-1.8M204.8,433.2v-1.3M206.8,433.2v-1.9M208.8,433.2v-1.5M214.8,433.2v-1.6M215.8,433.2v-1.8M44.8,437.8v-1.4M45.8,437.8v-1.8M46.8,437.8v-1.4M48.8,437.8v-2.0M49.8,437.8v-2.0M51.8,437.8v-1.9M53.8,437.8v-1.3M54.8,437.8v-1.5M55.8,437.8v-1.6M56.8,437.8v-1.8M59.8,437.8v-1.3M60.8,437.8v-1.7M61.8,437.8v-1.7M65.8,437.8v-1.4M66.8,437.8v-1.3M68.8,437.8v-1.6M70.8,437.8v-1.6M71.8,437.8v-1.5M72.8,437.8v-1.3M78.8,437.8v-2.1M82.8,437.8v-1.4M95.8,437.8v-1.8M96.8,437.8v-1.3M98.8,437.8v-1.9M100.8,437.8v-1.5M106.8,437.8v-1.6M107.8,437.8v-1.8M144.8,437.8v-1.5M152.8,437.8v-1.5M153.8,437.8v-1.6M155.8,437.8v-1.3M163.8,437.8v-2.0M165.8,437.8v-2.0M172.8,437.8v-1.4M173.8,437.8v-1.9M174.8,437.8v-1.5M175.8,437.8v-1.5M176.8,437.8v-1.9M177.8,437.8v-1.2M193.8,437.8v-1.2M212.8,437.8v-1.6M215.8,437.8v-1.8M36.8,442.4v-1.5M44.8,442.4v-1.5M45.8,442.4v-1.6M47.8,442.4v-1.3M55.8,442.4v-2.0M57.8,442.4v-2.0M64.8,442.4v-1.4M65.8,442.4v-1.9M66.8,442.4v-1.5M67.8,442.4v-1.5M68.8,442.4v-1.9M69.8,442.4v-1.2M85.8,442.4v-1.2M104.8,442.4v-1.6M107.8,442.4v-1.8M146.8,442.4v-1.7M147.8,442.4v-1.6M151.8,442.4v-1.4M152.8,442.4v-1.2M156.8,442.4v-1.5M157.8,442.4v-1.4M160.8,442.4v-1.5M168.8,442.4v-1.3M169.8,442.4v-2.1M172.8,442.4v-1.5M176.8,442.4v-1.5M181.8,442.4v-1.4M188.8,442.4v-1.5M190.8,442.4v-1.5M191.8,442.4v-1.4M194.8,442.4v-1.6M201.8,442.4v-1.5M202.8,442.4v-1.9M204.8,442.4v-1.5M205.8,442.4v-1.8M207.8,442.4v-1.8M213.8,442.4v-1.4M215.8,442.4v-1.8M216.8,442.4v-1.8M38.8,447.0v-1.7M39.8,447.0v-1.6M43.8,447.0v-1.4M44.8,447.0v-1.2M48.8,447.0v-1.5M49.8,447.0v-1.4M52.8,447.0v-1.5M60.8,447.0v-1.3M61.8,447.0v-2.1M64.8,447.0v-1.5M68.8,447.0v-1.5M73.8,447.0v-1.4M80.8,447.0v-1.5M82.8,447.0v-1.5M83.8,447.0v-1.4M86.8,447.0v-1.6M93.8,447.0v-1.5M94.8,447.0v-1.9M96.8,447.0v-1.5M97.8,447.0v-1.8M99.8,447.0v-1.8M105.8,447.0v-1.4M107.8,447.0v-1.8M108.8,447.0v-1.8M157.8,447.0v-1.4M161.8,447.0v-2.1M166.8,447.0v-2.0M168.8,447.0v-1.4M169.8,447.0v-1.3M173.8,447.0v-2.0M174.8,447.0v-1.8M178.8,447.0v-1.6M182.8,447.0v-2.0M183.8,447.0v-1.3M184.8,447.0v-1.4M210.8,447.0v-1.4M212.8,447.0v-1.4M49.8,451.5v-1.4M53.8,451.5v-2.1M58.8,451.5v-2.0M60.8,451.5v-1.4M61.8,451.5v-1.3M65.8,451.5v-2.0M66.8,451.5v-1.8M70.8,451.5v-1.6M74.8,451.5v-2.0M75.8,451.5v-1.3M76.8,451.5v-1.4M102.8,451.5v-1.4M104.8,451.5v-1.4M143.8,451.5v-1.4M144.8,451.5v-1.5M146.8,451.5v-1.4M149.8,451.5v-1.3M155.8,451.5v-1.6M156.8,451.5v-1.8M157.8,451.5v-1.5M159.8,451.5v-1.4M160.8,451.5v-2.0M161.8,451.5v-1.4M175.8,451.5v-1.9M197.8,451.5v-1.4M198.8,451.5v-1.4M199.8,451.5v-1.9M202.8,451.5v-1.4M211.8,451.5v-1.4M214.8,451.5v-2.1M35.8,456.1v-1.4M36.8,456.1v-1.5M38.8,456.1v-1.4M41.8,456.1v-1.3M47.8,456.1v-1.6M48.8,456.1v-1.8M49.8,456.1v-1.5M51.8,456.1v-1.4M52.8,456.1v-2.0M53.8,456.1v-1.4M67.8,456.1v-1.9M89.8,456.1v-1.4M90.8,456.1v-1.4M91.8,456.1v-1.9M94.8,456.1v-1.4M103.8,456.1v-1.4M106.8,456.1v-2.1M139.8,456.1v-1.6M142.8,456.1v-1.4M146.8,456.1v-1.4M148.8,456.1v-1.8M149.8,456.1v-1.6M150.8,456.1v-1.8M151.8,456.1v-1.2M152.8,456.1v-1.4M153.8,456.1v-1.4M155.8,456.1v-1.2M156.8,456.1v-1.5M158.8,456.1v-1.9M159.8,456.1v-1.9M161.8,456.1v-1.3M171.8,456.1v-1.6M172.8,456.1v-1.9M173.8,456.1v-1.7M181.8,456.1v-1.6M182.8,456.1v-1.9M183.8,456.1v-2.0M186.8,456.1v-1.4M203.8,456.1v-2.0M204.8,456.1v-1.4M207.8,456.1v-2.1M208.8,456.1v-1.5M209.8,456.1v-1.3M213.8,456.1v-1.5M214.8,456.1v-1.5M215.8,456.1v-1.6M217.8,456.1v-1.2M218.8,456.1v-1.3M31.8,460.7v-1.6M34.8,460.7v-1.4M38.8,460.7v-1.4M40.8,460.7v-1.8M41.8,460.7v-1.6M42.8,460.7v-1.8M43.8,460.7v-1.2M44.8,460.7v-1.4M45.8,460.7v-1.4M47.8,460.7v-1.2M48.8,460.7v-1.5M50.8,460.7v-1.9M51.8,460.7v-1.9M53.8,460.7v-1.3M63.8,460.7v-1.6M64.8,460.7v-1.9M65.8,460.7v-1.7M73.8,460.7v-1.6M74.8,460.7v-1.9M75.8,460.7v-2.0M78.8,460.7v-1.4M95.8,460.7v-2.0M96.8,460.7v-1.4M99.8,460.7v-2.1M100.8,460.7v-1.5M101.8,460.7v-1.3M105.8,460.7v-1.5M106.8,460.7v-1.5M107.8,460.7v-1.6M109.8,460.7v-1.2M110.8,460.7v-1.3M141.8,460.7v-1.3M142.8,460.7v-1.3M149.8,460.7v-2.0M151.8,460.7v-2.1M152.8,460.7v-1.9M155.8,460.7v-1.9M160.8,460.7v-1.7M161.8,460.7v-1.7M162.8,460.7v-1.7M164.8,460.7v-1.3M165.8,460.7v-1.3M166.8,460.7v-2.0M167.8,460.7v-2.0M168.8,460.7v-1.6M173.8,460.7v-2.0M190.8,460.7v-1.4M191.8,460.7v-1.8M192.8,460.7v-1.4M193.8,460.7v-1.7M198.8,460.7v-1.8M206.8,460.7v-1.8M207.8,460.7v-1.5M208.8,460.7v-1.2M215.8,460.7v-1.2M216.8,460.7v-1.6M218.8,460.7v-1.2M239.8,460.7v-1.2M240.8,460.7v-1.2M33.8,465.3v-1.3M34.8,465.3v-1.3M41.8,465.3v-2.0M43.8,465.3v-2.1M44.8,465.3v-1.9M47.8,465.3v-1.9M52.8,465.3v-1.7M53.8,465.3v-1.7M54.8,465.3v-1.7M56.8,465.3v-1.3M57.8,465.3v-1.3M58.8,465.3v-2.0M59.8,465.3v-2.0M60.8,465.3v-1.6M65.8,465.3v-2.0M82.8,465.3v-1.4M83.8,465.3v-1.8M84.8,465.3v-1.4M85.8,465.3v-1.7M90.8,465.3v-1.8M98.8,465.3v-1.8M99.8,465.3v-1.5M100.8,465.3v-1.2M107.8,465.3v-1.2M108.8,465.3v-1.6M110.8,465.3v-1.2M131.8,465.3v-1.2M132.8,465.3v-1.2M133.8,465.3v-1.4M138.8,465.3v-1.4M139.8,465.3v-1.4M144.8,465.3v-1.9M146.8,465.3v-1.8M147.8,465.3v-1.4M151.8,465.3v-1.6M152.8,465.3v-1.3M165.8,465.3v-1.5M166.8,465.3v-1.4M167.8,465.3v-1.2M173.8,465.3v-1.7M176.8,465.3v-1.7M177.8,465.3v-1.9M195.8,465.3v-1.5M196.8,465.3v-1.6M204.8,465.3v-1.3M207.8,465.3v-1.2M208.8,465.3v-1.2M209.8,465.3v-1.7M214.8,465.3v-1.3M216.8,465.3v-1.5M217.8,465.3v-1.3M225.8,465.3v-1.4M25.8,469.9v-1.4M30.8,469.9v-1.4M31.8,469.9v-1.4M36.8,469.9v-1.9M38.8,469.9v-1.8M39.8,469.9v-1.4M43.8,469.9v-1.6M44.8,469.9v-1.3M57.8,469.9v-1.5M58.8,469.9v-1.4M59.8,469.9v-1.2M65.8,469.9v-1.7M68.8,469.9v-1.7M69.8,469.9v-1.9M87.8,469.9v-1.5M88.8,469.9v-1.6M96.8,469.9v-1.3M99.8,469.9v-1.2M100.8,469.9v-1.2M101.8,469.9v-1.7M106.8,469.9v-1.3M108.8,469.9v-1.5M109.8,469.9v-1.3M117.8,469.9v-1.4M139.8,469.9v-1.4M144.8,469.9v-1.4M145.8,469.9v-1.2M146.8,469.9v-1.7M147.8,469.9v-1.5M153.8,469.9v-1.8M156.8,469.9v-2.0M157.8,469.9v-1.6M160.8,469.9v-2.1M164.8,469.9v-1.2M171.8,469.9v-1.9M173.8,469.9v-1.7M175.8,469.9v-1.5M184.8,469.9v-1.4M197.8,469.9v-1.6M198.8,469.9v-1.8M206.8,469.9v-1.7M207.8,469.9v-1.6M216.8,469.9v-1.3M31.8,474.5v-1.4M36.8,474.5v-1.4M37.8,474.5v-1.2M38.8,474.5v-1.7M39.8,474.5v-1.5M45.8,474.5v-1.8M48.8,474.5v-2.0M49.8,474.5v-1.6M52.8,474.5v-2.1M56.8,474.5v-1.2M63.8,474.5v-1.9M65.8,474.5v-1.7M67.8,474.5v-1.5M76.8,474.5v-1.4M89.8,474.5v-1.6M90.8,474.5v-1.8M98.8,474.5v-1.7M99.8,474.5v-1.6M108.8,474.5v-1.3M135.8,474.5v-1.2M136.8,474.5v-1.4M137.8,474.5v-1.7M140.8,474.5v-1.7M141.8,474.5v-1.3M144.8,474.5v-1.4M145.8,474.5v-1.3M146.8,474.5v-1.5M147.8,474.5v-1.4M153.8,474.5v-1.3M155.8,474.5v-1.5M156.8,474.5v-1.3M157.8,474.5v-1.5M158.8,474.5v-1.7M167.8,474.5v-1.5M168.8,474.5v-1.6M169.8,474.5v-1.6M172.8,474.5v-1.6M184.8,474.5v-1.2M186.8,474.5v-1.3M187.8,474.5v-1.5M190.8,474.5v-1.3M191.8,474.5v-1.3M193.8,474.5v-1.3M206.8,474.5v-1.8M208.8,474.5v-1.6M209.8,474.5v-1.9M27.8,479.1v-1.2M28.8,479.1v-1.4M29.8,479.1v-1.7M32.8,479.1v-1.7M33.8,479.1v-1.3M36.8,479.1v-1.4M37.8,479.1v-1.3M38.8,479.1v-1.5M39.8,479.1v-1.4M45.8,479.1v-1.3M47.8,479.1v-1.5M48.8,479.1v-1.3M49.8,479.1v-1.5M50.8,479.1v-1.7M59.8,479.1v-1.5M60.8,479.1v-1.6M61.8,479.1v-1.6M64.8,479.1v-1.6M76.8,479.1v-1.2M78.8,479.1v-1.3M79.8,479.1v-1.5M82.8,479.1v-1.3M83.8,479.1v-1.3M85.8,479.1v-1.3M98.8,479.1v-1.8M100.8,479.1v-1.6M101.8,479.1v-1.9M135.8,479.1v-1.3M136.8,479.1v-1.8M140.8,479.1v-1.6M141.8,479.1v-1.9M142.8,479.1v-1.5M143.8,479.1v-1.6M147.8,479.1v-1.5M148.8,479.1v-1.8M155.8,479.1v-1.4M159.8,479.1v-1.5M162.8,479.1v-1.3M164.8,479.1v-1.4M201.8,479.1v-1.3M202.8,479.1v-1.5M203.8,479.1v-1.3M207.8,479.1v-1.5M211.8,479.1v-1.7M212.8,479.1v-1.4M239.8,479.1v-1.3M240.8,479.1v-1.5" stroke="#555" stroke-width="1" fill="none"/>
<path d="M80.8,286.5v-2.8M81.8,286.5v-2.2M82.8,286.5v-2.7M89.8,286.5v-2.6M90.8,286.5v-2.5M105.8,286.5v-2.2M106.8,286.5v-3.0M108.8,286.5v-3.7M127.8,286.5v-2.2M130.8,286.5v-3.4M201.8,286.5v-3.8M202.8,286.5v-2.6M226.8,286.5v-2.2M93.8,291.1v-3.8M94.8,291.1v-2.6M118.8,291.1v-2.2M207.8,291.1v-3.2M208.8,291.1v-2.4M210.8,291.1v-2.5M219.8,291.1v-2.8M220.8,291.1v-3.4M221.8,291.1v-2.6M222.8,291.1v-2.1M99.8,295.7v-3.2M100.8,295.7v-2.4M102.8,295.7v-2.5M111.8,295.7v-2.8M112.8,295.7v-3.4M113.8,295.7v-2.6M114.8,295.7v-2.1M133.8,295.7v-2.4M134.8,295.7v-2.7M206.8,295.7v-2.8M208.8,295.7v-3.7M209.8,295.7v-2.9M210.8,295.7v-2.5M211.8,295.7v-2.6M218.8,295.7v-2.1M226.8,295.7v-2.2M236.8,295.7v-2.4M237.8,295.7v-2.6M25.8,300.2v-2.4M26.8,300.2v-2.7M98.8,300.2v-2.8M100.8,300.2v-3.7M101.8,300.2v-2.9M102.8,300.2v-2.5M103.8,300.2v-2.6M110.8,300.2v-2.1M118.8,300.2v-2.2M128.8,300.2v-2.4M129.8,300.2v-2.6M190.8,300.2v-3.3M191.8,300.2v-3.2M192.8,300.2v-2.2M201.8,300.2v-2.1M204.8,300.2v-2.3M215.8,300.2v-2.4M234.8,300.2v-2.4M82.8,304.8v-3.3M83.8,304.8v-3.2M84.8,304.8v-2.2M93.8,304.8v-2.1M96.8,304.8v-2.3M107.8,304.8v-2.4M126.8,304.8v-2.4M187.8,304.8v-2.8M188.8,304.8v-3.3M190.8,304.8v-2.6M211.8,304.8v-2.3M212.8,304.8v-2.2M216.8,304.8v-2.5M217.8,304.8v-2.2M218.8,304.8v-2.3M239.8,304.8v-2.4M240.8,304.8v-3.0M79.8,309.4v-2.8M80.8,309.4v-3.3M82.8,309.4v-2.6M103.8,309.4v-2.3M104.8,309.4v-2.2M108.8,309.4v-2.5M109.8,309.4v-2.2M110.8,309.4v-2.3M131.8,309.4v-2.4M132.8,309.4v-3.0M133.8,309.4v-2.2M134.8,309.4v-3.8M186.8,309.4v-2.4M187.8,309.4v-2.3M191.8,309.4v-2.4M192.8,309.4v-2.8M193.8,309.4v-2.9M194.8,309.4v-2.8M195.8,309.4v-2.3M196.8,309.4v-2.3M197.8,309.4v-2.5M208.8,309.4v-2.8M209.8,309.4v-2.3M25.8,314.0v-2.2M26.8,314.0v-3.8M78.8,314.0v-2.4M79.8,314.0v-2.3M83.8,314.0v-2.4M84.8,314.0v-2.8M85.8,314.0v-2.9M86.8,314.0v-2.8M87.8,314.0v-2.3M88.8,314.0v-2.3M89.8,314.0v-2.5M100.8,314.0v-2.8M101.8,314.0v-2.3M135.8,314.0v-2.4M136.8,314.0v-2.7M137.8,314.0v-3.4M186.8,314.0v-2.9M188.8,314.0v-2.1M199.8,314.0v-2.7M200.8,314.0v-3.0M202.8,314.0v-2.2M219.8,314.0v-2.8M226.8,314.0v-2.5M227.8,314.0v-2.9M231.8,314.0v-4.1M232.8,314.0v-2.4M233.8,314.0v-2.3M234.8,314.0v-3.8M235.8,314.0v-3.8M27.8,318.6v-2.4M28.8,318.6v-2.7M29.8,318.6v-3.4M78.8,318.6v-2.9M80.8,318.6v-2.1M91.8,318.6v-2.7M92.8,318.6v-3.0M94.8,318.6v-2.2M111.8,318.6v-2.8M118.8,318.6v-2.5M119.8,318.6v-2.9M123.8,318.6v-4.1M124.8,318.6v-2.4M125.8,318.6v-2.3M126.8,318.6v-3.8M127.8,318.6v-3.8M184.8,318.6v-2.4M197.8,318.6v-2.5M203.8,318.6v-2.2M216.8,318.6v-2.2M218.8,318.6v-2.7M219.8,318.6v-3.3M220.8,318.6v-2.9M226.8,318.6v-2.6M232.8,318.6v-3.2M233.8,318.6v-2.7M234.8,318.6v-3.0M237.8,318.6v-2.1M76.8,323.2v-2.4M89.8,323.2v-2.5M95.8,323.2v-2.2M108.8,323.2v-2.2M110.8,323.2v-2.7M111.8,323.2v-3.3M112.8,323.2v-2.9M118.8,323.2v-2.6M124.8,323.2v-3.2M125.8,323.2v-2.7M126.8,323.2v-3.0M129.8,323.2v-2.1M184.8,323.2v-2.2M186.8,323.2v-2.7M188.8,323.2v-2.2M193.8,323.2v-2.3M194.8,323.2v-2.4M195.8,323.2v-3.7M197.8,323.2v-3.2M209.8,323.2v-2.4M210.8,323.2v-2.6M223.8,323.2v-2.4M225.8,323.2v-3.3M228.8,323.2v-3.0M229.8,323.2v-3.6M230.8,323.2v-2.5M239.8,323.2v-2.4M240.8,323.2v-2.3M76.8,327.8v-2.2M78.8,327.8v-2.7M80.8,327.8v-2.2M85.8,327.8v-2.3M86.8,327.8v-2.4M87.8,327.8v-3.7M89.8,327.8v-3.2M101.8,327.8v-2.4M102.8,327.8v-2.6M115.8,327.8v-2.4M117.8,327.8v-3.3M120.8,327.8v-3.0M121.8,327.8v-3.6M122.8,327.8v-2.5M131.8,327.8v-2.4M132.8,327.8v-2.3M133.8,327.8v-2.7M134.8,327.8v-3.1M180.8,327.8v-2.5M181.8,327.8v-2.5M182.8,327.8v-2.3M194.8,327.8v-3.0M196.8,327.8v-3.0M234.8,327.8v-2.5M237.8,327.8v-2.4M25.8,332.3v-2.7M26.8,332.3v-3.1M72.8,332.3v-2.5M73.8,332.3v-2.5M74.8,332.3v-2.3M86.8,332.3v-3.0M88.8,332.3v-3.0M126.8,332.3v-2.5M129.8,332.3v-2.4M188.8,332.3v-2.7M189.8,332.3v-2.7M201.8,332.3v-3.2M202.8,332.3v-3.6M203.8,332.3v-2.4M204.8,332.3v-2.8M227.8,332.3v-2.3M232.8,332.3v-2.3M233.8,332.3v-2.3M80.8,336.9v-2.7M81.8,336.9v-2.7M93.8,336.9v-3.2M94.8,336.9v-3.6M95.8,336.9v-2.4M96.8,336.9v-2.8M119.8,336.9v-2.3M124.8,336.9v-2.3M125.8,336.9v-2.3M196.8,336.9v-2.5M199.8,336.9v-2.9M200.8,336.9v-3.0M220.8,336.9v-2.5M221.8,336.9v-2.1M222.8,336.9v-2.3M230.8,336.9v-2.3M88.8,341.5v-2.5M91.8,341.5v-2.9M92.8,341.5v-3.0M112.8,341.5v-2.5M113.8,341.5v-2.1M114.8,341.5v-2.3M122.8,341.5v-2.3M184.8,341.5v-2.9M186.8,341.5v-3.5M189.8,341.5v-2.4M205.8,341.5v-2.1M206.8,341.5v-2.6M216.8,341.5v-2.6M217.8,341.5v-3.1M218.8,341.5v-3.2M219.8,341.5v-3.4M226.8,341.5v-3.6M227.8,341.5v-2.3M234.8,341.5v-2.2M235.8,341.5v-2.4M236.8,341.5v-2.8M238.8,341.5v-2.6M76.8,346.1v-2.9M78.8,346.1v-3.5M81.8,346.1v-2.4M97.8,346.1v-2.1M98.8,346.1v-2.6M108.8,346.1v-2.6M109.8,346.1v-3.1M110.8,346.1v-3.2M111.8,346.1v-3.4M118.8,346.1v-3.6M119.8,346.1v-2.3M126.8,346.1v-2.2M127.8,346.1v-2.4M128.8,346.1v-2.8M130.8,346.1v-2.6M177.8,346.1v-2.6M180.8,346.1v-2.8M189.8,346.1v-2.1M190.8,346.1v-3.5M191.8,346.1v-2.4M192.8,346.1v-2.7M195.8,346.1v-2.3M197.8,346.1v-2.3M198.8,346.1v-2.5M200.8,346.1v-2.4M234.8,346.1v-2.1M235.8,346.1v-2.2M236.8,346.1v-2.4M69.8,350.7v-2.6M72.8,350.7v-2.8M81.8,350.7v-2.1M82.8,350.7v-3.5M83.8,350.7v-2.4M84.8,350.7v-2.7M87.8,350.7v-2.3M89.8,350.7v-2.3M90.8,350.7v-2.5M92.8,350.7v-2.4M126.8,350.7v-2.1M127.8,350.7v-2.2M128.8,350.7v-2.4M175.8,350.7v-2.4M183.8,350.7v-2.3M184.8,350.7v-2.4M195.8,350.7v-2.4M225.8,350.7v-2.6M226.8,350.7v-2.3M227.8,350.7v-3.3M235.8,350.7v-2.4M236.8,350.7v-2.4M237.8,350.7v-2.2M238.8,350.7v-3.1M240.8,350.7v-2.2M67.8,355.3v-2.4M75.8,355.3v-2.3M76.8,355.3v-2.4M87.8,355.3v-2.4M117.8,355.3v-2.6M118.8,355.3v-2.3M119.8,355.3v-3.3M127.8,355.3v-2.4M128.8,355.3v-2.4M129.8,355.3v-2.2M130.8,355.3v-3.1M132.8,355.3v-2.2M185.8,355.3v-3.1M186.8,355.3v-2.4M187.8,355.3v-2.8M195.8,355.3v-2.1M204.8,355.3v-2.2M207.8,355.3v-2.4M209.8,355.3v-2.8M217.8,355.3v-2.4M218.8,355.3v-2.6M219.8,355.3v-2.1M223.8,355.3v-2.1M224.8,355.3v-2.9M225.8,355.3v-2.3M234.8,355.3v-2.3M236.8,355.3v-2.7M77.8,359.8v-3.1M78.8,359.8v-2.4M79.8,359.8v-2.8M87.8,359.8v-2.1M96.8,359.8v-2.2M99.8,359.8v-2.4M101.8,359.8v-2.8M109.8,359.8v-2.4M110.8,359.8v-2.6M111.8,359.8v-2.1M115.8,359.8v-2.1M116.8,359.8v-2.9M117.8,359.8v-2.3M126.8,359.8v-2.3M128.8,359.8v-2.7M187.8,359.8v-2.6M188.8,359.8v-3.0M189.8,359.8v-2.2M190.8,359.8v-2.7M199.8,359.8v-2.1M200.8,359.8v-3.6M201.8,359.8v-2.9M202.8,359.8v-3.3M203.8,359.8v-2.3M210.8,359.8v-2.2M211.8,359.8v-2.3M212.8,359.8v-2.4M213.8,359.8v-2.1M222.8,359.8v-2.2M79.8,364.4v-2.6M80.8,364.4v-3.0M81.8,364.4v-2.2M82.8,364.4v-2.7M91.8,364.4v-2.1M92.8,364.4v-3.6M93.8,364.4v-2.9M94.8,364.4v-3.3M95.8,364.4v-2.3M102.8,364.4v-2.2M103.8,364.4v-2.3M104.8,364.4v-2.4M105.8,364.4v-2.1M114.8,364.4v-2.2M175.8,364.4v-2.7M176.8,364.4v-3.4M177.8,364.4v-3.1M180.8,364.4v-2.4M181.8,364.4v-2.2M185.8,364.4v-2.7M205.8,364.4v-2.4M225.8,364.4v-2.2M227.8,364.4v-2.4M67.8,369.0v-2.7M68.8,369.0v-3.4M69.8,369.0v-3.1M72.8,369.0v-2.4M73.8,369.0v-2.2M77.8,369.0v-2.7M97.8,369.0v-2.4M117.8,369.0v-2.2M119.8,369.0v-2.4M167.8,369.0v-2.6M192.8,369.0v-2.2M217.8,369.0v-2.3M229.8,369.0v-2.4M230.8,369.0v-2.3M59.8,373.6v-2.6M84.8,373.6v-2.2M109.8,373.6v-2.3M121.8,373.6v-2.4M122.8,373.6v-2.3M177.8,373.6v-2.4M178.8,373.6v-2.5M179.8,373.6v-2.2M181.8,373.6v-2.5M184.8,373.6v-2.2M185.8,373.6v-2.2M192.8,373.6v-2.7M193.8,373.6v-2.5M208.8,373.6v-2.7M224.8,373.6v-2.8M225.8,373.6v-3.0M69.8,378.2v-2.4M70.8,378.2v-2.5M71.8,378.2v-2.2M73.8,378.2v-2.5M76.8,378.2v-2.2M77.8,378.2v-2.2M84.8,378.2v-2.7M85.8,378.2v-2.5M100.8,378.2v-2.7M116.8,378.2v-2.8M117.8,378.2v-3.0M175.8,378.2v-2.8M176.8,378.2v-2.3M182.8,378.2v-2.2M185.8,378.2v-2.1M188.8,378.2v-3.2M189.8,378.2v-3.6M190.8,378.2v-2.2M191.8,378.2v-3.2M201.8,378.2v-2.2M204.8,378.2v-2.3M225.8,378.2v-3.1M226.8,378.2v-3.1M227.8,378.2v-2.6M67.8,382.8v-2.8M68.8,382.8v-2.3M74.8,382.8v-2.2M77.8,382.8v-2.1M80.8,382.8v-3.2M81.8,382.8v-3.6M82.8,382.8v-2.2M83.8,382.8v-3.2M93.8,382.8v-2.2M96.8,382.8v-2.3M117.8,382.8v-3.1M118.8,382.8v-3.1M119.8,382.8v-2.6M162.8,382.8v-2.8M172.8,382.8v-3.1M173.8,382.8v-2.8M179.8,382.8v-3.3M180.8,382.8v-3.0M181.8,382.8v-2.4M205.8,382.8v-2.5M206.8,382.8v-2.9M209.8,382.8v-3.2M210.8,382.8v-2.3M217.8,382.8v-2.4M218.8,382.8v-2.7M219.8,382.8v-2.1M220.8,382.8v-2.3M222.8,382.8v-2.5M223.8,382.8v-2.2M228.8,382.8v-2.7M229.8,382.8v-2.4M230.8,382.8v-2.3M232.8,382.8v-2.2M54.8,387.4v-2.8M64.8,387.4v-3.1M65.8,387.4v-2.8M71.8,387.4v-3.3M72.8,387.4v-3.0M73.8,387.4v-2.4M97.8,387.4v-2.5M98.8,387.4v-2.9M101.8,387.4v-3.2M102.8,387.4v-2.3M109.8,387.4v-2.4M110.8,387.4v-2.7M111.8,387.4v-2.1M112.8,387.4v-2.3M114.8,387.4v-2.5M115.8,387.4v-2.2M120.8,387.4v-2.7M121.8,387.4v-2.4M122.8,387.4v-2.3M124.8,387.4v-2.2M167.8,387.4v-2.4M175.8,387.4v-2.7M185.8,387.4v-3.0M186.8,387.4v-3.8M222.8,387.4v-2.5M223.8,387.4v-3.0M230.8,387.4v-3.0M59.8,391.9v-2.4M67.8,391.9v-2.7M77.8,391.9v-3.0M78.8,391.9v-3.8M114.8,391.9v-2.5M115.8,391.9v-3.0M122.8,391.9v-3.0M169.8,391.9v-2.3M170.8,391.9v-2.7M212.8,391.9v-3.0M218.8,391.9v-2.9M219.8,391.9v-3.4M220.8,391.9v-3.0M228.8,391.9v-2.1M229.8,391.9v-2.1M61.8,396.5v-2.3M62.8,396.5v-2.7M104.8,396.5v-3.0M110.8,396.5v-2.9M111.8,396.5v-3.4M112.8,396.5v-3.0M120.8,396.5v-2.1M121.8,396.5v-2.1M171.8,396.5v-2.4M172.8,396.5v-2.1M173.8,396.5v-2.5M178.8,396.5v-2.9M179.8,396.5v-2.4M182.8,396.5v-2.1M183.8,396.5v-2.8M184.8,396.5v-2.1M191.8,396.5v-2.5M193.8,396.5v-2.7M212.8,396.5v-2.1M213.8,396.5v-2.4M214.8,396.5v-2.5M215.8,396.5v-2.4M222.8,396.5v-2.1M224.8,396.5v-3.0M226.8,396.5v-2.3M63.8,401.1v-2.4M64.8,401.1v-2.1M65.8,401.1v-2.5M70.8,401.1v-2.9M71.8,401.1v-2.4M74.8,401.1v-2.1M75.8,401.1v-2.8M76.8,401.1v-2.1M83.8,401.1v-2.5M85.8,401.1v-2.7M104.8,401.1v-2.1M105.8,401.1v-2.4M106.8,401.1v-2.5M107.8,401.1v-2.4M114.8,401.1v-2.1M116.8,401.1v-3.0M118.8,401.1v-2.3M166.8,401.1v-3.2M186.8,401.1v-2.1M187.8,401.1v-3.3M189.8,401.1v-2.4M195.8,401.1v-2.4M209.8,401.1v-3.4M211.8,401.1v-2.8M216.8,401.1v-2.3M58.8,405.7v-3.2M78.8,405.7v-2.1M79.8,405.7v-3.3M81.8,405.7v-2.4M87.8,405.7v-2.4M101.8,405.7v-3.4M103.8,405.7v-2.8M108.8,405.7v-2.3M176.8,405.7v-2.7M177.8,405.7v-2.7M178.8,405.7v-3.0M179.8,405.7v-2.6M188.8,405.7v-2.3M214.8,405.7v-2.4M215.8,405.7v-2.3M216.8,405.7v-2.3M68.8,410.3v-2.7M69.8,410.3v-2.7M70.8,410.3v-3.0M71.8,410.3v-2.6M80.8,410.3v-2.3M106.8,410.3v-2.4M107.8,410.3v-2.3M108.8,410.3v-2.3M157.8,410.3v-2.3M159.8,410.3v-2.9M165.8,410.3v-3.0M166.8,410.3v-2.2M170.8,410.3v-2.5M171.8,410.3v-2.7M172.8,410.3v-3.1M189.8,410.3v-2.5M191.8,410.3v-2.5M192.8,410.3v-3.4M193.8,410.3v-2.9M194.8,410.3v-2.3M196.8,410.3v-2.4M210.8,410.3v-2.3M212.8,410.3v-2.3M214.8,410.3v-2.1M49.8,414.9v-2.3M51.8,414.9v-2.9M57.8,414.9v-3.0M58.8,414.9v-2.2M62.8,414.9v-2.5M63.8,414.9v-2.7M64.8,414.9v-3.1M81.8,414.9v-2.5M83.8,414.9v-2.5M84.8,414.9v-3.4M85.8,414.9v-2.9M86.8,414.9v-2.3M88.8,414.9v-2.4M102.8,414.9v-2.3M104.8,414.9v-2.3M106.8,414.9v-2.1M152.8,414.9v-3.2M154.8,414.9v-2.2M168.8,414.9v-3.2M169.8,414.9v-2.2M170.8,414.9v-2.5M177.8,414.9v-2.2M178.8,414.9v-2.3M179.8,414.9v-2.8M180.8,414.9v-2.7M212.8,414.9v-2.4M214.8,414.9v-2.9M215.8,414.9v-2.7M44.8,419.4v-3.2M46.8,419.4v-2.2M60.8,419.4v-3.2M61.8,419.4v-2.2M62.8,419.4v-2.5M69.8,419.4v-2.2M70.8,419.4v-2.3M71.8,419.4v-2.8M72.8,419.4v-2.7M104.8,419.4v-2.4M106.8,419.4v-2.9M107.8,419.4v-2.7M173.8,419.4v-2.8M215.8,419.4v-3.2M216.8,419.4v-2.2M217.8,419.4v-3.8M218.8,419.4v-3.5M220.8,419.4v-2.4M224.8,419.4v-2.2M65.8,424.0v-2.8M107.8,424.0v-3.2M108.8,424.0v-2.2M109.8,424.0v-3.8M110.8,424.0v-3.5M112.8,424.0v-2.4M116.8,424.0v-2.2M150.8,424.0v-2.5M152.8,424.0v-2.8M153.8,424.0v-3.3M154.8,424.0v-2.8M155.8,424.0v-2.7M156.8,424.0v-2.2M162.8,424.0v-2.3M163.8,424.0v-3.5M164.8,424.0v-4.1M165.8,424.0v-2.1M178.8,424.0v-2.8M179.8,424.0v-2.7M192.8,424.0v-3.0M193.8,424.0v-2.3M213.8,424.0v-2.2M214.8,424.0v-3.4M42.8,428.6v-2.5M44.8,428.6v-2.8M45.8,428.6v-3.3M46.8,428.6v-2.8M47.8,428.6v-2.7M48.8,428.6v-2.2M54.8,428.6v-2.3M55.8,428.6v-3.5M56.8,428.6v-4.1M57.8,428.6v-2.1M70.8,428.6v-2.8M71.8,428.6v-2.7M84.8,428.6v-3.0M85.8,428.6v-2.3M105.8,428.6v-2.2M106.8,428.6v-3.4M148.8,428.6v-2.4M158.8,428.6v-2.2M165.8,428.6v-3.0M173.8,428.6v-2.3M174.8,428.6v-2.2M197.8,428.6v-2.1M210.8,428.6v-2.3M40.8,433.2v-2.4M50.8,433.2v-2.2M57.8,433.2v-3.0M65.8,433.2v-2.3M66.8,433.2v-2.2M89.8,433.2v-2.1M102.8,433.2v-2.3M155.8,433.2v-2.4M158.8,433.2v-2.3M160.8,433.2v-2.7M165.8,433.2v-2.8M175.8,433.2v-2.1M177.8,433.2v-2.9M187.8,433.2v-2.5M188.8,433.2v-2.8M189.8,433.2v-2.2M205.8,433.2v-2.6M207.8,433.2v-2.3M216.8,433.2v-2.1M47.8,437.8v-2.4M50.8,437.8v-2.3M52.8,437.8v-2.7M57.8,437.8v-2.8M67.8,437.8v-2.1M69.8,437.8v-2.9M79.8,437.8v-2.5M80.8,437.8v-2.8M81.8,437.8v-2.2M97.8,437.8v-2.6M99.8,437.8v-2.3M108.8,437.8v-2.1M160.8,437.8v-2.2M161.8,437.8v-2.1M162.8,437.8v-2.5M164.8,437.8v-2.3M185.8,437.8v-3.2M194.8,437.8v-2.2M213.8,437.8v-2.2M214.8,437.8v-2.1M52.8,442.4v-2.2M53.8,442.4v-2.1M54.8,442.4v-2.5M56.8,442.4v-2.3M77.8,442.4v-3.2M86.8,442.4v-2.2M105.8,442.4v-2.2M106.8,442.4v-2.1M145.8,442.4v-2.1M148.8,442.4v-2.8M150.8,442.4v-2.9M158.8,442.4v-2.3M159.8,442.4v-2.8M170.8,442.4v-2.6M171.8,442.4v-2.1M178.8,442.4v-2.4M179.8,442.4v-2.6M206.8,442.4v-2.2M214.8,442.4v-2.4M37.8,447.0v-2.1M40.8,447.0v-2.8M42.8,447.0v-2.9M50.8,447.0v-2.3M51.8,447.0v-2.8M62.8,447.0v-2.6M63.8,447.0v-2.1M70.8,447.0v-2.4M71.8,447.0v-2.6M98.8,447.0v-2.2M106.8,447.0v-2.4M148.8,447.0v-2.1M149.8,447.0v-2.5M150.8,447.0v-3.1M163.8,447.0v-2.6M164.8,447.0v-3.9M165.8,447.0v-2.9M170.8,447.0v-3.1M171.8,447.0v-3.8M172.8,447.0v-2.2M179.8,447.0v-2.5M180.8,447.0v-2.7M181.8,447.0v-3.2M213.8,447.0v-2.5M40.8,451.5v-2.1M41.8,451.5v-2.5M42.8,451.5v-3.1M55.8,451.5v-2.6M56.8,451.5v-3.9M57.8,451.5v-2.9M62.8,451.5v-3.1M63.8,451.5v-3.8M64.8,451.5v-2.2M71.8,451.5v-2.5M72.8,451.5v-2.7M73.8,451.5v-3.2M105.8,451.5v-2.5M150.8,451.5v-2.3M154.8,451.5v-2.2M176.8,451.5v-2.5M177.8,451.5v-3.9M179.8,451.5v-3.1M42.8,456.1v-2.3M46.8,456.1v-2.2M68.8,456.1v-2.5M69.8,456.1v-3.9M71.8,456.1v-3.1M140.8,456.1v-3.1M141.8,456.1v-3.3M147.8,456.1v-2.1M157.8,456.1v-2.8M165.8,456.1v-2.7M166.8,456.1v-2.5M167.8,456.1v-2.7M168.8,456.1v-3.3M169.8,456.1v-2.5M170.8,456.1v-2.7M184.8,456.1v-3.8M185.8,456.1v-3.0M205.8,456.1v-2.7M206.8,456.1v-2.2M216.8,456.1v-2.2M32.8,460.7v-3.1M33.8,460.7v-3.3M39.8,460.7v-2.1M49.8,460.7v-2.8M57.8,460.7v-2.7M58.8,460.7v-2.5M59.8,460.7v-2.7M60.8,460.7v-3.3M61.8,460.7v-2.5M62.8,460.7v-2.7M76.8,460.7v-3.8M77.8,460.7v-3.0M97.8,460.7v-2.7M98.8,460.7v-2.2M108.8,460.7v-2.2M150.8,460.7v-2.7M156.8,460.7v-2.7M157.8,460.7v-2.5M158.8,460.7v-3.4M159.8,460.7v-3.2M172.8,460.7v-2.3M174.8,460.7v-3.4M176.8,460.7v-2.4M199.8,460.7v-2.3M200.8,460.7v-2.2M201.8,460.7v-3.1M202.8,460.7v-3.0M203.8,460.7v-2.5M204.8,460.7v-3.4M205.8,460.7v-2.8M42.8,465.3v-2.7M48.8,465.3v-2.7M49.8,465.3v-2.5M50.8,465.3v-3.4M51.8,465.3v-3.2M64.8,465.3v-2.3M66.8,465.3v-3.4M68.8,465.3v-2.4M91.8,465.3v-2.3M92.8,465.3v-2.2M93.8,465.3v-3.1M94.8,465.3v-3.0M95.8,465.3v-2.5M96.8,465.3v-3.4M97.8,465.3v-2.8M140.8,465.3v-2.4M142.8,465.3v-3.5M143.8,465.3v-2.7M145.8,465.3v-2.2M175.8,465.3v-3.8M197.8,465.3v-2.8M198.8,465.3v-2.3M199.8,465.3v-2.3M200.8,465.3v-2.6M201.8,465.3v-3.5M203.8,465.3v-2.4M215.8,465.3v-2.4M32.8,469.9v-2.4M34.8,469.9v-3.5M35.8,469.9v-2.7M37.8,469.9v-2.2M67.8,469.9v-3.8M89.8,469.9v-2.8M90.8,469.9v-2.3M91.8,469.9v-2.3M92.8,469.9v-2.6M93.8,469.9v-3.5M95.8,469.9v-2.4M107.8,469.9v-2.4M148.8,469.9v-2.6M149.8,469.9v-2.7M150.8,469.9v-3.1M151.8,469.9v-2.8M152.8,469.9v-2.1M158.8,469.9v-2.5M159.8,469.9v-2.9M165.8,469.9v-2.4M167.8,469.9v-2.9M168.8,469.9v-2.4M169.8,469.9v-2.9M170.8,469.9v-2.4M176.8,469.9v-2.2M177.8,469.9v-2.9M179.8,469.9v-2.5M180.8,469.9v-4.1M181.8,469.9v-3.4M182.8,469.9v-3.1M40.8,474.5v-2.6M41.8,474.5v-2.7M42.8,474.5v-3.1M43.8,474.5v-2.8M44.8,474.5v-2.1M50.8,474.5v-2.5M51.8,474.5v-2.9M57.8,474.5v-2.4M59.8,474.5v-2.9M60.8,474.5v-2.4M61.8,474.5v-2.9M62.8,474.5v-2.4M68.8,474.5v-2.2M69.8,474.5v-2.9M71.8,474.5v-2.5M72.8,474.5v-4.1M73.8,474.5v-3.4M74.8,474.5v-3.1M138.8,474.5v-2.3M139.8,474.5v-2.8M170.8,474.5v-2.3M188.8,474.5v-2.2M189.8,474.5v-2.3M205.8,474.5v-2.1M207.8,474.5v-3.1M30.8,479.1v-2.3M31.8,479.1v-2.8M62.8,479.1v-2.3M80.8,479.1v-2.2M81.8,479.1v-2.3M97.8,479.1v-2.1M99.8,479.1v-3.1M139.8,479.1v-2.6M149.8,479.1v-2.2M150.8,479.1v-3.0M151.8,479.1v-2.2M153.8,479.1v-3.1M154.8,479.1v-2.5M160.8,479.1v-2.5M161.8,479.1v-2.5M208.8,479.1v-3.0M209.8,479.1v-2.1M210.8,479.1v-3.9" stroke="#222" stroke-width="1" fill="none"/>
<rect x="25.3" y="273.6" width="216.3" height="8" fill="#fff"/>
<rect x="79.4" y="273.6" width="54.1" height="8" fill="#000"/>
<rect x="187.5" y="273.6" width="54.1" height="8" fill="#000"/>
<line x1="25.3" y1="281.6" x2="241.6" y2="281.6" stroke="#333" stroke-width="1.2"/>
<rect x="25.3" y="273.6" width="216.3" height="205.8" fill="none" stroke="#6a6a6a" stroke-width="0.9"/>
<line x1="21.9" y1="283.3" x2="25.3" y2="283.3" stroke="#000" stroke-width="1.8"/>
<text x="21.6" y="287" font-size="13" font-weight="bold" text-anchor="end">1</text>
<line x1="21.9" y1="324.6" x2="25.3" y2="324.6" stroke="#000" stroke-width="1.8"/>
<text x="21.6" y="328.3" font-size="13" font-weight="bold" text-anchor="end">10</text>
<line x1="21.9" y1="370.4" x2="25.3" y2="370.4" stroke="#000" stroke-width="1.8"/>
<text x="21.6" y="374.1" font-size="13" font-weight="bold" text-anchor="end">20</text>
<line x1="21.9" y1="416.3" x2="25.3" y2="416.3" stroke="#000" stroke-width="1.8"/>
<text x="21.6" y="420" font-size="13" font-weight="bold" text-anchor="end">30</text>
<line x1="21.9" y1="462.1" x2="25.3" y2="462.1" stroke="#000" stroke-width="1.8"/>
<text x="21.6" y="465.8" font-size="13" font-weight="bold" text-anchor="end">40</text>
<text x="27.2" y="490.8" font-size="12.2" font-weight="bold" text-anchor="middle">0</text>
<text x="80" y="490.8" font-size="12.2" font-weight="bold" text-anchor="middle">12</text>
<text x="134.6" y="490.8" font-size="12.2" font-weight="bold" text-anchor="middle">0</text>
<text x="186.9" y="490.8" font-size="12.2" font-weight="bold" text-anchor="middle">12</text>
<text x="238.7" y="490.8" font-size="12.2" font-weight="bold" text-anchor="middle">0</text>
<text x="133.2" y="503.7" font-size="13" font-weight="bold" text-anchor="middle">Time (h)</text>
<rect x="267.3" y="281.6" width="216.9" height="197.8" fill="#cbcbcb"/>
<path d="M267.3,286.5H484.2M267.3,291.1H484.2M267.3,295.7H484.2M267.3,300.2H484.2M267.3,304.8H484.2M267.3,309.4H484.2M267.3,314H484.2M267.3,318.6H484.2M267.3,323.2H484.2M267.3,327.8H484.2M267.3,332.3H484.2M267.3,336.9H484.2M267.3,341.5H484.2M267.3,346.1H484.2M267.3,350.7H484.2M267.3,355.3H484.2M267.3,359.8H484.2M267.3,364.4H484.2M267.3,369H484.2M267.3,373.6H484.2M267.3,378.2H484.2M267.3,382.8H484.2M267.3,387.4H484.2M267.3,391.9H484.2M267.3,396.5H484.2M267.3,401.1H484.2M267.3,405.7H484.2M267.3,410.3H484.2M267.3,414.9H484.2M267.3,419.4H484.2M267.3,424H484.2M267.3,428.6H484.2M267.3,433.2H484.2M267.3,437.8H484.2M267.3,442.4H484.2M267.3,447H484.2M267.3,451.5H484.2M267.3,456.1H484.2M267.3,460.7H484.2M267.3,465.3H484.2M267.3,469.9H484.2M267.3,474.5H484.2" stroke="#bababa" stroke-width="0.6" fill="none"/>
<rect x="267.3" y="281.6" width="54.2" height="14.1" fill="#fff"/>
<rect x="375.8" y="281.6" width="54.2" height="9.5" fill="#fff"/>
<path d="M267.3,286.5h54.2M267.3,291.1h54.2M267.3,295.7h54.2M375.8,286.5h54.2M375.8,291.1h54.2" stroke="#c8c8c8" stroke-width="0.6" stroke-dasharray="1 2" fill="none"/>
<path d="M319.8,286.5v-0.6M324.8,286.5v-0.9M330.8,286.5v-1.1M340.8,286.5v-1.2M343.8,286.5v-1.0M344.8,286.5v-1.2M351.8,286.5v-1.0M354.8,286.5v-1.0M427.8,286.5v-0.5M428.8,286.5v-0.4M458.8,286.5v-0.9M319.8,291.1v-0.5M320.8,291.1v-0.4M350.8,291.1v-0.9M427.8,291.1v-0.5M428.8,291.1v-0.6M435.8,291.1v-0.9M441.8,291.1v-0.8M445.8,291.1v-0.8M451.8,291.1v-0.8M453.8,291.1v-1.0M455.8,291.1v-0.9M456.8,291.1v-1.0M457.8,291.1v-0.9M458.8,291.1v-0.6M319.8,295.7v-0.5M320.8,295.7v-0.6M327.8,295.7v-0.9M333.8,295.7v-0.8M337.8,295.7v-0.8M343.8,295.7v-0.8M345.8,295.7v-1.0M347.8,295.7v-0.9M348.8,295.7v-1.0M349.8,295.7v-0.9M350.8,295.7v-0.6M430.8,295.7v-1.0M441.8,295.7v-1.1M446.8,295.7v-0.9M447.8,295.7v-0.6M448.8,295.7v-0.9M454.8,295.7v-0.5M456.8,295.7v-0.6M465.8,295.7v-0.9M467.8,295.7v-0.7M477.8,295.7v-0.6M322.8,300.2v-1.0M333.8,300.2v-1.1M338.8,300.2v-0.9M339.8,300.2v-0.6M340.8,300.2v-0.9M346.8,300.2v-0.5M348.8,300.2v-0.6M357.8,300.2v-0.9M359.8,300.2v-0.7M369.8,300.2v-0.6M391.8,300.2v-0.5M415.8,300.2v-0.5M423.8,300.2v-0.7M424.8,300.2v-1.1M425.8,300.2v-1.0M432.8,300.2v-1.0M433.8,300.2v-1.0M434.8,300.2v-0.6M435.8,300.2v-0.9M436.8,300.2v-1.0M442.8,300.2v-1.2M443.8,300.2v-0.9M444.8,300.2v-0.7M445.8,300.2v-0.8M283.8,304.8v-0.5M307.8,304.8v-0.5M315.8,304.8v-0.7M316.8,304.8v-1.1M317.8,304.8v-1.0M324.8,304.8v-1.0M325.8,304.8v-1.0M326.8,304.8v-0.6M327.8,304.8v-0.9M328.8,304.8v-1.0M334.8,304.8v-1.2M335.8,304.8v-0.9M336.8,304.8v-0.7M337.8,304.8v-0.8M433.8,304.8v-0.9M445.8,304.8v-0.6M454.8,304.8v-0.9M325.8,309.4v-0.9M337.8,309.4v-0.6M346.8,309.4v-0.9M379.8,309.4v-1.1M419.8,309.4v-1.2M425.8,309.4v-1.1M434.8,309.4v-0.8M435.8,309.4v-0.8M436.8,309.4v-0.8M439.8,309.4v-0.9M440.8,309.4v-1.1M441.8,309.4v-1.0M451.8,309.4v-1.1M482.8,309.4v-0.4M271.8,314.0v-1.1M311.8,314.0v-1.2M317.8,314.0v-1.1M326.8,314.0v-0.8M327.8,314.0v-0.8M328.8,314.0v-0.8M331.8,314.0v-0.9M332.8,314.0v-1.1M333.8,314.0v-1.0M343.8,314.0v-1.1M374.8,314.0v-0.4M415.8,314.0v-1.0M419.8,314.0v-1.1M439.8,314.0v-1.2M441.8,314.0v-1.2M443.8,314.0v-0.7M445.8,314.0v-0.8M449.8,314.0v-1.0M454.8,314.0v-0.6M455.8,314.0v-0.5M463.8,314.0v-1.1M465.8,314.0v-0.7M479.8,314.0v-0.8M307.8,318.6v-1.0M311.8,318.6v-1.1M331.8,318.6v-1.2M333.8,318.6v-1.2M335.8,318.6v-0.7M337.8,318.6v-0.8M341.8,318.6v-1.0M346.8,318.6v-0.6M347.8,318.6v-0.5M355.8,318.6v-1.1M357.8,318.6v-0.7M371.8,318.6v-0.8M422.8,318.6v-0.9M423.8,318.6v-1.1M424.8,318.6v-1.0M432.8,318.6v-0.9M433.8,318.6v-0.8M436.8,318.6v-0.4M440.8,318.6v-1.0M445.8,318.6v-0.8M466.8,318.6v-0.9M314.8,323.2v-0.9M315.8,323.2v-1.1M316.8,323.2v-1.0M324.8,323.2v-0.9M325.8,323.2v-0.8M328.8,323.2v-0.4M332.8,323.2v-1.0M337.8,323.2v-0.8M358.8,323.2v-0.9M406.8,323.2v-0.7M411.8,323.2v-1.0M412.8,323.2v-1.1M421.8,323.2v-0.8M422.8,323.2v-0.9M423.8,323.2v-1.0M424.8,323.2v-1.1M425.8,323.2v-1.1M427.8,323.2v-1.2M428.8,323.2v-0.6M437.8,323.2v-1.0M438.8,323.2v-1.2M446.8,323.2v-1.2M298.8,327.8v-0.7M303.8,327.8v-1.0M304.8,327.8v-1.1M313.8,327.8v-0.8M314.8,327.8v-0.9M315.8,327.8v-1.0M316.8,327.8v-1.1M317.8,327.8v-1.1M319.8,327.8v-1.2M320.8,327.8v-0.6M329.8,327.8v-1.0M330.8,327.8v-1.2M338.8,327.8v-1.2M418.8,327.8v-0.9M426.8,327.8v-0.7M475.8,327.8v-0.6M310.8,332.3v-0.9M318.8,332.3v-0.7M367.8,332.3v-0.6M407.8,332.3v-0.7M413.8,332.3v-1.1M416.8,332.3v-0.9M417.8,332.3v-0.7M442.8,332.3v-1.1M445.8,332.3v-0.9M447.8,332.3v-0.8M451.8,332.3v-0.9M453.8,332.3v-1.1M299.8,336.9v-0.7M305.8,336.9v-1.1M308.8,336.9v-0.9M309.8,336.9v-0.7M334.8,336.9v-1.1M337.8,336.9v-0.9M339.8,336.9v-0.8M343.8,336.9v-0.9M345.8,336.9v-1.1M402.8,336.9v-0.7M404.8,336.9v-0.9M420.8,336.9v-0.9M437.8,336.9v-1.2M442.8,336.9v-0.8M443.8,336.9v-1.1M447.8,336.9v-1.1M449.8,336.9v-1.0M451.8,336.9v-1.2M458.8,336.9v-0.8M463.8,336.9v-0.7M466.8,336.9v-0.6M294.8,341.5v-0.7M296.8,341.5v-0.9M312.8,341.5v-0.9M329.8,341.5v-1.2M334.8,341.5v-0.8M335.8,341.5v-1.1M339.8,341.5v-1.1M341.8,341.5v-1.0M343.8,341.5v-1.2M350.8,341.5v-0.8M355.8,341.5v-0.7M358.8,341.5v-0.6M398.8,341.5v-0.9M402.8,341.5v-0.9M403.8,341.5v-1.0M407.8,341.5v-1.1M408.8,341.5v-1.1M409.8,341.5v-1.0M410.8,341.5v-1.1M416.8,341.5v-0.8M417.8,341.5v-0.7M423.8,341.5v-0.6M424.8,341.5v-0.9M426.8,341.5v-1.0M433.8,341.5v-0.8M434.8,341.5v-0.9M290.8,346.1v-0.9M294.8,346.1v-0.9M295.8,346.1v-1.0M299.8,346.1v-1.1M300.8,346.1v-1.1M301.8,346.1v-1.0M302.8,346.1v-1.1M308.8,346.1v-0.8M309.8,346.1v-0.7M315.8,346.1v-0.6M316.8,346.1v-0.9M318.8,346.1v-1.0M325.8,346.1v-0.8M326.8,346.1v-0.9M381.8,346.1v-1.1M416.8,346.1v-0.9M417.8,346.1v-0.9M418.8,346.1v-1.1M423.8,346.1v-1.2M425.8,346.1v-1.1M426.8,346.1v-0.9M427.8,346.1v-0.8M429.8,346.1v-0.8M441.8,346.1v-0.8M442.8,346.1v-1.1M450.8,346.1v-0.9M273.8,350.7v-1.1M308.8,350.7v-0.9M309.8,350.7v-0.9M310.8,350.7v-1.1M315.8,350.7v-1.2M317.8,350.7v-1.1M318.8,350.7v-0.9M319.8,350.7v-0.8M321.8,350.7v-0.8M333.8,350.7v-0.8M334.8,350.7v-1.1M342.8,350.7v-0.9M387.8,350.7v-1.0M392.8,350.7v-0.8M397.8,350.7v-1.1M398.8,350.7v-0.6M400.8,350.7v-1.0M404.8,350.7v-1.0M405.8,350.7v-0.5M418.8,350.7v-0.7M438.8,350.7v-0.9M279.8,355.3v-1.0M284.8,355.3v-0.8M289.8,355.3v-1.1M290.8,355.3v-0.6M292.8,355.3v-1.0M296.8,355.3v-1.0M297.8,355.3v-0.5M310.8,355.3v-0.7M330.8,355.3v-0.9M386.8,355.3v-0.5M393.8,355.3v-0.8M394.8,355.3v-1.2M395.8,355.3v-0.9M403.8,355.3v-0.7M404.8,355.3v-0.7M411.8,355.3v-0.7M419.8,355.3v-0.8M420.8,355.3v-1.0M436.8,355.3v-1.2M437.8,355.3v-1.2M455.8,355.3v-1.2M472.8,355.3v-0.7M482.8,355.3v-0.9M278.8,359.8v-0.5M285.8,359.8v-0.8M286.8,359.8v-1.2M287.8,359.8v-0.9M295.8,359.8v-0.7M296.8,359.8v-0.7M303.8,359.8v-0.7M311.8,359.8v-0.8M312.8,359.8v-1.0M328.8,359.8v-1.2M329.8,359.8v-1.2M347.8,359.8v-1.2M364.8,359.8v-0.7M374.8,359.8v-0.9M388.8,359.8v-0.9M396.8,359.8v-0.6M397.8,359.8v-0.8M398.8,359.8v-0.9M401.8,359.8v-1.1M404.8,359.8v-1.2M405.8,359.8v-0.8M406.8,359.8v-0.7M414.8,359.8v-0.6M431.8,359.8v-0.9M432.8,359.8v-0.9M436.8,359.8v-0.9M437.8,359.8v-0.8M456.8,359.8v-0.5M280.8,364.4v-0.9M288.8,364.4v-0.6M289.8,364.4v-0.8M290.8,364.4v-0.9M293.8,364.4v-1.1M296.8,364.4v-1.2M297.8,364.4v-0.8M298.8,364.4v-0.7M306.8,364.4v-0.6M323.8,364.4v-0.9M324.8,364.4v-0.9M328.8,364.4v-0.9M329.8,364.4v-0.8M348.8,364.4v-0.5M390.8,364.4v-0.7M395.8,364.4v-1.0M396.8,364.4v-1.2M397.8,364.4v-1.2M398.8,364.4v-1.2M399.8,364.4v-0.7M406.8,364.4v-1.0M407.8,364.4v-1.0M408.8,364.4v-1.2M410.8,364.4v-1.0M411.8,364.4v-0.7M425.8,364.4v-0.8M430.8,364.4v-1.1M431.8,364.4v-0.7M434.8,364.4v-1.1M474.8,364.4v-1.2M282.8,369.0v-0.7M287.8,369.0v-1.0M288.8,369.0v-1.2M289.8,369.0v-1.2M290.8,369.0v-1.2M291.8,369.0v-0.7M298.8,369.0v-1.0M299.8,369.0v-1.0M300.8,369.0v-1.2M302.8,369.0v-1.0M303.8,369.0v-0.7M317.8,369.0v-0.8M322.8,369.0v-1.1M323.8,369.0v-0.7M326.8,369.0v-1.1M366.8,369.0v-1.2M397.8,369.0v-1.1M434.8,369.0v-0.8M435.8,369.0v-0.8M442.8,369.0v-0.8M443.8,369.0v-0.9M452.8,369.0v-0.8M289.8,373.6v-1.1M326.8,373.6v-0.8M327.8,373.6v-0.8M334.8,373.6v-0.8M335.8,373.6v-0.9M344.8,373.6v-0.8M383.8,373.6v-0.7M385.8,373.6v-1.1M389.8,373.6v-1.0M391.8,373.6v-1.1M392.8,373.6v-1.1M432.8,373.6v-1.0M434.8,373.6v-1.0M435.8,373.6v-0.8M436.8,373.6v-0.9M439.8,373.6v-1.1M440.8,373.6v-1.2M441.8,373.6v-0.8M442.8,373.6v-0.8M457.8,373.6v-1.1M275.8,378.2v-0.7M277.8,378.2v-1.1M281.8,378.2v-1.0M283.8,378.2v-1.1M284.8,378.2v-1.1M324.8,378.2v-1.0M326.8,378.2v-1.0M327.8,378.2v-0.8M328.8,378.2v-0.9M331.8,378.2v-1.1M332.8,378.2v-1.2M333.8,378.2v-0.8M334.8,378.2v-0.8M349.8,378.2v-1.1M377.8,378.2v-1.0M389.8,378.2v-1.0M397.8,378.2v-0.7M411.8,378.2v-0.8M421.8,378.2v-1.1M424.8,378.2v-0.7M428.8,378.2v-1.1M432.8,378.2v-0.7M434.8,378.2v-1.0M441.8,378.2v-1.1M443.8,378.2v-1.0M452.8,378.2v-0.5M269.8,382.8v-1.0M281.8,382.8v-1.0M289.8,382.8v-0.7M303.8,382.8v-0.8M313.8,382.8v-1.1M316.8,382.8v-0.7M320.8,382.8v-1.1M324.8,382.8v-0.7M326.8,382.8v-1.0M333.8,382.8v-1.1M335.8,382.8v-1.0M344.8,382.8v-0.5M375.8,382.8v-0.8M376.8,382.8v-1.0M385.8,382.8v-1.0M387.8,382.8v-1.1M394.8,382.8v-0.9M422.8,382.8v-1.0M433.8,382.8v-1.0M435.8,382.8v-1.1M439.8,382.8v-1.1M464.8,382.8v-0.4M481.8,382.8v-1.1M482.8,382.8v-1.1M267.8,387.4v-0.8M268.8,387.4v-1.0M277.8,387.4v-1.0M279.8,387.4v-1.1M286.8,387.4v-0.9M314.8,387.4v-1.0M325.8,387.4v-1.0M327.8,387.4v-1.1M331.8,387.4v-1.1M356.8,387.4v-0.4M373.8,387.4v-1.1M374.8,387.4v-1.1M377.8,387.4v-0.8M378.8,387.4v-1.0M380.8,387.4v-1.1M385.8,387.4v-1.0M386.8,387.4v-1.0M418.8,387.4v-1.0M437.8,387.4v-0.9M438.8,387.4v-0.5M439.8,387.4v-1.1M441.8,387.4v-1.1M445.8,387.4v-1.1M447.8,387.4v-1.0M269.8,391.9v-0.8M270.8,391.9v-1.0M272.8,391.9v-1.1M277.8,391.9v-1.0M278.8,391.9v-1.0M310.8,391.9v-1.0M329.8,391.9v-0.9M330.8,391.9v-0.5M331.8,391.9v-1.1M333.8,391.9v-1.1M337.8,391.9v-1.1M339.8,391.9v-1.0M394.8,391.9v-1.2M428.8,391.9v-0.8M438.8,391.9v-1.2M439.8,391.9v-0.9M440.8,391.9v-1.0M459.8,391.9v-0.6M466.8,391.9v-1.2M286.8,396.5v-1.2M320.8,396.5v-0.8M330.8,396.5v-1.2M331.8,396.5v-0.9M332.8,396.5v-1.0M351.8,396.5v-0.6M358.8,396.5v-1.2M376.8,396.5v-1.0M380.8,396.5v-1.2M381.8,396.5v-0.8M388.8,396.5v-1.1M389.8,396.5v-0.9M391.8,396.5v-1.1M452.8,396.5v-1.0M268.8,401.1v-1.0M272.8,401.1v-1.2M273.8,401.1v-0.8M280.8,401.1v-1.1M281.8,401.1v-0.9M283.8,401.1v-1.1M344.8,401.1v-1.0M376.8,401.1v-1.0M377.8,401.1v-1.1M379.8,401.1v-1.2M381.8,401.1v-1.0M386.8,401.1v-0.8M387.8,401.1v-1.0M388.8,401.1v-1.2M394.8,401.1v-1.1M395.8,401.1v-1.2M408.8,401.1v-1.1M409.8,401.1v-1.1M435.8,401.1v-0.7M436.8,401.1v-0.7M443.8,401.1v-1.0M444.8,401.1v-1.1M445.8,401.1v-1.1M446.8,401.1v-0.9M454.8,401.1v-1.1M268.8,405.7v-1.0M269.8,405.7v-1.1M271.8,405.7v-1.2M273.8,405.7v-1.0M278.8,405.7v-0.8M279.8,405.7v-1.0M280.8,405.7v-1.2M286.8,405.7v-1.1M287.8,405.7v-1.2M300.8,405.7v-1.1M301.8,405.7v-1.1M327.8,405.7v-0.7M328.8,405.7v-0.7M335.8,405.7v-1.0M336.8,405.7v-1.1M337.8,405.7v-1.1M338.8,405.7v-0.9M346.8,405.7v-1.1M384.8,405.7v-1.2M390.8,405.7v-0.7M399.8,405.7v-1.1M414.8,405.7v-1.0M426.8,405.7v-0.7M427.8,405.7v-1.2M428.8,405.7v-1.0M436.8,405.7v-0.8M437.8,405.7v-0.9M446.8,405.7v-1.0M276.8,410.3v-1.2M282.8,410.3v-0.7M291.8,410.3v-1.1M306.8,410.3v-1.0M318.8,410.3v-0.7M319.8,410.3v-1.2M320.8,410.3v-1.0M328.8,410.3v-0.8M329.8,410.3v-0.9M338.8,410.3v-1.0M383.8,410.3v-1.2M394.8,410.3v-1.0M395.8,410.3v-0.9M398.8,410.3v-0.9M399.8,410.3v-0.8M400.8,410.3v-1.2M404.8,410.3v-0.5M407.8,410.3v-1.2M411.8,410.3v-1.1M419.8,410.3v-0.8M422.8,410.3v-0.8M433.8,410.3v-0.9M435.8,410.3v-0.9M482.8,410.3v-1.1M275.8,414.9v-1.2M286.8,414.9v-1.0M287.8,414.9v-0.9M290.8,414.9v-0.9M291.8,414.9v-0.8M292.8,414.9v-1.2M296.8,414.9v-0.5M299.8,414.9v-1.2M303.8,414.9v-1.1M311.8,414.9v-0.8M314.8,414.9v-0.8M325.8,414.9v-0.9M327.8,414.9v-0.9M374.8,414.9v-1.1M379.8,414.9v-1.0M428.8,414.9v-1.2M431.8,414.9v-1.2M481.8,414.9v-0.9M271.8,419.4v-1.0M320.8,419.4v-1.2M323.8,419.4v-1.2M373.8,419.4v-0.9M381.8,419.4v-0.8M384.8,419.4v-0.9M385.8,419.4v-0.6M386.8,419.4v-0.7M387.8,419.4v-0.8M391.8,419.4v-1.0M392.8,419.4v-0.9M393.8,419.4v-0.8M409.8,419.4v-1.0M414.8,419.4v-0.7M438.8,419.4v-0.7M442.8,419.4v-1.2M273.8,424.0v-0.8M276.8,424.0v-0.9M277.8,424.0v-0.6M278.8,424.0v-0.7M279.8,424.0v-0.8M283.8,424.0v-1.0M284.8,424.0v-0.9M285.8,424.0v-0.8M301.8,424.0v-1.0M306.8,424.0v-0.7M330.8,424.0v-0.7M334.8,424.0v-1.2M378.8,424.0v-1.1M379.8,424.0v-0.9M389.8,424.0v-1.0M430.8,424.0v-1.0M438.8,424.0v-1.1M442.8,424.0v-1.0M481.8,424.0v-1.0M482.8,424.0v-1.1M270.8,428.6v-1.1M271.8,428.6v-0.9M281.8,428.6v-1.0M322.8,428.6v-1.0M330.8,428.6v-1.1M334.8,428.6v-1.0M373.8,428.6v-1.0M374.8,428.6v-1.1M389.8,428.6v-1.0M431.8,428.6v-1.1M281.8,433.2v-1.0M323.8,433.2v-1.1M376.8,433.2v-1.0M379.8,433.2v-1.1M399.8,433.2v-1.2M425.8,433.2v-0.8M268.8,437.8v-1.0M271.8,437.8v-1.1M291.8,437.8v-1.2M317.8,437.8v-0.8M388.8,437.8v-1.0M424.8,437.8v-1.2M430.8,437.8v-1.0M480.8,437.8v-0.9M280.8,442.4v-1.0M316.8,442.4v-1.2M322.8,442.4v-1.0M372.8,442.4v-0.9M377.8,442.4v-0.8M378.8,442.4v-0.8M379.8,442.4v-0.9M386.8,442.4v-1.0M387.8,442.4v-0.7M388.8,442.4v-0.8M391.8,442.4v-0.9M406.8,442.4v-1.2M424.8,442.4v-1.0M426.8,442.4v-0.8M433.8,442.4v-0.8M474.8,442.4v-1.0M480.8,442.4v-1.0M269.8,447.0v-0.8M270.8,447.0v-0.8M271.8,447.0v-0.9M278.8,447.0v-1.0M279.8,447.0v-0.7M280.8,447.0v-0.8M283.8,447.0v-0.9M298.8,447.0v-1.2M316.8,447.0v-1.0M318.8,447.0v-0.8M325.8,447.0v-0.8M366.8,447.0v-1.0M372.8,447.0v-1.0M385.8,447.0v-1.0M386.8,447.0v-0.9M394.8,447.0v-0.8M395.8,447.0v-0.8M423.8,447.0v-1.1M425.8,447.0v-1.2M477.8,447.0v-1.0M277.8,451.5v-1.0M278.8,451.5v-0.9M286.8,451.5v-0.8M287.8,451.5v-0.8M315.8,451.5v-1.1M317.8,451.5v-1.2M369.8,451.5v-1.0M380.8,451.5v-1.0M386.8,451.5v-1.0M406.8,451.5v-1.2M412.8,451.5v-0.7M414.8,451.5v-0.9M422.8,451.5v-1.1M425.8,451.5v-0.8M460.8,451.5v-0.9M474.8,451.5v-0.9M477.8,451.5v-0.7M479.8,451.5v-0.6M480.8,451.5v-1.0M272.8,456.1v-1.0M278.8,456.1v-1.0M298.8,456.1v-1.2M304.8,456.1v-0.7M306.8,456.1v-0.9M314.8,456.1v-1.1M317.8,456.1v-0.8M352.8,456.1v-0.9M366.8,456.1v-0.9M369.8,456.1v-0.7M371.8,456.1v-0.6M372.8,456.1v-1.0M376.8,456.1v-0.8M377.8,456.1v-0.7M386.8,456.1v-0.9M387.8,456.1v-0.8M388.8,456.1v-1.0M390.8,456.1v-1.1M393.8,456.1v-1.2M394.8,456.1v-0.9M395.8,456.1v-0.6M415.8,456.1v-1.0M416.8,456.1v-0.9M417.8,456.1v-1.2M422.8,456.1v-1.2M445.8,456.1v-0.6M478.8,456.1v-1.1M268.8,460.7v-0.8M269.8,460.7v-0.7M278.8,460.7v-0.9M279.8,460.7v-0.8M280.8,460.7v-1.0M282.8,460.7v-1.1M285.8,460.7v-1.2M286.8,460.7v-0.9M287.8,460.7v-0.6M307.8,460.7v-1.0M308.8,460.7v-0.9M309.8,460.7v-1.2M314.8,460.7v-1.2M337.8,460.7v-0.6M370.8,460.7v-1.1M377.8,460.7v-1.1M388.8,460.7v-1.0M413.8,460.7v-1.1M420.8,460.7v-1.1M430.8,460.7v-0.8M446.8,460.7v-1.1M269.8,465.3v-1.1M280.8,465.3v-1.0M305.8,465.3v-1.1M312.8,465.3v-1.1M322.8,465.3v-0.8M338.8,465.3v-1.1M378.8,465.3v-0.6M379.8,465.3v-0.9M380.8,465.3v-1.2M386.8,465.3v-0.7M387.8,465.3v-0.8M410.8,465.3v-0.9M417.8,465.3v-1.1M270.8,469.9v-0.6M271.8,469.9v-0.9M272.8,469.9v-1.2M278.8,469.9v-0.7M279.8,469.9v-0.8M302.8,469.9v-0.9M309.8,469.9v-1.1M375.8,469.9v-0.7M376.8,469.9v-1.0M378.8,469.9v-1.0M379.8,469.9v-0.9M380.8,469.9v-0.9M381.8,469.9v-0.8M382.8,469.9v-1.0M386.8,469.9v-1.1M387.8,469.9v-0.9M388.8,469.9v-1.1M389.8,469.9v-0.9M391.8,469.9v-1.2M411.8,469.9v-1.1M415.8,469.9v-0.6M421.8,469.9v-0.4M480.8,469.9v-0.8M481.8,469.9v-1.0M482.8,469.9v-0.9M267.8,474.5v-0.7M268.8,474.5v-1.0M270.8,474.5v-1.0M271.8,474.5v-0.9M272.8,474.5v-0.9M273.8,474.5v-0.8M274.8,474.5v-1.0M278.8,474.5v-1.1M279.8,474.5v-0.9M280.8,474.5v-1.1M281.8,474.5v-0.9M283.8,474.5v-1.2M303.8,474.5v-1.1M307.8,474.5v-0.6M313.8,474.5v-0.4M372.8,474.5v-0.8M373.8,474.5v-1.0M374.8,474.5v-0.9M379.8,474.5v-1.1M382.8,474.5v-1.1M383.8,474.5v-0.9M388.8,474.5v-1.0M389.8,474.5v-0.9M390.8,474.5v-0.9M424.8,474.5v-1.2M432.8,474.5v-1.0M271.8,479.1v-1.1M274.8,479.1v-1.1M275.8,479.1v-0.9M280.8,479.1v-1.0M281.8,479.1v-0.9M282.8,479.1v-0.9M316.8,479.1v-1.2M324.8,479.1v-1.0M376.8,479.1v-0.7M377.8,479.1v-1.0M385.8,479.1v-0.8M386.8,479.1v-1.0M415.8,479.1v-1.0" stroke="#8a8a8a" stroke-width="1" fill="none"/>
<path d="M321.8,286.5v-1.4M323.8,286.5v-1.2M325.8,286.5v-1.3M326.8,286.5v-1.6M328.8,286.5v-1.7M331.8,286.5v-1.7M332.8,286.5v-2.1M333.8,286.5v-1.6M334.8,286.5v-1.6M335.8,286.5v-2.1M337.8,286.5v-1.6M339.8,286.5v-1.5M345.8,286.5v-1.6M347.8,286.5v-1.6M348.8,286.5v-2.0M349.8,286.5v-1.7M350.8,286.5v-2.1M352.8,286.5v-1.4M353.8,286.5v-1.3M429.8,286.5v-1.9M430.8,286.5v-1.6M431.8,286.5v-2.1M437.8,286.5v-1.2M444.8,286.5v-1.8M447.8,286.5v-1.7M448.8,286.5v-1.3M449.8,286.5v-1.4M453.8,286.5v-1.7M455.8,286.5v-1.2M456.8,286.5v-1.6M459.8,286.5v-2.1M462.8,286.5v-1.5M463.8,286.5v-1.3M321.8,291.1v-1.9M322.8,291.1v-1.6M323.8,291.1v-2.1M329.8,291.1v-1.2M336.8,291.1v-1.8M339.8,291.1v-1.7M340.8,291.1v-1.3M341.8,291.1v-1.4M345.8,291.1v-1.7M347.8,291.1v-1.2M348.8,291.1v-1.6M351.8,291.1v-2.1M354.8,291.1v-1.5M355.8,291.1v-1.3M429.8,291.1v-1.5M430.8,291.1v-1.9M432.8,291.1v-1.6M433.8,291.1v-1.3M434.8,291.1v-1.2M436.8,291.1v-1.3M437.8,291.1v-2.0M439.8,291.1v-1.6M442.8,291.1v-1.8M443.8,291.1v-1.7M444.8,291.1v-2.0M452.8,291.1v-1.3M454.8,291.1v-1.3M321.8,295.7v-1.5M322.8,295.7v-1.9M324.8,295.7v-1.6M325.8,295.7v-1.3M326.8,295.7v-1.2M328.8,295.7v-1.3M329.8,295.7v-2.0M331.8,295.7v-1.6M334.8,295.7v-1.8M335.8,295.7v-1.7M336.8,295.7v-2.0M344.8,295.7v-1.3M346.8,295.7v-1.3M384.8,295.7v-1.5M391.8,295.7v-1.3M395.8,295.7v-1.5M433.8,295.7v-1.7M434.8,295.7v-2.0M440.8,295.7v-1.4M449.8,295.7v-1.3M450.8,295.7v-1.5M451.8,295.7v-1.4M457.8,295.7v-1.2M459.8,295.7v-1.5M460.8,295.7v-1.6M461.8,295.7v-1.3M463.8,295.7v-2.1M464.8,295.7v-1.2M466.8,295.7v-1.3M276.8,300.2v-1.5M283.8,300.2v-1.3M287.8,300.2v-1.5M325.8,300.2v-1.7M326.8,300.2v-2.0M332.8,300.2v-1.4M341.8,300.2v-1.3M342.8,300.2v-1.5M343.8,300.2v-1.4M349.8,300.2v-1.2M351.8,300.2v-1.5M352.8,300.2v-1.6M353.8,300.2v-1.3M355.8,300.2v-2.1M356.8,300.2v-1.2M358.8,300.2v-1.3M427.8,300.2v-1.3M428.8,300.2v-1.9M430.8,300.2v-1.9M431.8,300.2v-1.9M437.8,300.2v-1.2M439.8,300.2v-1.7M440.8,300.2v-1.9M441.8,300.2v-1.6M319.8,304.8v-1.3M320.8,304.8v-1.9M322.8,304.8v-1.9M323.8,304.8v-1.9M329.8,304.8v-1.2M331.8,304.8v-1.7M332.8,304.8v-1.9M333.8,304.8v-1.6M419.8,304.8v-1.6M423.8,304.8v-1.3M424.8,304.8v-1.5M425.8,304.8v-1.6M426.8,304.8v-2.0M429.8,304.8v-1.9M432.8,304.8v-1.4M435.8,304.8v-1.6M438.8,304.8v-2.1M446.8,304.8v-1.5M447.8,304.8v-1.3M449.8,304.8v-1.5M311.8,309.4v-1.6M315.8,309.4v-1.3M316.8,309.4v-1.5M317.8,309.4v-1.6M318.8,309.4v-2.0M321.8,309.4v-1.9M324.8,309.4v-1.4M327.8,309.4v-1.6M330.8,309.4v-2.1M338.8,309.4v-1.5M339.8,309.4v-1.3M341.8,309.4v-1.5M421.8,309.4v-2.1M422.8,309.4v-1.9M424.8,309.4v-2.0M437.8,309.4v-1.7M438.8,309.4v-1.7M444.8,309.4v-1.2M445.8,309.4v-1.8M446.8,309.4v-1.5M449.8,309.4v-1.5M450.8,309.4v-1.3M313.8,314.0v-2.1M314.8,314.0v-1.9M316.8,314.0v-2.0M329.8,314.0v-1.7M330.8,314.0v-1.7M336.8,314.0v-1.2M337.8,314.0v-1.8M338.8,314.0v-1.5M341.8,314.0v-1.5M342.8,314.0v-1.3M417.8,314.0v-1.6M420.8,314.0v-1.7M421.8,314.0v-1.4M425.8,314.0v-1.5M427.8,314.0v-1.9M428.8,314.0v-1.3M440.8,314.0v-1.3M442.8,314.0v-1.3M446.8,314.0v-1.7M447.8,314.0v-1.8M448.8,314.0v-1.4M456.8,314.0v-1.4M457.8,314.0v-1.5M458.8,314.0v-2.1M460.8,314.0v-1.7M461.8,314.0v-1.3M462.8,314.0v-1.3M464.8,314.0v-1.2M309.8,318.6v-1.6M312.8,318.6v-1.7M313.8,318.6v-1.4M317.8,318.6v-1.5M319.8,318.6v-1.9M320.8,318.6v-1.3M332.8,318.6v-1.3M334.8,318.6v-1.3M338.8,318.6v-1.7M339.8,318.6v-1.8M340.8,318.6v-1.4M348.8,318.6v-1.4M349.8,318.6v-1.5M350.8,318.6v-2.1M352.8,318.6v-1.7M353.8,318.6v-1.3M354.8,318.6v-1.3M356.8,318.6v-1.2M405.8,318.6v-1.2M416.8,318.6v-1.9M417.8,318.6v-1.9M418.8,318.6v-1.8M420.8,318.6v-2.0M421.8,318.6v-1.4M425.8,318.6v-1.7M427.8,318.6v-1.6M428.8,318.6v-1.6M429.8,318.6v-1.9M430.8,318.6v-1.8M431.8,318.6v-1.4M441.8,318.6v-1.5M442.8,318.6v-1.7M443.8,318.6v-1.7M444.8,318.6v-1.7M297.8,323.2v-1.2M308.8,323.2v-1.9M309.8,323.2v-1.9M310.8,323.2v-1.8M312.8,323.2v-2.0M313.8,323.2v-1.4M317.8,323.2v-1.7M319.8,323.2v-1.6M320.8,323.2v-1.6M321.8,323.2v-1.9M322.8,323.2v-1.8M323.8,323.2v-1.4M333.8,323.2v-1.5M334.8,323.2v-1.7M335.8,323.2v-1.7M336.8,323.2v-1.7M413.8,323.2v-1.5M415.8,323.2v-1.8M420.8,323.2v-1.3M426.8,323.2v-1.2M439.8,323.2v-1.8M440.8,323.2v-1.7M441.8,323.2v-2.1M444.8,323.2v-1.8M445.8,323.2v-1.3M449.8,323.2v-1.5M450.8,323.2v-1.8M453.8,323.2v-1.7M454.8,323.2v-1.3M305.8,327.8v-1.5M307.8,327.8v-1.8M312.8,327.8v-1.3M318.8,327.8v-1.2M331.8,327.8v-1.8M332.8,327.8v-1.7M333.8,327.8v-2.1M336.8,327.8v-1.8M337.8,327.8v-1.3M341.8,327.8v-1.5M342.8,327.8v-1.8M345.8,327.8v-1.7M346.8,327.8v-1.3M402.8,327.8v-1.4M419.8,327.8v-1.5M420.8,327.8v-1.8M421.8,327.8v-2.0M424.8,327.8v-1.8M425.8,327.8v-1.3M440.8,327.8v-1.9M441.8,327.8v-1.7M443.8,327.8v-1.9M448.8,327.8v-1.7M449.8,327.8v-1.6M482.8,327.8v-1.2M294.8,332.3v-1.4M311.8,332.3v-1.5M312.8,332.3v-1.8M313.8,332.3v-2.0M316.8,332.3v-1.8M317.8,332.3v-1.3M332.8,332.3v-1.9M333.8,332.3v-1.7M335.8,332.3v-1.9M340.8,332.3v-1.7M341.8,332.3v-1.6M374.8,332.3v-1.2M410.8,332.3v-1.5M411.8,332.3v-1.9M412.8,332.3v-2.0M415.8,332.3v-1.2M418.8,332.3v-1.3M420.8,332.3v-1.3M443.8,332.3v-1.4M444.8,332.3v-1.5M452.8,332.3v-1.6M458.8,332.3v-1.7M459.8,332.3v-1.6M460.8,332.3v-1.7M302.8,336.9v-1.5M303.8,336.9v-1.9M304.8,336.9v-2.0M307.8,336.9v-1.2M310.8,336.9v-1.3M312.8,336.9v-1.3M335.8,336.9v-1.4M336.8,336.9v-1.5M344.8,336.9v-1.6M350.8,336.9v-1.7M351.8,336.9v-1.6M352.8,336.9v-1.7M398.8,336.9v-1.5M405.8,336.9v-1.7M409.8,336.9v-1.9M412.8,336.9v-2.1M414.8,336.9v-1.6M441.8,336.9v-1.2M444.8,336.9v-1.3M445.8,336.9v-1.4M446.8,336.9v-2.0M448.8,336.9v-1.3M450.8,336.9v-1.3M452.8,336.9v-1.5M456.8,336.9v-1.4M457.8,336.9v-1.5M290.8,341.5v-1.5M297.8,341.5v-1.7M301.8,341.5v-1.9M304.8,341.5v-2.1M306.8,341.5v-1.6M333.8,341.5v-1.2M336.8,341.5v-1.3M337.8,341.5v-1.4M338.8,341.5v-2.0M340.8,341.5v-1.3M342.8,341.5v-1.3M344.8,341.5v-1.5M348.8,341.5v-1.4M349.8,341.5v-1.5M400.8,341.5v-1.5M404.8,341.5v-1.6M405.8,341.5v-1.9M411.8,341.5v-1.6M412.8,341.5v-1.2M413.8,341.5v-1.8M414.8,341.5v-1.2M415.8,341.5v-1.4M427.8,341.5v-1.4M428.8,341.5v-1.3M431.8,341.5v-1.4M439.8,341.5v-1.7M440.8,341.5v-1.8M442.8,341.5v-1.8M443.8,341.5v-2.0M447.8,341.5v-1.8M448.8,341.5v-1.8M449.8,341.5v-1.6M451.8,341.5v-1.5M292.8,346.1v-1.5M296.8,346.1v-1.6M297.8,346.1v-1.9M303.8,346.1v-1.6M304.8,346.1v-1.2M305.8,346.1v-1.8M306.8,346.1v-1.2M307.8,346.1v-1.4M319.8,346.1v-1.4M320.8,346.1v-1.3M323.8,346.1v-1.4M331.8,346.1v-1.7M332.8,346.1v-1.8M334.8,346.1v-1.8M335.8,346.1v-2.0M339.8,346.1v-1.8M340.8,346.1v-1.8M341.8,346.1v-1.6M343.8,346.1v-1.5M395.8,346.1v-1.4M396.8,346.1v-1.5M397.8,346.1v-1.4M398.8,346.1v-2.0M405.8,346.1v-1.3M419.8,346.1v-1.2M420.8,346.1v-1.4M421.8,346.1v-1.2M422.8,346.1v-1.9M424.8,346.1v-1.5M443.8,346.1v-2.0M445.8,346.1v-1.6M446.8,346.1v-1.8M447.8,346.1v-1.3M448.8,346.1v-2.0M449.8,346.1v-1.3M287.8,350.7v-1.4M288.8,350.7v-1.5M289.8,350.7v-1.4M290.8,350.7v-2.0M297.8,350.7v-1.3M311.8,350.7v-1.2M312.8,350.7v-1.4M313.8,350.7v-1.2M314.8,350.7v-1.9M316.8,350.7v-1.5M335.8,350.7v-2.0M337.8,350.7v-1.6M338.8,350.7v-1.8M339.8,350.7v-1.3M340.8,350.7v-2.0M341.8,350.7v-1.3M393.8,350.7v-1.8M395.8,350.7v-1.7M399.8,350.7v-1.3M401.8,350.7v-1.5M402.8,350.7v-2.1M403.8,350.7v-1.4M413.8,350.7v-1.3M414.8,350.7v-1.3M416.8,350.7v-1.5M417.8,350.7v-1.8M431.8,350.7v-1.6M432.8,350.7v-1.8M435.8,350.7v-1.6M437.8,350.7v-2.1M444.8,350.7v-1.6M446.8,350.7v-1.9M448.8,350.7v-1.7M285.8,355.3v-1.8M287.8,355.3v-1.7M291.8,355.3v-1.3M293.8,355.3v-1.5M294.8,355.3v-2.1M295.8,355.3v-1.4M305.8,355.3v-1.3M306.8,355.3v-1.3M308.8,355.3v-1.5M309.8,355.3v-1.8M323.8,355.3v-1.6M324.8,355.3v-1.8M327.8,355.3v-1.6M329.8,355.3v-2.1M336.8,355.3v-1.6M338.8,355.3v-1.9M340.8,355.3v-1.7M396.8,355.3v-1.5M397.8,355.3v-1.5M400.8,355.3v-1.4M401.8,355.3v-1.2M402.8,355.3v-1.5M413.8,355.3v-1.2M416.8,355.3v-1.4M417.8,355.3v-2.0M418.8,355.3v-1.5M427.8,355.3v-1.4M431.8,355.3v-1.2M438.8,355.3v-1.3M440.8,355.3v-1.9M442.8,355.3v-1.5M443.8,355.3v-1.5M444.8,355.3v-1.5M445.8,355.3v-1.3M446.8,355.3v-1.4M447.8,355.3v-2.0M449.8,355.3v-1.7M451.8,355.3v-1.7M452.8,355.3v-2.0M453.8,355.3v-1.6M454.8,355.3v-1.5M288.8,359.8v-1.5M289.8,359.8v-1.5M292.8,359.8v-1.4M293.8,359.8v-1.2M294.8,359.8v-1.5M305.8,359.8v-1.2M308.8,359.8v-1.4M309.8,359.8v-2.0M310.8,359.8v-1.5M319.8,359.8v-1.4M323.8,359.8v-1.2M330.8,359.8v-1.3M332.8,359.8v-1.9M334.8,359.8v-1.5M335.8,359.8v-1.5M336.8,359.8v-1.5M337.8,359.8v-1.3M338.8,359.8v-1.4M339.8,359.8v-2.0M341.8,359.8v-1.7M343.8,359.8v-1.7M344.8,359.8v-2.0M345.8,359.8v-1.6M346.8,359.8v-1.5M389.8,359.8v-1.8M390.8,359.8v-2.1M392.8,359.8v-1.4M394.8,359.8v-1.8M395.8,359.8v-1.2M400.8,359.8v-1.7M402.8,359.8v-1.8M403.8,359.8v-1.3M433.8,359.8v-1.7M434.8,359.8v-1.9M435.8,359.8v-1.3M443.8,359.8v-2.0M449.8,359.8v-1.7M457.8,359.8v-1.4M467.8,359.8v-1.3M281.8,364.4v-1.8M282.8,364.4v-2.1M284.8,364.4v-1.4M286.8,364.4v-1.8M287.8,364.4v-1.2M292.8,364.4v-1.7M294.8,364.4v-1.8M295.8,364.4v-1.3M325.8,364.4v-1.7M326.8,364.4v-1.9M327.8,364.4v-1.3M335.8,364.4v-2.0M341.8,364.4v-1.7M349.8,364.4v-1.4M359.8,364.4v-1.3M376.8,364.4v-1.6M387.8,364.4v-1.2M389.8,364.4v-1.6M393.8,364.4v-2.0M394.8,364.4v-2.1M409.8,364.4v-1.9M417.8,364.4v-1.3M426.8,364.4v-1.9M428.8,364.4v-1.7M429.8,364.4v-1.9M432.8,364.4v-1.6M437.8,364.4v-1.5M438.8,364.4v-2.0M441.8,364.4v-1.5M445.8,364.4v-1.4M446.8,364.4v-1.8M454.8,364.4v-1.8M455.8,364.4v-1.4M456.8,364.4v-1.6M268.8,369.0v-1.6M279.8,369.0v-1.2M281.8,369.0v-1.6M285.8,369.0v-2.0M286.8,369.0v-2.1M301.8,369.0v-1.9M309.8,369.0v-1.3M318.8,369.0v-1.9M320.8,369.0v-1.7M321.8,369.0v-1.9M324.8,369.0v-1.6M329.8,369.0v-1.5M330.8,369.0v-2.0M333.8,369.0v-1.5M337.8,369.0v-1.4M338.8,369.0v-1.8M346.8,369.0v-1.8M347.8,369.0v-1.4M348.8,369.0v-1.6M383.8,369.0v-1.8M386.8,369.0v-1.4M388.8,369.0v-1.5M389.8,369.0v-1.8M390.8,369.0v-1.6M398.8,369.0v-1.4M399.8,369.0v-1.4M400.8,369.0v-1.8M402.8,369.0v-1.6M406.8,369.0v-2.0M407.8,369.0v-1.6M408.8,369.0v-1.5M409.8,369.0v-1.4M427.8,369.0v-1.5M436.8,369.0v-1.3M438.8,369.0v-1.6M275.8,373.6v-1.8M278.8,373.6v-1.4M280.8,373.6v-1.5M281.8,373.6v-1.8M282.8,373.6v-1.6M290.8,373.6v-1.4M291.8,373.6v-1.4M292.8,373.6v-1.8M294.8,373.6v-1.6M298.8,373.6v-2.0M299.8,373.6v-1.6M300.8,373.6v-1.5M301.8,373.6v-1.4M319.8,373.6v-1.5M328.8,373.6v-1.3M330.8,373.6v-1.6M379.8,373.6v-1.2M382.8,373.6v-1.3M384.8,373.6v-1.5M386.8,373.6v-1.6M388.8,373.6v-1.6M390.8,373.6v-1.3M393.8,373.6v-1.6M394.8,373.6v-1.7M395.8,373.6v-2.0M396.8,373.6v-2.0M397.8,373.6v-1.2M409.8,373.6v-1.7M413.8,373.6v-1.7M414.8,373.6v-1.9M437.8,373.6v-1.6M468.8,373.6v-1.5M271.8,378.2v-1.2M274.8,378.2v-1.3M276.8,378.2v-1.5M278.8,378.2v-1.6M280.8,378.2v-1.6M282.8,378.2v-1.3M285.8,378.2v-1.6M286.8,378.2v-1.7M287.8,378.2v-2.0M288.8,378.2v-2.0M289.8,378.2v-1.2M301.8,378.2v-1.7M305.8,378.2v-1.7M306.8,378.2v-1.9M329.8,378.2v-1.6M360.8,378.2v-1.5M384.8,378.2v-2.0M387.8,378.2v-2.0M388.8,378.2v-1.3M391.8,378.2v-2.0M393.8,378.2v-1.8M394.8,378.2v-1.4M395.8,378.2v-2.0M396.8,378.2v-1.3M412.8,378.2v-1.6M413.8,378.2v-1.3M414.8,378.2v-1.6M416.8,378.2v-2.0M417.8,378.2v-1.6M418.8,378.2v-1.3M419.8,378.2v-1.8M420.8,378.2v-1.4M427.8,378.2v-1.5M429.8,378.2v-1.8M430.8,378.2v-1.3M431.8,378.2v-1.2M435.8,378.2v-1.5M436.8,378.2v-1.7M437.8,378.2v-1.9M438.8,378.2v-1.6M440.8,378.2v-2.0M442.8,378.2v-1.4M448.8,378.2v-1.6M276.8,382.8v-2.0M279.8,382.8v-2.0M280.8,382.8v-1.3M283.8,382.8v-2.0M285.8,382.8v-1.8M286.8,382.8v-1.4M287.8,382.8v-2.0M288.8,382.8v-1.3M304.8,382.8v-1.6M305.8,382.8v-1.3M306.8,382.8v-1.6M308.8,382.8v-2.0M309.8,382.8v-1.6M310.8,382.8v-1.3M311.8,382.8v-1.8M312.8,382.8v-1.4M319.8,382.8v-1.5M321.8,382.8v-1.8M322.8,382.8v-1.3M323.8,382.8v-1.2M327.8,382.8v-1.5M328.8,382.8v-1.7M329.8,382.8v-1.9M330.8,382.8v-1.6M332.8,382.8v-2.0M334.8,382.8v-1.4M340.8,382.8v-1.6M378.8,382.8v-1.6M382.8,382.8v-1.7M384.8,382.8v-1.7M388.8,382.8v-1.6M390.8,382.8v-1.7M391.8,382.8v-2.1M392.8,382.8v-1.7M393.8,382.8v-2.0M423.8,382.8v-1.9M424.8,382.8v-1.5M425.8,382.8v-1.6M426.8,382.8v-1.7M429.8,382.8v-2.0M430.8,382.8v-1.8M432.8,382.8v-1.2M437.8,382.8v-1.9M438.8,382.8v-1.8M270.8,387.4v-1.6M274.8,387.4v-1.7M276.8,387.4v-1.7M280.8,387.4v-1.6M282.8,387.4v-1.7M283.8,387.4v-2.1M284.8,387.4v-1.7M285.8,387.4v-2.0M315.8,387.4v-1.9M316.8,387.4v-1.5M317.8,387.4v-1.6M318.8,387.4v-1.7M321.8,387.4v-2.0M322.8,387.4v-1.8M324.8,387.4v-1.2M329.8,387.4v-1.9M330.8,387.4v-1.8M375.8,387.4v-1.6M376.8,387.4v-1.3M379.8,387.4v-1.5M384.8,387.4v-1.8M387.8,387.4v-1.6M388.8,387.4v-1.9M389.8,387.4v-1.6M390.8,387.4v-1.7M391.8,387.4v-1.2M411.8,387.4v-1.3M415.8,387.4v-1.7M416.8,387.4v-1.6M417.8,387.4v-1.6M429.8,387.4v-1.5M444.8,387.4v-1.4M446.8,387.4v-1.2M267.8,391.9v-1.6M268.8,391.9v-1.3M271.8,391.9v-1.5M276.8,391.9v-1.8M279.8,391.9v-1.6M280.8,391.9v-1.9M281.8,391.9v-1.6M282.8,391.9v-1.7M283.8,391.9v-1.2M303.8,391.9v-1.3M307.8,391.9v-1.7M308.8,391.9v-1.6M309.8,391.9v-1.6M321.8,391.9v-1.5M336.8,391.9v-1.4M338.8,391.9v-1.2M376.8,391.9v-1.2M384.8,391.9v-1.8M385.8,391.9v-1.6M387.8,391.9v-2.1M388.8,391.9v-2.0M389.8,391.9v-1.8M391.8,391.9v-1.9M392.8,391.9v-1.9M395.8,391.9v-1.4M406.8,391.9v-1.4M407.8,391.9v-1.7M408.8,391.9v-1.5M410.8,391.9v-1.4M411.8,391.9v-1.5M429.8,391.9v-1.2M430.8,391.9v-1.6M431.8,391.9v-2.0M434.8,391.9v-1.8M435.8,391.9v-2.0M436.8,391.9v-1.7M437.8,391.9v-1.6M441.8,391.9v-2.0M442.8,391.9v-1.4M443.8,391.9v-1.7M444.8,391.9v-1.6M268.8,396.5v-1.2M276.8,396.5v-1.8M277.8,396.5v-1.6M279.8,396.5v-2.1M280.8,396.5v-2.0M281.8,396.5v-1.8M283.8,396.5v-1.9M284.8,396.5v-1.9M287.8,396.5v-1.4M298.8,396.5v-1.4M299.8,396.5v-1.7M300.8,396.5v-1.5M302.8,396.5v-1.4M303.8,396.5v-1.5M321.8,396.5v-1.2M322.8,396.5v-1.6M323.8,396.5v-2.0M326.8,396.5v-1.8M327.8,396.5v-2.0M328.8,396.5v-1.7M329.8,396.5v-1.6M333.8,396.5v-2.0M334.8,396.5v-1.4M335.8,396.5v-1.7M336.8,396.5v-1.6M377.8,396.5v-1.4M378.8,396.5v-1.5M379.8,396.5v-1.7M382.8,396.5v-1.6M383.8,396.5v-2.1M390.8,396.5v-1.5M396.8,396.5v-1.3M398.8,396.5v-1.9M399.8,396.5v-1.9M403.8,396.5v-1.2M431.8,396.5v-1.6M432.8,396.5v-1.8M433.8,396.5v-1.2M435.8,396.5v-1.3M437.8,396.5v-1.9M438.8,396.5v-2.1M440.8,396.5v-1.3M481.8,396.5v-1.2M482.8,396.5v-1.2M269.8,401.1v-1.4M270.8,401.1v-1.5M271.8,401.1v-1.7M274.8,401.1v-1.6M275.8,401.1v-2.1M282.8,401.1v-1.5M288.8,401.1v-1.3M290.8,401.1v-1.9M291.8,401.1v-1.9M295.8,401.1v-1.2M323.8,401.1v-1.6M324.8,401.1v-1.8M325.8,401.1v-1.2M327.8,401.1v-1.3M329.8,401.1v-1.9M330.8,401.1v-2.1M332.8,401.1v-1.3M373.8,401.1v-1.2M374.8,401.1v-1.2M378.8,401.1v-1.9M380.8,401.1v-1.5M382.8,401.1v-2.1M385.8,401.1v-2.1M389.8,401.1v-1.6M390.8,401.1v-1.8M392.8,401.1v-1.9M393.8,401.1v-1.6M410.8,401.1v-2.0M411.8,401.1v-1.5M412.8,401.1v-1.3M413.8,401.1v-1.4M424.8,401.1v-1.7M425.8,401.1v-1.9M430.8,401.1v-1.2M431.8,401.1v-1.6M437.8,401.1v-1.4M438.8,401.1v-1.8M439.8,401.1v-1.3M440.8,401.1v-1.5M442.8,401.1v-1.5M467.8,401.1v-1.3M270.8,405.7v-1.9M272.8,405.7v-1.5M274.8,405.7v-2.1M277.8,405.7v-2.1M281.8,405.7v-1.6M282.8,405.7v-1.8M284.8,405.7v-1.9M285.8,405.7v-1.6M302.8,405.7v-2.0M303.8,405.7v-1.5M304.8,405.7v-1.3M305.8,405.7v-1.4M316.8,405.7v-1.7M317.8,405.7v-1.9M322.8,405.7v-1.2M323.8,405.7v-1.6M329.8,405.7v-1.4M330.8,405.7v-1.8M331.8,405.7v-1.3M332.8,405.7v-1.5M334.8,405.7v-1.5M359.8,405.7v-1.3M375.8,405.7v-1.4M378.8,405.7v-1.6M379.8,405.7v-2.1M382.8,405.7v-1.9M386.8,405.7v-2.0M387.8,405.7v-2.0M388.8,405.7v-1.2M389.8,405.7v-1.6M406.8,405.7v-1.4M418.8,405.7v-1.4M419.8,405.7v-1.6M429.8,405.7v-1.2M430.8,405.7v-1.5M433.8,405.7v-1.6M434.8,405.7v-1.4M435.8,405.7v-1.4M481.8,405.7v-1.7M267.8,410.3v-1.4M270.8,410.3v-1.6M271.8,410.3v-2.1M274.8,410.3v-1.9M278.8,410.3v-2.0M279.8,410.3v-2.0M280.8,410.3v-1.2M281.8,410.3v-1.6M298.8,410.3v-1.4M310.8,410.3v-1.4M311.8,410.3v-1.6M321.8,410.3v-1.2M322.8,410.3v-1.5M325.8,410.3v-1.6M326.8,410.3v-1.4M327.8,410.3v-1.4M373.8,410.3v-1.7M375.8,410.3v-1.8M376.8,410.3v-1.5M377.8,410.3v-1.7M378.8,410.3v-1.7M379.8,410.3v-1.9M381.8,410.3v-2.0M382.8,410.3v-1.5M384.8,410.3v-1.3M386.8,410.3v-1.7M390.8,410.3v-1.5M393.8,410.3v-1.8M396.8,410.3v-1.8M405.8,410.3v-1.3M406.8,410.3v-1.4M409.8,410.3v-2.1M410.8,410.3v-1.8M426.8,410.3v-1.3M427.8,410.3v-1.2M429.8,410.3v-1.7M430.8,410.3v-1.6M431.8,410.3v-1.7M434.8,410.3v-1.8M436.8,410.3v-1.8M438.8,410.3v-1.7M439.8,410.3v-1.8M447.8,410.3v-1.4M481.8,410.3v-1.2M267.8,414.9v-1.8M268.8,414.9v-1.5M269.8,414.9v-1.7M270.8,414.9v-1.7M271.8,414.9v-1.9M273.8,414.9v-2.0M274.8,414.9v-1.5M276.8,414.9v-1.3M278.8,414.9v-1.7M282.8,414.9v-1.5M285.8,414.9v-1.8M288.8,414.9v-1.8M297.8,414.9v-1.3M298.8,414.9v-1.4M301.8,414.9v-2.1M302.8,414.9v-1.8M318.8,414.9v-1.3M319.8,414.9v-1.2M321.8,414.9v-1.7M322.8,414.9v-1.6M323.8,414.9v-1.7M326.8,414.9v-1.8M328.8,414.9v-1.8M330.8,414.9v-1.7M331.8,414.9v-1.8M339.8,414.9v-1.4M373.8,414.9v-1.2M375.8,414.9v-1.7M377.8,414.9v-2.1M378.8,414.9v-1.4M380.8,414.9v-1.7M381.8,414.9v-1.7M382.8,414.9v-1.9M385.8,414.9v-1.7M386.8,414.9v-1.8M387.8,414.9v-1.8M388.8,414.9v-1.2M391.8,414.9v-1.8M393.8,414.9v-1.4M421.8,414.9v-1.6M422.8,414.9v-1.5M427.8,414.9v-1.6M432.8,414.9v-1.4M433.8,414.9v-1.4M434.8,414.9v-1.7M437.8,414.9v-2.1M438.8,414.9v-1.8M267.8,419.4v-1.7M269.8,419.4v-2.1M270.8,419.4v-1.4M272.8,419.4v-1.7M273.8,419.4v-1.7M274.8,419.4v-1.9M277.8,419.4v-1.7M278.8,419.4v-1.8M279.8,419.4v-1.8M280.8,419.4v-1.2M283.8,419.4v-1.8M285.8,419.4v-1.4M313.8,419.4v-1.6M314.8,419.4v-1.5M319.8,419.4v-1.6M324.8,419.4v-1.4M325.8,419.4v-1.4M326.8,419.4v-1.7M329.8,419.4v-2.1M330.8,419.4v-1.8M377.8,419.4v-2.0M378.8,419.4v-1.3M379.8,419.4v-1.5M382.8,419.4v-1.2M388.8,419.4v-1.5M389.8,419.4v-1.3M390.8,419.4v-1.4M398.8,419.4v-1.7M399.8,419.4v-1.3M400.8,419.4v-1.4M406.8,419.4v-1.7M407.8,419.4v-1.8M408.8,419.4v-2.1M420.8,419.4v-1.5M421.8,419.4v-1.3M424.8,419.4v-1.5M425.8,419.4v-1.8M432.8,419.4v-1.3M433.8,419.4v-1.8M436.8,419.4v-2.0M443.8,419.4v-1.2M482.8,419.4v-1.3M269.8,424.0v-2.0M270.8,424.0v-1.3M271.8,424.0v-1.5M274.8,424.0v-1.2M280.8,424.0v-1.5M281.8,424.0v-1.3M282.8,424.0v-1.4M290.8,424.0v-1.7M291.8,424.0v-1.3M292.8,424.0v-1.4M298.8,424.0v-1.7M299.8,424.0v-1.8M300.8,424.0v-2.1M312.8,424.0v-1.5M313.8,424.0v-1.3M316.8,424.0v-1.5M317.8,424.0v-1.8M324.8,424.0v-1.3M325.8,424.0v-1.8M328.8,424.0v-2.0M335.8,424.0v-1.2M374.8,424.0v-1.3M381.8,424.0v-1.3M382.8,424.0v-1.5M383.8,424.0v-2.0M385.8,424.0v-1.9M386.8,424.0v-1.4M388.8,424.0v-1.3M390.8,424.0v-1.9M391.8,424.0v-1.3M392.8,424.0v-1.4M431.8,424.0v-1.7M436.8,424.0v-1.9M437.8,424.0v-1.6M273.8,428.6v-1.3M274.8,428.6v-1.5M275.8,428.6v-2.0M277.8,428.6v-1.9M278.8,428.6v-1.4M280.8,428.6v-1.3M282.8,428.6v-1.9M283.8,428.6v-1.3M284.8,428.6v-1.4M323.8,428.6v-1.7M328.8,428.6v-1.9M329.8,428.6v-1.6M375.8,428.6v-1.6M379.8,428.6v-1.8M386.8,428.6v-1.2M388.8,428.6v-1.3M391.8,428.6v-1.7M392.8,428.6v-1.5M393.8,428.6v-1.8M395.8,428.6v-1.9M399.8,428.6v-1.9M400.8,428.6v-1.6M401.8,428.6v-1.5M402.8,428.6v-1.3M434.8,428.6v-1.5M481.8,428.6v-1.5M267.8,433.2v-1.6M271.8,433.2v-1.8M278.8,433.2v-1.2M280.8,433.2v-1.3M283.8,433.2v-1.7M284.8,433.2v-1.5M285.8,433.2v-1.8M287.8,433.2v-1.9M291.8,433.2v-1.9M292.8,433.2v-1.6M293.8,433.2v-1.5M294.8,433.2v-1.3M326.8,433.2v-1.5M373.8,433.2v-1.5M375.8,433.2v-1.8M377.8,433.2v-1.6M378.8,433.2v-1.6M380.8,433.2v-1.7M381.8,433.2v-1.9M384.8,433.2v-2.0M385.8,433.2v-1.6M386.8,433.2v-1.8M391.8,433.2v-1.7M392.8,433.2v-1.5M400.8,433.2v-1.2M406.8,433.2v-1.4M420.8,433.2v-1.7M423.8,433.2v-1.3M427.8,433.2v-1.3M429.8,433.2v-1.3M431.8,433.2v-1.9M433.8,433.2v-1.7M434.8,433.2v-1.7M480.8,433.2v-1.2M481.8,433.2v-1.3M267.8,437.8v-1.8M269.8,437.8v-1.6M270.8,437.8v-1.6M272.8,437.8v-1.7M273.8,437.8v-1.9M276.8,437.8v-2.0M277.8,437.8v-1.6M278.8,437.8v-1.8M283.8,437.8v-1.7M284.8,437.8v-1.5M292.8,437.8v-1.2M298.8,437.8v-1.4M312.8,437.8v-1.7M315.8,437.8v-1.3M319.8,437.8v-1.3M321.8,437.8v-1.3M323.8,437.8v-1.9M325.8,437.8v-1.7M326.8,437.8v-1.7M372.8,437.8v-1.2M373.8,437.8v-1.3M376.8,437.8v-1.9M378.8,437.8v-1.8M379.8,437.8v-1.7M380.8,437.8v-1.6M381.8,437.8v-1.4M382.8,437.8v-1.7M386.8,437.8v-2.1M387.8,437.8v-1.9M389.8,437.8v-1.7M390.8,437.8v-1.3M391.8,437.8v-1.7M396.8,437.8v-2.1M398.8,437.8v-1.4M399.8,437.8v-1.2M410.8,437.8v-1.9M413.8,437.8v-1.3M428.8,437.8v-1.9M429.8,437.8v-1.4M431.8,437.8v-1.3M433.8,437.8v-1.3M434.8,437.8v-1.6M437.8,437.8v-2.1M438.8,437.8v-1.6M439.8,437.8v-2.1M440.8,437.8v-1.4M441.8,437.8v-1.2M481.8,437.8v-1.9M268.8,442.4v-1.9M270.8,442.4v-1.8M271.8,442.4v-1.7M272.8,442.4v-1.6M273.8,442.4v-1.4M274.8,442.4v-1.7M278.8,442.4v-2.1M279.8,442.4v-1.9M281.8,442.4v-1.7M282.8,442.4v-1.3M283.8,442.4v-1.7M288.8,442.4v-2.1M290.8,442.4v-1.4M291.8,442.4v-1.2M302.8,442.4v-1.9M305.8,442.4v-1.3M320.8,442.4v-1.9M321.8,442.4v-1.4M323.8,442.4v-1.3M325.8,442.4v-1.3M326.8,442.4v-1.6M329.8,442.4v-2.1M330.8,442.4v-1.6M331.8,442.4v-2.1M332.8,442.4v-1.4M333.8,442.4v-1.2M373.8,442.4v-1.9M376.8,442.4v-2.0M380.8,442.4v-1.4M381.8,442.4v-1.6M382.8,442.4v-2.1M383.8,442.4v-1.8M384.8,442.4v-1.5M385.8,442.4v-1.6M392.8,442.4v-1.2M393.8,442.4v-2.0M399.8,442.4v-1.3M400.8,442.4v-1.5M401.8,442.4v-1.3M416.8,442.4v-1.3M418.8,442.4v-1.8M419.8,442.4v-2.1M423.8,442.4v-1.7M425.8,442.4v-1.3M427.8,442.4v-1.8M431.8,442.4v-1.5M432.8,442.4v-1.3M482.8,442.4v-1.4M268.8,447.0v-2.0M272.8,447.0v-1.4M273.8,447.0v-1.6M274.8,447.0v-2.1M275.8,447.0v-1.8M276.8,447.0v-1.5M277.8,447.0v-1.6M284.8,447.0v-1.2M285.8,447.0v-2.0M291.8,447.0v-1.3M292.8,447.0v-1.5M293.8,447.0v-1.3M308.8,447.0v-1.3M310.8,447.0v-1.8M311.8,447.0v-2.1M315.8,447.0v-1.7M317.8,447.0v-1.3M319.8,447.0v-1.8M323.8,447.0v-1.5M324.8,447.0v-1.3M374.8,447.0v-1.4M375.8,447.0v-1.3M376.8,447.0v-1.3M377.8,447.0v-1.9M378.8,447.0v-1.9M380.8,447.0v-2.0M381.8,447.0v-1.8M382.8,447.0v-2.0M383.8,447.0v-1.8M384.8,447.0v-1.3M388.8,447.0v-2.0M392.8,447.0v-1.7M393.8,447.0v-1.2M424.8,447.0v-1.8M427.8,447.0v-1.3M428.8,447.0v-1.7M432.8,447.0v-2.0M436.8,447.0v-1.3M479.8,447.0v-2.1M480.8,447.0v-1.5M267.8,451.5v-1.3M268.8,451.5v-1.3M269.8,451.5v-1.9M270.8,451.5v-1.9M272.8,451.5v-2.0M273.8,451.5v-1.8M274.8,451.5v-2.0M275.8,451.5v-1.8M276.8,451.5v-1.3M280.8,451.5v-2.0M284.8,451.5v-1.7M285.8,451.5v-1.2M316.8,451.5v-1.8M319.8,451.5v-1.3M320.8,451.5v-1.7M324.8,451.5v-2.0M328.8,451.5v-1.3M371.8,451.5v-2.1M372.8,451.5v-1.5M376.8,451.5v-1.3M377.8,451.5v-1.7M378.8,451.5v-1.8M379.8,451.5v-1.4M381.8,451.5v-1.8M384.8,451.5v-1.9M385.8,451.5v-1.7M407.8,451.5v-1.5M408.8,451.5v-2.1M415.8,451.5v-1.2M416.8,451.5v-1.3M418.8,451.5v-1.7M420.8,451.5v-1.6M421.8,451.5v-1.8M423.8,451.5v-1.3M424.8,451.5v-1.4M435.8,451.5v-1.5M450.8,451.5v-1.2M471.8,451.5v-1.4M481.8,451.5v-1.6M482.8,451.5v-1.8M268.8,456.1v-1.3M269.8,456.1v-1.7M270.8,456.1v-1.8M271.8,456.1v-1.4M273.8,456.1v-1.8M276.8,456.1v-1.9M277.8,456.1v-1.7M299.8,456.1v-1.5M300.8,456.1v-2.1M307.8,456.1v-1.2M308.8,456.1v-1.3M310.8,456.1v-1.7M312.8,456.1v-1.6M313.8,456.1v-1.8M315.8,456.1v-1.3M316.8,456.1v-1.4M327.8,456.1v-1.5M342.8,456.1v-1.2M363.8,456.1v-1.4M373.8,456.1v-1.6M374.8,456.1v-1.8M375.8,456.1v-1.3M378.8,456.1v-1.3M380.8,456.1v-1.5M383.8,456.1v-1.5M384.8,456.1v-2.0M385.8,456.1v-1.7M389.8,456.1v-1.3M396.8,456.1v-1.6M421.8,456.1v-1.2M424.8,456.1v-1.5M427.8,456.1v-1.5M472.8,456.1v-1.5M479.8,456.1v-1.7M482.8,456.1v-1.8M267.8,460.7v-1.3M270.8,460.7v-1.3M272.8,460.7v-1.5M275.8,460.7v-1.5M276.8,460.7v-2.0M277.8,460.7v-1.7M281.8,460.7v-1.3M288.8,460.7v-1.6M313.8,460.7v-1.2M316.8,460.7v-1.5M319.8,460.7v-1.5M364.8,460.7v-1.5M371.8,460.7v-1.7M374.8,460.7v-1.8M375.8,460.7v-1.9M376.8,460.7v-1.4M378.8,460.7v-2.0M379.8,460.7v-1.7M384.8,460.7v-1.9M385.8,460.7v-2.0M390.8,460.7v-1.7M393.8,460.7v-1.8M421.8,460.7v-1.2M422.8,460.7v-1.6M428.8,460.7v-2.1M429.8,460.7v-1.9M481.8,460.7v-1.8M482.8,460.7v-1.5M267.8,465.3v-1.9M268.8,465.3v-1.4M270.8,465.3v-2.0M271.8,465.3v-1.7M276.8,465.3v-1.9M277.8,465.3v-2.0M282.8,465.3v-1.7M285.8,465.3v-1.8M313.8,465.3v-1.2M314.8,465.3v-1.6M320.8,465.3v-2.1M321.8,465.3v-1.9M373.8,465.3v-1.8M374.8,465.3v-1.5M375.8,465.3v-1.7M376.8,465.3v-1.6M381.8,465.3v-1.2M382.8,465.3v-1.2M383.8,465.3v-1.2M384.8,465.3v-1.5M385.8,465.3v-1.5M401.8,465.3v-1.4M411.8,465.3v-1.8M412.8,465.3v-1.6M414.8,465.3v-1.7M416.8,465.3v-1.8M418.8,465.3v-1.3M419.8,465.3v-1.6M420.8,465.3v-1.3M427.8,465.3v-1.9M428.8,465.3v-1.2M482.8,465.3v-1.4M267.8,469.9v-1.7M268.8,469.9v-1.6M273.8,469.9v-1.2M274.8,469.9v-1.2M275.8,469.9v-1.2M276.8,469.9v-1.5M277.8,469.9v-1.5M293.8,469.9v-1.4M303.8,469.9v-1.8M304.8,469.9v-1.6M306.8,469.9v-1.7M308.8,469.9v-1.8M310.8,469.9v-1.3M311.8,469.9v-1.6M312.8,469.9v-1.3M319.8,469.9v-1.9M320.8,469.9v-1.2M374.8,469.9v-1.4M383.8,469.9v-1.6M384.8,469.9v-1.4M385.8,469.9v-1.9M392.8,469.9v-2.0M398.8,469.9v-2.0M399.8,469.9v-1.8M400.8,469.9v-1.3M403.8,469.9v-1.3M405.8,469.9v-1.9M406.8,469.9v-1.7M423.8,469.9v-1.2M425.8,469.9v-2.0M431.8,469.9v-2.0M432.8,469.9v-1.8M275.8,474.5v-1.6M276.8,474.5v-1.4M277.8,474.5v-1.9M284.8,474.5v-2.0M290.8,474.5v-2.0M291.8,474.5v-1.8M292.8,474.5v-1.3M295.8,474.5v-1.3M297.8,474.5v-1.9M298.8,474.5v-1.7M315.8,474.5v-1.2M317.8,474.5v-2.0M323.8,474.5v-2.0M324.8,474.5v-1.8M375.8,474.5v-2.1M376.8,474.5v-2.0M377.8,474.5v-2.0M378.8,474.5v-1.4M381.8,474.5v-1.3M384.8,474.5v-1.2M385.8,474.5v-1.3M386.8,474.5v-2.0M387.8,474.5v-1.9M391.8,474.5v-1.9M392.8,474.5v-1.5M394.8,474.5v-2.0M396.8,474.5v-1.7M397.8,474.5v-1.5M398.8,474.5v-1.7M399.8,474.5v-1.6M418.8,474.5v-1.5M419.8,474.5v-1.5M423.8,474.5v-1.7M480.8,474.5v-1.6M267.8,479.1v-2.1M268.8,479.1v-2.0M269.8,479.1v-2.0M270.8,479.1v-1.4M273.8,479.1v-1.3M276.8,479.1v-1.2M277.8,479.1v-1.3M278.8,479.1v-2.0M279.8,479.1v-1.9M283.8,479.1v-1.9M284.8,479.1v-1.5M286.8,479.1v-2.0M288.8,479.1v-1.7M289.8,479.1v-1.5M290.8,479.1v-1.7M291.8,479.1v-1.6M310.8,479.1v-1.5M311.8,479.1v-1.5M315.8,479.1v-1.7M372.8,479.1v-1.6M375.8,479.1v-1.3M378.8,479.1v-1.7M379.8,479.1v-1.9M380.8,479.1v-2.0M382.8,479.1v-1.7M383.8,479.1v-1.7M384.8,479.1v-1.8M412.8,479.1v-1.3M413.8,479.1v-1.7M419.8,479.1v-1.3M420.8,479.1v-1.8M425.8,479.1v-1.6M478.8,479.1v-1.5M479.8,479.1v-1.6" stroke="#555" stroke-width="1" fill="none"/>
<path d="M322.8,286.5v-2.3M327.8,286.5v-2.2M336.8,286.5v-2.3M338.8,286.5v-2.3M432.8,286.5v-2.2M433.8,286.5v-2.3M434.8,286.5v-2.5M435.8,286.5v-2.2M445.8,286.5v-3.3M446.8,286.5v-2.7M450.8,286.5v-2.5M452.8,286.5v-3.8M454.8,286.5v-2.2M460.8,286.5v-2.3M461.8,286.5v-2.8M324.8,291.1v-2.2M325.8,291.1v-2.3M326.8,291.1v-2.5M327.8,291.1v-2.2M337.8,291.1v-3.3M338.8,291.1v-2.7M342.8,291.1v-2.5M344.8,291.1v-3.8M346.8,291.1v-2.2M352.8,291.1v-2.3M353.8,291.1v-2.8M438.8,291.1v-2.1M330.8,295.7v-2.1M432.8,295.7v-2.1M435.8,295.7v-3.1M436.8,295.7v-3.1M437.8,295.7v-3.2M462.8,295.7v-2.6M324.8,300.2v-2.1M327.8,300.2v-3.1M328.8,300.2v-3.1M329.8,300.2v-3.2M354.8,300.2v-2.6M429.8,300.2v-2.6M321.8,304.8v-2.6M427.8,304.8v-3.1M428.8,304.8v-3.4M430.8,304.8v-2.8M431.8,304.8v-2.2M437.8,304.8v-3.1M451.8,304.8v-2.3M319.8,309.4v-3.1M320.8,309.4v-3.4M322.8,309.4v-2.8M323.8,309.4v-2.2M329.8,309.4v-3.1M343.8,309.4v-2.3M447.8,309.4v-2.1M448.8,309.4v-2.9M339.8,314.0v-2.1M340.8,314.0v-2.9M416.8,314.0v-2.9M422.8,314.0v-2.1M423.8,314.0v-2.6M424.8,314.0v-2.6M426.8,314.0v-2.3M459.8,314.0v-2.2M308.8,318.6v-2.9M314.8,318.6v-2.1M315.8,318.6v-2.6M316.8,318.6v-2.6M318.8,318.6v-2.3M351.8,318.6v-2.2M419.8,318.6v-2.1M426.8,318.6v-2.1M311.8,323.2v-2.1M318.8,323.2v-2.1M414.8,323.2v-2.1M416.8,323.2v-3.0M417.8,323.2v-2.7M418.8,323.2v-2.2M442.8,323.2v-2.5M443.8,323.2v-2.4M451.8,323.2v-3.6M452.8,323.2v-2.2M306.8,327.8v-2.1M308.8,327.8v-3.0M309.8,327.8v-2.7M310.8,327.8v-2.2M334.8,327.8v-2.5M335.8,327.8v-2.4M343.8,327.8v-3.6M344.8,327.8v-2.2M444.8,327.8v-2.7M445.8,327.8v-3.4M446.8,327.8v-3.1M447.8,327.8v-2.6M336.8,332.3v-2.7M337.8,332.3v-3.4M338.8,332.3v-3.1M339.8,332.3v-2.6M419.8,332.3v-2.3M454.8,332.3v-2.2M455.8,332.3v-2.2M457.8,332.3v-2.6M311.8,336.9v-2.3M346.8,336.9v-2.2M347.8,336.9v-2.2M349.8,336.9v-2.6M406.8,336.9v-2.2M408.8,336.9v-2.6M413.8,336.9v-2.8M438.8,336.9v-2.5M439.8,336.9v-3.9M440.8,336.9v-2.9M453.8,336.9v-2.1M454.8,336.9v-2.6M298.8,341.5v-2.2M300.8,341.5v-2.6M305.8,341.5v-2.8M330.8,341.5v-2.5M331.8,341.5v-3.9M332.8,341.5v-2.9M345.8,341.5v-2.1M346.8,341.5v-2.6M399.8,341.5v-2.3M406.8,341.5v-2.1M441.8,341.5v-2.4M444.8,341.5v-3.8M445.8,341.5v-3.3M446.8,341.5v-3.3M291.8,346.1v-2.3M298.8,346.1v-2.1M333.8,346.1v-2.4M336.8,346.1v-3.8M337.8,346.1v-3.3M338.8,346.1v-3.3M400.8,346.1v-3.1M401.8,346.1v-2.8M403.8,346.1v-2.4M404.8,346.1v-2.2M292.8,350.7v-3.1M293.8,350.7v-2.8M295.8,350.7v-2.4M296.8,350.7v-2.2M394.8,350.7v-2.3M427.8,350.7v-2.7M429.8,350.7v-3.1M430.8,350.7v-3.0M436.8,350.7v-2.2M439.8,350.7v-2.3M445.8,350.7v-2.5M286.8,355.3v-2.3M319.8,355.3v-2.7M321.8,355.3v-3.1M322.8,355.3v-3.0M328.8,355.3v-2.2M331.8,355.3v-2.3M337.8,355.3v-2.5M398.8,355.3v-2.1M399.8,355.3v-2.3M439.8,355.3v-2.9M441.8,355.3v-2.7M448.8,355.3v-2.2M450.8,355.3v-3.2M290.8,359.8v-2.1M291.8,359.8v-2.3M331.8,359.8v-2.9M333.8,359.8v-2.7M340.8,359.8v-2.2M342.8,359.8v-3.2M391.8,359.8v-2.5M393.8,359.8v-2.2M444.8,359.8v-2.8M445.8,359.8v-3.4M446.8,359.8v-3.4M448.8,359.8v-2.2M283.8,364.4v-2.5M285.8,364.4v-2.2M336.8,364.4v-2.8M337.8,364.4v-3.4M338.8,364.4v-3.4M340.8,364.4v-2.2M388.8,364.4v-2.5M392.8,364.4v-3.0M427.8,364.4v-2.4M440.8,364.4v-2.2M448.8,364.4v-3.0M449.8,364.4v-3.1M450.8,364.4v-2.6M451.8,364.4v-3.9M452.8,364.4v-3.3M453.8,364.4v-2.5M280.8,369.0v-2.5M284.8,369.0v-3.0M319.8,369.0v-2.4M332.8,369.0v-2.2M340.8,369.0v-3.0M341.8,369.0v-3.1M342.8,369.0v-2.6M343.8,369.0v-3.9M344.8,369.0v-3.3M345.8,369.0v-2.5M384.8,369.0v-2.3M391.8,369.0v-2.5M392.8,369.0v-2.6M393.8,369.0v-2.7M395.8,369.0v-2.5M396.8,369.0v-2.4M401.8,369.0v-2.6M403.8,369.0v-3.4M404.8,369.0v-2.4M405.8,369.0v-2.5M428.8,369.0v-3.5M429.8,369.0v-3.4M430.8,369.0v-2.4M437.8,369.0v-2.3M439.8,369.0v-2.6M276.8,373.6v-2.3M283.8,373.6v-2.5M284.8,373.6v-2.6M285.8,373.6v-2.7M287.8,373.6v-2.5M288.8,373.6v-2.4M293.8,373.6v-2.6M295.8,373.6v-3.4M296.8,373.6v-2.4M297.8,373.6v-2.5M320.8,373.6v-3.5M321.8,373.6v-3.4M322.8,373.6v-2.4M329.8,373.6v-2.3M331.8,373.6v-2.6M380.8,373.6v-2.6M381.8,373.6v-2.8M411.8,373.6v-3.4M412.8,373.6v-3.3M438.8,373.6v-2.3M272.8,378.2v-2.6M273.8,378.2v-2.8M303.8,378.2v-3.4M304.8,378.2v-3.3M330.8,378.2v-2.3M379.8,378.2v-2.5M380.8,378.2v-2.9M381.8,378.2v-3.3M382.8,378.2v-3.3M383.8,378.2v-3.3M385.8,378.2v-3.0M386.8,378.2v-2.4M392.8,378.2v-2.4M415.8,378.2v-2.1M439.8,378.2v-2.1M271.8,382.8v-2.5M272.8,382.8v-2.9M273.8,382.8v-3.3M274.8,382.8v-3.3M275.8,382.8v-3.3M277.8,382.8v-3.0M278.8,382.8v-2.4M284.8,382.8v-2.4M307.8,382.8v-2.1M331.8,382.8v-2.1M379.8,382.8v-2.6M381.8,382.8v-2.3M428.8,382.8v-2.8M431.8,382.8v-2.3M271.8,387.4v-2.6M273.8,387.4v-2.3M320.8,387.4v-2.8M323.8,387.4v-2.3M382.8,387.4v-2.6M383.8,387.4v-2.3M414.8,387.4v-2.5M430.8,387.4v-3.0M431.8,387.4v-3.2M432.8,387.4v-3.3M433.8,387.4v-2.4M434.8,387.4v-2.1M442.8,387.4v-2.4M443.8,387.4v-2.2M274.8,391.9v-2.6M275.8,391.9v-2.3M306.8,391.9v-2.5M322.8,391.9v-3.0M323.8,391.9v-3.2M324.8,391.9v-3.3M325.8,391.9v-2.4M326.8,391.9v-2.1M334.8,391.9v-2.4M335.8,391.9v-2.2M377.8,391.9v-2.1M378.8,391.9v-2.3M380.8,391.9v-2.6M382.8,391.9v-2.3M390.8,391.9v-3.0M393.8,391.9v-2.4M432.8,391.9v-2.1M433.8,391.9v-2.4M269.8,396.5v-2.1M270.8,396.5v-2.3M272.8,396.5v-2.6M274.8,396.5v-2.3M282.8,396.5v-3.0M285.8,396.5v-2.4M324.8,396.5v-2.1M325.8,396.5v-2.4M384.8,396.5v-2.2M385.8,396.5v-2.9M386.8,396.5v-2.4M400.8,396.5v-3.3M401.8,396.5v-2.4M402.8,396.5v-2.1M436.8,396.5v-2.4M276.8,401.1v-2.2M277.8,401.1v-2.9M278.8,401.1v-2.4M292.8,401.1v-3.3M293.8,401.1v-2.4M294.8,401.1v-2.1M328.8,401.1v-2.4M383.8,401.1v-3.4M384.8,401.1v-3.0M427.8,401.1v-2.5M428.8,401.1v-3.3M441.8,401.1v-2.1M275.8,405.7v-3.4M276.8,405.7v-3.0M319.8,405.7v-2.5M320.8,405.7v-3.3M333.8,405.7v-2.1M376.8,405.7v-2.9M377.8,405.7v-2.4M380.8,405.7v-2.9M381.8,405.7v-3.4M385.8,405.7v-2.2M416.8,405.7v-2.5M417.8,405.7v-2.4M432.8,405.7v-2.2M482.8,405.7v-2.6M268.8,410.3v-2.9M269.8,410.3v-2.4M272.8,410.3v-2.9M273.8,410.3v-3.4M277.8,410.3v-2.2M308.8,410.3v-2.5M309.8,410.3v-2.4M324.8,410.3v-2.2M374.8,410.3v-2.6M380.8,410.3v-2.6M385.8,410.3v-2.7M391.8,410.3v-2.2M392.8,410.3v-2.2M408.8,410.3v-2.6M428.8,410.3v-2.2M437.8,410.3v-2.5M272.8,414.9v-2.6M277.8,414.9v-2.7M283.8,414.9v-2.2M284.8,414.9v-2.2M300.8,414.9v-2.6M320.8,414.9v-2.2M329.8,414.9v-2.5M376.8,414.9v-2.2M383.8,414.9v-3.3M384.8,414.9v-2.7M423.8,414.9v-2.3M424.8,414.9v-3.1M425.8,414.9v-2.6M435.8,414.9v-3.2M436.8,414.9v-2.8M482.8,414.9v-2.3M268.8,419.4v-2.2M275.8,419.4v-3.3M276.8,419.4v-2.7M315.8,419.4v-2.3M316.8,419.4v-3.1M317.8,419.4v-2.6M327.8,419.4v-3.2M328.8,419.4v-2.8M374.8,419.4v-2.3M375.8,419.4v-2.3M376.8,419.4v-3.0M402.8,419.4v-2.5M403.8,419.4v-3.4M404.8,419.4v-3.4M423.8,419.4v-2.1M434.8,419.4v-2.7M435.8,419.4v-2.6M440.8,419.4v-2.3M441.8,419.4v-2.1M267.8,424.0v-2.3M268.8,424.0v-3.0M294.8,424.0v-2.5M295.8,424.0v-3.4M296.8,424.0v-3.4M315.8,424.0v-2.1M326.8,424.0v-2.7M327.8,424.0v-2.6M332.8,424.0v-2.3M333.8,424.0v-2.1M376.8,424.0v-2.2M384.8,424.0v-2.7M432.8,424.0v-2.4M433.8,424.0v-2.6M434.8,424.0v-2.7M268.8,428.6v-2.2M276.8,428.6v-2.7M324.8,428.6v-2.4M325.8,428.6v-2.6M326.8,428.6v-2.7M376.8,428.6v-3.2M377.8,428.6v-2.8M378.8,428.6v-3.9M380.8,428.6v-2.7M382.8,428.6v-2.2M394.8,428.6v-2.8M396.8,428.6v-2.5M397.8,428.6v-2.3M398.8,428.6v-2.2M433.8,428.6v-2.1M482.8,428.6v-2.9M268.8,433.2v-3.2M269.8,433.2v-2.8M270.8,433.2v-3.9M272.8,433.2v-2.7M274.8,433.2v-2.2M286.8,433.2v-2.8M288.8,433.2v-2.5M289.8,433.2v-2.3M290.8,433.2v-2.2M325.8,433.2v-2.1M374.8,433.2v-2.9M382.8,433.2v-2.7M383.8,433.2v-3.4M393.8,433.2v-2.5M395.8,433.2v-3.7M396.8,433.2v-2.1M397.8,433.2v-2.2M398.8,433.2v-2.5M421.8,433.2v-2.8M422.8,433.2v-2.2M426.8,433.2v-2.2M430.8,433.2v-2.4M432.8,433.2v-2.8M482.8,433.2v-2.2M274.8,437.8v-2.7M275.8,437.8v-3.4M285.8,437.8v-2.5M287.8,437.8v-3.7M288.8,437.8v-2.1M289.8,437.8v-2.2M290.8,437.8v-2.5M313.8,437.8v-2.8M314.8,437.8v-2.2M318.8,437.8v-2.2M322.8,437.8v-2.4M324.8,437.8v-2.8M374.8,437.8v-2.2M375.8,437.8v-2.1M377.8,437.8v-2.8M383.8,437.8v-2.4M384.8,437.8v-3.4M385.8,437.8v-2.4M392.8,437.8v-3.2M393.8,437.8v-2.6M395.8,437.8v-3.2M412.8,437.8v-2.8M425.8,437.8v-2.5M426.8,437.8v-2.1M427.8,437.8v-2.6M435.8,437.8v-2.6M436.8,437.8v-3.7M482.8,437.8v-2.3M267.8,442.4v-2.1M269.8,442.4v-2.8M275.8,442.4v-2.4M276.8,442.4v-3.4M277.8,442.4v-2.4M284.8,442.4v-3.2M285.8,442.4v-2.6M287.8,442.4v-3.2M304.8,442.4v-2.8M317.8,442.4v-2.5M318.8,442.4v-2.1M319.8,442.4v-2.6M327.8,442.4v-2.6M328.8,442.4v-3.7M374.8,442.4v-2.3M375.8,442.4v-2.4M394.8,442.4v-2.5M395.8,442.4v-3.0M397.8,442.4v-2.7M420.8,442.4v-2.1M421.8,442.4v-2.9M422.8,442.4v-2.6M428.8,442.4v-2.4M429.8,442.4v-2.5M430.8,442.4v-2.9M481.8,442.4v-2.4M267.8,447.0v-2.4M286.8,447.0v-2.5M287.8,447.0v-3.0M289.8,447.0v-2.7M312.8,447.0v-2.1M313.8,447.0v-2.9M314.8,447.0v-2.6M320.8,447.0v-2.4M321.8,447.0v-2.5M322.8,447.0v-2.9M373.8,447.0v-2.4M379.8,447.0v-2.3M389.8,447.0v-2.7M390.8,447.0v-3.0M391.8,447.0v-2.2M429.8,447.0v-3.2M430.8,447.0v-2.8M433.8,447.0v-2.5M434.8,447.0v-4.3M435.8,447.0v-3.2M481.8,447.0v-2.9M482.8,447.0v-2.2M271.8,451.5v-2.3M281.8,451.5v-2.7M282.8,451.5v-3.0M283.8,451.5v-2.2M321.8,451.5v-3.2M322.8,451.5v-2.8M325.8,451.5v-2.5M326.8,451.5v-4.3M327.8,451.5v-3.2M373.8,451.5v-2.9M374.8,451.5v-2.2M382.8,451.5v-2.9M383.8,451.5v-3.7M409.8,451.5v-2.8M410.8,451.5v-2.2M419.8,451.5v-2.1M274.8,456.1v-2.9M275.8,456.1v-3.7M301.8,456.1v-2.8M302.8,456.1v-2.2M311.8,456.1v-2.1M381.8,456.1v-2.3M382.8,456.1v-2.6M391.8,456.1v-2.2M392.8,456.1v-2.1M420.8,456.1v-2.2M428.8,456.1v-2.5M429.8,456.1v-2.2M481.8,456.1v-2.6M273.8,460.7v-2.3M274.8,460.7v-2.6M283.8,460.7v-2.2M284.8,460.7v-2.1M312.8,460.7v-2.2M320.8,460.7v-2.5M321.8,460.7v-2.2M373.8,460.7v-2.6M380.8,460.7v-2.6M381.8,460.7v-2.6M382.8,460.7v-3.7M383.8,460.7v-4.1M386.8,460.7v-2.7M387.8,460.7v-2.3M391.8,460.7v-3.1M392.8,460.7v-2.2M423.8,460.7v-2.6M424.8,460.7v-2.9M425.8,460.7v-3.6M426.8,460.7v-2.8M479.8,460.7v-2.3M480.8,460.7v-3.4M272.8,465.3v-2.6M273.8,465.3v-2.6M274.8,465.3v-3.7M275.8,465.3v-4.1M278.8,465.3v-2.7M279.8,465.3v-2.3M283.8,465.3v-3.1M284.8,465.3v-2.2M315.8,465.3v-2.6M316.8,465.3v-2.9M317.8,465.3v-3.6M318.8,465.3v-2.8M371.8,465.3v-2.3M372.8,465.3v-3.4M413.8,465.3v-2.2M415.8,465.3v-2.4M422.8,465.3v-2.4M423.8,465.3v-2.5M424.8,465.3v-3.9M425.8,465.3v-3.3M426.8,465.3v-2.6M478.8,465.3v-2.1M479.8,465.3v-2.8M480.8,465.3v-4.4M481.8,465.3v-3.3M305.8,469.9v-2.2M307.8,469.9v-2.4M314.8,469.9v-2.4M315.8,469.9v-2.5M316.8,469.9v-3.9M317.8,469.9v-3.3M318.8,469.9v-2.6M370.8,469.9v-2.1M371.8,469.9v-2.8M372.8,469.9v-4.4M373.8,469.9v-3.3M377.8,469.9v-2.4M393.8,469.9v-2.2M394.8,469.9v-3.0M395.8,469.9v-2.5M396.8,469.9v-3.2M397.8,469.9v-2.5M407.8,469.9v-3.4M408.8,469.9v-2.5M424.8,469.9v-2.1M426.8,469.9v-2.4M427.8,469.9v-3.1M429.8,469.9v-2.7M430.8,469.9v-2.8M269.8,474.5v-2.4M285.8,474.5v-2.2M286.8,474.5v-3.0M287.8,474.5v-2.5M288.8,474.5v-3.2M289.8,474.5v-2.5M299.8,474.5v-3.4M300.8,474.5v-2.5M316.8,474.5v-2.1M318.8,474.5v-2.4M319.8,474.5v-3.1M321.8,474.5v-2.7M322.8,474.5v-2.8M393.8,474.5v-2.9M420.8,474.5v-2.2M421.8,474.5v-2.8M422.8,474.5v-2.7M481.8,474.5v-2.3M482.8,474.5v-2.6M285.8,479.1v-2.9M312.8,479.1v-2.2M313.8,479.1v-2.8M314.8,479.1v-2.7M373.8,479.1v-2.3M374.8,479.1v-2.6M381.8,479.1v-2.5M414.8,479.1v-2.5M421.8,479.1v-3.1M422.8,479.1v-3.4M423.8,479.1v-2.5M481.8,479.1v-2.8M482.8,479.1v-2.1" stroke="#222" stroke-width="1" fill="none"/>
<rect x="267.3" y="273.6" width="216.9" height="8" fill="#fff"/>
<rect x="321.5" y="273.6" width="54.2" height="8" fill="#000"/>
<rect x="430" y="273.6" width="54.2" height="8" fill="#000"/>
<line x1="267.3" y1="281.6" x2="484.2" y2="281.6" stroke="#333" stroke-width="1.2"/>
<rect x="267.3" y="273.6" width="216.9" height="205.8" fill="none" stroke="#6a6a6a" stroke-width="0.9"/>
<line x1="263.9" y1="283.3" x2="267.3" y2="283.3" stroke="#000" stroke-width="1.8"/>
<text x="263.6" y="287" font-size="13" font-weight="bold" text-anchor="end">1</text>
<line x1="263.9" y1="324.6" x2="267.3" y2="324.6" stroke="#000" stroke-width="1.8"/>
<text x="263.6" y="328.3" font-size="13" font-weight="bold" text-anchor="end">10</text>
<line x1="263.9" y1="370.4" x2="267.3" y2="370.4" stroke="#000" stroke-width="1.8"/>
<text x="263.6" y="374.1" font-size="13" font-weight="bold" text-anchor="end">20</text>
<line x1="263.9" y1="416.3" x2="267.3" y2="416.3" stroke="#000" stroke-width="1.8"/>
<text x="263.6" y="420" font-size="13" font-weight="bold" text-anchor="end">30</text>
<line x1="263.9" y1="462.1" x2="267.3" y2="462.1" stroke="#000" stroke-width="1.8"/>
<text x="263.6" y="465.8" font-size="13" font-weight="bold" text-anchor="end">40</text>
<text x="269.2" y="490.8" font-size="12.2" font-weight="bold" text-anchor="middle">0</text>
<text x="322.1" y="490.8" font-size="12.2" font-weight="bold" text-anchor="middle">12</text>
<text x="376.9" y="490.8" font-size="12.2" font-weight="bold" text-anchor="middle">0</text>
<text x="429.4" y="490.8" font-size="12.2" font-weight="bold" text-anchor="middle">12</text>
<text x="481.3" y="490.8" font-size="12.2" font-weight="bold" text-anchor="middle">0</text>
<text x="375.6" y="503.7" font-size="13" font-weight="bold" text-anchor="middle">Time (h)</text>
<text x="104.5" y="264.7" font-size="15.5" font-weight="bold" textLength="55" lengthAdjust="spacingAndGlyphs">Control</text>
<text x="335.6" y="264.5" font-size="15.4" font-weight="bold" font-style="italic" textLength="73" lengthAdjust="spacingAndGlyphs">Avp-Vipr2</text>
<text x="408.3" y="258.3" font-size="9.5" font-weight="bold" font-style="italic" textLength="13.3" lengthAdjust="spacingAndGlyphs">−/−</text>
<rect x="532" y="275.9" width="74.5" height="97.6" fill="#d4d4d4"/>
<rect x="606.5" y="275.9" width="74.5" height="97.6" fill="#a2a2a5"/>
<path d="M532.0,331.2V342.7M533.0,325.7V344.5M534.1,326.3V346.6M535.1,334.6V343.9M536.1,327.5V339.9M537.2,319.9V347.3M538.2,330.0V340.7M539.2,325.4V337.8M540.3,315.8V344.8M541.3,318.2V340.9M542.3,320.2V337.9M543.4,317.0V338.1M544.4,318.3V341.7M545.5,328.5V342.9M546.5,336.7V347.4M547.5,336.4V356.6M548.6,344.6V360.9M549.6,353.0V365.3M550.6,358.1V372.0M551.7,358.6V369.9M552.7,355.6V371.8M553.7,359.5V367.3M554.8,355.1V367.3M555.8,356.6V367.8M556.8,363.1V371.6M557.9,361.1V372.2M558.9,359.9V367.9M559.9,356.2V370.6M561.0,354.7V370.1M562.0,357.9V365.1M563.0,354.2V365.8M564.1,360.2V368.6M565.1,360.9V367.2M566.1,353.2V369.4M567.2,357.9V368.3M568.2,360.8V367.8M569.2,360.8V372.7M570.3,365.1V371.9M571.3,359.9V373.5M572.4,363.8V371.0M573.4,366.9V371.9M574.4,366.0V372.6M575.5,364.6V372.7M576.5,364.8V373.5M577.5,361.7V373.5M578.6,362.2V373.5M579.6,364.1V372.3M580.6,366.1V371.1M581.7,364.0V370.6M582.7,359.2V373.5M583.7,363.0V372.5M584.8,363.2V373.5M585.8,364.8V370.3M586.8,365.7V370.9M587.9,360.8V373.5M588.9,363.5V373.5M589.9,362.6V370.8M591.0,363.3V371.5M592.0,365.9V371.5M593.0,364.1V370.8M594.1,363.7V369.1M595.1,359.2V373.0M596.2,362.6V372.2M597.2,364.2V370.4M598.2,359.0V372.0M599.3,361.9V369.2M600.3,361.3V367.4M601.3,357.8V369.8M602.4,359.0V373.4M603.4,360.8V366.6M604.4,351.9V367.6M605.5,352.2V361.1M606.5,348.2V356.5M607.5,341.0V349.3M608.6,335.9V349.2M609.6,328.4V350.0M610.6,331.5V348.8M611.7,329.9V352.9M612.7,330.4V343.5M613.7,327.1V342.5M614.8,322.6V337.8M615.8,315.9V345.4M616.8,321.4V348.4M617.9,323.6V340.1M618.9,314.3V334.5M620.0,315.7V333.3M621.0,315.7V341.3M622.0,321.4V332.7M623.1,319.0V331.2M624.1,314.7V334.2M625.1,315.4V331.7M626.2,313.2V341.3M627.2,318.1V342.9M628.2,321.9V342.3M629.3,320.7V343.5M630.3,330.8V351.3M631.3,326.9V349.8M632.4,326.2V351.5M633.4,337.6V348.3M634.4,331.5V350.7M635.5,336.4V347.3M636.5,330.7V347.4M637.5,329.1V351.4M638.6,326.1V350.9M639.6,325.7V348.6M640.6,334.9V344.3M641.7,336.6V350.7M642.7,338.8V349.6M643.8,323.6V350.8M644.8,336.0V347.0M645.8,338.4V350.4M646.9,336.8V350.8M647.9,340.1V349.1M648.9,332.5V355.0M650.0,337.2V355.0M651.0,342.8V352.9M652.0,342.5V357.2M653.1,345.0V353.6M654.1,344.3V360.0M655.1,344.6V355.4M656.2,346.0V354.0M657.2,353.1V361.0M658.2,353.4V366.1M659.3,347.1V362.3M660.3,346.8V358.4M661.3,352.3V366.2M662.4,356.4V366.3M663.4,355.2V363.0M664.4,356.1V365.7M665.5,355.8V366.3M666.5,352.2V368.9M667.5,355.9V363.4M668.6,357.4V364.3M669.6,354.2V366.7M670.7,352.9V369.9M671.7,354.7V370.6M672.7,354.8V368.6M673.8,357.1V363.8M674.8,349.5V366.0M675.8,350.2V365.1M676.9,351.1V359.6M677.9,341.9V356.3M678.9,344.0V352.3M680.0,335.4V356.1M681.0,331.5V352.1" stroke="#6a6aff" stroke-width="1.1" fill="none" opacity="0.55"/>
<path d="M532.0,353.7V359.9M533.0,350.3V362.4M534.1,352.9V358.7M535.1,353.4V359.1M536.1,344.4V352.7M537.2,344.0V351.3M538.2,345.7V356.6M539.2,348.2V353.9M540.3,346.6V359.2M541.3,349.1V360.8M542.3,349.3V353.9M543.4,346.9V356.5M544.4,348.0V353.7M545.5,346.1V353.3M546.5,341.6V350.9M547.5,340.0V349.9M548.6,341.1V351.0M549.6,342.4V356.2M550.6,346.8V354.0M551.7,350.6V356.7M552.7,348.6V358.9M553.7,350.5V362.6M554.8,353.3V364.6M555.8,354.9V365.5M556.8,360.1V364.3M557.9,355.0V366.0M558.9,355.6V364.5M559.9,360.4V369.8M561.0,363.7V369.7M562.0,364.0V368.8M563.0,359.8V368.8M564.1,360.4V368.5M565.1,359.2V368.3M566.1,361.8V366.7M567.2,362.9V367.2M568.2,361.0V369.6M569.2,364.0V367.5M570.3,360.4V370.2M571.3,365.2V369.3M572.4,363.3V370.5M573.4,362.7V368.9M574.4,361.8V367.5M575.5,365.2V369.5M576.5,364.1V372.2M577.5,362.7V371.8M578.6,361.5V369.8M579.6,362.6V369.9M580.6,361.4V369.6M581.7,364.6V371.2M582.7,361.7V368.9M583.7,360.5V370.0M584.8,365.1V370.1M585.8,363.7V368.5M586.8,359.8V369.8M587.9,360.7V370.4M588.9,360.9V367.8M589.9,358.3V367.7M591.0,360.8V369.3M592.0,361.4V371.0M593.0,364.5V368.4M594.1,360.3V369.9M595.1,362.2V369.0M596.2,362.4V368.9M597.2,361.2V369.3M598.2,360.8V368.6M599.3,363.4V369.6M600.3,365.1V370.2M601.3,360.1V369.8M602.4,352.0V362.8M603.4,351.4V356.7M604.4,344.8V353.5M605.5,342.0V354.4M606.5,339.5V353.5M607.5,331.7V348.2M608.6,332.2V341.0M609.6,326.8V343.6M610.6,321.1V336.9M611.7,313.0V321.6M612.7,309.5V320.6M613.7,308.9V319.8M614.8,310.4V319.5M615.8,304.4V323.3M616.8,300.6V314.4M617.9,298.4V318.4M618.9,304.3V314.0M620.0,294.4V318.0M621.0,295.9V316.5M622.0,288.8V312.2M623.1,285.6V306.6M624.1,290.9V308.5M625.1,285.9V299.5M626.2,288.2V314.3M627.2,297.8V309.2M628.2,300.2V317.3M629.3,304.8V315.0M630.3,306.9V316.8M631.3,308.1V326.4M632.4,312.1V332.1M633.4,319.4V332.6M634.4,322.1V338.9M635.5,325.8V342.5M636.5,326.6V339.6M637.5,324.9V340.9M638.6,329.1V338.9M639.6,332.1V339.9M640.6,331.6V339.9M641.7,339.3V344.8M642.7,342.2V348.2M643.8,337.2V350.4M644.8,342.5V356.0M645.8,346.3V351.7M646.9,347.3V358.3M647.9,348.0V359.3M648.9,352.5V362.2M650.0,350.3V359.0M651.0,352.3V360.5M652.0,353.0V362.7M653.1,352.0V358.4M654.1,351.6V362.0M655.1,356.4V361.8M656.2,358.9V363.0M657.2,355.6V366.4M658.2,359.1V363.6M659.3,357.6V363.0M660.3,358.4V362.7M661.3,360.7V364.4M662.4,360.7V365.2M663.4,358.1V368.3M664.4,360.0V368.4M665.5,360.2V366.7M666.5,360.7V364.4M667.5,356.3V366.3M668.6,356.9V364.4M669.6,357.8V367.7M670.7,358.0V365.5M671.7,359.6V363.9M672.7,357.0V361.5M673.8,356.1V365.9M674.8,358.4V363.9M675.8,360.4V365.1M676.9,358.9V365.6M677.9,356.4V362.4M678.9,355.0V361.3M680.0,350.8V361.6M681.0,352.9V360.9" stroke="#ff7a7a" stroke-width="1.1" fill="none" opacity="0.55"/>
<polyline points="532.0,337.0 533.0,335.1 534.1,336.4 535.1,339.3 536.1,333.7 537.2,333.6 538.2,335.4 539.2,331.6 540.3,330.3 541.3,329.5 542.3,329.0 543.4,327.5 544.4,330.0 545.5,335.7 546.5,342.0 547.5,346.5 548.6,352.8 549.6,359.1 550.6,365.0 551.7,364.2 552.7,363.7 553.7,363.4 554.8,361.2 555.8,362.2 556.8,367.4 557.9,366.7 558.9,363.9 559.9,363.4 561.0,362.4 562.0,361.5 563.0,360.0 564.1,364.4 565.1,364.1 566.1,361.3 567.2,363.1 568.2,364.3 569.2,366.7 570.3,368.5 571.3,367.0 572.4,367.4 573.4,369.4 574.4,369.3 575.5,368.6 576.5,369.3 577.5,368.5 578.6,368.0 579.6,368.2 580.6,368.6 581.7,367.3 582.7,366.8 583.7,367.7 584.8,368.9 585.8,367.6 586.8,368.3 587.9,367.5 588.9,368.7 589.9,366.7 591.0,367.4 592.0,368.7 593.0,367.5 594.1,366.4 595.1,366.1 596.2,367.4 597.2,367.3 598.2,365.5 599.3,365.5 600.3,364.3 601.3,363.8 602.4,366.2 603.4,363.7 604.4,359.7 605.5,356.6 606.5,352.3 607.5,345.2 608.6,342.6 609.6,339.2 610.6,340.1 611.7,341.4 612.7,337.0 613.7,334.8 614.8,330.2 615.8,330.7 616.8,334.9 617.9,331.9 618.9,324.4 620.0,324.5 621.0,328.5 622.0,327.0 623.1,325.1 624.1,324.5 625.1,323.6 626.2,327.2 627.2,330.5 628.2,332.1 629.3,332.1 630.3,341.0 631.3,338.3 632.4,338.8 633.4,342.9 634.4,341.1 635.5,341.8 636.5,339.0 637.5,340.3 638.6,338.5 639.6,337.1 640.6,339.6 641.7,343.7 642.7,344.2 643.8,337.2 644.8,341.5 645.8,344.4 646.9,343.8 647.9,344.6 648.9,343.7 650.0,346.1 651.0,347.9 652.0,349.9 653.1,349.3 654.1,352.2 655.1,350.0 656.2,350.0 657.2,357.1 658.2,359.8 659.3,354.7 660.3,352.6 661.3,359.3 662.4,361.3 663.4,359.1 664.4,360.9 665.5,361.0 666.5,360.6 667.5,359.7 668.6,360.8 669.6,360.5 670.7,361.4 671.7,362.6 672.7,361.7 673.8,360.5 674.8,357.7 675.8,357.7 676.9,355.3 677.9,349.1 678.9,348.2 680.0,345.7 681.0,341.8" stroke="#1a1aff" stroke-width="1.1" fill="none" stroke-linejoin="round"/>
<polyline points="532.0,356.8 533.0,356.4 534.1,355.8 535.1,356.3 536.1,348.5 537.2,347.7 538.2,351.2 539.2,351.1 540.3,352.9 541.3,354.9 542.3,351.6 543.4,351.7 544.4,350.9 545.5,349.7 546.5,346.2 547.5,345.0 548.6,346.1 549.6,349.3 550.6,350.4 551.7,353.6 552.7,353.7 553.7,356.6 554.8,359.0 555.8,360.2 556.8,362.2 557.9,360.5 558.9,360.1 559.9,365.1 561.0,366.7 562.0,366.4 563.0,364.3 564.1,364.5 565.1,363.8 566.1,364.2 567.2,365.0 568.2,365.3 569.2,365.7 570.3,365.3 571.3,367.3 572.4,366.9 573.4,365.8 574.4,364.6 575.5,367.3 576.5,368.1 577.5,367.2 578.6,365.7 579.6,366.2 580.6,365.5 581.7,367.9 582.7,365.3 583.7,365.3 584.8,367.6 585.8,366.1 586.8,364.8 587.9,365.5 588.9,364.3 589.9,363.0 591.0,365.1 592.0,366.2 593.0,366.5 594.1,365.1 595.1,365.6 596.2,365.6 597.2,365.3 598.2,364.7 599.3,366.5 600.3,367.6 601.3,365.0 602.4,357.4 603.4,354.0 604.4,349.1 605.5,348.2 606.5,346.5 607.5,339.9 608.6,336.6 609.6,335.2 610.6,329.0 611.7,317.3 612.7,315.0 613.7,314.3 614.8,314.9 615.8,313.8 616.8,307.5 617.9,308.4 618.9,309.2 620.0,306.2 621.0,306.2 622.0,300.5 623.1,296.1 624.1,299.7 625.1,292.7 626.2,301.3 627.2,303.5 628.2,308.8 629.3,309.9 630.3,311.9 631.3,317.3 632.4,322.1 633.4,326.0 634.4,330.5 635.5,334.2 636.5,333.1 637.5,332.9 638.6,334.0 639.6,336.0 640.6,335.8 641.7,342.1 642.7,345.2 643.8,343.8 644.8,349.2 645.8,349.0 646.9,352.8 647.9,353.6 648.9,357.4 650.0,354.7 651.0,356.4 652.0,357.9 653.1,355.2 654.1,356.8 655.1,359.1 656.2,361.0 657.2,361.0 658.2,361.4 659.3,360.3 660.3,360.5 661.3,362.5 662.4,362.9 663.4,363.2 664.4,364.2 665.5,363.4 666.5,362.5 667.5,361.3 668.6,360.7 669.6,362.7 670.7,361.7 671.7,361.8 672.7,359.2 673.8,361.0 674.8,361.2 675.8,362.7 676.9,362.3 677.9,359.4 678.9,358.1 680.0,356.2 681.0,356.9" stroke="#ff1a1a" stroke-width="1.1" fill="none" stroke-linejoin="round"/>
<path d="M532,275.9 V373.5 H681" stroke="#222" stroke-width="1.3" fill="none"/>
<line x1="529" y1="373.5" x2="532" y2="373.5" stroke="#222" stroke-width="1.1"/>
<text x="529" y="375.8" font-size="8" font-weight="bold" text-anchor="end" textLength="4.2" lengthAdjust="spacingAndGlyphs">0</text>
<line x1="529" y1="349.1" x2="532" y2="349.1" stroke="#222" stroke-width="1.1"/>
<text x="529" y="351.4" font-size="8" font-weight="bold" text-anchor="end" textLength="12.6" lengthAdjust="spacingAndGlyphs">100</text>
<line x1="529" y1="324.7" x2="532" y2="324.7" stroke="#222" stroke-width="1.1"/>
<text x="529" y="327" font-size="8" font-weight="bold" text-anchor="end" textLength="12.6" lengthAdjust="spacingAndGlyphs">200</text>
<line x1="529" y1="300.3" x2="532" y2="300.3" stroke="#222" stroke-width="1.1"/>
<text x="529" y="302.6" font-size="8" font-weight="bold" text-anchor="end" textLength="12.6" lengthAdjust="spacingAndGlyphs">300</text>
<line x1="529" y1="275.9" x2="532" y2="275.9" stroke="#222" stroke-width="1.1"/>
<text x="529" y="278.2" font-size="8" font-weight="bold" text-anchor="end" textLength="12.6" lengthAdjust="spacingAndGlyphs">400</text>
<text x="620.4" y="291.2" font-size="13.1" font-weight="bold">1<tspan font-size="8.5" dy="-5">st</tspan><tspan dy="5"> stage</tspan></text>
<rect x="532" y="381.3" width="74" height="97.7" fill="#d4d4d4"/>
<rect x="606" y="381.3" width="74" height="97.7" fill="#a2a2a5"/>
<path d="M532.0,443.7V465.3M533.0,448.1V468.2M534.1,439.3V461.6M535.1,440.7V454.3M536.1,437.9V448.9M537.1,425.0V454.1M538.2,428.5V450.9M539.2,425.8V437.1M540.2,414.8V446.8M541.2,404.4V441.4M542.3,424.9V442.1M543.3,428.0V453.9M544.3,439.8V450.6M545.4,441.3V457.5M546.4,442.6V463.9M547.4,447.3V461.7M548.4,447.6V463.5M549.5,454.0V463.1M550.5,450.0V468.9M551.5,456.8V470.0M552.6,460.6V470.1M553.6,456.4V472.9M554.6,457.6V475.8M555.6,463.1V475.2M556.7,462.3V476.6M557.7,459.8V477.4M558.7,464.6V471.0M559.8,465.0V477.1M560.8,463.6V479.0M561.8,467.4V474.3M562.8,469.4V476.9M563.9,467.4V478.4M564.9,465.0V478.3M565.9,466.6V477.9M566.9,467.6V478.6M568.0,470.9V476.6M569.0,471.4V479.0M570.0,470.1V478.5M571.1,473.4V478.9M572.1,470.5V479.0M573.1,469.8V479.0M574.1,470.3V479.0M575.2,470.3V479.0M576.2,472.2V479.0M577.2,472.5V478.6M578.2,469.3V479.0M579.3,466.6V479.0M580.3,467.1V479.0M581.3,468.5V479.0M582.4,465.7V479.0M583.4,467.2V479.0M584.4,468.3V479.0M585.4,468.8V477.9M586.5,469.0V477.0M587.5,468.7V479.0M588.5,468.4V479.0M589.6,470.1V476.9M590.6,470.3V479.0M591.6,466.7V476.9M592.6,468.7V474.2M593.7,468.7V478.2M594.7,466.8V476.6M595.7,463.8V479.0M596.8,467.0V473.3M597.8,465.3V479.0M598.8,463.5V479.0M599.8,461.6V474.7M600.9,462.5V471.0M601.9,461.3V476.4M602.9,460.5V469.0M603.9,454.9V466.5M605.0,450.3V467.4M606.0,445.1V460.2M607.0,445.4V461.0M608.1,440.7V455.0M609.1,440.5V450.4M610.1,428.2V446.1M611.1,424.0V451.4M612.2,424.7V452.0M613.2,432.5V444.4M614.2,415.1V440.0M615.2,419.5V439.2M616.3,420.7V441.1M617.3,414.7V448.1M618.3,421.4V449.3M619.4,425.6V446.9M620.4,423.9V445.6M621.4,414.4V446.7M622.4,411.2V433.2M623.5,413.4V443.4M624.5,415.8V444.0M625.5,416.6V444.7M626.6,420.5V442.0M627.6,421.0V446.8M628.6,428.4V454.6M629.6,436.1V451.2M630.7,425.9V451.6M631.7,424.6V445.7M632.7,425.9V447.6M633.8,430.0V449.4M634.8,433.3V450.4M635.8,429.2V453.7M636.8,434.1V451.3M637.9,435.1V448.4M638.9,433.8V457.5M639.9,436.5V453.3M640.9,435.4V455.3M642.0,431.1V458.7M643.0,435.1V456.2M644.0,432.5V452.3M645.1,438.2V452.7M646.1,438.9V459.9M647.1,447.1V468.8M648.1,448.4V466.5M649.2,448.2V467.2M650.2,451.7V463.9M651.2,456.8V467.9M652.2,451.5V464.3M653.3,451.6V465.9M654.3,454.9V473.2M655.3,458.0V470.6M656.4,458.3V467.4M657.4,453.0V467.6M658.4,451.9V463.2M659.4,445.8V463.7M660.5,451.1V463.7M661.5,444.8V467.2M662.5,451.1V465.0M663.6,449.7V465.8M664.6,453.1V468.4M665.6,456.2V468.6M666.6,457.3V475.6M667.7,463.3V470.0M668.7,459.5V474.7M669.7,459.5V469.4M670.8,462.4V469.5M671.8,464.2V472.3M672.8,461.8V476.3M673.8,460.3V476.9M674.9,462.5V477.1M675.9,465.2V474.2M676.9,460.5V472.8M677.9,459.6V467.8M679.0,461.3V472.5M680.0,463.2V472.3" stroke="#6a6aff" stroke-width="1.1" fill="none" opacity="0.55"/>
<path d="M532.0,464.3V475.3M533.0,463.9V471.4M534.1,458.3V469.7M535.1,457.8V470.6M536.1,460.9V471.2M537.1,458.2V468.3M538.2,456.0V468.4M539.2,454.3V466.7M540.2,456.5V466.2M541.2,452.0V463.5M542.3,448.4V462.4M543.3,448.9V455.7M544.3,446.0V459.6M545.4,445.3V459.9M546.4,450.3V460.4M547.4,445.7V457.8M548.4,453.8V461.7M549.5,449.0V461.9M550.5,450.1V465.9M551.5,455.8V464.0M552.6,455.3V465.1M553.6,453.1V467.4M554.6,453.7V464.7M555.6,454.8V464.4M556.7,452.7V465.1M557.7,461.0V466.0M558.7,459.3V465.7M559.8,456.7V469.9M560.8,459.2V465.7M561.8,463.8V468.6M562.8,458.2V471.4M563.9,458.6V470.3M564.9,459.9V473.1M565.9,458.3V470.2M566.9,458.3V471.5M568.0,460.6V468.5M569.0,459.8V471.2M570.0,465.7V471.4M571.1,463.6V474.7M572.1,463.3V473.8M573.1,464.6V470.6M574.1,465.2V471.1M575.2,467.8V473.2M576.2,466.1V476.6M577.2,467.4V476.5M578.2,469.1V475.1M579.3,467.4V476.4M580.3,466.7V476.1M581.3,465.0V474.8M582.4,466.6V478.2M583.4,467.7V478.0M584.4,469.0V476.2M585.4,472.1V476.1M586.5,471.3V476.7M587.5,471.4V475.7M588.5,467.9V477.7M589.6,469.2V478.8M590.6,468.9V474.5M591.6,467.0V478.1M592.6,468.8V475.2M593.7,467.0V474.7M594.7,466.1V474.9M595.7,463.9V476.2M596.8,465.1V476.4M597.8,467.3V472.6M598.8,462.9V474.7M599.8,465.6V471.6M600.9,459.5V471.5M601.9,461.3V471.8M602.9,462.8V468.7M603.9,450.4V456.8M605.0,439.9V457.9M606.0,439.9V446.8M607.0,428.9V439.1M608.1,421.9V445.2M609.1,418.5V438.6M610.1,420.5V438.2M611.1,418.1V434.6M612.2,418.3V436.6M613.2,419.2V435.6M614.2,417.6V427.8M615.2,410.1V424.1M616.3,402.6V419.3M617.3,395.1V416.6M618.3,405.2V423.0M619.4,396.7V422.2M620.4,401.2V427.1M621.4,403.8V428.4M622.4,412.9V430.5M623.5,415.4V431.4M624.5,417.8V427.3M625.5,416.2V431.4M626.6,410.3V433.7M627.6,415.8V431.0M628.6,412.4V427.1M629.6,417.2V429.1M630.7,414.6V434.6M631.7,414.5V432.4M632.7,421.6V431.1M633.8,423.6V435.9M634.8,427.4V436.7M635.8,428.1V438.4M636.8,425.9V438.1M637.9,429.7V438.8M638.9,425.9V448.3M639.9,430.5V447.1M640.9,438.8V447.3M642.0,437.0V451.0M643.0,442.5V454.0M644.0,439.7V449.1M645.1,440.6V452.5M646.1,440.6V454.3M647.1,443.7V451.4M648.1,440.4V458.5M649.2,444.2V456.4M650.2,445.0V452.3M651.2,444.2V458.6M652.2,445.6V462.3M653.3,449.8V455.9M654.3,447.8V461.3M655.3,440.6V457.5M656.4,444.8V456.4M657.4,445.8V453.0M658.4,435.8V452.8M659.4,438.1V449.5M660.5,442.1V452.5M661.5,438.0V454.7M662.5,443.6V450.2M663.6,443.6V453.1M664.6,445.3V461.7M665.6,451.5V458.9M666.6,452.3V458.8M667.7,455.4V461.7M668.7,453.4V464.2M669.7,455.6V464.6M670.8,458.5V468.2M671.8,458.0V471.2M672.8,463.7V470.3M673.8,458.1V470.1M674.9,457.0V467.7M675.9,460.3V470.6M676.9,462.2V467.1M677.9,463.9V468.8M679.0,466.6V472.1M680.0,467.5V475.0" stroke="#ff7a7a" stroke-width="1.1" fill="none" opacity="0.55"/>
<polyline points="532.0,454.5 533.0,458.1 534.1,450.5 535.1,447.5 536.1,443.4 537.1,439.5 538.2,439.7 539.2,431.5 540.2,430.8 541.2,422.9 542.3,433.5 543.3,440.9 544.3,445.2 545.4,449.4 546.4,453.2 547.4,454.5 548.4,455.5 549.5,458.5 550.5,459.5 551.5,463.4 552.6,465.3 553.6,464.6 554.6,466.7 555.6,469.1 556.7,469.4 557.7,468.6 558.7,467.8 559.8,471.1 560.8,471.6 561.8,470.9 562.8,473.1 563.9,472.9 564.9,471.7 565.9,472.2 566.9,473.1 568.0,473.8 569.0,477.2 570.0,474.3 571.1,476.2 572.1,477.3 573.1,475.5 574.1,475.1 575.2,476.2 576.2,476.8 577.2,475.5 578.2,474.8 579.3,473.2 580.3,473.5 581.3,473.9 582.4,473.2 583.4,474.5 584.4,475.1 585.4,473.3 586.5,473.0 587.5,473.9 588.5,474.2 589.6,473.5 590.6,475.4 591.6,471.8 592.6,471.4 593.7,473.4 594.7,471.7 595.7,471.8 596.8,470.2 597.8,472.8 598.8,471.3 599.8,468.1 600.9,466.8 601.9,468.9 602.9,464.8 603.9,460.7 605.0,458.9 606.0,452.6 607.0,453.2 608.1,447.8 609.1,445.5 610.1,437.2 611.1,437.7 612.2,438.4 613.2,438.4 614.2,427.5 615.2,429.4 616.3,430.9 617.3,431.4 618.3,435.4 619.4,436.2 620.4,434.7 621.4,430.5 622.4,422.2 623.5,428.4 624.5,429.9 625.5,430.7 626.6,431.3 627.6,433.9 628.6,441.5 629.6,443.7 630.7,438.8 631.7,435.1 632.7,436.8 633.8,439.7 634.8,441.8 635.8,441.5 636.8,442.7 637.9,441.7 638.9,445.6 639.9,444.9 640.9,445.4 642.0,444.9 643.0,445.7 644.0,442.4 645.1,445.5 646.1,449.4 647.1,458.0 648.1,457.4 649.2,457.7 650.2,457.8 651.2,462.4 652.2,457.9 653.3,458.8 654.3,464.0 655.3,464.3 656.4,462.9 657.4,460.3 658.4,457.5 659.4,454.8 660.5,457.4 661.5,456.0 662.5,458.1 663.6,457.7 664.6,460.8 665.6,462.4 666.6,466.5 667.7,466.6 668.7,467.1 669.7,464.5 670.8,465.9 671.8,468.3 672.8,469.0 673.8,468.6 674.9,469.8 675.9,469.7 676.9,466.7 677.9,463.7 679.0,466.9 680.0,467.7" stroke="#1a1aff" stroke-width="1.1" fill="none" stroke-linejoin="round"/>
<polyline points="532.0,469.8 533.0,467.6 534.1,464.0 535.1,464.2 536.1,466.0 537.1,463.3 538.2,462.2 539.2,460.5 540.2,461.3 541.2,457.7 542.3,455.4 543.3,452.3 544.3,452.8 545.4,452.6 546.4,455.3 547.4,451.8 548.4,457.7 549.5,455.4 550.5,458.0 551.5,459.9 552.6,460.2 553.6,460.3 554.6,459.2 555.6,459.6 556.7,458.9 557.7,463.5 558.7,462.5 559.8,463.3 560.8,462.5 561.8,466.2 562.8,464.8 563.9,464.5 564.9,466.5 565.9,464.3 566.9,464.9 568.0,464.6 569.0,465.5 570.0,468.5 571.1,469.1 572.1,468.5 573.1,467.6 574.1,468.2 575.2,470.5 576.2,471.3 577.2,471.9 578.2,472.1 579.3,471.9 580.3,471.4 581.3,469.9 582.4,472.4 583.4,472.9 584.4,472.6 585.4,474.1 586.5,474.0 587.5,473.5 588.5,472.8 589.6,474.0 590.6,471.7 591.6,472.6 592.6,472.0 593.7,470.9 594.7,470.5 595.7,470.0 596.8,470.7 597.8,469.9 598.8,468.8 599.8,468.6 600.9,465.5 601.9,466.6 602.9,465.8 603.9,453.6 605.0,448.9 606.0,443.3 607.0,434.0 608.1,433.6 609.1,428.6 610.1,429.3 611.1,426.4 612.2,427.4 613.2,427.4 614.2,422.7 615.2,417.1 616.3,411.0 617.3,405.9 618.3,414.1 619.4,409.4 620.4,414.2 621.4,416.1 622.4,421.7 623.5,423.4 624.5,422.6 625.5,423.8 626.6,422.0 627.6,423.4 628.6,419.7 629.6,423.2 630.7,424.6 631.7,423.4 632.7,426.4 633.8,429.7 634.8,432.0 635.8,433.2 636.8,432.0 637.9,434.3 638.9,437.1 639.9,438.8 640.9,443.1 642.0,444.0 643.0,448.3 644.0,444.4 645.1,446.6 646.1,447.5 647.1,447.5 648.1,449.5 649.2,450.3 650.2,448.7 651.2,451.4 652.2,454.0 653.3,452.9 654.3,454.5 655.3,449.1 656.4,450.6 657.4,449.4 658.4,444.3 659.4,443.8 660.5,447.3 661.5,446.4 662.5,446.9 663.6,448.4 664.6,453.5 665.6,455.2 666.6,455.5 667.7,458.6 668.7,458.8 669.7,460.1 670.8,463.3 671.8,464.6 672.8,467.0 673.8,464.1 674.9,462.3 675.9,465.5 676.9,464.7 677.9,466.3 679.0,469.4 680.0,471.2" stroke="#ff1a1a" stroke-width="1.1" fill="none" stroke-linejoin="round"/>
<path d="M532,381.3 V479 H680" stroke="#222" stroke-width="1.3" fill="none"/>
<line x1="529" y1="479" x2="532" y2="479" stroke="#222" stroke-width="1.1"/>
<text x="529" y="481.3" font-size="8" font-weight="bold" text-anchor="end" textLength="4.2" lengthAdjust="spacingAndGlyphs">0</text>
<line x1="529" y1="454.6" x2="532" y2="454.6" stroke="#222" stroke-width="1.1"/>
<text x="529" y="456.9" font-size="8" font-weight="bold" text-anchor="end" textLength="12.6" lengthAdjust="spacingAndGlyphs">100</text>
<line x1="529" y1="430.1" x2="532" y2="430.1" stroke="#222" stroke-width="1.1"/>
<text x="529" y="432.4" font-size="8" font-weight="bold" text-anchor="end" textLength="12.6" lengthAdjust="spacingAndGlyphs">200</text>
<line x1="529" y1="405.7" x2="532" y2="405.7" stroke="#222" stroke-width="1.1"/>
<text x="529" y="408" font-size="8" font-weight="bold" text-anchor="end" textLength="12.6" lengthAdjust="spacingAndGlyphs">300</text>
<line x1="529" y1="381.3" x2="532" y2="381.3" stroke="#222" stroke-width="1.1"/>
<text x="529" y="383.6" font-size="8" font-weight="bold" text-anchor="end" textLength="12.6" lengthAdjust="spacingAndGlyphs">400</text>
<text x="618.3" y="395.2" font-size="13.1" font-weight="bold">2<tspan font-size="8.5" dy="-5">nd</tspan><tspan dy="5"> stage</tspan></text>
<text x="539.8" y="396.5" font-size="10.2" font-weight="bold" fill="#1a1aff" textLength="36.8" lengthAdjust="spacingAndGlyphs">Control</text>
<text x="540" y="408.2" font-size="10.8" font-weight="bold" font-style="italic" fill="#ff1a1a" textLength="50.2" lengthAdjust="spacingAndGlyphs">Avp-Vipr2</text>
<text x="589.9" y="403.9" font-size="6.7" font-weight="bold" font-style="italic" fill="#ff1a1a" textLength="9.9" lengthAdjust="spacingAndGlyphs">−/−</text>
<line x1="532" y1="479" x2="532" y2="481.8" stroke="#222" stroke-width="1.1"/>
<text x="532" y="487.5" font-size="8" font-weight="bold" text-anchor="middle" textLength="4.3" lengthAdjust="spacingAndGlyphs">0</text>
<line x1="569" y1="479" x2="569" y2="481.8" stroke="#222" stroke-width="1.1"/>
<text x="569" y="487.5" font-size="8" font-weight="bold" text-anchor="middle" textLength="4.3" lengthAdjust="spacingAndGlyphs">6</text>
<line x1="606" y1="479" x2="606" y2="481.8" stroke="#222" stroke-width="1.1"/>
<text x="606" y="487.5" font-size="8" font-weight="bold" text-anchor="middle" textLength="8.6" lengthAdjust="spacingAndGlyphs">12</text>
<line x1="643" y1="479" x2="643" y2="481.8" stroke="#222" stroke-width="1.1"/>
<text x="643" y="487.5" font-size="8" font-weight="bold" text-anchor="middle" textLength="8.6" lengthAdjust="spacingAndGlyphs">18</text>
<line x1="680" y1="479" x2="680" y2="481.8" stroke="#222" stroke-width="1.1"/>
<text x="680" y="487.5" font-size="8" font-weight="bold" text-anchor="middle" textLength="8.6" lengthAdjust="spacingAndGlyphs">24</text>
<text x="606.7" y="501.3" font-size="13" font-weight="bold" text-anchor="middle" textLength="114" lengthAdjust="spacingAndGlyphs">Circadian Time (h)</text>
<text transform="translate(508.8,376.7) rotate(-90)" text-anchor="middle" font-size="15.4" font-weight="bold" textLength="176" lengthAdjust="spacingAndGlyphs">Activity (counts/10 min)</text>
<rect x="74.4" y="592.6" width="19.7" height="92.4" fill="#0000ff"/>
<rect x="104.4" y="632.4" width="20" height="52.6" fill="#ff0000"/>
<rect x="154.9" y="594.1" width="19.6" height="90.9" fill="#0000ff"/>
<rect x="184.7" y="584.4" width="20.3" height="100.6" fill="#ff0000"/>
<path d="M84.2 584.4h0M84.2 591.1h0M84.2 594.9h0M84.2 602.4h0" stroke="#000" stroke-width="3.0" stroke-linecap="round"/>
<path d="M84.2,596.4 V589.6 M79.2,589.6 H89.2 M79.2,596.4 H89.2" stroke="#000" stroke-width="1.2" fill="none"/>
<path d="M114.4 616.7h0M115.4 619.7h0M112.9 624.9h0M116.4 632.4h0M112.4 638.4h0M114.4 641.4h0M115.4 645.9h0M113.4 648.2h0" stroke="#000" stroke-width="3.0" stroke-linecap="round"/>
<path d="M114.4,636.2 V627.9 M109.4,627.9 H119.4 M109.4,636.2 H119.4" stroke="#000" stroke-width="1.2" fill="none"/>
<path d="M162.7 591.1h0M167.7 591.9h0M164.7 594.1h0M165.7 597.9h0M164.7 601.6h0" stroke="#000" stroke-width="3.0" stroke-linecap="round"/>
<path d="M164.7,596.4 V591.1 M159.7,591.1 H169.7 M159.7,596.4 H169.7" stroke="#000" stroke-width="1.2" fill="none"/>
<path d="M194.8 575.4h0M197.8 578.4h0M191.8 579.9h0M199.8 581.4h0M190.8 584.4h0M196.8 587.4h0M193.8 589.6h0M198.8 591.9h0" stroke="#000" stroke-width="3.0" stroke-linecap="round"/>
<path d="M194.8,586.6 V582.1 M189.8,582.1 H199.8 M189.8,586.6 H199.8" stroke="#000" stroke-width="1.2" fill="none"/>
<path d="M64.5,533.8 V685 H215.5" stroke="#000" stroke-width="2.0" fill="none"/>
<line x1="58.5" y1="685" x2="64.5" y2="685" stroke="#000" stroke-width="2.0"/>
<text x="57" y="689.8" font-size="15.5" font-weight="bold" text-anchor="end" textLength="30.9" lengthAdjust="spacingAndGlyphs">22.5</text>
<line x1="58.5" y1="647.5" x2="64.5" y2="647.5" stroke="#000" stroke-width="2.0"/>
<text x="57" y="652.3" font-size="15.5" font-weight="bold" text-anchor="end" textLength="30.9" lengthAdjust="spacingAndGlyphs">23.0</text>
<line x1="58.5" y1="609.9" x2="64.5" y2="609.9" stroke="#000" stroke-width="2.0"/>
<text x="57" y="614.7" font-size="15.5" font-weight="bold" text-anchor="end" textLength="30.9" lengthAdjust="spacingAndGlyphs">23.5</text>
<line x1="58.5" y1="572.3" x2="64.5" y2="572.3" stroke="#000" stroke-width="2.0"/>
<text x="57" y="577.2" font-size="15.5" font-weight="bold" text-anchor="end" textLength="30.9" lengthAdjust="spacingAndGlyphs">24.0</text>
<line x1="58.5" y1="534.8" x2="64.5" y2="534.8" stroke="#000" stroke-width="2.0"/>
<text x="57" y="539.6" font-size="15.5" font-weight="bold" text-anchor="end" textLength="30.9" lengthAdjust="spacingAndGlyphs">24.5</text>
<line x1="99.2" y1="685" x2="99.2" y2="690.5" stroke="#000" stroke-width="2.0"/>
<line x1="179.7" y1="685" x2="179.7" y2="690.5" stroke="#000" stroke-width="2.0"/>
<line x1="84.1" y1="567.5" x2="114.5" y2="567.5" stroke="#000" stroke-width="2"/>
<text x="97.3" y="569.2" font-size="16" font-weight="bold" text-anchor="middle" textLength="18.2" lengthAdjust="spacingAndGlyphs">***</text>
<text x="180.5" y="564.6" font-size="14" font-weight="bold" text-anchor="middle">ns</text>
<line x1="171.1" y1="567" x2="190" y2="567" stroke="#000" stroke-width="1.6"/>
<rect x="307" y="611" width="19.9" height="74" fill="#0000ff"/>
<rect x="337" y="591.4" width="20" height="93.6" fill="#ff0000"/>
<rect x="386.9" y="595.5" width="20.1" height="89.5" fill="#0000ff"/>
<rect x="416.9" y="590.2" width="20.3" height="94.8" fill="#ff0000"/>
<path d="M316.9 594.2h0M316.9 610.8h0M315.4 611.8h0M316.9 627.3h0" stroke="#000" stroke-width="3.0" stroke-linecap="round"/>
<path d="M316.9,616 V606 M311.9,606 H321.9 M311.9,616 H321.9" stroke="#000" stroke-width="1.2" fill="none"/>
<path d="M340.0 569.1h0M347.0 567.6h0M354.0 568.4h0M347.0 572.1h0M347.0 590.9h0M343.0 614.3h0M351.0 614.8h0M347.0 621.3h0" stroke="#000" stroke-width="3.0" stroke-linecap="round"/>
<path d="M347,600.2 V582.7 M342,582.7 H352 M342,600.2 H352" stroke="#000" stroke-width="1.2" fill="none"/>
<path d="M396.9 582.7h0M396.9 591.7h0M394.9 595.2h0M397.9 598.5h0M396.9 606.2h0" stroke="#000" stroke-width="3.0" stroke-linecap="round"/>
<path d="M396.9,599.2 V591.7 M391.9,591.7 H401.9 M391.9,599.2 H401.9" stroke="#000" stroke-width="1.2" fill="none"/>
<path d="M427.0 557.6h0M427.0 564.6h0M427.0 582.2h0M427.0 592.2h0M420.0 603.5h0M427.0 603.2h0M434.0 604.0h0M427.0 618.5h0" stroke="#000" stroke-width="3.0" stroke-linecap="round"/>
<path d="M427,598.2 V582.7 M422,582.7 H432 M422,598.2 H432" stroke="#000" stroke-width="1.2" fill="none"/>
<path d="M296.6,533.5 V685 H448.5" stroke="#000" stroke-width="2.0" fill="none"/>
<line x1="290.6" y1="685" x2="296.6" y2="685" stroke="#000" stroke-width="2.0"/>
<text x="288.3" y="689.8" font-size="15.5" font-weight="bold" text-anchor="end" textLength="8.4" lengthAdjust="spacingAndGlyphs">0</text>
<line x1="290.6" y1="647.4" x2="296.6" y2="647.4" stroke="#000" stroke-width="2.0"/>
<text x="288.3" y="652.2" font-size="15.5" font-weight="bold" text-anchor="end" textLength="33.8" lengthAdjust="spacingAndGlyphs">1500</text>
<line x1="290.6" y1="609.8" x2="296.6" y2="609.8" stroke="#000" stroke-width="2.0"/>
<text x="288.3" y="614.6" font-size="15.5" font-weight="bold" text-anchor="end" textLength="33.8" lengthAdjust="spacingAndGlyphs">3000</text>
<line x1="290.6" y1="572.1" x2="296.6" y2="572.1" stroke="#000" stroke-width="2.0"/>
<text x="288.3" y="576.9" font-size="15.5" font-weight="bold" text-anchor="end" textLength="33.8" lengthAdjust="spacingAndGlyphs">4500</text>
<line x1="290.6" y1="534.5" x2="296.6" y2="534.5" stroke="#000" stroke-width="2.0"/>
<text x="288.3" y="539.3" font-size="15.5" font-weight="bold" text-anchor="end" textLength="33.8" lengthAdjust="spacingAndGlyphs">6000</text>
<line x1="332" y1="685" x2="332" y2="690.5" stroke="#000" stroke-width="2.0"/>
<line x1="411.8" y1="685" x2="411.8" y2="690.5" stroke="#000" stroke-width="2.0"/>
<text x="332.8" y="548.4" font-size="14" font-weight="bold" text-anchor="middle">ns</text>
<line x1="323.7" y1="551.5" x2="342.1" y2="551.5" stroke="#000" stroke-width="1.5"/>
<text x="413" y="548.4" font-size="14" font-weight="bold" text-anchor="middle">ns</text>
<line x1="403.8" y1="551.5" x2="422.5" y2="551.5" stroke="#000" stroke-width="1.5"/>
<text x="100.4" y="706.2" font-size="14.5" font-weight="bold" text-anchor="middle">1<tspan font-size="9" dy="-6">st</tspan><tspan dy="6"> stage</tspan></text>
<text x="181.3" y="706.2" font-size="14.5" font-weight="bold" text-anchor="middle">2<tspan font-size="9" dy="-6">nd</tspan><tspan dy="6"> stage</tspan></text>
<text x="332.5" y="706.2" font-size="14.5" font-weight="bold" text-anchor="middle">1<tspan font-size="9" dy="-6">st</tspan><tspan dy="6"> stage</tspan></text>
<text x="412.5" y="706.2" font-size="14.5" font-weight="bold" text-anchor="middle">2<tspan font-size="9" dy="-6">nd</tspan><tspan dy="6"> stage</tspan></text>
<text x="150.1" y="527.2" font-size="13" font-weight="bold" fill="#0000ff" textLength="46.2" lengthAdjust="spacingAndGlyphs">Control</text>
<text x="149.7" y="542.9" font-size="13.4" font-weight="bold" font-style="italic" fill="#ff0000" textLength="63.5" lengthAdjust="spacingAndGlyphs">Avp-Vipr2</text>
<text x="212.9" y="537.5" font-size="8.3" font-weight="bold" font-style="italic" fill="#ff0000" textLength="11.7" lengthAdjust="spacingAndGlyphs">−/−</text>
<text transform="translate(18.3,605.4) rotate(-90)" text-anchor="middle" font-size="18" font-weight="bold" textLength="85" lengthAdjust="spacingAndGlyphs">Period (h)</text>
<text transform="translate(248.3,608.7) rotate(-90)" text-anchor="middle" font-size="17.5" font-weight="bold" textLength="130" lengthAdjust="spacingAndGlyphs">Amplitude (Qp)</text>
</svg></body></html>
